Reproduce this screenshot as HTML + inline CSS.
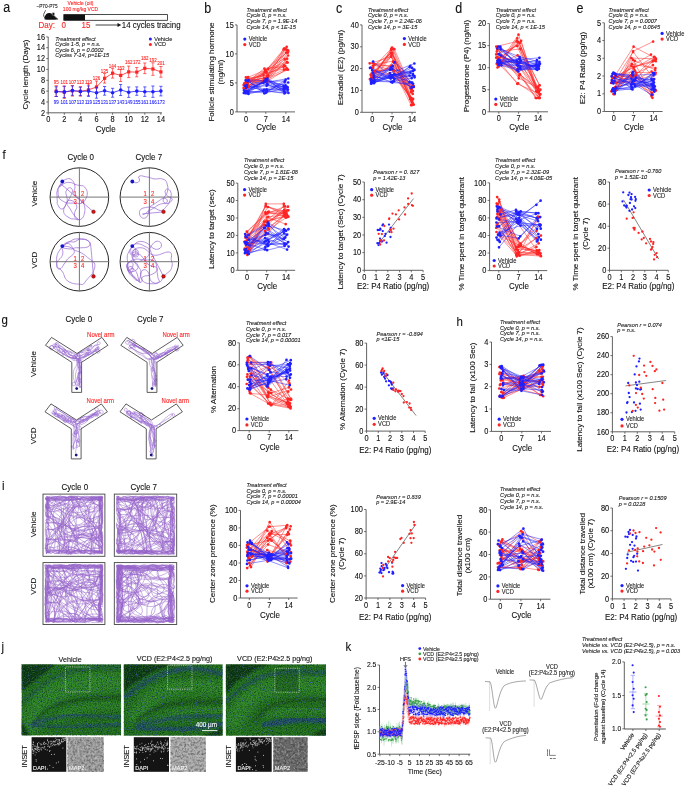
<!DOCTYPE html>
<html><head><meta charset="utf-8"><style>
html,body{margin:0;padding:0;background:#fff;width:685px;height:787px;overflow:hidden;}
svg{display:block;font-family:"Liberation Sans", sans-serif;will-change:transform;}
</style></head><body><svg width="685" height="787" viewBox="0 0 685 787" font-family='"Liberation Sans", sans-serif'><defs><filter id="blur1" x="-10%" y="-10%" width="120%" height="120%"><feGaussianBlur stdDeviation="1.2"/></filter><filter id="blur2" x="-20%" y="-20%" width="140%" height="140%"><feGaussianBlur stdDeviation="3"/></filter><clipPath id="bc1"><rect x="21.5" y="664.3" width="99.6" height="71.1"/></clipPath><filter color-interpolation-filters="sRGB" id="nz1" x="0" y="0" width="100%" height="100%"><feTurbulence type="fractalNoise" baseFrequency="0.8" numOctaves="2" seed="4" result="t"/><feColorMatrix in="t" values="0 0 0 0 0.03  0 0 0 0 0.16  0 0 0 0 0.04  1.6 0 0 0 -0.62" result="a"/><feColorMatrix in="t" values="0 0 0 0 0.25  0 0 0 0 0.62  0 0 0 0 0.2  0 1.5 0 0 -0.72" result="b"/><feMerge><feMergeNode in="a"/><feMergeNode in="b"/></feMerge></filter><filter color-interpolation-filters="sRGB" id="bz1" x="0" y="0" width="100%" height="100%"><feTurbulence type="fractalNoise" baseFrequency="0.85" numOctaves="1" seed="12"/><feColorMatrix values="0 0 0 0 0.2  0 0 0 0 0.32  0 0 0 0 0.66  0 0 4.6 0 -2.75"/></filter><clipPath id="bc2"><rect x="123.7" y="664.3" width="99" height="71.5"/></clipPath><filter color-interpolation-filters="sRGB" id="nz2" x="0" y="0" width="100%" height="100%"><feTurbulence type="fractalNoise" baseFrequency="0.8" numOctaves="2" seed="5" result="t"/><feColorMatrix in="t" values="0 0 0 0 0.03  0 0 0 0 0.16  0 0 0 0 0.04  1.6 0 0 0 -0.62" result="a"/><feColorMatrix in="t" values="0 0 0 0 0.25  0 0 0 0 0.62  0 0 0 0 0.2  0 1.5 0 0 -0.72" result="b"/><feMerge><feMergeNode in="a"/><feMergeNode in="b"/></feMerge></filter><filter color-interpolation-filters="sRGB" id="bz2" x="0" y="0" width="100%" height="100%"><feTurbulence type="fractalNoise" baseFrequency="0.85" numOctaves="1" seed="13"/><feColorMatrix values="0 0 0 0 0.2  0 0 0 0 0.32  0 0 0 0 0.66  0 0 4.6 0 -2.75"/></filter><clipPath id="bc3"><rect x="225.8" y="664.3" width="100.2" height="71.5"/></clipPath><filter color-interpolation-filters="sRGB" id="nz3" x="0" y="0" width="100%" height="100%"><feTurbulence type="fractalNoise" baseFrequency="0.8" numOctaves="2" seed="6" result="t"/><feColorMatrix in="t" values="0 0 0 0 0.03  0 0 0 0 0.16  0 0 0 0 0.04  1.6 0 0 0 -0.62" result="a"/><feColorMatrix in="t" values="0 0 0 0 0.25  0 0 0 0 0.62  0 0 0 0 0.2  0 1.5 0 0 -0.72" result="b"/><feMerge><feMergeNode in="a"/><feMergeNode in="b"/></feMerge></filter><filter color-interpolation-filters="sRGB" id="bz3" x="0" y="0" width="100%" height="100%"><feTurbulence type="fractalNoise" baseFrequency="0.85" numOctaves="1" seed="14"/><feColorMatrix values="0 0 0 0 0.2  0 0 0 0 0.32  0 0 0 0 0.66  0 0 4.6 0 -2.75"/></filter><filter color-interpolation-filters="sRGB" id="mz1" x="0" y="0" width="100%" height="100%"><feTurbulence type="fractalNoise" baseFrequency="0.45" numOctaves="3" seed="41" result="t"/><feColorMatrix in="t" values="0 0 0 0 0.1  0 0 0 0 0.1  0 0 0 0 0.1  1.0 0 0 0 -0.38" result="a"/><feColorMatrix in="t" values="0 0 0 0 0.9  0 0 0 0 0.9  0 0 0 0 0.9  0 1.0 0 0 -0.45" result="b"/><feMerge><feMergeNode in="a"/><feMergeNode in="b"/></feMerge></filter><filter color-interpolation-filters="sRGB" id="mz2" x="0" y="0" width="100%" height="100%"><feTurbulence type="fractalNoise" baseFrequency="0.45" numOctaves="3" seed="42" result="t"/><feColorMatrix in="t" values="0 0 0 0 0.1  0 0 0 0 0.1  0 0 0 0 0.1  1.0 0 0 0 -0.38" result="a"/><feColorMatrix in="t" values="0 0 0 0 0.9  0 0 0 0 0.9  0 0 0 0 0.9  0 1.0 0 0 -0.45" result="b"/><feMerge><feMergeNode in="a"/><feMergeNode in="b"/></feMerge></filter><filter color-interpolation-filters="sRGB" id="mz3" x="0" y="0" width="100%" height="100%"><feTurbulence type="fractalNoise" baseFrequency="0.45" numOctaves="3" seed="43" result="t"/><feColorMatrix in="t" values="0 0 0 0 0.1  0 0 0 0 0.1  0 0 0 0 0.1  1.0 0 0 0 -0.38" result="a"/><feColorMatrix in="t" values="0 0 0 0 0.9  0 0 0 0 0.9  0 0 0 0 0.9  0 1.0 0 0 -0.45" result="b"/><feMerge><feMergeNode in="a"/><feMergeNode in="b"/></feMerge></filter></defs><text font-size="12.5" text-anchor="start" fill="#111" stroke="#111" stroke-width="0.1" transform="translate(3.2 11.8) scale(1 1.1)">a</text>
<path d="M44.6 19.6 C44.2 16.5 46 13.2 49 13.1 C51.5 13.0 53.5 14.5 55 16.2 L58.3 19.3 C57 19.9 46 20.0 44.6 19.6 Z" stroke="none" stroke-width="0" fill="#111"/>
<path d="M45.6 10.3 C45.0 12.0 43.0 14.0 43.8 16.2 C44.2 17.3 44.8 18.0 45.5 18.3" stroke="#111" stroke-width="0.7" fill="none"/>
<circle cx="53.4" cy="14" r="1.4" fill="#111" stroke="#fff" stroke-width="0.4"/>
<path d="M54.3 16.4 L56.6 18.2" stroke="#fff" stroke-width="0.3" fill="none"/>
<text font-size="4.7" text-anchor="middle" fill="#222" stroke="#222" stroke-width="0.1" transform="translate(47 7.7) scale(1 1.1)">~P70-P75</text>
<text font-size="5" text-anchor="middle" fill="#ff2424" stroke="#ff2424" stroke-width="0.1" transform="translate(80.5 4.6) scale(1 1.1)">Vehicle (oil)</text>
<text font-size="5" text-anchor="middle" fill="#ff2424" stroke="#ff2424" stroke-width="0.1" transform="translate(80.5 10.6) scale(1 1.1)">100 mg/kg VCD</text>
<rect x="63.8" y="14.6" width="103.6" height="5.7" fill="#fff" stroke="#222" stroke-width="0.8"/>
<rect x="63.8" y="14.6" width="21.2" height="5.7" fill="#111" stroke="none" stroke-width="0.8"/>
<text font-size="8" text-anchor="start" fill="#ff2424" stroke="#ff2424" stroke-width="0.1" transform="translate(38.5 28) scale(1 1.1)">Day:</text>
<text font-size="8" text-anchor="middle" fill="#ff2424" stroke="#ff2424" stroke-width="0.1" transform="translate(63.6 28) scale(1 1.1)">0</text>
<text font-size="8" text-anchor="middle" fill="#ff2424" stroke="#ff2424" stroke-width="0.1" transform="translate(86 28) scale(1 1.1)">15</text>
<line x1="95.6" y1="25" x2="118" y2="25" stroke="#111" stroke-width="0.8"/>
<path d="M117.5 22.9 L121.3 25 L117.5 27.1 Z" stroke="none" stroke-width="0" fill="#111"/>
<text font-size="7.9" text-anchor="start" fill="#111" stroke="#111" stroke-width="0.1" transform="translate(121.8 27.9) scale(1 1.1)">14 cycles tracing</text>
<line x1="48.2" y1="36.9" x2="48.2" y2="112.8" stroke="#3a3a3a" stroke-width="0.8"/>
<line x1="46.2" y1="112.8" x2="48.2" y2="112.8" stroke="#3a3a3a" stroke-width="0.7"/>
<text font-size="7.4" text-anchor="end" fill="#111" stroke="#111" stroke-width="0.1" transform="translate(45 115.5) scale(1 1.1)">2</text>
<line x1="46.2" y1="102" x2="48.2" y2="102" stroke="#3a3a3a" stroke-width="0.7"/>
<text font-size="7.4" text-anchor="end" fill="#111" stroke="#111" stroke-width="0.1" transform="translate(45 104.6) scale(1 1.1)">4</text>
<line x1="46.2" y1="91.1" x2="48.2" y2="91.1" stroke="#3a3a3a" stroke-width="0.7"/>
<text font-size="7.4" text-anchor="end" fill="#111" stroke="#111" stroke-width="0.1" transform="translate(45 93.8) scale(1 1.1)">6</text>
<line x1="46.2" y1="80.3" x2="48.2" y2="80.3" stroke="#3a3a3a" stroke-width="0.7"/>
<text font-size="7.4" text-anchor="end" fill="#111" stroke="#111" stroke-width="0.1" transform="translate(45 82.9) scale(1 1.1)">8</text>
<line x1="46.2" y1="69.4" x2="48.2" y2="69.4" stroke="#3a3a3a" stroke-width="0.7"/>
<text font-size="7.4" text-anchor="end" fill="#111" stroke="#111" stroke-width="0.1" transform="translate(45 72.1) scale(1 1.1)">10</text>
<line x1="46.2" y1="58.6" x2="48.2" y2="58.6" stroke="#3a3a3a" stroke-width="0.7"/>
<text font-size="7.4" text-anchor="end" fill="#111" stroke="#111" stroke-width="0.1" transform="translate(45 61.2) scale(1 1.1)">12</text>
<line x1="46.2" y1="47.7" x2="48.2" y2="47.7" stroke="#3a3a3a" stroke-width="0.7"/>
<text font-size="7.4" text-anchor="end" fill="#111" stroke="#111" stroke-width="0.1" transform="translate(45 50.4) scale(1 1.1)">14</text>
<line x1="46.2" y1="36.9" x2="48.2" y2="36.9" stroke="#3a3a3a" stroke-width="0.7"/>
<text font-size="7.4" text-anchor="end" fill="#111" stroke="#111" stroke-width="0.1" transform="translate(45 39.6) scale(1 1.1)">16</text>
<line x1="48.2" y1="112.8" x2="161.9" y2="112.8" stroke="#3a3a3a" stroke-width="0.8"/>
<line x1="48.2" y1="112.8" x2="48.2" y2="114.8" stroke="#3a3a3a" stroke-width="0.7"/>
<text font-size="7.4" text-anchor="middle" fill="#111" stroke="#111" stroke-width="0.1" transform="translate(48.2 122.4) scale(1 1.1)">0</text>
<line x1="64.3" y1="112.8" x2="64.3" y2="114.8" stroke="#3a3a3a" stroke-width="0.7"/>
<text font-size="7.4" text-anchor="middle" fill="#111" stroke="#111" stroke-width="0.1" transform="translate(64.3 122.4) scale(1 1.1)">2</text>
<line x1="80.4" y1="112.8" x2="80.4" y2="114.8" stroke="#3a3a3a" stroke-width="0.7"/>
<text font-size="7.4" text-anchor="middle" fill="#111" stroke="#111" stroke-width="0.1" transform="translate(80.4 122.4) scale(1 1.1)">4</text>
<line x1="96.5" y1="112.8" x2="96.5" y2="114.8" stroke="#3a3a3a" stroke-width="0.7"/>
<text font-size="7.4" text-anchor="middle" fill="#111" stroke="#111" stroke-width="0.1" transform="translate(96.5 122.4) scale(1 1.1)">6</text>
<line x1="112.6" y1="112.8" x2="112.6" y2="114.8" stroke="#3a3a3a" stroke-width="0.7"/>
<text font-size="7.4" text-anchor="middle" fill="#111" stroke="#111" stroke-width="0.1" transform="translate(112.6 122.4) scale(1 1.1)">8</text>
<line x1="128.7" y1="112.8" x2="128.7" y2="114.8" stroke="#3a3a3a" stroke-width="0.7"/>
<text font-size="7.4" text-anchor="middle" fill="#111" stroke="#111" stroke-width="0.1" transform="translate(128.7 122.4) scale(1 1.1)">10</text>
<line x1="144.8" y1="112.8" x2="144.8" y2="114.8" stroke="#3a3a3a" stroke-width="0.7"/>
<text font-size="7.4" text-anchor="middle" fill="#111" stroke="#111" stroke-width="0.1" transform="translate(144.8 122.4) scale(1 1.1)">12</text>
<line x1="160.9" y1="112.8" x2="160.9" y2="114.8" stroke="#3a3a3a" stroke-width="0.7"/>
<text font-size="7.4" text-anchor="middle" fill="#111" stroke="#111" stroke-width="0.1" transform="translate(160.9 122.4) scale(1 1.1)">14</text>
<text font-size="8" text-anchor="middle" fill="#111" stroke="#111" stroke-width="0.1" transform="translate(105.6 132) scale(1 1.1)">Cycle</text>
<text x="27.7" y="74.5" font-size="8" text-anchor="middle" fill="#111" stroke="#111" stroke-width="0.1" transform="rotate(-90 27.7 74.5)">Cycle length (Days)</text>
<text font-size="5.6" text-anchor="start" fill="#1a1a1a" stroke="#1a1a1a" stroke-width="0.1" font-style="italic" transform="translate(55.3 40.5) scale(1 1.1)">Treatment effect</text>
<text font-size="5.6" text-anchor="start" fill="#1a1a1a" stroke="#1a1a1a" stroke-width="0.1" font-style="italic" transform="translate(55.3 46.1) scale(1 1.1)">Cycle 1-5, p = n.s.</text>
<text font-size="5.6" text-anchor="start" fill="#1a1a1a" stroke="#1a1a1a" stroke-width="0.1" font-style="italic" transform="translate(55.3 51.6) scale(1 1.1)">Cycle 6, p = 0.0002</text>
<text font-size="5.6" text-anchor="start" fill="#1a1a1a" stroke="#1a1a1a" stroke-width="0.1" font-style="italic" transform="translate(55.3 57.2) scale(1 1.1)">Cycles 7-14, p=1E-15</text>
<circle cx="150.4" cy="39" r="1.5" fill="#1f1fff"/>
<text font-size="5.6" text-anchor="start" fill="#222" stroke="#222" stroke-width="0.1" transform="translate(154.3 41) scale(1 1.1)">Vehicle</text>
<circle cx="150.4" cy="44.4" r="1.5" fill="#ff2424"/>
<text font-size="5.6" text-anchor="start" fill="#222" stroke="#222" stroke-width="0.1" transform="translate(154.3 46.4) scale(1 1.1)">VCD</text>
<path d="M56.2 91.1L64.3 92.2L72.4 90.8L80.4 91.4L88.5 89.8L96.5 87L104.6 78.3L112.6 73.2L120.7 75.4L128.7 71.9L136.8 72.1L144.8 68.3L152.9 69L160.9 71.9" stroke="#ff2424" stroke-width="0.8" fill="none"/>
<line x1="56.2" y1="96.5" x2="56.2" y2="85.7" stroke="#ff2424" stroke-width="0.7"/>
<line x1="54.6" y1="96.5" x2="57.9" y2="96.5" stroke="#ff2424" stroke-width="0.7"/>
<line x1="54.6" y1="85.7" x2="57.9" y2="85.7" stroke="#ff2424" stroke-width="0.7"/>
<rect x="54.6" y="89.5" width="3.2" height="3.2" fill="#ff2424" stroke="none" stroke-width="0.8"/>
<line x1="64.3" y1="98.4" x2="64.3" y2="86" stroke="#ff2424" stroke-width="0.7"/>
<line x1="62.7" y1="98.4" x2="65.9" y2="98.4" stroke="#ff2424" stroke-width="0.7"/>
<line x1="62.7" y1="86" x2="65.9" y2="86" stroke="#ff2424" stroke-width="0.7"/>
<rect x="62.7" y="90.6" width="3.2" height="3.2" fill="#ff2424" stroke="none" stroke-width="0.8"/>
<line x1="72.4" y1="96.1" x2="72.4" y2="85.6" stroke="#ff2424" stroke-width="0.7"/>
<line x1="70.8" y1="96.1" x2="74" y2="96.1" stroke="#ff2424" stroke-width="0.7"/>
<line x1="70.8" y1="85.6" x2="74" y2="85.6" stroke="#ff2424" stroke-width="0.7"/>
<rect x="70.8" y="89.2" width="3.2" height="3.2" fill="#ff2424" stroke="none" stroke-width="0.8"/>
<line x1="80.4" y1="96.1" x2="80.4" y2="86.7" stroke="#ff2424" stroke-width="0.7"/>
<line x1="78.8" y1="96.1" x2="82" y2="96.1" stroke="#ff2424" stroke-width="0.7"/>
<line x1="78.8" y1="86.7" x2="82" y2="86.7" stroke="#ff2424" stroke-width="0.7"/>
<rect x="78.8" y="89.8" width="3.2" height="3.2" fill="#ff2424" stroke="none" stroke-width="0.8"/>
<line x1="88.5" y1="95.6" x2="88.5" y2="83.9" stroke="#ff2424" stroke-width="0.7"/>
<line x1="86.9" y1="95.6" x2="90" y2="95.6" stroke="#ff2424" stroke-width="0.7"/>
<line x1="86.9" y1="83.9" x2="90" y2="83.9" stroke="#ff2424" stroke-width="0.7"/>
<rect x="86.9" y="88.2" width="3.2" height="3.2" fill="#ff2424" stroke="none" stroke-width="0.8"/>
<line x1="96.5" y1="93.1" x2="96.5" y2="81" stroke="#ff2424" stroke-width="0.7"/>
<line x1="94.9" y1="93.1" x2="98.1" y2="93.1" stroke="#ff2424" stroke-width="0.7"/>
<line x1="94.9" y1="81" x2="98.1" y2="81" stroke="#ff2424" stroke-width="0.7"/>
<rect x="94.9" y="85.4" width="3.2" height="3.2" fill="#ff2424" stroke="none" stroke-width="0.8"/>
<line x1="104.6" y1="83.1" x2="104.6" y2="73.4" stroke="#ff2424" stroke-width="0.7"/>
<line x1="103" y1="83.1" x2="106.2" y2="83.1" stroke="#ff2424" stroke-width="0.7"/>
<line x1="103" y1="73.4" x2="106.2" y2="73.4" stroke="#ff2424" stroke-width="0.7"/>
<rect x="103" y="76.7" width="3.2" height="3.2" fill="#ff2424" stroke="none" stroke-width="0.8"/>
<line x1="112.6" y1="78.1" x2="112.6" y2="68.3" stroke="#ff2424" stroke-width="0.7"/>
<line x1="111" y1="78.1" x2="114.2" y2="78.1" stroke="#ff2424" stroke-width="0.7"/>
<line x1="111" y1="68.3" x2="114.2" y2="68.3" stroke="#ff2424" stroke-width="0.7"/>
<rect x="111" y="71.6" width="3.2" height="3.2" fill="#ff2424" stroke="none" stroke-width="0.8"/>
<line x1="120.7" y1="81.5" x2="120.7" y2="69.3" stroke="#ff2424" stroke-width="0.7"/>
<line x1="119.1" y1="81.5" x2="122.2" y2="81.5" stroke="#ff2424" stroke-width="0.7"/>
<line x1="119.1" y1="69.3" x2="122.2" y2="69.3" stroke="#ff2424" stroke-width="0.7"/>
<rect x="119.1" y="73.8" width="3.2" height="3.2" fill="#ff2424" stroke="none" stroke-width="0.8"/>
<line x1="128.7" y1="77.6" x2="128.7" y2="66.1" stroke="#ff2424" stroke-width="0.7"/>
<line x1="127.1" y1="77.6" x2="130.3" y2="77.6" stroke="#ff2424" stroke-width="0.7"/>
<line x1="127.1" y1="66.1" x2="130.3" y2="66.1" stroke="#ff2424" stroke-width="0.7"/>
<rect x="127.1" y="70.3" width="3.2" height="3.2" fill="#ff2424" stroke="none" stroke-width="0.8"/>
<line x1="136.8" y1="76.8" x2="136.8" y2="67.5" stroke="#ff2424" stroke-width="0.7"/>
<line x1="135.2" y1="76.8" x2="138.3" y2="76.8" stroke="#ff2424" stroke-width="0.7"/>
<line x1="135.2" y1="67.5" x2="138.3" y2="67.5" stroke="#ff2424" stroke-width="0.7"/>
<rect x="135.2" y="70.5" width="3.2" height="3.2" fill="#ff2424" stroke="none" stroke-width="0.8"/>
<line x1="144.8" y1="73.6" x2="144.8" y2="63" stroke="#ff2424" stroke-width="0.7"/>
<line x1="143.2" y1="73.6" x2="146.4" y2="73.6" stroke="#ff2424" stroke-width="0.7"/>
<line x1="143.2" y1="63" x2="146.4" y2="63" stroke="#ff2424" stroke-width="0.7"/>
<rect x="143.2" y="66.7" width="3.2" height="3.2" fill="#ff2424" stroke="none" stroke-width="0.8"/>
<line x1="152.9" y1="75.3" x2="152.9" y2="62.8" stroke="#ff2424" stroke-width="0.7"/>
<line x1="151.3" y1="75.3" x2="154.5" y2="75.3" stroke="#ff2424" stroke-width="0.7"/>
<line x1="151.3" y1="62.8" x2="154.5" y2="62.8" stroke="#ff2424" stroke-width="0.7"/>
<rect x="151.3" y="67.4" width="3.2" height="3.2" fill="#ff2424" stroke="none" stroke-width="0.8"/>
<line x1="160.9" y1="77.2" x2="160.9" y2="66.5" stroke="#ff2424" stroke-width="0.7"/>
<line x1="159.3" y1="77.2" x2="162.5" y2="77.2" stroke="#ff2424" stroke-width="0.7"/>
<line x1="159.3" y1="66.5" x2="162.5" y2="66.5" stroke="#ff2424" stroke-width="0.7"/>
<rect x="159.3" y="70.3" width="3.2" height="3.2" fill="#ff2424" stroke="none" stroke-width="0.8"/>
<path d="M56.2 91.7L64.3 91.9L72.4 90.6L80.4 91.4L88.5 91.1L96.5 92.7L104.6 90.8L112.6 92.7L120.7 90L128.7 92.2L136.8 91.1L144.8 91.7L152.9 91.7L160.9 91.1" stroke="#1f1fff" stroke-width="0.8" fill="none"/>
<line x1="56.2" y1="96.5" x2="56.2" y2="86.8" stroke="#1f1fff" stroke-width="0.7"/>
<line x1="54.6" y1="96.5" x2="57.9" y2="96.5" stroke="#1f1fff" stroke-width="0.7"/>
<line x1="54.6" y1="86.8" x2="57.9" y2="86.8" stroke="#1f1fff" stroke-width="0.7"/>
<circle cx="56.2" cy="91.7" r="1.8" fill="#1f1fff"/>
<line x1="64.3" y1="97.5" x2="64.3" y2="86.3" stroke="#1f1fff" stroke-width="0.7"/>
<line x1="62.7" y1="97.5" x2="65.9" y2="97.5" stroke="#1f1fff" stroke-width="0.7"/>
<line x1="62.7" y1="86.3" x2="65.9" y2="86.3" stroke="#1f1fff" stroke-width="0.7"/>
<circle cx="64.3" cy="91.9" r="1.8" fill="#1f1fff"/>
<line x1="72.4" y1="95.3" x2="72.4" y2="85.9" stroke="#1f1fff" stroke-width="0.7"/>
<line x1="70.8" y1="95.3" x2="74" y2="95.3" stroke="#1f1fff" stroke-width="0.7"/>
<line x1="70.8" y1="85.9" x2="74" y2="85.9" stroke="#1f1fff" stroke-width="0.7"/>
<circle cx="72.4" cy="90.6" r="1.8" fill="#1f1fff"/>
<line x1="80.4" y1="95.6" x2="80.4" y2="87.2" stroke="#1f1fff" stroke-width="0.7"/>
<line x1="78.8" y1="95.6" x2="82" y2="95.6" stroke="#1f1fff" stroke-width="0.7"/>
<line x1="78.8" y1="87.2" x2="82" y2="87.2" stroke="#1f1fff" stroke-width="0.7"/>
<circle cx="80.4" cy="91.4" r="1.8" fill="#1f1fff"/>
<line x1="88.5" y1="96.4" x2="88.5" y2="85.9" stroke="#1f1fff" stroke-width="0.7"/>
<line x1="86.9" y1="96.4" x2="90" y2="96.4" stroke="#1f1fff" stroke-width="0.7"/>
<line x1="86.9" y1="85.9" x2="90" y2="85.9" stroke="#1f1fff" stroke-width="0.7"/>
<circle cx="88.5" cy="91.1" r="1.8" fill="#1f1fff"/>
<line x1="96.5" y1="98.2" x2="96.5" y2="87.3" stroke="#1f1fff" stroke-width="0.7"/>
<line x1="94.9" y1="98.2" x2="98.1" y2="98.2" stroke="#1f1fff" stroke-width="0.7"/>
<line x1="94.9" y1="87.3" x2="98.1" y2="87.3" stroke="#1f1fff" stroke-width="0.7"/>
<circle cx="96.5" cy="92.7" r="1.8" fill="#1f1fff"/>
<line x1="104.6" y1="95.2" x2="104.6" y2="86.5" stroke="#1f1fff" stroke-width="0.7"/>
<line x1="103" y1="95.2" x2="106.2" y2="95.2" stroke="#1f1fff" stroke-width="0.7"/>
<line x1="103" y1="86.5" x2="106.2" y2="86.5" stroke="#1f1fff" stroke-width="0.7"/>
<circle cx="104.6" cy="90.8" r="1.8" fill="#1f1fff"/>
<line x1="112.6" y1="97.2" x2="112.6" y2="88.3" stroke="#1f1fff" stroke-width="0.7"/>
<line x1="111" y1="97.2" x2="114.2" y2="97.2" stroke="#1f1fff" stroke-width="0.7"/>
<line x1="111" y1="88.3" x2="114.2" y2="88.3" stroke="#1f1fff" stroke-width="0.7"/>
<circle cx="112.6" cy="92.7" r="1.8" fill="#1f1fff"/>
<line x1="120.7" y1="95.5" x2="120.7" y2="84.5" stroke="#1f1fff" stroke-width="0.7"/>
<line x1="119.1" y1="95.5" x2="122.2" y2="95.5" stroke="#1f1fff" stroke-width="0.7"/>
<line x1="119.1" y1="84.5" x2="122.2" y2="84.5" stroke="#1f1fff" stroke-width="0.7"/>
<circle cx="120.7" cy="90" r="1.8" fill="#1f1fff"/>
<line x1="128.7" y1="97.4" x2="128.7" y2="87" stroke="#1f1fff" stroke-width="0.7"/>
<line x1="127.1" y1="97.4" x2="130.3" y2="97.4" stroke="#1f1fff" stroke-width="0.7"/>
<line x1="127.1" y1="87" x2="130.3" y2="87" stroke="#1f1fff" stroke-width="0.7"/>
<circle cx="128.7" cy="92.2" r="1.8" fill="#1f1fff"/>
<line x1="136.8" y1="95.3" x2="136.8" y2="86.9" stroke="#1f1fff" stroke-width="0.7"/>
<line x1="135.2" y1="95.3" x2="138.3" y2="95.3" stroke="#1f1fff" stroke-width="0.7"/>
<line x1="135.2" y1="86.9" x2="138.3" y2="86.9" stroke="#1f1fff" stroke-width="0.7"/>
<circle cx="136.8" cy="91.1" r="1.8" fill="#1f1fff"/>
<line x1="144.8" y1="96.4" x2="144.8" y2="86.9" stroke="#1f1fff" stroke-width="0.7"/>
<line x1="143.2" y1="96.4" x2="146.4" y2="96.4" stroke="#1f1fff" stroke-width="0.7"/>
<line x1="143.2" y1="86.9" x2="146.4" y2="86.9" stroke="#1f1fff" stroke-width="0.7"/>
<circle cx="144.8" cy="91.7" r="1.8" fill="#1f1fff"/>
<line x1="152.9" y1="97.3" x2="152.9" y2="86" stroke="#1f1fff" stroke-width="0.7"/>
<line x1="151.3" y1="97.3" x2="154.5" y2="97.3" stroke="#1f1fff" stroke-width="0.7"/>
<line x1="151.3" y1="86" x2="154.5" y2="86" stroke="#1f1fff" stroke-width="0.7"/>
<circle cx="152.9" cy="91.7" r="1.8" fill="#1f1fff"/>
<line x1="160.9" y1="95.9" x2="160.9" y2="86.3" stroke="#1f1fff" stroke-width="0.7"/>
<line x1="159.3" y1="95.9" x2="162.5" y2="95.9" stroke="#1f1fff" stroke-width="0.7"/>
<line x1="159.3" y1="86.3" x2="162.5" y2="86.3" stroke="#1f1fff" stroke-width="0.7"/>
<circle cx="160.9" cy="91.1" r="1.8" fill="#1f1fff"/>
<text font-size="5" text-anchor="middle" fill="#ff2424" stroke="#ff2424" stroke-width="0.1" transform="translate(56.2 84) scale(0.9 1.1)">95</text>
<text font-size="5" text-anchor="middle" fill="#ff2424" stroke="#ff2424" stroke-width="0.1" transform="translate(64.3 84) scale(0.9 1.1)">101</text>
<text font-size="5" text-anchor="middle" fill="#ff2424" stroke="#ff2424" stroke-width="0.1" transform="translate(72.4 84) scale(0.9 1.1)">107</text>
<text font-size="5" text-anchor="middle" fill="#ff2424" stroke="#ff2424" stroke-width="0.1" transform="translate(80.4 84) scale(0.9 1.1)">113</text>
<text font-size="5" text-anchor="middle" fill="#ff2424" stroke="#ff2424" stroke-width="0.1" transform="translate(88.5 84) scale(0.9 1.1)">119</text>
<text font-size="5" text-anchor="middle" fill="#ff2424" stroke="#ff2424" stroke-width="0.1" transform="translate(96.5 79.6) scale(0.9 1.1)">126</text>
<text font-size="5" text-anchor="middle" fill="#ff2424" stroke="#ff2424" stroke-width="0.1" transform="translate(104.6 72.6) scale(0.9 1.1)">135</text>
<text font-size="5" text-anchor="middle" fill="#ff2424" stroke="#ff2424" stroke-width="0.1" transform="translate(112.6 67.7) scale(0.9 1.1)">144</text>
<text font-size="5" text-anchor="middle" fill="#ff2424" stroke="#ff2424" stroke-width="0.1" transform="translate(120.7 70) scale(0.9 1.1)">153</text>
<text font-size="5" text-anchor="middle" fill="#ff2424" stroke="#ff2424" stroke-width="0.1" transform="translate(128.7 64.2) scale(0.9 1.1)">162</text>
<text font-size="5" text-anchor="middle" fill="#ff2424" stroke="#ff2424" stroke-width="0.1" transform="translate(136.8 64.2) scale(0.9 1.1)">172</text>
<text font-size="5" text-anchor="middle" fill="#ff2424" stroke="#ff2424" stroke-width="0.1" transform="translate(144.8 60.3) scale(0.9 1.1)">182</text>
<text font-size="5" text-anchor="middle" fill="#ff2424" stroke="#ff2424" stroke-width="0.1" transform="translate(152.9 62.4) scale(0.9 1.1)">192</text>
<text font-size="5" text-anchor="middle" fill="#ff2424" stroke="#ff2424" stroke-width="0.1" transform="translate(160.9 64.7) scale(0.9 1.1)">201</text>
<text font-size="5" text-anchor="middle" fill="#1f1fff" stroke="#1f1fff" stroke-width="0.1" transform="translate(56.2 103.6) scale(0.9 1.1)">99</text>
<text font-size="5" text-anchor="middle" fill="#1f1fff" stroke="#1f1fff" stroke-width="0.1" transform="translate(64.3 103.6) scale(0.9 1.1)">101</text>
<text font-size="5" text-anchor="middle" fill="#1f1fff" stroke="#1f1fff" stroke-width="0.1" transform="translate(72.4 103.6) scale(0.9 1.1)">107</text>
<text font-size="5" text-anchor="middle" fill="#1f1fff" stroke="#1f1fff" stroke-width="0.1" transform="translate(80.4 103.6) scale(0.9 1.1)">113</text>
<text font-size="5" text-anchor="middle" fill="#1f1fff" stroke="#1f1fff" stroke-width="0.1" transform="translate(88.5 103.6) scale(0.9 1.1)">119</text>
<text font-size="5" text-anchor="middle" fill="#1f1fff" stroke="#1f1fff" stroke-width="0.1" transform="translate(96.5 104.4) scale(0.9 1.1)">125</text>
<text font-size="5" text-anchor="middle" fill="#1f1fff" stroke="#1f1fff" stroke-width="0.1" transform="translate(104.6 104.4) scale(0.9 1.1)">131</text>
<text font-size="5" text-anchor="middle" fill="#1f1fff" stroke="#1f1fff" stroke-width="0.1" transform="translate(112.6 104.4) scale(0.9 1.1)">137</text>
<text font-size="5" text-anchor="middle" fill="#1f1fff" stroke="#1f1fff" stroke-width="0.1" transform="translate(120.7 104.4) scale(0.9 1.1)">143</text>
<text font-size="5" text-anchor="middle" fill="#1f1fff" stroke="#1f1fff" stroke-width="0.1" transform="translate(128.7 104.4) scale(0.9 1.1)">149</text>
<text font-size="5" text-anchor="middle" fill="#1f1fff" stroke="#1f1fff" stroke-width="0.1" transform="translate(136.8 104.4) scale(0.9 1.1)">155</text>
<text font-size="5" text-anchor="middle" fill="#1f1fff" stroke="#1f1fff" stroke-width="0.1" transform="translate(144.8 104.4) scale(0.9 1.1)">161</text>
<text font-size="5" text-anchor="middle" fill="#1f1fff" stroke="#1f1fff" stroke-width="0.1" transform="translate(152.9 104.4) scale(0.9 1.1)">166</text>
<text font-size="5" text-anchor="middle" fill="#1f1fff" stroke="#1f1fff" stroke-width="0.1" transform="translate(160.9 104.4) scale(0.9 1.1)">173</text>
<text font-size="12.5" text-anchor="start" fill="#111" stroke="#111" stroke-width="0.1" transform="translate(204.2 12.9) scale(1 1.1)">b</text>
<line x1="237" y1="24.9" x2="237" y2="111.9" stroke="#3a3a3a" stroke-width="0.8"/>
<line x1="235" y1="111.9" x2="237" y2="111.9" stroke="#3a3a3a" stroke-width="0.7"/>
<text font-size="7.4" text-anchor="end" fill="#111" stroke="#111" stroke-width="0.1" transform="translate(233.8 114.6) scale(1 1.1)">0</text>
<line x1="235" y1="82.9" x2="237" y2="82.9" stroke="#3a3a3a" stroke-width="0.7"/>
<text font-size="7.4" text-anchor="end" fill="#111" stroke="#111" stroke-width="0.1" transform="translate(233.8 85.6) scale(1 1.1)">5</text>
<line x1="235" y1="53.9" x2="237" y2="53.9" stroke="#3a3a3a" stroke-width="0.7"/>
<text font-size="7.4" text-anchor="end" fill="#111" stroke="#111" stroke-width="0.1" transform="translate(233.8 56.6) scale(1 1.1)">10</text>
<line x1="235" y1="24.9" x2="237" y2="24.9" stroke="#3a3a3a" stroke-width="0.7"/>
<text font-size="7.4" text-anchor="end" fill="#111" stroke="#111" stroke-width="0.1" transform="translate(233.8 27.6) scale(1 1.1)">15</text>
<line x1="237" y1="111.9" x2="295" y2="111.9" stroke="#3a3a3a" stroke-width="0.8"/>
<line x1="246.1" y1="111.9" x2="246.1" y2="113.9" stroke="#3a3a3a" stroke-width="0.7"/>
<text font-size="7.4" text-anchor="middle" fill="#111" stroke="#111" stroke-width="0.1" transform="translate(246.1 121.5) scale(1 1.1)">0</text>
<line x1="265.8" y1="111.9" x2="265.8" y2="113.9" stroke="#3a3a3a" stroke-width="0.7"/>
<text font-size="7.4" text-anchor="middle" fill="#111" stroke="#111" stroke-width="0.1" transform="translate(265.8 121.5) scale(1 1.1)">7</text>
<line x1="285.9" y1="111.9" x2="285.9" y2="113.9" stroke="#3a3a3a" stroke-width="0.7"/>
<text font-size="7.4" text-anchor="middle" fill="#111" stroke="#111" stroke-width="0.1" transform="translate(285.9 121.5) scale(1 1.1)">14</text>
<text font-size="8" text-anchor="middle" fill="#111" stroke="#111" stroke-width="0.1" transform="translate(266.3 130.2) scale(1 1.1)">Cycle</text>
<text x="213.6" y="72" font-size="8" text-anchor="middle" fill="#111" stroke="#111" stroke-width="0.1" transform="rotate(-90 213.6 72)">Follicle stimulating hormone</text>
<text x="222.6" y="72" font-size="8" text-anchor="middle" fill="#111" stroke="#111" stroke-width="0.1" transform="rotate(-90 222.6 72)">(ng/ml)</text>
<text font-size="5.6" text-anchor="start" fill="#1a1a1a" stroke="#1a1a1a" stroke-width="0.1" font-style="italic" transform="translate(246.5 11.7) scale(1 1.1)">Treatment effect</text>
<text font-size="5.6" text-anchor="start" fill="#1a1a1a" stroke="#1a1a1a" stroke-width="0.1" font-style="italic" transform="translate(246.5 17.4) scale(1 1.1)">Cycle 0, p = n.s.</text>
<text font-size="5.6" text-anchor="start" fill="#1a1a1a" stroke="#1a1a1a" stroke-width="0.1" font-style="italic" transform="translate(246.5 23.1) scale(1 1.1)">Cycle 7, p = 1.9E-14</text>
<text font-size="5.6" text-anchor="start" fill="#1a1a1a" stroke="#1a1a1a" stroke-width="0.1" font-style="italic" transform="translate(246.5 28.8) scale(1 1.1)">Cycle 14, p &lt; 1E-15</text>
<circle cx="244.8" cy="39.1" r="1.6" fill="#1f1fff"/>
<text font-size="5.7" text-anchor="start" fill="#222" stroke="#222" stroke-width="0.1" transform="translate(248.7 41.2) scale(1 1.1)">Vehicle</text>
<circle cx="244.8" cy="44.6" r="1.6" fill="#ff2424"/>
<text font-size="5.7" text-anchor="start" fill="#222" stroke="#222" stroke-width="0.1" transform="translate(248.7 46.7) scale(1 1.1)">VCD</text>
<path d="M247.9 83.5L264.7 72.2L284.4 48.3M244.9 91.4L263.5 75.1L285.2 65.9M244.2 83.3L267.8 76.6L286.7 46.8M246.5 81.6L263.4 80.5L288 69.7M248.5 81.4L266.5 82.5L287.1 58.7M248.7 87L266 81.6L288 52.6M247.2 80.9L268 69.1L286.9 61.8M248 78.5L267.3 75.6L286.3 49.6M245.5 82.5L266.4 72.8L286.6 68.2M248.1 77.2L265.2 70.2L286.3 52.7M247.9 85.2L267.1 81.4L286.4 69.4M244.7 84.6L265.8 70.7L288.1 55.5M243.6 87.9L266.7 77.7L284.2 65.3M246.9 78.5L267.8 75.2L286.8 62.4M245.7 88.7L268 68.9L285.3 49.2M245.1 83.1L265.8 80.5L287.7 50.2M248.4 81.3L264.1 78.1L284.7 59.4M245.7 88.5L265.8 72L287.7 62.6M245.9 77.4L263.4 81.6L283.5 49.4M246.5 81.3L267.3 77.5L284 69.7M243.6 85L264.4 68.5L283.5 66.8M245.8 82.5L266.6 71.9L288.3 50.9" stroke="#ff2424" stroke-width="0.5" fill="none"/>
<path d="M246.4 87.9L265.6 79.4L286.4 86.3M246.2 91.8L267.3 83.8L284.9 93M247.7 93.2L263.4 82.9L288.3 78.5M246.7 85L263.3 91L283.6 85.9M244.8 91.7L265.6 92.9L287.7 87.3M246.8 87L266.6 85.8L284.7 87.1M248.7 80L266.9 80.7L284.5 89.4M243.9 90.3L265.3 81.8L285.3 80.8M247.9 80.6L264.3 93.3L285.7 79.7M245.6 80.3L266.5 92.2L284.7 81.9M245.2 93.2L267.1 78.8L284.6 92.6M243.8 93L264.1 81.3L285.6 85.4M247.3 91.7L266.5 91.4L285.5 92.6M244.9 91.4L267.4 78.7L287.9 89.6M245.6 91.4L266.5 80.5L288.4 92.9M244.8 91.4L264.9 81.7L283.7 89.7M246.5 93.2L266.3 89.7L285.7 88.5M246 80.6L267.7 84.7L284.1 91.5M247.8 81.3L264.2 89.6L288.2 82.5M248.4 91.6L266.3 80L283.8 87.7M248.5 93.9L266.9 89.7L287.6 90.3M245 85.9L266.9 90.7L284.5 93.4" stroke="#1f1fff" stroke-width="0.5" fill="none"/>
<path d="M247.9 83.5h0M264.7 72.2h0M284.4 48.3h0M244.9 91.4h0M263.5 75.1h0M285.2 65.9h0M244.2 83.3h0M267.8 76.6h0M286.7 46.8h0M246.5 81.6h0M263.4 80.5h0M288 69.7h0M248.5 81.4h0M266.5 82.5h0M287.1 58.7h0M248.7 87h0M266 81.6h0M288 52.6h0M247.2 80.9h0M268 69.1h0M286.9 61.8h0M248 78.5h0M267.3 75.6h0M286.3 49.6h0M245.5 82.5h0M266.4 72.8h0M286.6 68.2h0M248.1 77.2h0M265.2 70.2h0M286.3 52.7h0M247.9 85.2h0M267.1 81.4h0M286.4 69.4h0M244.7 84.6h0M265.8 70.7h0M288.1 55.5h0M243.6 87.9h0M266.7 77.7h0M284.2 65.3h0M246.9 78.5h0M267.8 75.2h0M286.8 62.4h0M245.7 88.7h0M268 68.9h0M285.3 49.2h0M245.1 83.1h0M265.8 80.5h0M287.7 50.2h0M248.4 81.3h0M264.1 78.1h0M284.7 59.4h0M245.7 88.5h0M265.8 72h0M287.7 62.6h0M245.9 77.4h0M263.4 81.6h0M283.5 49.4h0M246.5 81.3h0M267.3 77.5h0M284 69.7h0M243.6 85h0M264.4 68.5h0M283.5 66.8h0M245.8 82.5h0M266.6 71.9h0M288.3 50.9h0" stroke="#ff2424" stroke-width="2.7" stroke-linecap="round"/>
<path d="M246.4 87.9h0M265.6 79.4h0M286.4 86.3h0M246.2 91.8h0M267.3 83.8h0M284.9 93h0M247.7 93.2h0M263.4 82.9h0M288.3 78.5h0M246.7 85h0M263.3 91h0M283.6 85.9h0M244.8 91.7h0M265.6 92.9h0M287.7 87.3h0M246.8 87h0M266.6 85.8h0M284.7 87.1h0M248.7 80h0M266.9 80.7h0M284.5 89.4h0M243.9 90.3h0M265.3 81.8h0M285.3 80.8h0M247.9 80.6h0M264.3 93.3h0M285.7 79.7h0M245.6 80.3h0M266.5 92.2h0M284.7 81.9h0M245.2 93.2h0M267.1 78.8h0M284.6 92.6h0M243.8 93h0M264.1 81.3h0M285.6 85.4h0M247.3 91.7h0M266.5 91.4h0M285.5 92.6h0M244.9 91.4h0M267.4 78.7h0M287.9 89.6h0M245.6 91.4h0M266.5 80.5h0M288.4 92.9h0M244.8 91.4h0M264.9 81.7h0M283.7 89.7h0M246.5 93.2h0M266.3 89.7h0M285.7 88.5h0M246 80.6h0M267.7 84.7h0M284.1 91.5h0M247.8 81.3h0M264.2 89.6h0M288.2 82.5h0M248.4 91.6h0M266.3 80h0M283.8 87.7h0M248.5 93.9h0M266.9 89.7h0M287.6 90.3h0M245 85.9h0M266.9 90.7h0M284.5 93.4h0" stroke="#1f1fff" stroke-width="2.7" stroke-linecap="round"/>
<text font-size="12.5" text-anchor="start" fill="#111" stroke="#111" stroke-width="0.1" transform="translate(336 12.9) scale(1 1.1)">c</text>
<line x1="362" y1="24.9" x2="362" y2="112.3" stroke="#3a3a3a" stroke-width="0.8"/>
<line x1="360" y1="112.3" x2="362" y2="112.3" stroke="#3a3a3a" stroke-width="0.7"/>
<text font-size="7.4" text-anchor="end" fill="#111" stroke="#111" stroke-width="0.1" transform="translate(358.8 115) scale(1 1.1)">0</text>
<line x1="360" y1="90.4" x2="362" y2="90.4" stroke="#3a3a3a" stroke-width="0.7"/>
<text font-size="7.4" text-anchor="end" fill="#111" stroke="#111" stroke-width="0.1" transform="translate(358.8 93.1) scale(1 1.1)">10</text>
<line x1="360" y1="68.6" x2="362" y2="68.6" stroke="#3a3a3a" stroke-width="0.7"/>
<text font-size="7.4" text-anchor="end" fill="#111" stroke="#111" stroke-width="0.1" transform="translate(358.8 71.3) scale(1 1.1)">20</text>
<line x1="360" y1="46.8" x2="362" y2="46.8" stroke="#3a3a3a" stroke-width="0.7"/>
<text font-size="7.4" text-anchor="end" fill="#111" stroke="#111" stroke-width="0.1" transform="translate(358.8 49.4) scale(1 1.1)">30</text>
<line x1="360" y1="24.9" x2="362" y2="24.9" stroke="#3a3a3a" stroke-width="0.7"/>
<text font-size="7.4" text-anchor="end" fill="#111" stroke="#111" stroke-width="0.1" transform="translate(358.8 27.6) scale(1 1.1)">40</text>
<line x1="362" y1="112.3" x2="416" y2="112.3" stroke="#3a3a3a" stroke-width="0.8"/>
<line x1="372.3" y1="112.3" x2="372.3" y2="114.3" stroke="#3a3a3a" stroke-width="0.7"/>
<text font-size="7.4" text-anchor="middle" fill="#111" stroke="#111" stroke-width="0.1" transform="translate(372.3 121.9) scale(1 1.1)">0</text>
<line x1="392" y1="112.3" x2="392" y2="114.3" stroke="#3a3a3a" stroke-width="0.7"/>
<text font-size="7.4" text-anchor="middle" fill="#111" stroke="#111" stroke-width="0.1" transform="translate(392 121.9) scale(1 1.1)">7</text>
<line x1="412.1" y1="112.3" x2="412.1" y2="114.3" stroke="#3a3a3a" stroke-width="0.7"/>
<text font-size="7.4" text-anchor="middle" fill="#111" stroke="#111" stroke-width="0.1" transform="translate(412.1 121.9) scale(1 1.1)">14</text>
<text font-size="8" text-anchor="middle" fill="#111" stroke="#111" stroke-width="0.1" transform="translate(392.5 130.2) scale(1 1.1)">Cycle</text>
<text x="343" y="67.5" font-size="8" text-anchor="middle" fill="#111" stroke="#111" stroke-width="0.1" transform="rotate(-90 343 67.5)">Estradiol (E2) (pg/ml)</text>
<text font-size="5.6" text-anchor="start" fill="#1a1a1a" stroke="#1a1a1a" stroke-width="0.1" font-style="italic" transform="translate(368 11.7) scale(1 1.1)">Treatment effect</text>
<text font-size="5.6" text-anchor="start" fill="#1a1a1a" stroke="#1a1a1a" stroke-width="0.1" font-style="italic" transform="translate(368 17.4) scale(1 1.1)">Cycle 0, p = n.s.</text>
<text font-size="5.6" text-anchor="start" fill="#1a1a1a" stroke="#1a1a1a" stroke-width="0.1" font-style="italic" transform="translate(368 23.1) scale(1 1.1)">Cycle 7, p = 2.24E-06</text>
<text font-size="5.6" text-anchor="start" fill="#1a1a1a" stroke="#1a1a1a" stroke-width="0.1" font-style="italic" transform="translate(368 28.8) scale(1 1.1)">Cycle 14, p = 3E-15</text>
<circle cx="404.4" cy="38.6" r="1.6" fill="#1f1fff"/>
<text font-size="5.7" text-anchor="start" fill="#222" stroke="#222" stroke-width="0.1" transform="translate(408.3 40.7) scale(1 1.1)">Vehicle</text>
<circle cx="404.4" cy="44.4" r="1.6" fill="#ff2424"/>
<text font-size="5.7" text-anchor="start" fill="#222" stroke="#222" stroke-width="0.1" transform="translate(408.3 46.5) scale(1 1.1)">VCD</text>
<path d="M372.9 72.1L394.4 49.2L411.7 89.1M374.4 71.5L392.4 53.2L411.4 98.2M372.6 68.1L393.1 76.8L413.6 86M374.4 64.4L393.5 61L410 97.5M371.3 76.9L393 48.8L412.7 93.9M372.5 82.1L391.4 55.9L411.6 100.4M373.3 77.6L389.9 73L413.1 98.9M373.1 67.6L391.3 48.7L412 105.1M370.6 74.8L391.2 56.9L411.2 100.5M369.7 63.3L390.9 66.3L411.7 101.3M374.5 79.9L393 62L411.9 102.2M374.1 71.1L391.8 69.7L413.8 87.1M372.5 79.8L391.5 54.1L412.9 91M372.6 62.7L391.2 56.5L411.2 89.7M371.6 73.5L390.1 67.9L412.3 100.8M369.9 79.2L390.9 52.8L412.6 85.3M374.2 76.1L391.1 49.9L412.8 103M372.9 65.7L391.5 53.3L410.9 92.2M371.7 75.7L391.5 65.6L410.4 88.1M371 80.3L392.1 47.6L413.8 104.6M374 64.9L393.2 66.4L410.2 99.1M374 65.1L394 70.9L411.1 105.2" stroke="#ff2424" stroke-width="0.5" fill="none"/>
<path d="M373.1 73L390.1 69.7L411.4 88M373.9 77.6L392.5 69.1L412.9 74.2M372 80.6L394.1 81.3L413.8 86.8M373.3 82.2L391.5 77.3L409.6 67.1M374.5 82.5L389.9 73.3L414.4 63.5M371.9 81.3L391 81.9L410.4 72.6M370 67.9L393.6 81.1L411.7 78.2M372.2 70.2L389.6 76.2L414.5 70M373.2 61.5L391.3 76.8L413 70.9M370.9 81.3L392.1 76.7L412.1 67.9M374 83.2L392.1 75.1L411.7 82.7M373.7 75L392.3 82.6L413.1 83.8M371.1 83L392.7 77.1L411.9 87M371.2 79.1L394.4 74.1L414.5 76.2M374.5 80.1L390.4 76.6L414.2 69.5M371.1 83.7L391.2 67.3L409.5 82.2M372.9 83L394.6 62.4L409.6 75.6M373.8 76.5L392.7 65.9L412.2 82.5M373 72.9L394.3 79L410.3 65.8M374.2 77.2L394.3 78.6L413.1 75.3M370.8 67.7L390.7 78.4L413.1 71.1M374.3 80.9L390.7 75.3L414.6 77.3" stroke="#1f1fff" stroke-width="0.5" fill="none"/>
<path d="M372.9 72.1h0M394.4 49.2h0M411.7 89.1h0M374.4 71.5h0M392.4 53.2h0M411.4 98.2h0M372.6 68.1h0M393.1 76.8h0M413.6 86h0M374.4 64.4h0M393.5 61h0M410 97.5h0M371.3 76.9h0M393 48.8h0M412.7 93.9h0M372.5 82.1h0M391.4 55.9h0M411.6 100.4h0M373.3 77.6h0M389.9 73h0M413.1 98.9h0M373.1 67.6h0M391.3 48.7h0M412 105.1h0M370.6 74.8h0M391.2 56.9h0M411.2 100.5h0M369.7 63.3h0M390.9 66.3h0M411.7 101.3h0M374.5 79.9h0M393 62h0M411.9 102.2h0M374.1 71.1h0M391.8 69.7h0M413.8 87.1h0M372.5 79.8h0M391.5 54.1h0M412.9 91h0M372.6 62.7h0M391.2 56.5h0M411.2 89.7h0M371.6 73.5h0M390.1 67.9h0M412.3 100.8h0M369.9 79.2h0M390.9 52.8h0M412.6 85.3h0M374.2 76.1h0M391.1 49.9h0M412.8 103h0M372.9 65.7h0M391.5 53.3h0M410.9 92.2h0M371.7 75.7h0M391.5 65.6h0M410.4 88.1h0M371 80.3h0M392.1 47.6h0M413.8 104.6h0M374 64.9h0M393.2 66.4h0M410.2 99.1h0M374 65.1h0M394 70.9h0M411.1 105.2h0" stroke="#ff2424" stroke-width="2.7" stroke-linecap="round"/>
<path d="M373.1 73h0M390.1 69.7h0M411.4 88h0M373.9 77.6h0M392.5 69.1h0M412.9 74.2h0M372 80.6h0M394.1 81.3h0M413.8 86.8h0M373.3 82.2h0M391.5 77.3h0M409.6 67.1h0M374.5 82.5h0M389.9 73.3h0M414.4 63.5h0M371.9 81.3h0M391 81.9h0M410.4 72.6h0M370 67.9h0M393.6 81.1h0M411.7 78.2h0M372.2 70.2h0M389.6 76.2h0M414.5 70h0M373.2 61.5h0M391.3 76.8h0M413 70.9h0M370.9 81.3h0M392.1 76.7h0M412.1 67.9h0M374 83.2h0M392.1 75.1h0M411.7 82.7h0M373.7 75h0M392.3 82.6h0M413.1 83.8h0M371.1 83h0M392.7 77.1h0M411.9 87h0M371.2 79.1h0M394.4 74.1h0M414.5 76.2h0M374.5 80.1h0M390.4 76.6h0M414.2 69.5h0M371.1 83.7h0M391.2 67.3h0M409.5 82.2h0M372.9 83h0M394.6 62.4h0M409.6 75.6h0M373.8 76.5h0M392.7 65.9h0M412.2 82.5h0M373 72.9h0M394.3 79h0M410.3 65.8h0M374.2 77.2h0M394.3 78.6h0M413.1 75.3h0M370.8 67.7h0M390.7 78.4h0M413.1 71.1h0M374.3 80.9h0M390.7 75.3h0M414.6 77.3h0" stroke="#1f1fff" stroke-width="2.7" stroke-linecap="round"/>
<text font-size="12.5" text-anchor="start" fill="#111" stroke="#111" stroke-width="0.1" transform="translate(455.3 12.9) scale(1 1.1)">d</text>
<line x1="489.4" y1="23.5" x2="489.4" y2="111.8" stroke="#3a3a3a" stroke-width="0.8"/>
<line x1="487.4" y1="111.8" x2="489.4" y2="111.8" stroke="#3a3a3a" stroke-width="0.7"/>
<text font-size="7.4" text-anchor="end" fill="#111" stroke="#111" stroke-width="0.1" transform="translate(486.2 114.5) scale(1 1.1)">0</text>
<line x1="487.4" y1="89.7" x2="489.4" y2="89.7" stroke="#3a3a3a" stroke-width="0.7"/>
<text font-size="7.4" text-anchor="end" fill="#111" stroke="#111" stroke-width="0.1" transform="translate(486.2 92.4) scale(1 1.1)">5</text>
<line x1="487.4" y1="67.7" x2="489.4" y2="67.7" stroke="#3a3a3a" stroke-width="0.7"/>
<text font-size="7.4" text-anchor="end" fill="#111" stroke="#111" stroke-width="0.1" transform="translate(486.2 70.3) scale(1 1.1)">10</text>
<line x1="487.4" y1="45.6" x2="489.4" y2="45.6" stroke="#3a3a3a" stroke-width="0.7"/>
<text font-size="7.4" text-anchor="end" fill="#111" stroke="#111" stroke-width="0.1" transform="translate(486.2 48.2) scale(1 1.1)">15</text>
<line x1="487.4" y1="23.5" x2="489.4" y2="23.5" stroke="#3a3a3a" stroke-width="0.7"/>
<text font-size="7.4" text-anchor="end" fill="#111" stroke="#111" stroke-width="0.1" transform="translate(486.2 26.2) scale(1 1.1)">20</text>
<line x1="489.4" y1="111.8" x2="548" y2="111.8" stroke="#3a3a3a" stroke-width="0.8"/>
<line x1="498.8" y1="111.8" x2="498.8" y2="113.8" stroke="#3a3a3a" stroke-width="0.7"/>
<text font-size="7.4" text-anchor="middle" fill="#111" stroke="#111" stroke-width="0.1" transform="translate(498.8 121.4) scale(1 1.1)">0</text>
<line x1="518.6" y1="111.8" x2="518.6" y2="113.8" stroke="#3a3a3a" stroke-width="0.7"/>
<text font-size="7.4" text-anchor="middle" fill="#111" stroke="#111" stroke-width="0.1" transform="translate(518.6 121.4) scale(1 1.1)">7</text>
<line x1="538.1" y1="111.8" x2="538.1" y2="113.8" stroke="#3a3a3a" stroke-width="0.7"/>
<text font-size="7.4" text-anchor="middle" fill="#111" stroke="#111" stroke-width="0.1" transform="translate(538.1 121.4) scale(1 1.1)">14</text>
<text font-size="8" text-anchor="middle" fill="#111" stroke="#111" stroke-width="0.1" transform="translate(519.1 130.2) scale(1 1.1)">Cycle</text>
<text x="468.8" y="66" font-size="8" text-anchor="middle" fill="#111" stroke="#111" stroke-width="0.1" transform="rotate(-90 468.8 66)">Progesterone (P4) (ng/ml)</text>
<text font-size="5.6" text-anchor="start" fill="#1a1a1a" stroke="#1a1a1a" stroke-width="0.1" font-style="italic" transform="translate(495.7 11.7) scale(1 1.1)">Treatment effect</text>
<text font-size="5.6" text-anchor="start" fill="#1a1a1a" stroke="#1a1a1a" stroke-width="0.1" font-style="italic" transform="translate(495.7 17.4) scale(1 1.1)">Cycle 0, p = n.s.</text>
<text font-size="5.6" text-anchor="start" fill="#1a1a1a" stroke="#1a1a1a" stroke-width="0.1" font-style="italic" transform="translate(495.7 23.1) scale(1 1.1)">Cycle 7, p = n.s.</text>
<text font-size="5.6" text-anchor="start" fill="#1a1a1a" stroke="#1a1a1a" stroke-width="0.1" font-style="italic" transform="translate(495.7 28.8) scale(1 1.1)">Cycle 14, p &lt; 1E-15</text>
<circle cx="495.8" cy="99.1" r="1.6" fill="#1f1fff"/>
<text font-size="5.7" text-anchor="start" fill="#222" stroke="#222" stroke-width="0.1" transform="translate(499.7 101.2) scale(1 1.1)">Vehicle</text>
<circle cx="495.8" cy="104.4" r="1.6" fill="#ff2424"/>
<text font-size="5.7" text-anchor="start" fill="#222" stroke="#222" stroke-width="0.1" transform="translate(499.7 106.5) scale(1 1.1)">VCD</text>
<path d="M498 63.2L518.1 83.4L539.4 97.4M496.2 54.4L517 46L538.4 92.2M497.7 60.3L516.7 63.2L536.1 87.1M497.3 49.5L518 69.9L536.2 98.1M498.5 59.7L521.1 40.8L538.3 98M500.4 64.8L520.6 68.9L536.2 91.3M497.5 67.5L516.8 41.2L537.4 92.2M500.4 60L519.7 74.5L540.4 89.7M501 56.2L519 62.9L539.9 90.3M496.8 47.8L518.8 78.3L538.3 87.8M501.2 61L516.5 70.2L535.7 97.9M496.8 51.6L520.5 48.9L539.7 85.3M499.4 58.3L519.7 43L539.5 94.7M497.8 65.2L518.5 34.7L539.6 95M496.2 57.7L517.3 83.8L540.4 94.2M500.6 62.2L518.2 42L539.5 85.4M497.6 57L520.7 61.9L536.5 91.4M498.7 59.4L519 75.6L539.8 98.1M496.7 63.7L517.6 55.4L538.1 86.8M500.5 56.1L519.9 74.4L537.7 90M496.3 46.5L516.7 41.5L536.3 87.4M498.8 66.5L517.3 38.3L538.7 92.1" stroke="#ff2424" stroke-width="0.5" fill="none"/>
<path d="M499.8 60.3L520.4 61.5L536.7 67.2M497.4 62.5L516.7 60.7L536.6 62.1M498.4 59.6L519.2 59.1L536.9 69.6M500.7 62.5L520.2 59.6L539.4 57.8M500.3 46.6L520.4 68.1L539.4 62.8M498.4 54.2L518.2 66.4L536.1 65.3M500.4 49.2L519.6 56.8L539.4 61.8M499.7 62.8L516.9 65.2L538.2 66.9M498.6 60.4L518.1 62.7L538.1 68M497.4 60.8L517.9 69.1L538.9 68.8M498.2 46.5L520.9 61L536.2 69.2M500.6 49.4L516.8 62.2L540 63.8M500.4 47.8L520.4 68.9L539.2 64.4M501.3 62.7L519.8 62.7L538.7 66.8M499.3 53.9L519.8 66.5L537 64.9M499.8 62.2L517.2 70.3L538.8 68.9M499 54.4L518.3 71.5L536 64.9M501.4 65.4L517.6 70.2L538.6 65.9M498.6 63.9L520.3 66.4L537.2 69.8M501.2 55.6L518.5 64.1L537 60.1M498.8 64.8L519.8 58L539.1 66.1M497.5 48.6L517.8 63L537 66.3" stroke="#1f1fff" stroke-width="0.5" fill="none"/>
<path d="M498 63.2h0M518.1 83.4h0M539.4 97.4h0M496.2 54.4h0M517 46h0M538.4 92.2h0M497.7 60.3h0M516.7 63.2h0M536.1 87.1h0M497.3 49.5h0M518 69.9h0M536.2 98.1h0M498.5 59.7h0M521.1 40.8h0M538.3 98h0M500.4 64.8h0M520.6 68.9h0M536.2 91.3h0M497.5 67.5h0M516.8 41.2h0M537.4 92.2h0M500.4 60h0M519.7 74.5h0M540.4 89.7h0M501 56.2h0M519 62.9h0M539.9 90.3h0M496.8 47.8h0M518.8 78.3h0M538.3 87.8h0M501.2 61h0M516.5 70.2h0M535.7 97.9h0M496.8 51.6h0M520.5 48.9h0M539.7 85.3h0M499.4 58.3h0M519.7 43h0M539.5 94.7h0M497.8 65.2h0M518.5 34.7h0M539.6 95h0M496.2 57.7h0M517.3 83.8h0M540.4 94.2h0M500.6 62.2h0M518.2 42h0M539.5 85.4h0M497.6 57h0M520.7 61.9h0M536.5 91.4h0M498.7 59.4h0M519 75.6h0M539.8 98.1h0M496.7 63.7h0M517.6 55.4h0M538.1 86.8h0M500.5 56.1h0M519.9 74.4h0M537.7 90h0M496.3 46.5h0M516.7 41.5h0M536.3 87.4h0M498.8 66.5h0M517.3 38.3h0M538.7 92.1h0" stroke="#ff2424" stroke-width="2.7" stroke-linecap="round"/>
<path d="M499.8 60.3h0M520.4 61.5h0M536.7 67.2h0M497.4 62.5h0M516.7 60.7h0M536.6 62.1h0M498.4 59.6h0M519.2 59.1h0M536.9 69.6h0M500.7 62.5h0M520.2 59.6h0M539.4 57.8h0M500.3 46.6h0M520.4 68.1h0M539.4 62.8h0M498.4 54.2h0M518.2 66.4h0M536.1 65.3h0M500.4 49.2h0M519.6 56.8h0M539.4 61.8h0M499.7 62.8h0M516.9 65.2h0M538.2 66.9h0M498.6 60.4h0M518.1 62.7h0M538.1 68h0M497.4 60.8h0M517.9 69.1h0M538.9 68.8h0M498.2 46.5h0M520.9 61h0M536.2 69.2h0M500.6 49.4h0M516.8 62.2h0M540 63.8h0M500.4 47.8h0M520.4 68.9h0M539.2 64.4h0M501.3 62.7h0M519.8 62.7h0M538.7 66.8h0M499.3 53.9h0M519.8 66.5h0M537 64.9h0M499.8 62.2h0M517.2 70.3h0M538.8 68.9h0M499 54.4h0M518.3 71.5h0M536 64.9h0M501.4 65.4h0M517.6 70.2h0M538.6 65.9h0M498.6 63.9h0M520.3 66.4h0M537.2 69.8h0M501.2 55.6h0M518.5 64.1h0M537 60.1h0M498.8 64.8h0M519.8 58h0M539.1 66.1h0M497.5 48.6h0M517.8 63h0M537 66.3h0" stroke="#1f1fff" stroke-width="2.7" stroke-linecap="round"/>
<text font-size="12.5" text-anchor="start" fill="#111" stroke="#111" stroke-width="0.1" transform="translate(576.4 12.9) scale(1 1.1)">e</text>
<line x1="604.3" y1="22.8" x2="604.3" y2="111.5" stroke="#3a3a3a" stroke-width="0.8"/>
<line x1="602.3" y1="111.5" x2="604.3" y2="111.5" stroke="#3a3a3a" stroke-width="0.7"/>
<text font-size="7.4" text-anchor="end" fill="#111" stroke="#111" stroke-width="0.1" transform="translate(601.1 114.2) scale(1 1.1)">0</text>
<line x1="602.3" y1="93.8" x2="604.3" y2="93.8" stroke="#3a3a3a" stroke-width="0.7"/>
<text font-size="7.4" text-anchor="end" fill="#111" stroke="#111" stroke-width="0.1" transform="translate(601.1 96.4) scale(1 1.1)">1</text>
<line x1="602.3" y1="76" x2="604.3" y2="76" stroke="#3a3a3a" stroke-width="0.7"/>
<text font-size="7.4" text-anchor="end" fill="#111" stroke="#111" stroke-width="0.1" transform="translate(601.1 78.7) scale(1 1.1)">2</text>
<line x1="602.3" y1="58.3" x2="604.3" y2="58.3" stroke="#3a3a3a" stroke-width="0.7"/>
<text font-size="7.4" text-anchor="end" fill="#111" stroke="#111" stroke-width="0.1" transform="translate(601.1 60.9) scale(1 1.1)">3</text>
<line x1="602.3" y1="40.5" x2="604.3" y2="40.5" stroke="#3a3a3a" stroke-width="0.7"/>
<text font-size="7.4" text-anchor="end" fill="#111" stroke="#111" stroke-width="0.1" transform="translate(601.1 43.2) scale(1 1.1)">4</text>
<line x1="602.3" y1="22.8" x2="604.3" y2="22.8" stroke="#3a3a3a" stroke-width="0.7"/>
<text font-size="7.4" text-anchor="end" fill="#111" stroke="#111" stroke-width="0.1" transform="translate(601.1 25.5) scale(1 1.1)">5</text>
<line x1="604.3" y1="111.5" x2="662.6" y2="111.5" stroke="#3a3a3a" stroke-width="0.8"/>
<line x1="613.7" y1="111.5" x2="613.7" y2="113.5" stroke="#3a3a3a" stroke-width="0.7"/>
<text font-size="7.4" text-anchor="middle" fill="#111" stroke="#111" stroke-width="0.1" transform="translate(613.7 121.1) scale(1 1.1)">0</text>
<line x1="633.5" y1="111.5" x2="633.5" y2="113.5" stroke="#3a3a3a" stroke-width="0.7"/>
<text font-size="7.4" text-anchor="middle" fill="#111" stroke="#111" stroke-width="0.1" transform="translate(633.5 121.1) scale(1 1.1)">7</text>
<line x1="653.5" y1="111.5" x2="653.5" y2="113.5" stroke="#3a3a3a" stroke-width="0.7"/>
<text font-size="7.4" text-anchor="middle" fill="#111" stroke="#111" stroke-width="0.1" transform="translate(653.5 121.1) scale(1 1.1)">14</text>
<text font-size="8" text-anchor="middle" fill="#111" stroke="#111" stroke-width="0.1" transform="translate(634 130.2) scale(1 1.1)">Cycle</text>
<text x="585.2" y="68" font-size="8" text-anchor="middle" fill="#111" stroke="#111" stroke-width="0.1" transform="rotate(-90 585.2 68)">E2: P4 Ratio (pg/ng)</text>
<text font-size="5.6" text-anchor="start" fill="#1a1a1a" stroke="#1a1a1a" stroke-width="0.1" font-style="italic" transform="translate(608.6 11.7) scale(1 1.1)">Treatment effect</text>
<text font-size="5.6" text-anchor="start" fill="#1a1a1a" stroke="#1a1a1a" stroke-width="0.1" font-style="italic" transform="translate(608.6 17.4) scale(1 1.1)">Cycle 0, p = n.s.</text>
<text font-size="5.6" text-anchor="start" fill="#1a1a1a" stroke="#1a1a1a" stroke-width="0.1" font-style="italic" transform="translate(608.6 23.1) scale(1 1.1)">Cycle 7, p = 0.0007</text>
<text font-size="5.6" text-anchor="start" fill="#1a1a1a" stroke="#1a1a1a" stroke-width="0.1" font-style="italic" transform="translate(608.6 28.8) scale(1 1.1)">Cycle 14, p = 0.0645</text>
<circle cx="662.1" cy="33.4" r="1.6" fill="#1f1fff"/>
<text font-size="5.7" text-anchor="start" fill="#222" stroke="#222" stroke-width="0.1" transform="translate(666 35.5) scale(1 1.1)">Vehicle</text>
<circle cx="662.1" cy="39.1" r="1.6" fill="#ff2424"/>
<text font-size="5.7" text-anchor="start" fill="#222" stroke="#222" stroke-width="0.1" transform="translate(666 41.2) scale(1 1.1)">VCD</text>
<path d="M615.2 87.4L633.1 82.6L651.7 92.5M611.9 80.1L634.3 66.6L655.8 61.2M614 81.6L632.3 81.9L655.4 74.2M614.6 94.2L631.4 58L656 58.9M615.4 76.9L635 70.7L652.9 94.7M611.1 83L633.5 75.9L656 90.6M614.6 90.3L636.1 72.5L655.7 72.8M615.5 76.4L632.7 81.3L651.6 71.5M615.3 75.2L633.6 46.7L655.6 58.3M613.4 94.1L633.1 51.3L653.1 41.6M611.3 91.3L632.9 59.8L652.1 95.1M612.4 90.5L631.4 65.9L651 54.6M614.7 81.2L633.1 51.9L654.2 79.1M612.1 80.6L632.9 77.4L654.8 57.4M613.7 88.1L631.8 64.2L655.4 68.2M615.8 89.7L633.6 68.4L654.2 56.9M616.1 87.7L631 75.7L651.6 96.5M615.8 83L633.4 82L652.7 61.3M614 77.4L636.1 75.4L652.5 97.8M612 76.4L631.5 75.8L652.9 65.2M611.7 82.9L634.9 60.8L655.2 70M612.4 78.1L633.7 67L653.7 60.4" stroke="#ff2424" stroke-width="0.5" fill="none"/>
<path d="M614.8 91.5L635.8 77.5L652.2 89.3M614.5 78.1L634.5 84.3L654.9 86.4M612.3 91.2L632.8 72.6L655.1 89.5M611.9 80.3L634.4 79.5L654.3 91.7M612.9 91.1L632 88.6L653 73M613.4 72.7L635.4 78.4L651.5 79.7M614.4 81.2L631.4 86.7L653.6 75.4M613.5 89.6L635.1 86L651.4 84M611.6 76.3L631 84.7L651.5 78.5M611.6 82.6L634.5 80.8L653.3 83.2M613.4 83.4L631.4 78.6L652.1 84.6M616 75.3L631.6 88.9L653.9 79.3M614.8 93.4L633.1 71.8L653.9 87.5M612.5 73.8L631.9 84.3L653.3 81M613.1 88.3L632.5 89.5L653.9 72.9M616 87.7L632.2 83.2L651.7 94.7M612.3 89.5L632.3 73.2L654 89.8M612.6 74.2L632.8 75.4L654 82.6M615 73.7L635.3 80.3L652.9 87.1M613.9 73.3L632.5 75.1L654.1 74.4M616 88.5L632.7 81.1L651.4 89.5M614.7 89.5L632.2 87.5L653.7 85.2" stroke="#1f1fff" stroke-width="0.5" fill="none"/>
<path d="M615.2 87.4h0M633.1 82.6h0M651.7 92.5h0M611.9 80.1h0M634.3 66.6h0M655.8 61.2h0M614 81.6h0M632.3 81.9h0M655.4 74.2h0M614.6 94.2h0M631.4 58h0M656 58.9h0M615.4 76.9h0M635 70.7h0M652.9 94.7h0M611.1 83h0M633.5 75.9h0M656 90.6h0M614.6 90.3h0M636.1 72.5h0M655.7 72.8h0M615.5 76.4h0M632.7 81.3h0M651.6 71.5h0M615.3 75.2h0M633.6 46.7h0M655.6 58.3h0M613.4 94.1h0M633.1 51.3h0M653.1 41.6h0M611.3 91.3h0M632.9 59.8h0M652.1 95.1h0M612.4 90.5h0M631.4 65.9h0M651 54.6h0M614.7 81.2h0M633.1 51.9h0M654.2 79.1h0M612.1 80.6h0M632.9 77.4h0M654.8 57.4h0M613.7 88.1h0M631.8 64.2h0M655.4 68.2h0M615.8 89.7h0M633.6 68.4h0M654.2 56.9h0M616.1 87.7h0M631 75.7h0M651.6 96.5h0M615.8 83h0M633.4 82h0M652.7 61.3h0M614 77.4h0M636.1 75.4h0M652.5 97.8h0M612 76.4h0M631.5 75.8h0M652.9 65.2h0M611.7 82.9h0M634.9 60.8h0M655.2 70h0M612.4 78.1h0M633.7 67h0M653.7 60.4h0" stroke="#ff2424" stroke-width="2.7" stroke-linecap="round"/>
<path d="M614.8 91.5h0M635.8 77.5h0M652.2 89.3h0M614.5 78.1h0M634.5 84.3h0M654.9 86.4h0M612.3 91.2h0M632.8 72.6h0M655.1 89.5h0M611.9 80.3h0M634.4 79.5h0M654.3 91.7h0M612.9 91.1h0M632 88.6h0M653 73h0M613.4 72.7h0M635.4 78.4h0M651.5 79.7h0M614.4 81.2h0M631.4 86.7h0M653.6 75.4h0M613.5 89.6h0M635.1 86h0M651.4 84h0M611.6 76.3h0M631 84.7h0M651.5 78.5h0M611.6 82.6h0M634.5 80.8h0M653.3 83.2h0M613.4 83.4h0M631.4 78.6h0M652.1 84.6h0M616 75.3h0M631.6 88.9h0M653.9 79.3h0M614.8 93.4h0M633.1 71.8h0M653.9 87.5h0M612.5 73.8h0M631.9 84.3h0M653.3 81h0M613.1 88.3h0M632.5 89.5h0M653.9 72.9h0M616 87.7h0M632.2 83.2h0M651.7 94.7h0M612.3 89.5h0M632.3 73.2h0M654 89.8h0M612.6 74.2h0M632.8 75.4h0M654 82.6h0M615 73.7h0M635.3 80.3h0M652.9 87.1h0M613.9 73.3h0M632.5 75.1h0M654.1 74.4h0M616 88.5h0M632.7 81.1h0M651.4 89.5h0M614.7 89.5h0M632.2 87.5h0M653.7 85.2h0" stroke="#1f1fff" stroke-width="2.7" stroke-linecap="round"/>
<text font-size="11.5" text-anchor="start" fill="#111" stroke="#111" stroke-width="0.1" transform="translate(2.6 158.7) scale(1 1.1)">f</text>
<text font-size="8" text-anchor="middle" fill="#111" stroke="#111" stroke-width="0.1" transform="translate(80.7 160.2) scale(1 1.1)">Cycle 0</text>
<text font-size="8" text-anchor="middle" fill="#111" stroke="#111" stroke-width="0.1" transform="translate(148.8 160.2) scale(1 1.1)">Cycle 7</text>
<text x="36.8" y="193.6" font-size="8" text-anchor="middle" fill="#111" stroke="#111" stroke-width="0.1" transform="rotate(-90 36.8 193.6)">Vehicle</text>
<text x="36.8" y="260.1" font-size="8" text-anchor="middle" fill="#111" stroke="#111" stroke-width="0.1" transform="rotate(-90 36.8 260.1)">VCD</text>
<path d="M62.3 181.5q0.1 2.6-0.8 3.6q-0.9 0.9-2 1.6q-1.1 0.6-0.4-0.5q0.8-1 1.4-2.1q0.6-1.2 1.5-2.1q1-0.9 2-1.7q1-0.8 2.2-1.2q1.3-0.4 2.6-0.5q1.3 0 2.4 0.8q1 0.8 1.8 1.8q0.8 1 1.2 2.2q0.5 1.3 0.7 2.5q0.2 1.3-0.1 2.6q-0.3 1.3-0.8 2.5q-0.4 1.2-0.2 2.5q0.2 1.3 1.2 2.2q0.9 0.9 1.9 1.7q1 0.8 2.2 1.4q1.2 0.5 2.2 1.3q1 0.8 1.8 1.8q0.8 1.1 1 2.3q0.2 1.3 0.6 2.6q0.3 1.2 0.3 2.5q-0.1 1.3-0.3 2.6q-0.3 1.3-0.5 2.5q-0.3 1.3-0.9 2.4q-0.6 1.2-1.6 2q-1 0.9-2.3 0.8q-1.3-0.2-2.6-0.6q-1.2-0.4-1.8-1.6q-0.5-1.1-0.6-2.4q-0.1-1.3 0.3-2.6q0.3-1.2 1-2.3q0.6-1.1 1-2.3q0.3-1.3-0.2-2.5q-0.6-1.2-1.3-2.2q-0.8-1.1-1.9-1.8q-1.1-0.7-2.4-1q-1.3-0.2-2.5 0.3q-1.2 0.5-1.5 1.7q-0.3 1.3 0.3 2.5q0.7 1.1 1.5 2.1q0.8 1 1.5 2.1q0.7 1.1 1.3 2.2q0.6 1.2 1.3 2.2q0.8 1.1 1.6 2.2q0.8 1 1.8 1.8q1.1 0.8 1.8 1.9q0.7 1.1-0.4 0.5q-1.2-0.6-2.5-0.7q-1.3-0.2-2.6-0.2q-1.3 0.1-2.4-0.6q-1.1-0.7-2.2-1.4q-1.1-0.6-2.1-1.4q-1.1-0.8-1.6-1.9q-0.6-1.2-0.6-2.5q0-1.3 0.4-2.5q0.4-1.3 1.1-2.4q0.6-1.1 1.1-2.3q0.6-1.2 0.9-2.5q0.3-1.2 0.1-2.5q-0.3-1.2-0.5-2.5q-0.3-1.3-0.7-2.6q-0.4-1.2 0-2.4q0.5-1.2 1.2-2.3q0.8-1 2.1-1.3q1.3-0.3 2.2 0.6q0.9 0.9 1 2.2q0 1.3-0.5 2.6q-0.5 1.2-1.1 2.3q-0.6 1.1-1.2 2.3q-0.6 1.2-1.3 2.3q-0.6 1.1-1.4 2.1q-0.8 1.1-1.2 2.3q-0.4 1.2-1 2.3q-0.7 1.2-1.8 1.9q-1.1 0.6-2.3 0.1q-1.2-0.6-1.7-1.8q-0.5-1.2-1.2-2.3q-0.8-1.1-0.6-2.4q0.3-1.2 0-2.5q-0.2-1.3-0.1-2.6q0.1-1.3-0.2-2.5q-0.4-1.3 0-2.5q0.3-1.3 0.6-2.5q0.4-1.3 1.3-2.3q0.9-0.9 1.9-1.7q1-0.8 2.1-1.5q1.1-0.7 2.3-1.2q1.2-0.5 2.5-0.6q1.3 0 2.6 0.1q1.3 0.1 2.5 0.7q1.1 0.7 2.3 1.2q1.2 0.4 2.5 0.7q1.2 0.2 2.5 0.3q1.3 0.2 2.6 0.4q1.3 0.3 2.1 1.3q0.8 1 1.5 2.1q0.6 1.1 0.9 2.4q0.3 1.3 0.2 2.6q-0.1 1.3-0.6 2.5q-0.5 1.2-1 2.4q-0.6 1.1-1.5 2.1q-0.8 1-1.9 1.7q-1 0.8-2.3 0.7q-1.3 0-2.6-0.2q-1.3-0.2-2.6-0.3q-1.3-0.1-2.6 0q-1.3 0.1-2.6 0q-1.3 0-2.6-0.2q-1.3-0.2-2.4-0.8q-1.1-0.7-2.2-1.3q-1.2-0.6-2.2-1.5q-0.9-0.9-1.4-2.1q-0.4-1.3-0.6-2.6q-0.1-1.3-0.1-2.6q0-1.3 0-2.6q0-1.3 0.8-2.3q0.8-1 1.3-2.2q0.4-1.2 4.5 2.3q4.1 3.5 8.2 7q4.2 3.5 8.3 7q4.1 3.6 8.2 7.1l4.1 3.5" stroke="#9462d0" stroke-width="0.7" fill="none"/>
<circle cx="79.4" cy="197.1" r="29.3" fill="none" stroke="#111" stroke-width="0.9"/>
<line x1="50.1" y1="197.1" x2="108.7" y2="197.1" stroke="#666" stroke-width="0.9"/>
<line x1="79.4" y1="167.8" x2="79.4" y2="226.4" stroke="#666" stroke-width="0.9"/>
<text font-size="5.9" text-anchor="middle" fill="#ff2424" stroke="#ff2424" stroke-width="0.1" transform="translate(75.2 195.9) scale(1 1.1)">1</text>
<text font-size="5.9" text-anchor="middle" fill="#ff2424" stroke="#ff2424" stroke-width="0.1" transform="translate(82.6 195.9) scale(1 1.1)">2</text>
<text font-size="5.9" text-anchor="middle" fill="#ff2424" stroke="#ff2424" stroke-width="0.1" transform="translate(75.2 203.6) scale(1 1.1)">3</text>
<text font-size="5.9" text-anchor="middle" fill="#ff2424" stroke="#ff2424" stroke-width="0.1" transform="translate(82.6 203.6) scale(1 1.1)">4</text>
<circle cx="62.3" cy="181.5" r="1.9" fill="#1414d0"/>
<circle cx="93.5" cy="211.8" r="1.8" fill="#e01010" stroke="#600000" stroke-width="0.5"/>
<path d="M132.3 181.5q2.3 1.3 3.6 1.3q1.3 0 2.4-0.6q1.1-0.7 1.2-2q0.1-1.3-0.7-2.3q-0.9-1 0.3-1.6q1.1-0.6 2.4-0.5q1.3 0.1 2.5 0.6q1.2 0.5 2.5 0.5q1.3 0.1 2.6 0.4q1.2 0.4 2.4 0.9q1.2 0.5 2.5 0.7q1.3 0.2 2.6 0q1.3-0.1 2.6-0.3q1.2-0.2 2.5 0.2q1.2 0.3 2.5 0.8q1.2 0.5 1.9 1.6q0.6 1.1 0.9 2.4q0.3 1.2 0.7 2.5q0.3 1.2 0.2 2.5q0 1.3-0.3 2.6q-0.3 1.2-0.9 2.4q-0.7 1.1-1.5 2.2q-0.8 1-1.4 2.1q-0.6 1.2-0.6 2.5q0 1.3 0.9 2.2q1 0.8 2.2 0.3q1.2-0.5 1.1-1.8q0-1.3-1-2.2q-1.1-0.8-2.4-0.7q-1.3 0.1-2.4 0.8q-1 0.7-2.1 1.4q-1.1 0.8-2.1 1.5q-1.1 0.8-2.2 1.5q-1 0.8-2.2 1.4q-1.2 0.5-2.2 1.4q-1 0.8-1.4 2q-0.5 1.2-0.7 2.5q-0.2 1.2-0.4 2.5q-0.2 1.3-0.7 2.5q-0.6 1.2-1.7 2q-1.1 0.7-2.3 0.6q-1.3-0.1-2.2-1q-1-0.9-1.5-2.1q-0.4-1.2-0.5-2.5q-0.1-1.3 0.6-2.4q0.7-1.1 1.8-1.7q1.2-0.6 2.5-0.8q1.3-0.2 2.5-0.5q1.3-0.2 2.6-0.2q1.3-0.1 2.6 0.1q1.3 0.2 2.5 0.7q1.2 0.5 2.3 1.2q1 0.7 2.3 1.1q1.2 0.5 2.5 0.2q1.3-0.2 2.3-1.1q0.9-0.9 1.7-1.9q0.8-1 1.7-2q0.9-0.9 1.5-2.1q0.6-1.1 1-2.3q0.4-1.2 0.7-2.5q0.3-1.3 0.6-2.6q0.3-1.2 0.1-2.5q-0.2-1.3-0.9-2.4q-0.6-1.1-1.7-1.7q-1.2-0.6-2.3 0q-1.1 0.7-1.2 2q-0.1 1.3 0.5 2.5q0.5 1.2 1.5 1.9q1.1 0.7 2.2 1.3q1.2 0.6 2.3 1.3q1.1 0.8 0.4 1.9q-0.7 1.1-1.7 2q-1 0.8-2.2 1.1q-1.3 0.4-2.6 0.3q-1.3-0.1-2.6 0q-1.3 0.1-2.5 0.5q-1.2 0.4-2.4 1q-1.2 0.6-2.1 1.5q-1 0.8-2.1 1.5q-1.1 0.7-2.2 1.3q-1.2 0.5-2.4 1.2q-1.1 0.6-2.1 1.5q-0.9 0.8-2 1.6q-1.1 0.7-2.3 0.5q-1.3-0.2 1.4-0.4q2.8-0.3 5.6-0.6q2.7-0.3 5.4-0.5q2.8-0.3 5.6-0.6l2.7-0.3" stroke="#9462d0" stroke-width="0.7" fill="none"/>
<circle cx="149.4" cy="197.1" r="29.3" fill="none" stroke="#111" stroke-width="0.9"/>
<line x1="120.1" y1="197.1" x2="178.7" y2="197.1" stroke="#666" stroke-width="0.9"/>
<line x1="149.4" y1="167.8" x2="149.4" y2="226.4" stroke="#666" stroke-width="0.9"/>
<text font-size="5.9" text-anchor="middle" fill="#ff2424" stroke="#ff2424" stroke-width="0.1" transform="translate(145.2 195.9) scale(1 1.1)">1</text>
<text font-size="5.9" text-anchor="middle" fill="#ff2424" stroke="#ff2424" stroke-width="0.1" transform="translate(152.6 195.9) scale(1 1.1)">2</text>
<text font-size="5.9" text-anchor="middle" fill="#ff2424" stroke="#ff2424" stroke-width="0.1" transform="translate(145.2 203.6) scale(1 1.1)">3</text>
<text font-size="5.9" text-anchor="middle" fill="#ff2424" stroke="#ff2424" stroke-width="0.1" transform="translate(152.6 203.6) scale(1 1.1)">4</text>
<circle cx="132.3" cy="181.5" r="1.9" fill="#1414d0"/>
<circle cx="163.5" cy="211.8" r="1.8" fill="#e01010" stroke="#600000" stroke-width="0.5"/>
<path d="M62.3 246.1q2.6 0.3 3.9 0.3q1.3 0 2.6 0.4q1.2 0.3 2.4 0.9q1.1 0.6 2 1.5q1 0.9 1.1 2.2q0.1 1.3-0.6 2.4q-0.8 1-1.9 1.8q-1 0.7-2 1.5q-1.1 0.7-2 1.7q-0.9 0.9-1.6 2.1q-0.6 1.1-1.4 2.1q-0.8 1-1.4 2.1q-0.7 1.2-1.4 2.3q-0.8 1-2 1.6q-1.1 0.6-2-0.3q-1-0.9-1-2.2q-0.1-1.3-0.1-2.6q0-1.3 0.6-2.4q0.7-1.2 1.7-2.1q0.9-0.9 1.8-1.8q0.8-1 1.3-2.2q0.5-1.2 0.6-2.5q0.1-1.3-0.3-2.6q-0.4-1.2-0.7-2.5q-0.4-1.2 0.6-2q0.9-0.9 2-1.6q1.1-0.8 2.4-0.8q1.3-0.1 2.4 0.5q1.2 0.6 1.9 1.7q0.8 1 1.3 2.2q0.6 1.2 1.5 2q1 0.9 2.3 1.1q1.3 0.3 2.5 0.7q1.2 0.5 2.3 1.2q1.1 0.7 2.2 1.4q1.2 0.6 2.2 1.5q1 0.8 2 1.7q0.9 0.8 2 1.5q1 0.8 2.1 1.5q1.1 0.6 2 1.6q0.8 1 1.2 2.2q0.3 1.3 0 2.6q-0.2 1.3-0.6 2.5q-0.5 1.2-1 2.5q-0.4 1.2-1.2 2.3q-0.8 1-1.7 1.9q-0.9 0.9-1.8 1.9q-0.9 0.9-1.7 1.9q-0.9 1-1.6 2.1q-0.6 1.1-1.5 2q-1 0.9-2.2 0.6q-1.3-0.4-2.6-0.4q-1.3 0.1-2.6-0.1q-1.3-0.1-2.6-0.4q-1.3-0.2-2.5-0.7q-1.2-0.4-2.2-1.1q-1.1-0.8-2.2-1.6q-1-0.8-1.6-2q-0.5-1.1-0.9-2.3q-0.4-1.3-0.9-2.5q-0.5-1.2-1.4-2.2q-0.8-1-1.6-2q-0.9-0.9-2.2-1.3q-1.2-0.5-1.4-1.8q-0.3-1.3-0.3-2.6q-0.1-1.3 0-2.6q0-1.3 0.1-2.6q0.1-1.3 0.4-2.5q0.2-1.3 0.8-2.5q0.5-1.2 1.3-2.2q0.9-1 1.4-2.2q0.6-1.1 1.7-1.8q1-0.8 2.1-1.5q1.1-0.7 1.9-1.7q0.9-1 2-1.5q1.2-0.6 2.3-1.3q1.1-0.7 2.3-1.3q1.1-0.6 2.4-0.8q1.3-0.2 2.6-0.2q1.3 0 2.6 0q1.3 0 2.6 0.3q1.2 0.2 2.5 0.6q1.2 0.3 2.3 1q1.1 0.6 1.8 1.7q0.6 1.2 0.2 2.4q-0.4 1.2-1.6 1.9q-1.1 0.6-2.4 0.8q-1.3 0.2-2.6 0.2q-1.3 0-2.6 0.1q-1.3 0.1-2.6 0q-1.3-0.1-2.6 0q-1.3 0.2-2.5 0.8q-1.1 0.5-2.4 0.4q-1.3-0.1-2.6-0.2q-1.3-0.2-2.6-0.4q-1.3-0.2-2.5-0.7q-1.2-0.5-0.1-1.2q1.1-0.7 1.6-1.9q0.5-1.2 1.7-1.7q1.2-0.6 2.5-1q1.2-0.3 2.5-0.1q1.3 0.2 2.6 0.2q1.3 0 2.4-0.8q1-0.7 2-1.4q1.1-0.8 2.4-0.6q1.3 0.1 2.6 0q1.3-0.1 2.5 0.2q1.3 0.4 2.4 1.2q1.1 0.7 1.9 1.7q0.8 1 1.1 5.1q0.4 4.2 0.8 8.3q0.4 4.1 0.7 8.3q0.4 4.1 0.8 8.2l0.3 4.2" stroke="#9462d0" stroke-width="0.7" fill="none"/>
<circle cx="79.4" cy="261.7" r="29.3" fill="none" stroke="#111" stroke-width="0.9"/>
<line x1="50.1" y1="261.7" x2="108.7" y2="261.7" stroke="#666" stroke-width="0.9"/>
<line x1="79.4" y1="232.4" x2="79.4" y2="291" stroke="#666" stroke-width="0.9"/>
<text font-size="5.9" text-anchor="middle" fill="#ff2424" stroke="#ff2424" stroke-width="0.1" transform="translate(75.2 260.6) scale(1 1.1)">1</text>
<text font-size="5.9" text-anchor="middle" fill="#ff2424" stroke="#ff2424" stroke-width="0.1" transform="translate(82.6 260.6) scale(1 1.1)">2</text>
<text font-size="5.9" text-anchor="middle" fill="#ff2424" stroke="#ff2424" stroke-width="0.1" transform="translate(75.2 268.2) scale(1 1.1)">3</text>
<text font-size="5.9" text-anchor="middle" fill="#ff2424" stroke="#ff2424" stroke-width="0.1" transform="translate(82.6 268.2) scale(1 1.1)">4</text>
<circle cx="62.3" cy="246.1" r="1.9" fill="#1414d0"/>
<circle cx="93.5" cy="276.4" r="1.8" fill="#e01010" stroke="#600000" stroke-width="0.5"/>
<path d="M132.3 246.1q2.2 1.4 2.9 2.5q0.6 1.1 0.7 2.4q0.2 1.3-0.5 2.4q-0.6 1.1-1.9 1.2q-1.3 0.1-1.7-1.2q-0.3-1.2 0.5-2.3q0.8-1 1.9-1.5q1.2-0.6 2.4 0q1.2 0.5 1.6 1.7q0.4 1.2-0.3 2.4q-0.6 1.1-1.7 1.8q-1.1 0.7-2.3 0.2q-1.2-0.5-1.1-1.8q0-1.3 1.2-1.8q1.2-0.5 2.4-0.2q1.3 0.4 1.8 1.5q0.6 1.2 0 2.4q-0.7 1.1-2 1.2q-1.3 0.2-2.4-0.4q-1.1-0.7-2.2-1.5q-1-0.8-1.5-2q-0.5-1.2 0-2.3q0.6-1.2 1-2.5q0.4-1.2 1.2-2.2q0.8-1 1.9-1.7q1.2-0.6 2.5-0.6q1.3-0.1 2.5 0.1q1.3 0.2 2.5 0.8q1.1 0.6 2.2 1.2q1.2 0.7 2.4 1.1q1.2 0.4 2 1.4q0.9 1.1 1.1 2.4q0.2 1.2-0.1 2.5q-0.2 1.3-1 2.4q-0.7 1.1-1.7 1.9q-1.1 0.7-2.3 1.3q-1.1 0.5-2.2 1.2q-1.2 0.7-2.3 1.2q-1.2 0.5-2.5 0.5q-1.3 0-2.4-0.7q-1.1-0.7-1.8-1.7q-0.8-1.1-1-2.4q-0.3-1.3 0-2.6q0.2-1.2 0.7-2.4q0.5-1.2 1.4-2.1q1-0.9 2.1-1.5q1.2-0.5 2.5-0.6q1.3-0.1 2.6 0q1.3 0.1 2.5 0.6q1.2 0.5 2.2 1.3q1.1 0.7 1.9 1.7q0.8 1.1 1.8 1.9q0.9 0.9 2.1 1.4q1.3 0.5 2.6 0.5q1.3 0.1 2.6 0q1.2-0.2 2.5-0.6q1.2-0.4 2.4-0.9q1.2-0.5 2.4-0.9q1.2-0.5 2.5-0.7q1.3-0.2 2.6 0q1.3 0.1 1.7 1.3q0.5 1.2 0.4 2.5q-0.2 1.3-0.4 2.6q-0.1 1.3 0.4 2.5q0.5 1.2 0.6 2.5q0.2 1.3-0.1 2.6q-0.4 1.2-0.8 2.5q-0.3 1.2-1.2 2.2q-0.9 0.9-2 1.6q-1 0.8-2 1.6q-0.9 0.9-1.8 1.9q-0.8 1.1-1.5 2.2q-0.6 1.1-1.2 2.3q-0.6 1.1-1.8 1.6q-1.2 0.5-2.4 1.1q-1.2 0.5-2.5 0.6q-1.3 0.1-2.6 0.1q-1.3-0.1-2.6-0.2q-1.3-0.1-2.5-0.3q-1.3-0.2-2.4-0.8q-1.2-0.7-2.1-1.6q-0.9-1-0.8-2.3q0-1.3 1.2-2q1.1-0.6 2.4-0.7q1.3-0.1 2.6-0.3q1.2-0.2 2.5-0.7q1.2-0.4 2.3-1q1.1-0.7 2.2-1.4q1.1-0.7 1.8-1.8q0.7-1.1 0.2-2.3q-0.6-1.2-1.8-1.6q-1.2-0.4-2.5-0.5q-1.3-0.1-2.5-0.7q-1.1-0.6-2.2-1.4q-1-0.8-2-1.7q-0.9-0.9-1.5-2.1q-0.5-1.2-1.3-2.2q-0.8-1-1.6-2q-0.9-1-2-1.7q-1.1-0.7-2.4-0.7q-1.3-0.1-2.4 0.6q-1.1 0.7-1.7 1.8q-0.5 1.2-0.2 2.5q0.3 1.3 0.9 2.4q0.7 1.1 1.4 2.1q0.8 1.1 1.6 2.1q0.9 1 1.8 1.9q0.9 1 1.5 2.1q0.7 1.1 0.8 2.4q0.1 1.3-0.1 2.6q-0.2 1.3-0.6 2.6q-0.3 1.2-0.9 2.3q-0.5 1.2-1.8 1.3q-1.3 0.2-2.2-0.7q-0.9-1-1.8-1.9q-0.9-1-1.3-2.2q-0.4-1.2-0.9-2.5q-0.4-1.2-1.1-2.3q-0.6-1.1-1.7-1.9q-1-0.8-1.3-2.1q-0.3-1.2 0.2-2.4q0.5-1.2 1.4-2.1q1-0.9 2-1.6q1-0.8 2.3-1q1.3-0.3 2.6-0.6q1.3-0.2 2.5-0.1q1.3 0.2 2.6 0.5q1.3 0.3 2.6 0.3q1.3 0.1 2.6 0.1q1.3 0 2.6-0.1q1.3-0.1 2.5 0q1.3 0.1 2.4 0.9q1 0.8 1.8 1.8q0.8 1 1 2.3q0.3 1.3 0.4 2.6q0.1 1.3 0.2 2.6q0.1 1.3 0.2 2.6q0.2 1.3 0.4 2.5q0.1 1.3 0.4 2.6q0.3 1.3 1.1 2.3q0.7 1.1-0.2 2q-1 0.9-2.3 1q-1.3 0.2-2.5-0.1q-1.3-0.4-2.2-1.2q-1-0.9-1.6-2.1q-0.6-1.2-0.7-2.5q-0.2-1.2-0.4-2.5q-0.3-1.3-1-2.4q-0.7-1.1-1.7-1.9q-1-0.8-2.3-0.7q-1.3 0.1-2.2 1q-0.9 0.9-1.3 2.2q-0.4 1.2-0.1 2.5q0.2 1.2 0.6 2.5q0.4 1.2 0.7 2.5q0.4 1.2-0.7 1.9q-1.1 0.7-2-0.2q-0.8-1-1.6-2q-0.8-1-1.8-1.8q-1.1-0.8-2.2-1.5q-1.1-0.7-2.3-1.2q-1.1-0.6-1.8-1.7q-0.7-1.2-0.8-2.5q-0.1-1.3 0.9-2q1.1-0.8 2.4-0.8q1.3 0.1 2.3 0.9q1 0.9 1.7 2q0.7 1.1 1.1 2.3q0.5 1.2 0.7 2.5q0.3 1.3 0.8 2.5q0.6 1.2 1.2 2.3q0.6 1.2-0.6 0.5q-1.1-0.7-2.1-1.5q-1-0.7-1.8-1.7q-0.8-1.1-1.5-2.2q-0.8-1-1.8-1.8q-1-0.9-2.2-1.5q-1.1-0.6-1.7-1.8q-0.5-1.1-0.8-2.4q-0.2-1.3-0.3-2.6q0-1.3 0.6-2.5q0.6-1.1 1.7-1.7q1.2-0.6 2.5-0.5q1.3 0 2.5 0.5q1.2 0.5 2.2 1.3q1 0.9 1.4 2.1q0.5 1.2 0.1 2.5q-0.4 1.2-1.4 2q-1 0.8-2.2 1.3q-1.2 0.6-2.5 0.7q-1.3 0.1-2.4-0.6q-1.1-0.7-1.3-2q-0.3-1.3 0.7-2.1q0.9-0.8 2.2-0.5q1.2 0.4 1.8 1.5q0.7 1.2 0.1 2.4q-0.6 1.1-1.6 1.9q-1.1 0.7-2.1-0.2q-1-0.8-1.3-2.1q-0.3-1.2-0.9-2.3q-0.6-1.2-0.4-2.5q0.2-1.3 1.1-2.2q0.9-1 2.2-1.2q1.3-0.2 2.2 0.6q1 0.9 0.9 2.2q-0.1 1.3-0.6 2.5q-0.5 1.2-1.3 2.2q-0.7 1.1-2 1.5q-1.2 0.3-1.2-1q-0.1-1.3-0.1-2.6q0-1.3 0.1-2.6q0-1.3-0.3-2.6q-0.3-1.2-0.4-2.5q-0.1-1.3-0.1-2.6q0-1.3 0.4-2.6q0.4-1.2 1.1-2.3q0.6-1.1 1.2-2.3q0.6-1.1 1.4-2.1q0.9-1 1.8-1.9q1-0.9 1.9-1.9q0.9-0.9 2.1-1.6q1.1-0.6 2.3-0.8q1.3-0.2 2.6 0q1.3 0.2 2.6 0.6q1.2 0.4 2.3 1q1.2 0.6 2 1.5q0.9 1 2 1.8q1 0.9 2 1.7q1 0.7 2.3 1.1q1.3 0.3 2.6 0q1.2-0.2 2.3-1q1-0.7 1.2-2q0.3-1.3-0.1-2.5q-0.4-1.2-1.5-1.9q-1.2-0.6-2.5-0.6q-1.3 0.1-2.4 0.9q-1.1 0.7-1.9 1.7q-0.8 1-1.5 2.1q-0.6 1.2-1.3 2.2q-0.7 1.1 1.1 4.5q1.7 3.4 3.5 6.8q1.7 3.4 3.5 6.8q1.8 3.4 3.6 6.8l1.7 3.4" stroke="#9462d0" stroke-width="0.7" fill="none"/>
<circle cx="149.4" cy="261.7" r="29.3" fill="none" stroke="#111" stroke-width="0.9"/>
<line x1="120.1" y1="261.7" x2="178.7" y2="261.7" stroke="#666" stroke-width="0.9"/>
<line x1="149.4" y1="232.4" x2="149.4" y2="291" stroke="#666" stroke-width="0.9"/>
<text font-size="5.9" text-anchor="middle" fill="#ff2424" stroke="#ff2424" stroke-width="0.1" transform="translate(145.2 260.6) scale(1 1.1)">1</text>
<text font-size="5.9" text-anchor="middle" fill="#ff2424" stroke="#ff2424" stroke-width="0.1" transform="translate(152.6 260.6) scale(1 1.1)">2</text>
<text font-size="5.9" text-anchor="middle" fill="#ff2424" stroke="#ff2424" stroke-width="0.1" transform="translate(145.2 268.2) scale(1 1.1)">3</text>
<text font-size="5.9" text-anchor="middle" fill="#ff2424" stroke="#ff2424" stroke-width="0.1" transform="translate(152.6 268.2) scale(1 1.1)">4</text>
<circle cx="132.3" cy="246.1" r="1.9" fill="#1414d0"/>
<circle cx="163.5" cy="276.4" r="1.8" fill="#e01010" stroke="#600000" stroke-width="0.5"/>
<line x1="237.8" y1="183.1" x2="237.8" y2="270.3" stroke="#3a3a3a" stroke-width="0.8"/>
<line x1="235.8" y1="270.3" x2="237.8" y2="270.3" stroke="#3a3a3a" stroke-width="0.7"/>
<text font-size="7.4" text-anchor="end" fill="#111" stroke="#111" stroke-width="0.1" transform="translate(234.6 273) scale(1 1.1)">0</text>
<line x1="235.8" y1="252.9" x2="237.8" y2="252.9" stroke="#3a3a3a" stroke-width="0.7"/>
<text font-size="7.4" text-anchor="end" fill="#111" stroke="#111" stroke-width="0.1" transform="translate(234.6 255.5) scale(1 1.1)">10</text>
<line x1="235.8" y1="235.4" x2="237.8" y2="235.4" stroke="#3a3a3a" stroke-width="0.7"/>
<text font-size="7.4" text-anchor="end" fill="#111" stroke="#111" stroke-width="0.1" transform="translate(234.6 238.1) scale(1 1.1)">20</text>
<line x1="235.8" y1="218" x2="237.8" y2="218" stroke="#3a3a3a" stroke-width="0.7"/>
<text font-size="7.4" text-anchor="end" fill="#111" stroke="#111" stroke-width="0.1" transform="translate(234.6 220.6) scale(1 1.1)">30</text>
<line x1="235.8" y1="200.5" x2="237.8" y2="200.5" stroke="#3a3a3a" stroke-width="0.7"/>
<text font-size="7.4" text-anchor="end" fill="#111" stroke="#111" stroke-width="0.1" transform="translate(234.6 203.2) scale(1 1.1)">40</text>
<line x1="235.8" y1="183.1" x2="237.8" y2="183.1" stroke="#3a3a3a" stroke-width="0.7"/>
<text font-size="7.4" text-anchor="end" fill="#111" stroke="#111" stroke-width="0.1" transform="translate(234.6 185.8) scale(1 1.1)">50</text>
<line x1="237.8" y1="270.3" x2="295.2" y2="270.3" stroke="#3a3a3a" stroke-width="0.8"/>
<line x1="247" y1="270.3" x2="247" y2="272.3" stroke="#3a3a3a" stroke-width="0.7"/>
<text font-size="7.4" text-anchor="middle" fill="#111" stroke="#111" stroke-width="0.1" transform="translate(247 279.9) scale(1 1.1)">0</text>
<line x1="266.7" y1="270.3" x2="266.7" y2="272.3" stroke="#3a3a3a" stroke-width="0.7"/>
<text font-size="7.4" text-anchor="middle" fill="#111" stroke="#111" stroke-width="0.1" transform="translate(266.7 279.9) scale(1 1.1)">7</text>
<line x1="286" y1="270.3" x2="286" y2="272.3" stroke="#3a3a3a" stroke-width="0.7"/>
<text font-size="7.4" text-anchor="middle" fill="#111" stroke="#111" stroke-width="0.1" transform="translate(286 279.9) scale(1 1.1)">14</text>
<text font-size="8" text-anchor="middle" fill="#111" stroke="#111" stroke-width="0.1" transform="translate(267.2 289.2) scale(1 1.1)">Cycle</text>
<text x="214" y="229.2" font-size="8" text-anchor="middle" fill="#111" stroke="#111" stroke-width="0.1" transform="rotate(-90 214 229.2)">Latency to target (sec)</text>
<text font-size="5.6" text-anchor="start" fill="#1a1a1a" stroke="#1a1a1a" stroke-width="0.1" font-style="italic" transform="translate(244 162.4) scale(1 1.1)">Treatment effect</text>
<text font-size="5.6" text-anchor="start" fill="#1a1a1a" stroke="#1a1a1a" stroke-width="0.1" font-style="italic" transform="translate(244 168.1) scale(1 1.1)">Cycle 0, p = n.s.</text>
<text font-size="5.6" text-anchor="start" fill="#1a1a1a" stroke="#1a1a1a" stroke-width="0.1" font-style="italic" transform="translate(244 173.8) scale(1 1.1)">Cycle 7, p = 1.81E-08</text>
<text font-size="5.6" text-anchor="start" fill="#1a1a1a" stroke="#1a1a1a" stroke-width="0.1" font-style="italic" transform="translate(244 179.5) scale(1 1.1)">Cycle 14, p = 2E-15</text>
<circle cx="244.6" cy="189.6" r="1.6" fill="#1f1fff"/>
<text font-size="5.7" text-anchor="start" fill="#222" stroke="#222" stroke-width="0.1" transform="translate(248.5 191.7) scale(1 1.1)">Vehicle</text>
<circle cx="244.6" cy="195.1" r="1.6" fill="#ff2424"/>
<text font-size="5.7" text-anchor="start" fill="#222" stroke="#222" stroke-width="0.1" transform="translate(248.5 197.2) scale(1 1.1)">VCD</text>
<path d="M246 245.6L266.7 220.5L283.9 206.4M247 240.3L265.7 206.5L286.3 211.6M248.6 253.9L265.8 203.9L283.8 203.9M248.6 253.6L267.3 217.3L285.7 224.2M246.4 242.4L264.4 222L287.1 215M248.2 234.8L266.1 221.8L288.4 210.3M246.9 253.3L268.7 211.7L287.3 210.3M248.9 238.6L265.4 212.4L286.6 213.3M249.4 234.6L265.7 205.7L284.2 213.2M244.8 241.5L268 207L288.4 216.7M245.5 237.7L267.6 213.3L285.1 206.4M248.8 249L265.1 231.1L285.4 214.6M246.8 231.7L265.6 213.8L284.8 213.3M249.4 250.7L269 229.3L286 217.7M247.6 254.5L264.1 221.7L285 216.8M249.1 244L268.2 223.9L283.7 211.5M246.5 250.7L268.3 222L288 206.7M247.4 255L268 228.1L283.7 215.7M247.6 234.9L268.3 216.8L285.2 214.7M247.7 247.9L264.5 225.2L284.4 209.7M244.7 248.7L267.6 233.7L283.9 216M247.2 231.9L267.9 212.2L287.7 217" stroke="#ff2424" stroke-width="0.5" fill="none"/>
<path d="M248 251.4L265.2 238.3L286.1 230.8M245.6 243.1L267.1 250.2L284.6 245.9M244.6 249.8L268.7 224.2L285.1 243.6M245 243.3L264.9 228.1L288.2 242.1M247.3 244.4L265.1 238.2L284.6 245.3M245.5 236.4L268 222.6L287.2 234.5M246.9 252.5L268.9 241.7L285.3 237.4M246.4 244.5L264.2 227.9L288.6 246.6M247 243.4L265.3 235L286.6 234.9M245.3 251.1L265.9 232.8L283.9 239.1M248.6 253.9L267.7 239.6L288.4 229.3M249.5 245.5L268.7 225.8L284.7 237.9M245.2 234.1L268.1 246L283.7 230.3M245.9 249.2L264.5 242.1L288.5 229.2M246.9 237.3L266.8 244.5L284.5 243.7M248.5 235L266.3 225.6L285 230.1M245.8 242.4L267.7 244L286.5 243.8M248.8 239.8L266.2 241L284.1 229.1M244.9 253.2L264.8 249.4L284.1 233.3M246.1 242.3L265 241.5L287.1 249.6M244.6 242L268.1 233.5L285.8 244M248.4 253.9L265.4 246.9L283.6 238.9" stroke="#1f1fff" stroke-width="0.5" fill="none"/>
<path d="M246 245.6h0M266.7 220.5h0M283.9 206.4h0M247 240.3h0M265.7 206.5h0M286.3 211.6h0M248.6 253.9h0M265.8 203.9h0M283.8 203.9h0M248.6 253.6h0M267.3 217.3h0M285.7 224.2h0M246.4 242.4h0M264.4 222h0M287.1 215h0M248.2 234.8h0M266.1 221.8h0M288.4 210.3h0M246.9 253.3h0M268.7 211.7h0M287.3 210.3h0M248.9 238.6h0M265.4 212.4h0M286.6 213.3h0M249.4 234.6h0M265.7 205.7h0M284.2 213.2h0M244.8 241.5h0M268 207h0M288.4 216.7h0M245.5 237.7h0M267.6 213.3h0M285.1 206.4h0M248.8 249h0M265.1 231.1h0M285.4 214.6h0M246.8 231.7h0M265.6 213.8h0M284.8 213.3h0M249.4 250.7h0M269 229.3h0M286 217.7h0M247.6 254.5h0M264.1 221.7h0M285 216.8h0M249.1 244h0M268.2 223.9h0M283.7 211.5h0M246.5 250.7h0M268.3 222h0M288 206.7h0M247.4 255h0M268 228.1h0M283.7 215.7h0M247.6 234.9h0M268.3 216.8h0M285.2 214.7h0M247.7 247.9h0M264.5 225.2h0M284.4 209.7h0M244.7 248.7h0M267.6 233.7h0M283.9 216h0M247.2 231.9h0M267.9 212.2h0M287.7 217h0" stroke="#ff2424" stroke-width="2.7" stroke-linecap="round"/>
<path d="M248 251.4h0M265.2 238.3h0M286.1 230.8h0M245.6 243.1h0M267.1 250.2h0M284.6 245.9h0M244.6 249.8h0M268.7 224.2h0M285.1 243.6h0M245 243.3h0M264.9 228.1h0M288.2 242.1h0M247.3 244.4h0M265.1 238.2h0M284.6 245.3h0M245.5 236.4h0M268 222.6h0M287.2 234.5h0M246.9 252.5h0M268.9 241.7h0M285.3 237.4h0M246.4 244.5h0M264.2 227.9h0M288.6 246.6h0M247 243.4h0M265.3 235h0M286.6 234.9h0M245.3 251.1h0M265.9 232.8h0M283.9 239.1h0M248.6 253.9h0M267.7 239.6h0M288.4 229.3h0M249.5 245.5h0M268.7 225.8h0M284.7 237.9h0M245.2 234.1h0M268.1 246h0M283.7 230.3h0M245.9 249.2h0M264.5 242.1h0M288.5 229.2h0M246.9 237.3h0M266.8 244.5h0M284.5 243.7h0M248.5 235h0M266.3 225.6h0M285 230.1h0M245.8 242.4h0M267.7 244h0M286.5 243.8h0M248.8 239.8h0M266.2 241h0M284.1 229.1h0M244.9 253.2h0M264.8 249.4h0M284.1 233.3h0M246.1 242.3h0M265 241.5h0M287.1 249.6h0M244.6 242h0M268.1 233.5h0M285.8 244h0M248.4 253.9h0M265.4 246.9h0M283.6 238.9h0" stroke="#1f1fff" stroke-width="2.7" stroke-linecap="round"/>
<line x1="364.3" y1="182" x2="364.3" y2="270.3" stroke="#3a3a3a" stroke-width="0.8"/>
<line x1="362.3" y1="270.3" x2="364.3" y2="270.3" stroke="#3a3a3a" stroke-width="0.7"/>
<text font-size="7.4" text-anchor="end" fill="#111" stroke="#111" stroke-width="0.1" transform="translate(361.1 273) scale(1 1.1)">0</text>
<line x1="362.3" y1="252.6" x2="364.3" y2="252.6" stroke="#3a3a3a" stroke-width="0.7"/>
<text font-size="7.4" text-anchor="end" fill="#111" stroke="#111" stroke-width="0.1" transform="translate(361.1 255.3) scale(1 1.1)">10</text>
<line x1="362.3" y1="235" x2="364.3" y2="235" stroke="#3a3a3a" stroke-width="0.7"/>
<text font-size="7.4" text-anchor="end" fill="#111" stroke="#111" stroke-width="0.1" transform="translate(361.1 237.6) scale(1 1.1)">20</text>
<line x1="362.3" y1="217.3" x2="364.3" y2="217.3" stroke="#3a3a3a" stroke-width="0.7"/>
<text font-size="7.4" text-anchor="end" fill="#111" stroke="#111" stroke-width="0.1" transform="translate(361.1 220) scale(1 1.1)">30</text>
<line x1="362.3" y1="199.7" x2="364.3" y2="199.7" stroke="#3a3a3a" stroke-width="0.7"/>
<text font-size="7.4" text-anchor="end" fill="#111" stroke="#111" stroke-width="0.1" transform="translate(361.1 202.3) scale(1 1.1)">40</text>
<line x1="362.3" y1="182" x2="364.3" y2="182" stroke="#3a3a3a" stroke-width="0.7"/>
<text font-size="7.4" text-anchor="end" fill="#111" stroke="#111" stroke-width="0.1" transform="translate(361.1 184.7) scale(1 1.1)">50</text>
<line x1="364.3" y1="270.3" x2="423.1" y2="270.3" stroke="#3a3a3a" stroke-width="0.8"/>
<line x1="364.3" y1="270.3" x2="364.3" y2="272.3" stroke="#3a3a3a" stroke-width="0.7"/>
<text font-size="7.4" text-anchor="middle" fill="#111" stroke="#111" stroke-width="0.1" transform="translate(364.3 279.9) scale(1 1.1)">0</text>
<line x1="376.1" y1="270.3" x2="376.1" y2="272.3" stroke="#3a3a3a" stroke-width="0.7"/>
<text font-size="7.4" text-anchor="middle" fill="#111" stroke="#111" stroke-width="0.1" transform="translate(376.1 279.9) scale(1 1.1)">1</text>
<line x1="387.8" y1="270.3" x2="387.8" y2="272.3" stroke="#3a3a3a" stroke-width="0.7"/>
<text font-size="7.4" text-anchor="middle" fill="#111" stroke="#111" stroke-width="0.1" transform="translate(387.8 279.9) scale(1 1.1)">2</text>
<line x1="399.6" y1="270.3" x2="399.6" y2="272.3" stroke="#3a3a3a" stroke-width="0.7"/>
<text font-size="7.4" text-anchor="middle" fill="#111" stroke="#111" stroke-width="0.1" transform="translate(399.6 279.9) scale(1 1.1)">3</text>
<line x1="411.3" y1="270.3" x2="411.3" y2="272.3" stroke="#3a3a3a" stroke-width="0.7"/>
<text font-size="7.4" text-anchor="middle" fill="#111" stroke="#111" stroke-width="0.1" transform="translate(411.3 279.9) scale(1 1.1)">4</text>
<line x1="423.1" y1="270.3" x2="423.1" y2="272.3" stroke="#3a3a3a" stroke-width="0.7"/>
<text font-size="7.4" text-anchor="middle" fill="#111" stroke="#111" stroke-width="0.1" transform="translate(423.1 279.9) scale(1 1.1)">5</text>
<text font-size="8" text-anchor="middle" fill="#111" stroke="#111" stroke-width="0.1" transform="translate(393.1 289.2) scale(1 1.1)">E2: P4 Ratio (pg/ng)</text>
<text x="342.6" y="232" font-size="8" text-anchor="middle" fill="#111" stroke="#111" stroke-width="0.1" transform="rotate(-90 342.6 232)">Latency to target (Sec) (Cycle 7)</text>
<text font-size="5.6" text-anchor="start" fill="#1a1a1a" stroke="#1a1a1a" stroke-width="0.1" font-style="italic" transform="translate(373.2 174) scale(1 1.1)">Pearson r = 0. 827</text>
<text font-size="5.6" text-anchor="start" fill="#1a1a1a" stroke="#1a1a1a" stroke-width="0.1" font-style="italic" transform="translate(373.2 179.5) scale(1 1.1)">p = 1.42E-13</text>
<circle cx="371.7" cy="189.7" r="1.6" fill="#1f1fff"/>
<text font-size="5.7" text-anchor="start" fill="#222" stroke="#222" stroke-width="0.1" transform="translate(375.6 191.8) scale(1 1.1)">Vehicle</text>
<circle cx="371.7" cy="195.2" r="1.6" fill="#ff2424"/>
<text font-size="5.7" text-anchor="start" fill="#222" stroke="#222" stroke-width="0.1" transform="translate(375.6 197.3) scale(1 1.1)">VCD</text>
<line x1="378.5" y1="243.7" x2="413.5" y2="198.6" stroke="#333" stroke-width="0.6"/>
<path d="M377.4 243.2h0M382.8 231.1h0M379.2 243.2h0M380.5 229.5h0M379.3 229.9h0M386.6 242.7h0M384.8 236.1h0M383.1 224.5h0M378.5 245.1h0M390.5 237h0M380 238.6h0M382.4 225.3h0M380.2 241h0M385.5 234h0M390.7 227.8h0M382.3 241.3h0M389 224.6h0M377.7 230h0M389.5 231.8h0M380.3 228.7h0" stroke="#1f1fff" stroke-width="2.3" stroke-linecap="round"/>
<path d="M381.1 240.2h0M389.1 219h0M395.9 214.4h0M381.9 234.1h0M408.2 204h0M411.7 193.5h0M391.5 232.2h0M405.1 214.5h0M378.7 233.8h0M408.1 198.4h0M412 205.2h0M381.3 241.7h0M412.9 205.8h0M384 240.4h0M380.2 244.5h0M390.9 230h0M389.3 218.3h0M384.3 226h0M404.5 207.4h0M398.7 210.3h0M399.1 219.4h0M390 229.6h0M392.5 213.6h0M393.5 228.7h0" stroke="#ff2424" stroke-width="2.3" stroke-linecap="round"/>
<line x1="489.6" y1="182.8" x2="489.6" y2="270.6" stroke="#3a3a3a" stroke-width="0.8"/>
<line x1="487.6" y1="270.6" x2="489.6" y2="270.6" stroke="#3a3a3a" stroke-width="0.7"/>
<text font-size="7.4" text-anchor="end" fill="#111" stroke="#111" stroke-width="0.1" transform="translate(486.4 273.3) scale(1 1.1)">0</text>
<line x1="487.6" y1="253" x2="489.6" y2="253" stroke="#3a3a3a" stroke-width="0.7"/>
<text font-size="7.4" text-anchor="end" fill="#111" stroke="#111" stroke-width="0.1" transform="translate(486.4 255.7) scale(1 1.1)">20</text>
<line x1="487.6" y1="235.5" x2="489.6" y2="235.5" stroke="#3a3a3a" stroke-width="0.7"/>
<text font-size="7.4" text-anchor="end" fill="#111" stroke="#111" stroke-width="0.1" transform="translate(486.4 238.1) scale(1 1.1)">40</text>
<line x1="487.6" y1="217.9" x2="489.6" y2="217.9" stroke="#3a3a3a" stroke-width="0.7"/>
<text font-size="7.4" text-anchor="end" fill="#111" stroke="#111" stroke-width="0.1" transform="translate(486.4 220.6) scale(1 1.1)">60</text>
<line x1="487.6" y1="200.4" x2="489.6" y2="200.4" stroke="#3a3a3a" stroke-width="0.7"/>
<text font-size="7.4" text-anchor="end" fill="#111" stroke="#111" stroke-width="0.1" transform="translate(486.4 203) scale(1 1.1)">80</text>
<line x1="487.6" y1="182.8" x2="489.6" y2="182.8" stroke="#3a3a3a" stroke-width="0.7"/>
<text font-size="7.4" text-anchor="end" fill="#111" stroke="#111" stroke-width="0.1" transform="translate(486.4 185.5) scale(1 1.1)">100</text>
<line x1="489.6" y1="270.6" x2="547.2" y2="270.6" stroke="#3a3a3a" stroke-width="0.8"/>
<line x1="498.8" y1="270.6" x2="498.8" y2="272.6" stroke="#3a3a3a" stroke-width="0.7"/>
<text font-size="7.4" text-anchor="middle" fill="#111" stroke="#111" stroke-width="0.1" transform="translate(498.8 280.2) scale(1 1.1)">0</text>
<line x1="518.5" y1="270.6" x2="518.5" y2="272.6" stroke="#3a3a3a" stroke-width="0.7"/>
<text font-size="7.4" text-anchor="middle" fill="#111" stroke="#111" stroke-width="0.1" transform="translate(518.5 280.2) scale(1 1.1)">7</text>
<line x1="538.4" y1="270.6" x2="538.4" y2="272.6" stroke="#3a3a3a" stroke-width="0.7"/>
<text font-size="7.4" text-anchor="middle" fill="#111" stroke="#111" stroke-width="0.1" transform="translate(538.4 280.2) scale(1 1.1)">14</text>
<text font-size="8" text-anchor="middle" fill="#111" stroke="#111" stroke-width="0.1" transform="translate(519 289.2) scale(1 1.1)">Cycle</text>
<text x="464.4" y="233.7" font-size="8" text-anchor="middle" fill="#111" stroke="#111" stroke-width="0.1" transform="rotate(-90 464.4 233.7)">% Time spent in target quadrant</text>
<text font-size="5.6" text-anchor="start" fill="#1a1a1a" stroke="#1a1a1a" stroke-width="0.1" font-style="italic" transform="translate(495.1 162.4) scale(1 1.1)">Treatment effect</text>
<text font-size="5.6" text-anchor="start" fill="#1a1a1a" stroke="#1a1a1a" stroke-width="0.1" font-style="italic" transform="translate(495.1 168.1) scale(1 1.1)">Cycle 0, p = n.s.</text>
<text font-size="5.6" text-anchor="start" fill="#1a1a1a" stroke="#1a1a1a" stroke-width="0.1" font-style="italic" transform="translate(495.1 173.8) scale(1 1.1)">Cycle 7, p = 2.32E-09</text>
<text font-size="5.6" text-anchor="start" fill="#1a1a1a" stroke="#1a1a1a" stroke-width="0.1" font-style="italic" transform="translate(495.1 179.5) scale(1 1.1)">Cycle 14, p = 4.06E-05</text>
<circle cx="494.2" cy="260.5" r="1.6" fill="#1f1fff"/>
<text font-size="5.7" text-anchor="start" fill="#222" stroke="#222" stroke-width="0.1" transform="translate(498.1 262.6) scale(1 1.1)">Vehicle</text>
<circle cx="494.2" cy="266" r="1.6" fill="#ff2424"/>
<text font-size="5.7" text-anchor="start" fill="#222" stroke="#222" stroke-width="0.1" transform="translate(498.1 268.1) scale(1 1.1)">VCD</text>
<path d="M497.2 197.1L519.9 245.9L536.8 251.4M496.5 232L518.6 254.3L538.7 243.3M499.3 201.8L516 247.3L540 224.5M496.7 203.5L518.5 255.1L537.9 216.7M500 212.2L520.8 244.6L540 217M497.9 210.9L516.2 254.3L535.9 238.2M496.7 225.4L516.8 253.1L537.6 253.3M497.8 204L520.9 245.9L540.7 256.2M497.3 216.9L517.5 254.3L541 256.2M496.8 203.7L518.5 246.9L537.8 253.9M499.2 199.6L516.2 249.1L539.3 250.2M497.7 223.5L516.7 256.3L536.9 250.4M499.5 218.7L520.7 243.6L537 254.2M501.1 209.4L518.8 252.2L540.6 253.3M500.5 215.1L520 246L539.3 252.4M499.3 214.3L517.7 250.1L540.9 235.6M497.4 214L519.7 255.7L537.4 251.8M496.9 205.6L517.1 222.3L539.2 253.6M496.2 227.8L516.7 246.8L536.6 230.8M498.1 234.7L516.3 255.1L538.1 254.5M499.8 219.6L516.8 254.4L536.4 246.9M500.5 236L519.2 245.3L539.6 253.2" stroke="#ff2424" stroke-width="0.5" fill="none"/>
<path d="M496.9 206.6L516.9 222.3L537.6 239.5M497.4 209.7L519 218.1L540.6 200.7M496.5 217.8L517.5 214.5L538.8 237.2M500.2 207.5L519.5 214.9L540.8 228.7M500.3 235.5L516.6 213.7L536.8 217.9M499 247.3L518.5 223.6L539.2 224.7M497.8 208.5L517.4 214.6L538.1 221.2M498.9 219.4L517.7 222.4L540.6 224.9M498.9 206.9L520.6 221L537.6 240.7M498.1 234.8L518.7 238.4L536.8 218.4M496.5 218.5L520.7 211.4L538.4 213.2M499.2 226.1L518.4 212.5L537.6 218.5M500.5 214.4L516 209.9L537.6 218.8M499.8 241.9L516.1 218.8L536.4 204.8M497.5 239.8L517.3 219.9L536.9 241.5M500 234.1L516.1 211.3L536 213.1M498.7 240.4L519.6 212.4L537 228.9M496.5 237.6L520.5 220.2L538.4 234M496.4 222.5L519.9 221.9L540.9 239.7M497.4 211.6L517.7 220.5L535.8 213.9M499.5 232.5L520.5 225.6L540.2 225.9M497.2 226.6L520.3 236.3L540.1 217.1" stroke="#1f1fff" stroke-width="0.5" fill="none"/>
<path d="M497.2 197.1h0M519.9 245.9h0M536.8 251.4h0M496.5 232h0M518.6 254.3h0M538.7 243.3h0M499.3 201.8h0M516 247.3h0M540 224.5h0M496.7 203.5h0M518.5 255.1h0M537.9 216.7h0M500 212.2h0M520.8 244.6h0M540 217h0M497.9 210.9h0M516.2 254.3h0M535.9 238.2h0M496.7 225.4h0M516.8 253.1h0M537.6 253.3h0M497.8 204h0M520.9 245.9h0M540.7 256.2h0M497.3 216.9h0M517.5 254.3h0M541 256.2h0M496.8 203.7h0M518.5 246.9h0M537.8 253.9h0M499.2 199.6h0M516.2 249.1h0M539.3 250.2h0M497.7 223.5h0M516.7 256.3h0M536.9 250.4h0M499.5 218.7h0M520.7 243.6h0M537 254.2h0M501.1 209.4h0M518.8 252.2h0M540.6 253.3h0M500.5 215.1h0M520 246h0M539.3 252.4h0M499.3 214.3h0M517.7 250.1h0M540.9 235.6h0M497.4 214h0M519.7 255.7h0M537.4 251.8h0M496.9 205.6h0M517.1 222.3h0M539.2 253.6h0M496.2 227.8h0M516.7 246.8h0M536.6 230.8h0M498.1 234.7h0M516.3 255.1h0M538.1 254.5h0M499.8 219.6h0M516.8 254.4h0M536.4 246.9h0M500.5 236h0M519.2 245.3h0M539.6 253.2h0" stroke="#ff2424" stroke-width="2.7" stroke-linecap="round"/>
<path d="M496.9 206.6h0M516.9 222.3h0M537.6 239.5h0M497.4 209.7h0M519 218.1h0M540.6 200.7h0M496.5 217.8h0M517.5 214.5h0M538.8 237.2h0M500.2 207.5h0M519.5 214.9h0M540.8 228.7h0M500.3 235.5h0M516.6 213.7h0M536.8 217.9h0M499 247.3h0M518.5 223.6h0M539.2 224.7h0M497.8 208.5h0M517.4 214.6h0M538.1 221.2h0M498.9 219.4h0M517.7 222.4h0M540.6 224.9h0M498.9 206.9h0M520.6 221h0M537.6 240.7h0M498.1 234.8h0M518.7 238.4h0M536.8 218.4h0M496.5 218.5h0M520.7 211.4h0M538.4 213.2h0M499.2 226.1h0M518.4 212.5h0M537.6 218.5h0M500.5 214.4h0M516 209.9h0M537.6 218.8h0M499.8 241.9h0M516.1 218.8h0M536.4 204.8h0M497.5 239.8h0M517.3 219.9h0M536.9 241.5h0M500 234.1h0M516.1 211.3h0M536 213.1h0M498.7 240.4h0M519.6 212.4h0M537 228.9h0M496.5 237.6h0M520.5 220.2h0M538.4 234h0M496.4 222.5h0M519.9 221.9h0M540.9 239.7h0M497.4 211.6h0M517.7 220.5h0M535.8 213.9h0M499.5 232.5h0M520.5 225.6h0M540.2 225.9h0M497.2 226.6h0M520.3 236.3h0M540.1 217.1h0" stroke="#1f1fff" stroke-width="2.7" stroke-linecap="round"/>
<line x1="609.5" y1="182" x2="609.5" y2="270.3" stroke="#3a3a3a" stroke-width="0.8"/>
<line x1="607.5" y1="270.3" x2="609.5" y2="270.3" stroke="#3a3a3a" stroke-width="0.7"/>
<text font-size="7.4" text-anchor="end" fill="#111" stroke="#111" stroke-width="0.1" transform="translate(606.3 273) scale(1 1.1)">0</text>
<line x1="607.5" y1="248.2" x2="609.5" y2="248.2" stroke="#3a3a3a" stroke-width="0.7"/>
<text font-size="7.4" text-anchor="end" fill="#111" stroke="#111" stroke-width="0.1" transform="translate(606.3 250.9) scale(1 1.1)">20</text>
<line x1="607.5" y1="226.2" x2="609.5" y2="226.2" stroke="#3a3a3a" stroke-width="0.7"/>
<text font-size="7.4" text-anchor="end" fill="#111" stroke="#111" stroke-width="0.1" transform="translate(606.3 228.8) scale(1 1.1)">40</text>
<line x1="607.5" y1="204.1" x2="609.5" y2="204.1" stroke="#3a3a3a" stroke-width="0.7"/>
<text font-size="7.4" text-anchor="end" fill="#111" stroke="#111" stroke-width="0.1" transform="translate(606.3 206.7) scale(1 1.1)">60</text>
<line x1="607.5" y1="182" x2="609.5" y2="182" stroke="#3a3a3a" stroke-width="0.7"/>
<text font-size="7.4" text-anchor="end" fill="#111" stroke="#111" stroke-width="0.1" transform="translate(606.3 184.7) scale(1 1.1)">80</text>
<line x1="609.5" y1="270.3" x2="668.3" y2="270.3" stroke="#3a3a3a" stroke-width="0.8"/>
<line x1="609.5" y1="270.3" x2="609.5" y2="272.3" stroke="#3a3a3a" stroke-width="0.7"/>
<text font-size="7.4" text-anchor="middle" fill="#111" stroke="#111" stroke-width="0.1" transform="translate(609.5 279.9) scale(1 1.1)">0</text>
<line x1="621.3" y1="270.3" x2="621.3" y2="272.3" stroke="#3a3a3a" stroke-width="0.7"/>
<text font-size="7.4" text-anchor="middle" fill="#111" stroke="#111" stroke-width="0.1" transform="translate(621.3 279.9) scale(1 1.1)">1</text>
<line x1="633" y1="270.3" x2="633" y2="272.3" stroke="#3a3a3a" stroke-width="0.7"/>
<text font-size="7.4" text-anchor="middle" fill="#111" stroke="#111" stroke-width="0.1" transform="translate(633 279.9) scale(1 1.1)">2</text>
<line x1="644.8" y1="270.3" x2="644.8" y2="272.3" stroke="#3a3a3a" stroke-width="0.7"/>
<text font-size="7.4" text-anchor="middle" fill="#111" stroke="#111" stroke-width="0.1" transform="translate(644.8 279.9) scale(1 1.1)">3</text>
<line x1="656.5" y1="270.3" x2="656.5" y2="272.3" stroke="#3a3a3a" stroke-width="0.7"/>
<text font-size="7.4" text-anchor="middle" fill="#111" stroke="#111" stroke-width="0.1" transform="translate(656.5 279.9) scale(1 1.1)">4</text>
<line x1="668.3" y1="270.3" x2="668.3" y2="272.3" stroke="#3a3a3a" stroke-width="0.7"/>
<text font-size="7.4" text-anchor="middle" fill="#111" stroke="#111" stroke-width="0.1" transform="translate(668.3 279.9) scale(1 1.1)">5</text>
<text font-size="8" text-anchor="middle" fill="#111" stroke="#111" stroke-width="0.1" transform="translate(638.3 289.2) scale(1 1.1)">E2: P4 Ratio (pg/ng)</text>
<text x="578.2" y="233.7" font-size="8" text-anchor="middle" fill="#111" stroke="#111" stroke-width="0.1" transform="rotate(-90 578.2 233.7)">% Time spent in target quadrant</text>
<text x="588.4" y="233.7" font-size="8" text-anchor="middle" fill="#111" stroke="#111" stroke-width="0.1" transform="rotate(-90 588.4 233.7)">(Cycle 7)</text>
<text font-size="5.6" text-anchor="start" fill="#1a1a1a" stroke="#1a1a1a" stroke-width="0.1" font-style="italic" transform="translate(615 173.4) scale(1 1.1)">Pearson r = -0.760</text>
<text font-size="5.6" text-anchor="start" fill="#1a1a1a" stroke="#1a1a1a" stroke-width="0.1" font-style="italic" transform="translate(615 178.9) scale(1 1.1)">p = 1.52E-10</text>
<circle cx="649.2" cy="190" r="1.6" fill="#1f1fff"/>
<text font-size="5.7" text-anchor="start" fill="#222" stroke="#222" stroke-width="0.1" transform="translate(653.1 192.1) scale(1 1.1)">Vehicle</text>
<circle cx="649.2" cy="195.5" r="1.6" fill="#ff2424"/>
<text font-size="5.7" text-anchor="start" fill="#222" stroke="#222" stroke-width="0.1" transform="translate(653.1 197.6) scale(1 1.1)">VCD</text>
<line x1="623.5" y1="199.8" x2="658.7" y2="259.1" stroke="#333" stroke-width="0.6"/>
<path d="M630.5 199.2h0M634 206.3h0M631.6 194.1h0M635.3 208.1h0M631.6 199.5h0M629.5 192.6h0M629.9 203h0M635.8 199.2h0M626.7 205.7h0M629.4 210.8h0M631 197.2h0M628.4 195h0M635.5 200.8h0M632.1 209.5h0M623.2 192.3h0M626.5 207.6h0M635.1 196.9h0M624.2 205.4h0M625.9 206.4h0M622.5 201.4h0" stroke="#1f1fff" stroke-width="2.3" stroke-linecap="round"/>
<path d="M642.3 231.7h0M653.4 242.2h0M654.7 254.8h0M657.1 257.2h0M634.4 229.7h0M641.7 239.4h0M633.3 217.7h0M651 241.5h0M626.7 218.7h0M632.6 217.9h0M653.2 243.9h0M656.6 253.1h0M646.1 243.3h0M634.7 227.9h0M642.5 231.6h0M643.8 237.9h0M638.6 232.9h0M652.4 247h0M650 238.9h0M633.5 227.9h0M633.6 212.3h0M651.5 249.2h0M651 249.7h0M654.1 259.4h0" stroke="#ff2424" stroke-width="2.3" stroke-linecap="round"/>
<text font-size="11.5" text-anchor="start" fill="#111" stroke="#111" stroke-width="0.1" transform="translate(1.6 323.5) scale(1 1.1)">g</text>
<text font-size="8" text-anchor="middle" fill="#111" stroke="#111" stroke-width="0.1" transform="translate(78.8 322) scale(1 1.1)">Cycle 0</text>
<text font-size="8" text-anchor="middle" fill="#111" stroke="#111" stroke-width="0.1" transform="translate(150.2 322) scale(1 1.1)">Cycle 7</text>
<text x="35.8" y="364" font-size="8" text-anchor="middle" fill="#111" stroke="#111" stroke-width="0.1" transform="rotate(-90 35.8 364)">Vehicle</text>
<text x="35.8" y="435.9" font-size="8" text-anchor="middle" fill="#111" stroke="#111" stroke-width="0.1" transform="rotate(-90 35.8 435.9)">VCD</text>
<path d="M76.7 388.6q-1.3-4.2-0.9-6.3q0.4-2.1-0.1-4.2q-0.5-2.1-0.1-4.2q0.4-2.1 1.2-4.2q0.7-2.1 0.6-4.2q-0.1-2.1-0.5-4.2q-0.3-2.1-1.5-3.8q-1.1-1.6-0.6-1q0.5 0.7 1.3 0.6q0.8-0.1 1.1-0.9q0.3-0.7-0.2-1.3q-0.5-0.7-1.3-0.6q-0.8 0.1-1.1 0.8q-0.3 0.8-2.1 0.5q-1.8-0.3-2.7-0.5q-0.8-0.1-1.1-0.9q-0.4-0.8 0.1-1.6q0.6-0.7 1.5-0.6q0.9 0.2 1.2 1q0.3 0.9-0.3 1.6q-0.5 0.7-1.6-0.7q-1.1-1.4-2.3-2.7q-1.2-1.2-3.1-1.3q-2 0-3.3-1q-1.4-1-2.9-1.9q-1.4-0.9-3.3-0.9q-1.9-0.1-0.9 1.5q1 1.6 2.4 2.4q1.5 0.9 3 1.8q1.4 0.9 2.8 1.6q1.5 0.8 2.9 1.7q1.4 1 3.1 1.5q1.7 0.4 2.9 1.7q1.2 1.3 2.6 2.2q1.4 0.8 4.3-0.6q3-1.5 3.2-2q0.2-0.6-0.2-1q-0.4-0.4-1-0.3q-0.5 0-0.7 0.5q-0.2 0.6 0.1 1q0.4 0.5 1 0.4q0.6-0.1 2.2-0.7q1.7-0.7 3.1-1.6q1.5-0.9 3.2-1.5q1.7-0.6 3.1-1.6q1.4-1.1 3-1.8q1.6-0.7 2.4-1.3q0.8-0.6 1.8-0.1q0.9 0.4 1 1.4q0 1-0.8 1.6q-0.8 0.5-1.7 0.1q-1-0.4-1-1.4q-0.1-1-1.7-0.2q-1.5 0.8-3 1.7q-1.5 0.9-3.4 1q-1.9 0.2-2.9 1.9q-1.1 1.6-3.2 1.6q-2 0-3.5 0.9q-1.6 0.8-0.6 2q1 1.2 1.3 0.7q0.2-0.5 0.7-0.5q0.6 0 0.9 0.4q0.3 0.5 0.1 1q-0.3 0.4-0.9 0.5q-0.5 0-0.8-0.5q-0.3-0.4 0.2 1.3q0.4 1.6 0.4 3.2q0 1.6 0 3.3q0 1.6-0.1 3.2q-0.1 1.7-0.3 3.4q-0.2 1.6-0.5 2q-0.2 0.4-0.7 0.4q-0.5 0-0.7-0.5q-0.3-0.4 0-0.8q0.3-0.4 0.8-0.4q0.5 0 0.7 0.4q0.2 0.5 0.4 2.1q0.1 1.6 0.3 2.2q0.2 0.5-0.2 1q-0.3 0.4-0.9 0.3q-0.6-0.1-0.8-0.6q-0.2-0.5 0.1-1q0.4-0.4 1-0.4q0.6 0.1 0.6 1.8q-0.1 1.6-0.3 2.1q-0.3 0.5-0.8 0.5q-0.5 0.1-0.9-0.4q-0.3-0.4 0-0.8q0.2-0.5 0.7-0.5q0.5-0.1 0.8 0.3q0.4 0.4 0.6 2q0.2 1.7 0.5 1.4q0.4-0.2 0.4-0.6q-0.1-0.4-0.5-0.5q-0.3-0.2-0.6 0q-0.4 0.2-0.4 0.6q0.1 0.4 0.5 0.6q0.3 0.2 0.3-1.5q0-1.6 0-3.2q0-1.7 0-3.3q0-1.6 0-3.2q0-1.7 0-3.4q0-1.6-0.2-3.2q-0.1-1.7-0.1-3.3q0.1-1.6-0.6-3.2q-0.6-1.7-0.2-3.4q0.4-1.6 0.3-2.6q0-0.9 1.5-1.5q1.5-0.7 2.6-1.9q1.2-1.1 3.1-1.1q1.9 0 2.1 0.5q0.2 0.5-0.1 0.9q-0.3 0.4-0.8 0.3q-0.5 0-0.7-0.5q-0.2-0.4 0-0.9q0.3-0.4 0.8-0.3q0.6 0 2.2-0.4q1.6-0.4 3.2-0.7q1.7-0.4 2.4-2.4q0.7-2 1.6-1.8q1 0.3 1.3 1.3q0.3 1-0.4 1.7q-0.7 0.8-1.7 0.5q-1-0.2-1.3-1.2q-0.3-1 0.4-1.8q0.7-0.7 2.2-1.3q1.5-0.7 0.6 1q-0.9 1.6-2.5 2q-1.6 0.4-2.7 1.6q-1.1 1.3-2.4 2.3q-1.3 1-2.7 1.7q-1.4 0.8-2.8 1.7q-1.3 0.9-2.6 1.8q-1.4 0.8-3 1.2q-1.6 0.5-3-2.5q-1.4-3-2.9-3.5q-1.6-0.6-2.8-1.9q-1.1-1.3-2.8-1.6q-1.7-0.3-1.6 0.5q0.1 0.8-0.5 1.3q-0.5 0.5-1.2 0.2q-0.8-0.3-0.9-1q-0.2-0.8 0.4-1.3q0.6-0.5 1.4-0.2q0.7 0.2-0.6-0.7q-1.4-0.9-2.6-2q-1.3-1.1-3.1-1.3q-1.8-0.2-0.5 0.8q1.3 1.1 2.6 2q1.3 1 2.3 2.5q1 1.6 2.2 2.7q1.2 1.2 2.5 2.3q1.2 1 3 1.2q1.7 0.3 3.2 1q1.4 0.7 2.3-2q1-2.7 1-2.2q-0.1 0.5 0.3 0.8q0.5 0.3 0.9 0.1q0.5-0.2 0.6-0.7q0-0.5-0.4-0.8q-0.4-0.3-0.9-0.1q-0.5 0.2 1-0.8q1.4-1 1.4-0.5q0 0.4 0.3 0.6q0.4 0.2 0.7 0q0.4-0.2 0.4-0.6q0-0.5-0.4-0.7q-0.3-0.2-0.7 0q-0.3 0.2 1.4-0.3q1.6-0.6 3.1-1.5q1.4-0.9 1.8-1.1q0.5-0.2 0.9 0.1q0.4 0.2 0.4 0.7q-0.1 0.5-0.6 0.7q-0.4 0.2-0.8-0.1q-0.3-0.3-0.3-0.8q0-0.4 1.5-1.3q1.5-1 1.2-1.5q-0.3-0.6 0.1-1.1q0.4-0.5 1-0.4q0.6 0 0.9 0.5q0.2 0.6-0.1 1.2q-0.4 0.5-1 0.4q-0.6-0.1 0.7-1.2q1.3-1.2-0.2-0.3q-1.5 0.9-3 1.8q-1.4 0.9-2.9 1.8q-1.5 0.9-3 1.7q-1.4 0.9-2.9 1.8q-1.5 0.9-3 1.8q-1.5 0.9-2 1.2q-0.5 0.2 0.4 0.4q0.8 0.3 1 1.2q0.3 0.8-0.4 1.4q-0.6 0.6-1.5 0.4q-0.8-0.2-1-1.1q-0.2-0.8 0.4-1.5q0.6-0.6-1.3-0.8q-2-0.2-3.3-1.4q-1.4-1.3-2.9-2.4q-1.4-1.2-3-1.9q-1.7-0.8-3.1-2q-1.4-1.1-2.7-1q-1.2 0.1-1.9-1q-0.6-1-0.1-2.1q0.6-1.1 1.8-1.2q1.2-0.1 1.9 1q0.7 1 0.1 2.1q-0.5 1.1 1.1 2q1.6 0.9 3.6 1.2q1.9 0.2 3.1 1.8q1.1 1.5 2.3 3q1.2 1.5 3 2q1.8 0.6 3.7 1q1.8 0.4 2.1 2.6q0.3 2.2 0.3 2.7q0 0.5 0.5 0.7q0.4 0.3 0.8 0q0.4-0.3 0.4-0.8q0-0.4-0.5-0.7q-0.4-0.2-0.8 0q-0.4 0.3 0.4 2q0.9 1.6 0.9 3.3q0 1.7-0.5 1.4q-0.4-0.2-0.4-0.7q-0.1-0.5 0.4-0.8q0.4-0.3 0.8-0.1q0.5 0.2 0.5 0.7q0.1 0.6-0.3 0.9q-0.5 0.3-0.3 1.9q0.2 1.7 0.6 1.5q0.4-0.1 0.7 0.1q0.3 0.3 0.2 0.7q-0.1 0.4-0.5 0.6q-0.3 0.1-0.7-0.1q-0.3-0.3-0.2-0.7q0.1-0.4-0.7 1.3q-0.8 1.6-1.3 1q-0.5-0.5-0.2-1.2q0.2-0.6 0.9-0.7q0.6-0.2 1.1 0.3q0.5 0.5 0.3 1.2q-0.2 0.7-0.9 0.9q-0.7 0.1-0.2 1.7q0.4 1.7 0.2 2.1q-0.1 0.4 0.1 0.8q0.3 0.4 0.7 0.4q0.5-0.1 0.7-0.5q0.2-0.5-0.1-0.9q-0.3-0.3-0.8-0.3q-0.4 0.1 0 1.8q0.3 1.6-0.1 3.2q-0.4 1.7-0.8 2.2q-0.4 0.6-1.1 0.5q-0.6-0.1-0.8-0.7q-0.3-0.6 0.1-1.1q0.4-0.6 1.1-0.5q0.6 0.1 0.8 0.7q0.3 0.6 0.7-1.1q0.4-1.6-0.1-3.2q-0.5-1.7-0.7-3.4q-0.1-1.6 0.1-3.2q0.3-1.7 0.7-3.4q0.4-1.6 0.4-3.3q0-1.7 0-3.3q0-1.7 0-3.4q0-1.6-0.9-3.3q-0.8-1.7 1.6-0.8q2.5 0.8 4.1 0.5q1.7-0.4 1.5-0.9q-0.1-0.5-0.6-0.6q-0.5-0.1-0.9 0.3q-0.3 0.4-0.1 0.9q0.1 0.5 0.6 0.6q0.5 0.1 0.8-0.3q0.4-0.4 1.9-1.1q1.5-0.7 1.3-1.1q-0.2-0.3-0.6-0.3q-0.5-0.1-0.7 0.2q-0.2 0.4 0 0.8q0.2 0.4 0.6 0.4q0.4 0 0.6-0.3q0.3-0.4 1.6-1.2q1.4-0.8 1.1-0.5q-0.2 0.3-0.1 0.7q0.1 0.4 0.5 0.5q0.4 0.1 0.7-0.2q0.3-0.3 0.2-0.7q-0.1-0.4-0.5-0.5q-0.5-0.1 0.9-1q1.4-0.8 2.7-1.8q1.3-1 0.9-1.5q-0.3-0.6 0-1.2q0.3-0.6 0.9-0.7q0.7 0 1 0.5q0.4 0.6 0.1 1.2q-0.3 0.6-1 0.6q-0.6 0.1-2.4 0.3q-1.8 0.1-3.1 1.1q-1.4 0.9-3 1.3q-1.6 0.5-2.8 1.5q-1.3 1.1-2.4 2.3q-1.2 1.2-2.8 1.8q-1.5 0.6-3.2 0.9q-1.7 0.3-3.8 0q-2.2-0.2-2-0.7q0.2-0.5 0.8-0.6q0.6 0 0.9 0.5q0.3 0.4 0.1 0.9q-0.2 0.5-0.8 0.6q-0.6 0-0.9-0.5q-0.3-0.4-2.2-0.7q-2-0.3-3.2-1.8q-1.3-1.4-3.2-1.9q-1.8-0.4-2 0q-0.2 0.4 0.1 0.8q0.2 0.4 0.6 0.4q0.5-0.1 0.7-0.5q0.2-0.4-0.1-0.8q-0.2-0.4-0.6-0.3q-0.5 0-1.7-1.6q-1.2-1.5-1.1-0.7q0.1 0.9-0.6 1.4q-0.6 0.6-1.4 0.2q-0.8-0.3-0.9-1.1q-0.1-0.9 0.6-1.4q0.6-0.5 1.4-0.2q0.8 0.3 0-1.9q-0.8-2.2-2.3-3.2q-1.5-1-1.6-1.5q-0.2-0.5 0.2-0.9q0.4-0.4 0.9-0.3q0.5 0.2 0.6 0.8q0.2 0.5-0.2 0.8q-0.4 0.4-0.9 0.3q-0.5-0.2-0.2 0.7q0.2 0.9-0.4 1.6q-0.7 0.6-1.6 0.3q-0.9-0.2-1.2-1.1q-0.2-0.9 0.4-1.5q0.7-0.7 1.6-0.4q0.9 0.2 2.8 0.7q1.8 0.4 3.5 1.1q1.7 0.7 2.8 2.3q1.1 1.7 2.5 2.8q1.5 1.2 3.8 0.9q2.2-0.2 3.7 1q1.4 1.1 3 2q1.6 0.8 2.1 1.1q0.5 0.4 1-0.4q0.4-0.7 0-1.5q-0.4-0.8-1.3-0.9q-0.9 0-1.4 0.7q-0.5 0.8-0.1 1.6q0.5 0.8 1.4 0.9q0.9 0 2.4-0.8q1.4-0.7 3-1.1q1.7-0.3 2.2-0.1q0.6 0.3 1 0q0.5-0.4 0.5-1q-0.1-0.6-0.7-0.8q-0.5-0.3-1 0q-0.5 0.4-0.4 1q0.1 0.6 1.1-0.8q1-1.5 1.5-0.9q0.5 0.6 1.3 0.5q0.8-0.1 1-0.8q0.3-0.8-0.1-1.4q-0.5-0.6-1.3-0.5q-0.8 0.1-1.1 0.9q-0.3 0.7 1.1-0.1q1.4-0.8 0.9-1.5q-0.4-0.7-1.2-0.6q-0.8 0-1.2 0.7q-0.4 0.7 0.1 1.4q0.4 0.7 1.2 0.7q0.8 0 1.2-0.8q0.4-0.7 1.4-2.1q1.1-1.4 2.6-2.1q1.5-0.6 3.2-1q1.6-0.3 0.9-0.7q-0.7-0.4-0.7-1.3q0-0.8 0.7-1.3q0.7-0.4 1.5 0q0.7 0.5 0.7 1.3q0 0.9-0.7 1.3q-0.8 0.4-2.7 0.3q-2-0.2-2.9 1.4q-0.9 1.7-2.1 2.9q-1.1 1.3-3 1.2q-2-0.1-3.2 1q-1.2 1.1-3 1.1q-1.9 0.1-3.4 0.7q-1.5 0.7-2.2 2.7q-0.7 1.9 0.3 3.9q1.1 2 1.7 2.7q0.6 0.7 1.5 0.5q0.9-0.2 1.2-1q0.3-0.9-0.3-1.5q-0.6-0.7-1.5-0.5q-0.9 0.1-1.2 1q-0.3 0.8 0.5 2.5q0.7 1.6 0.8 3.2q0.1 1.7 0.1 3.4q0 1.6 0.3 1.9q0.4 0.2 0.4 0.6q-0.1 0.4-0.5 0.5q-0.3 0.2-0.6 0q-0.4-0.2-0.4-0.6q0.1-0.4 0.5-0.6q0.3-0.2-0.8 1.4q-1 1.7-1.3 3.3q-0.3 1.7 0.5 3.4q0.9 1.6 0.9 0.9q0-0.7-0.7-1q-0.6-0.3-1.2 0.1q-0.5 0.4-0.5 1.1q0 0.6 0.6 1q0.7 0.3 1.2-0.1q0.6-0.4 0.1-2q-0.5-1.7 0.2-3.4q0.7-1.6 0.6-3.3q-0.1-1.6-0.3-3.2q-0.2-1.7-0.6-3.4q-0.4-1.6 0.6-3.2q1-1.7 1-3.4q0-1.6-3.6-1.8q-3.5-0.1-3.7-0.9q-0.2-0.8 0.4-1.4q0.6-0.5 1.3-0.3q0.8 0.2 1 1q0.2 0.7-0.3 1.3q-0.6 0.6-1.4 0.4q-0.8-0.2-2.5-0.6q-1.7-0.4-3.3-0.9q-1.6-0.6-2.8-1.8q-1.2-1.2-0.7-1.7q0.6-0.5 0.4-1.2q-0.1-0.8-0.9-1q-0.7-0.3-1.2 0.2q-0.6 0.5-0.4 1.3q0.1 0.7 0.8 1q0.8 0.2-0.8-0.3q-1.7-0.5-2.9-1.7q-1.2-1.2-2.1-2.9q-0.9-1.7-2.5-2.3q-1.6-0.6-1.3 0.4q0.3 0.9-0.4 1.6q-0.6 0.8-1.6 0.6q-1-0.2-1.3-1.2q-0.3-1 0.4-1.7q0.7-0.7 1.6-0.5q1 0.2 1.3 1.5q0.4 1.2-0.5 2.1q-0.9 1-2.1 0.7q-1.3-0.4-1.6-1.7q-0.4-1.2 0.5-2.1q0.9-0.9 2.1-0.6q1.3 0.3 2.5 1.6q1.1 1.4 2.5 2.2q1.5 0.8 3 1.4q1.6 0.6 3.5 0.8q1.8 0.1 2.7 2q0.8 1.8 2.1 2.7q1.4 1 3 1.6q1.6 0.5 3.4 0.8q1.7 0.2 2.1 1.6q0.4 1.4 0.3 3q-0.2 1.7-1.3 3.3q-1 1.6-1.8 3.2q-0.7 1.6-0.7 3.3q0.1 1.6 0 3.2q0 1.6 0.5 3.2q0.4 1.6 1.2 3.2q0.7 1.6 0.1 2.4q-0.6 0.8-1.6 0.7q-1-0.1-1.3-1.1q-0.4-0.9 0.2-1.7q0.6-0.7 1.6-0.6q0.9 0.1 1.3 1q0.4 0.9 0.7-0.7q0.2-1.6 0.7-3.2q0.5-1.6 1-3.2q0.4-1.6 1-3.2q0.6-1.7 0.3-3.3q-0.3-1.6-0.8-3.2q-0.6-1.6-0.4-3.3q0.2-1.6 0.5-3.2l0.4-1.6" stroke="#9566cf" stroke-width="0.5" fill="none"/>
<path d="M71.8 392.4L81.6 392.4L81.6 362.3L107.9 345.3L101.9 337.4L77 353.5L51.5 337.4L45.5 345.3L71.8 362.3Z" stroke="#333" stroke-width="0.8" fill="none"/>
<text font-size="6" text-anchor="start" fill="#ff2424" stroke="#ff2424" stroke-width="0.1" transform="translate(87.1 336.6) scale(1 1.1)">Novel arm</text>
<circle cx="76.7" cy="388.6" r="1.4" fill="#14147a"/>
<path d="M152 388.6q0.8-4.2 0.6-6.3q-0.2-2.1-0.5-4.2q-0.4-2.1-0.7-4.2q-0.3-2.1 0.4-4.2q0.7-2.1 1.1-4.2q0.5-2.1-0.3-4.2q-0.8-2.1-3-2.1q-2.2 0.1-3.7-0.7q-1.5-0.9-2.7-2.1q-1.3-1.3-3-1.8q-1.8-0.4-3-1.7q-1.3-1.3-2.5-2.6q-1.3-1.3-2.5-2.5q-1.3-1.3-1-0.6q0.2 0.7-0.3 1.2q-0.4 0.6-1.1 0.5q-0.8-0.1-1-0.8q-0.3-0.7 0.1-1.3q0.5-0.6 1.3-0.4q0.7 0.1-0.7-0.9q-1.4-1 0.3-0.4q1.6 0.5 3.5 0.8q1.9 0.2 3.6 0.7q1.7 0.5 3.3 1.2q1.7 0.6 3.2 1.4q1.5 0.9 3 1.8q1.4 0.9 2.9 1.8q1.5 0.9 3 1.8q1.5 0.9 2.1 1.5q0.7 0.7 0.3-0.2q-0.4-1 0.2-1.9q0.6-0.8 1.6-0.6q1 0.1 1.4 1q0.5 0.9-0.1 1.7q-0.6 0.9-1.7 0.8q-1-0.1 0.2-1.4q1.2-1.4 0.7-2.3q-0.5-0.8-1.5-0.8q-1 0-1.5 0.9q-0.5 0.9 0 1.7q0.5 0.9 1.6 0.9q1 0 1.5-0.9q0.4-0.9 2.5-0.9q2-0.1 3.4-1.1q1.4-1 2.5-2.6q1.1-1.6 2.9-1.9q1.8-0.4 3.4-1.3q1.5-0.8 3.6-0.7q2.2 0.2 2.7 0.2q0.4 0 0.6-0.4q0.2-0.4 0-0.8q-0.3-0.4-0.8-0.4q-0.4 0-0.7 0.5q-0.2 0.4 0.1 0.8q0.3 0.3-1.2 1.3q-1.4 1-3 1.8q-1.5 0.8-3 1.8q-1.4 1-2.9 1.9q-1.5 0.9-3 1.8q-1.5 0.9-3.1 1.6q-1.6 0.8-3 1.8q-1.4 1.1-3.2 1.4q-1.8 0.3-1.1 1.1q0.8 0.8 0.9 1.3q0.1 0.5 0.5 0.7q0.5 0.2 0.9-0.1q0.4-0.4 0.3-0.9q0-0.5-0.5-0.7q-0.5-0.2-0.9 0.2q-0.4 0.3 0 2q0.4 1.6 0.2 3.2q-0.3 1.6 0 3.3q0.2 1.6 0.2 3.2q0 1.7 0 3.4q0 1.6-0.2 2q-0.1 0.4 0.2 0.7q0.3 0.3 0.7 0.2q0.4-0.1 0.5-0.4q0.1-0.4-0.2-0.8q-0.2-0.3-0.6-0.2q-0.4 0.1-0.8 1.8q-0.4 1.6 0.1 1.7q0.6 0.1 1-0.4q0.4-0.4 0.2-1q-0.1-0.5-0.7-0.6q-0.6-0.1-1 0.4q-0.4 0.4-0.2 1q0.2 0.5 0.6 2.1q0.4 1.7 0.1 2q-0.3 0.3-0.7 0.2q-0.4-0.1-0.6-0.5q-0.1-0.4 0.2-0.7q0.3-0.4 0.7-0.3q0.4 0.1 0.5 0.5q0.2 0.4 0.2 2q-0.1 1.7 0 0.1q0-1.6-0.1-3.3q-0.1-1.6-1-3.2q-0.8-1.7 0-3.3q0.8-1.7 0.6-3.4q-0.1-1.6-0.7-3.2q-0.6-1.7-0.9-3.3q-0.3-1.6 0-3.2q0.3-1.7 0.6-3.4q0.3-1.6-3.2-1.1q-3.5 0.6-4.7-1q-1.2-1.5-2.4-3q-1.2-1.5-3.1-1.9q-1.9-0.3-3.2-1.6q-1.2-1.4-3.1-1.9q-1.8-0.5-3.3-1.6q-1.4-1.1-1.1-2.2q0.2-1.1 1.3-1.5q1.1-0.4 2 0.4q0.8 0.8 0.6 1.9q-0.3 1.1-1.3 1.5q-1.1 0.3-2-0.4q-0.9-0.8 0.8-0.1q1.8 0.6 3 2q1.3 1.4 3.1 1.9q1.8 0.5 3.3 1.5q1.5 0.9 3.8 0.5q2.4-0.4 3.8 0.8q1.4 1.3 2.7 2.6q1.4 1.2 3.7 2q2.2 0.7 3.6-0.4q1.3-1.2 2.6-2.5q1.3-1.2 3-1.8q1.8-0.5 2.3-0.9q0.4-0.3 0.9-0.2q0.5 0.2 0.6 0.8q0.1 0.6-0.3 1q-0.4 0.3-0.9 0.1q-0.6-0.2-0.7-0.8q-0.1-0.5 0.9-2.1q1.1-1.7 3.2-1.6q2.1 0 3.6-0.9q1.5-0.9 0 0q-1.5 0.9-3 1.8q-1.5 0.9-3 1.8q-1.5 0.9-3 1.8q-1.6 1-3.1 1.9q-1.5 0.9-3.4 1.1q-2 0.1-3.3 1.3q-1.4 1.2-0.3-0.1q1.2-1.2 2.9-1.7q1.6-0.6 2.5-0.2q0.9 0.4 1.7-0.2q0.9-0.6 0.8-1.6q-0.2-1-1.1-1.4q-1-0.4-1.8 0.2q-0.8 0.6-0.6 1.6q0.1 1 1.8 0.7q1.7-0.3 3.1-1.1q1.5-0.9 2.6-2.2q1.1-1.2 2.4-2.3q1.3-1.2 3.1-1.4q1.8-0.1 3.1-1.3q1.2-1.1 1.5-1.6q0.3-0.4 0-1q-0.2-0.5-0.8-0.5q-0.6 0-0.9 0.5q-0.3 0.5 0 1q0.2 0.5 0.8 0.5q0.6 0 1.7 0q1.1 0 1.7 1q0.6 0.9 0.1 1.9q-0.6 1-1.7 1q-1.1 0-1.7-0.9q-0.6-1-0.1-2q0.6-1-1.2-0.8q-1.9 0.2-3 1.5q-1.2 1.2-3 1.4q-1.8 0.2-2.6 2q-0.9 1.8-2.3 2.6q-1.4 0.8-3.1 1.3q-1.7 0.4-2.9 1.7q-1.1 1.2-2.9 1.5q-1.7 0.3-3-2.2q-1.2-2.5-2.8-3q-1.7-0.6-2.9-2q-1.2-1.5-2.9-2.1q-1.6-0.7-3.2-1.4q-1.5-0.7-2.8-1.9q-1.4-1.2-0.9-0.8q0.5 0.4 0.4 1q-0.1 0.6-0.7 0.9q-0.6 0.2-1-0.2q-0.5-0.4-0.4-1q0.1-0.6 0.7-0.8q0.5-0.3-1.3-0.6q-1.9-0.2-3-1.8q-1-1.7-1-2.3q0-0.6-0.5-0.9q-0.6-0.2-1.1 0.1q-0.5 0.3-0.5 0.9q0 0.6 0.6 0.9q0.5 0.3 1-0.1q0.5-0.3 0.2 0.8q-0.2 1.1-1.2 1.4q-1.1 0.3-1.9-0.4q-0.8-0.8-0.5-1.9q0.2-1 1.3-1.4q1-0.3 1.8 0.4q0.8 0.8 2.4 1.5q1.6 0.8 2.9 2q1.3 1.2 3.1 1.7q1.7 0.4 3 1.7q1.2 1.2 2.7 2q1.6 0.8 3.2 1.6q1.5 0.8 3 1.6q1.5 0.9 3.1 1.7q1.6 0.8 1.7 4.1q0.2 3.2 0.2 5.1q0.1 1.8-0.3 3.6q-0.3 1.8 0.6 3.6q1 1.9 1 3.7q0 1.8 0.5 1.9q0.4 0.1 0.7-0.2q0.3-0.4 0.2-0.8q-0.2-0.4-0.7-0.5q-0.4-0.1-0.7 0.3q-0.3 0.3-0.2 0.7q0.2 0.4 0.2 2.2q0 1.8 0.4 2.1q0.3 0.3 0.7 0.1q0.4-0.2 0.4-0.6q0.1-0.4-0.2-0.6q-0.4-0.3-0.8-0.2q-0.4 0.2-0.5 0.6q0 0.4 0 2.2q0 1.9-0.2 2.3q-0.1 0.4 0.1 0.7q0.3 0.3 0.7 0.2q0.4 0 0.6-0.3q0.1-0.4-0.2-0.8q-0.2-0.3-0.6-0.2q-0.4 0-0.4-1.9q0-1.8 0-3.6q0-1.8 0-3.6q0-1.8-1.3-3.7q-1.3-1.8-2.9-3.6q-1.6-1.8-1.6-3.6q-0.1-1.9-0.5-3.7q-0.5-1.8 2.8-2.5q3.4-0.7 5.2-1.1q1.8-0.4 1.5-0.7q-0.4-0.4-0.8-0.3q-0.5 0.2-0.6 0.7q-0.1 0.5 0.2 0.8q0.4 0.3 0.8 0.1q0.5-0.1 0.6-0.6q0.1-0.4 1.3-2q1.1-1.5 3.1-1.6q2-0.1 3.9-0.5q1.8-0.3 3.3-1.3q1.5-0.9 3-1.7q1.6-0.9 2.1-1.5q0.5-0.6 1.3-0.5q0.7 0.1 1 0.9q0.3 0.7-0.2 1.3q-0.5 0.6-1.3 0.5q-0.8-0.1-1.1-0.8q-0.3-0.8-1.8 0.1q-1.5 0.9-3 1.8q-1.5 0.9-3.5 0.9q-2.1 0.1-4 0.4q-1.9 0.2-2.8 2q-1 1.9-2.8 2.5q-1.7 0.5-3.4 1.1q-1.6 0.7-2.7-1.2q-1-1.9-2.3-3q-1.2-1.1-2.4-2.4q-1.2-1.2-2.6-2q-1.4-0.8-1.1-1.1q0.4-0.4 0.8-0.3q0.4 0.2 0.6 0.7q0.1 0.4-0.3 0.7q-0.3 0.3-0.7 0.2q-0.4-0.2-0.5-0.6q-0.2-0.4-1.6-1.2q-1.4-0.9-3-1.3q-1.7-0.4-3-1.5q-1.3-1-2.7-1.8q-1.4-0.8-1.5-2q0-1.2 1-1.8q1-0.6 2 0q1.1 0.5 1.2 1.6q0 1.2-1 1.8q-1 0.7-2 0.1q-1.1-0.5 0.2 0.5q1.3 1 2.8 1.7q1.5 0.7 2.8 1.6q1.4 0.8 2.8 1.7q1.4 0.9 2.5 2.2q1.2 1.3 3 1.3q1.9 0.1 3.3 0.9q1.4 0.8 2.9 1.6q1.4 0.9 2.9 2.8q1.5 2 2.9 0.8q1.4-1.2 3.1-1.8q1.7-0.7 3.3-1.6q1.5-0.9 1.3-0.5q-0.1 0.4-0.5 0.5q-0.5 0-0.7-0.3q-0.3-0.4-0.1-0.8q0.1-0.4 0.5-0.5q0.5 0 0.7 0.3q0.3 0.4 1.8-0.6q1.6-0.9 1.2-0.7q-0.3 0.2-0.6 0q-0.4-0.2-0.3-0.6q0-0.4 0.3-0.6q0.4-0.2 0.7 0q0.3 0.2 0.3 0.6q0 0.4 1.6-0.5q1.5-0.9 3.1-1.9q1.5-0.9 1.9-0.9q0.4 0 0.6 0.4q0.3 0.4 0 0.8q-0.2 0.4-0.6 0.4q-0.5-0.1-0.7-0.4q-0.2-0.4 0.1-0.8q0.2-0.4-1.3 0.5q-1.6 1-3.1 1.9q-1.6 0.9-3.2 1.8q-1.5 1-3.2 1.7q-1.7 0.7-3.1 1.8q-1.4 1.1-3.2 1.6q-1.8 0.5-3.3 1.5q-1.5 1-3.2-1.6q-1.8-2.7-3-4q-1.3-1.2-2.6-2.5q-1.3-1.3-2.9-2q-1.6-0.8-3.4-1.2q-1.8-0.4-2.9-2q-1.1-1.6-0.9-1.2q0.2 0.4 0 0.8q-0.2 0.3-0.7 0.3q-0.4-0.1-0.5-0.5q-0.2-0.3 0-0.6q0.2-0.4 0.6-0.4q0.4 0-1.1-0.9q-1.5-0.9-0.5-1.1q1-0.2 1.6 0.5q0.7 0.8 0.4 1.8q-0.3 0.9-1.3 1.2q-0.9 0.2-1.6-0.5q-0.7-0.8-0.4-1.8q0.3-1 1.7 0.2q1.3 1.1 2.9 1.9q1.6 0.8 2.8 2.1q1.3 1.4 2.7 2.4q1.4 1.1 2.9 2q1.5 0.9 3.2 1.6q1.6 0.6 2.3 2.7q0.8 2.1 0.4 3.5q-0.4 1.4 0.9 3q1.3 1.6 1.6 3.2q0.3 1.6 0.1 3.2q-0.2 1.6-1.3 1.6q-1 0-1.5-0.9q-0.6-0.9 0-1.8q0.5-0.9 1.5-0.9q1.1 0 1.6 0.9q0.5 0.9 0 1.8q-0.5 0.9 0.4 2.5q0.8 1.6 0.3 3.2q-0.5 1.6-0.7 3.2q-0.2 1.6 0.7 1.6q1 0 1.5 0.8q0.5 0.9 0 1.8q-0.5 0.8-1.5 0.8q-0.9 0-1.4-0.8q-0.5-0.9 0-1.8q0.5-0.8-0.5 0.8q-1 1.6-0.1 3.2q1 1.7 1 0q0.1-1.6 0.5-3.2q0.4-1.6-0.9-3.2q-1.3-1.6-0.6-3.2q0.8-1.6 0.2-3.2q-0.5-1.6-0.8-3.2q-0.2-1.6-0.2-3.2q-0.1-1.6-0.5-3.2q-0.5-1.6 0.2-3.2l0.8-1.6" stroke="#9566cf" stroke-width="0.5" fill="none"/>
<path d="M147.1 392.4L156.9 392.4L156.9 362.3L183.2 345.3L177.2 337.4L152.3 353.5L126.8 337.4L120.8 345.3L147.1 362.3Z" stroke="#333" stroke-width="0.8" fill="none"/>
<text font-size="6" text-anchor="start" fill="#ff2424" stroke="#ff2424" stroke-width="0.1" transform="translate(162.4 336.6) scale(1 1.1)">Novel arm</text>
<circle cx="152" cy="388.6" r="1.4" fill="#14147a"/>
<path d="M76.2 455.1q-1.2-4.2-0.1-6.3q1.1-2.1 0.7-4.2q-0.3-2.1-0.9-4.2q-0.6-2.1 0.3-4.2q0.8-2.1 0.6-4.2q-0.3-2.1 0-4.2q0.4-2.1-1.1-3.9q-1.6-1.8-2.6-1.4q-1 0.3-1.8-0.4q-0.7-0.7-0.5-1.7q0.2-1 1.2-1.4q1-0.3 1.8 0.4q0.7 0.7 0.5 1.7q-0.2 1-1.9 0.7q-1.6-0.4-3.2-0.8q-1.7-0.3-3.2-0.9q-1.6-0.5-1.3-1.5q0.2-1 1.2-1.3q1-0.3 1.8 0.4q0.7 0.7 0.5 1.7q-0.3 1.1-1.3 1.4q-1 0.3-1.7-0.4q-0.8-0.8-2.2-1.6q-1.4-0.8-0.5-0.5q1 0.3 1.7-0.4q0.7-0.7 0.5-1.7q-0.2-0.9-1.2-1.2q-1-0.3-1.7 0.4q-0.7 0.7-0.4 1.7q0.2 0.9-1-0.2q-1.2-1.2-2.5-2.1q-1.3-1-2.7-1.7q-1.5-0.7-2-1.5q-0.4-0.7 0.1-1.5q0.5-0.8 1.4-0.8q0.9 0 1.3 0.8q0.4 0.8 0 1.6q-0.5 0.8-1.4 0.7q-0.9 0 0.2 1.4q1 1.4 3 1.1q2.1-0.3 3.5 0.5q1.5 0.7 3.4 0.7q1.8 0 3.4 0.5q1.6 0.4 3 1.3q1.3 0.8 2.7 1.6q1.4 0.8 2.8 1.6q1.4 0.9 1.6 0.8q0.3-0.1 2-0.6q1.8-0.5 3.5-1.1q1.7-0.6 3.3-1.4q1.5-0.8 2.8-2.1q1.3-1.3 2.5-2.7q1.3-1.3 0.5 0.8q-0.9 2-2.5 2.8q-1.5 0.9-2.5 2.6q-1 1.7-2.6 2.6q-1.5 0.8-3.1 1.5q-1.7 0.7-3.6 0.9q-1.9 0.3-2 1.7q-0.1 1.5-0.9 3.3q-0.9 1.8-0.4 2.6q0.6 0.8 1.6 0.7q1-0.1 1.4-1q0.5-0.9-0.1-1.7q-0.6-0.9-1.6-0.8q-1 0.1-1.4 1q-0.4 0.9 0.2 2.7q0.7 1.8 0.7 0.8q-0.1-1-1-1.4q-0.9-0.4-1.7 0.1q-0.8 0.6-0.7 1.6q0.1 1 1 1.4q0.8 0.4 1.6-0.1q0.8-0.6 1.6 1.1q0.9 1.8 0.5 2.5q-0.4 0.7-0.1 1.4q0.4 0.7 1.2 0.7q0.8 0 1.3-0.7q0.4-0.6 0-1.3q-0.4-0.7-1.2-0.7q-0.8-0.1-1.3 1.7q-0.4 1.7 0.2 1.6q0.6-0.2 0.8-0.8q0.1-0.6-0.4-1q-0.4-0.5-1-0.3q-0.6 0.2-0.7 0.8q-0.2 0.6 0.2 1q0.5 0.4 0.1 2.2q-0.3 1.8 0.1 1.4q0.5-0.4 1-0.2q0.6 0.2 0.7 0.7q0.1 0.6-0.4 1q-0.4 0.4-1 0.2q-0.5-0.2-0.6-0.8q-0.1-0.5-1.2 1.3q-1 1.7-1.6 0q-0.6-1.8 0.4-3.6q0.9-1.8 0.4-3.5q-0.4-1.8 0.2-3.6q0.6-1.7 0.2-3.4q-0.4-1.8-0.6-3.6q-0.2-1.8-0.2-3.6q-0.1-1.7-0.4-2.6q-0.3-0.8-2.1-1.2q-1.8-0.5-0.9-1q0.9-0.5 0.9-1.6q0-1-0.9-1.5q-0.8-0.5-1.7 0q-0.9 0.5-0.9 1.5q-0.1 1 0.8 1.6q0.9 0.5-0.5-0.6q-1.4-1.1-2.2-1.6q-0.8-0.4-1.6 0q-0.7 0.5-0.7 1.4q0 0.9 0.7 1.4q0.8 0.4 1.6 0q0.8-0.5 0.8-1.4q0-0.9-1.3-2.2q-1.3-1.3-0.5-0.9q0.8 0.4 0.8 1.2q0 0.9-0.7 1.3q-0.7 0.5-1.5 0.1q-0.7-0.4-0.7-1.3q-0.1-0.8 0.6-1.3q0.7-0.4-1.1-0.9q-1.7-0.5-1.9-1.1q-0.2-0.7-0.9-0.9q-0.7-0.2-1.2 0.4q-0.5 0.5-0.3 1.1q0.2 0.7 0.9 0.9q0.7 0.2 1.2-0.3q0.5-0.6-0.8-1.9q-1.3-1.3-3.5-1.1q-2.2 0.3-3.6-0.9q-1.4-1.1-0.2 0.4q1.2 1.4 2.9 2q1.7 0.6 3.1 1.6q1.5 1.1 2.9 2.2q1.4 1.1 3 1.8q1.7 0.7 3.4 1.2q1.8 0.5 3.2 1.6q1.5 1.1 3 2.1q1.4 0.9 3.3-1.2q2-2.2 3.3-3.3q1.3-1.1 0.8-1.7q-0.5-0.5-1.2-0.3q-0.7 0.2-0.9 0.9q-0.3 0.7 0.2 1.3q0.6 0.5 1.3 0.3q0.7-0.2 0.9-0.9q0.2-0.7 1.8-1.3q1.6-0.6 2.9-1.7q1.4-1 2.6-2.2q1.3-1.2 2.9-1.8q1.7-0.5 3.1-1.4q1.4-1 2.3-0.7q0.8 0.3 1 1.1q0.2 0.9-0.5 1.5q-0.6 0.6-1.5 0.4q-0.8-0.3-1-1.1q-0.2-0.9 0.4-1.5q0.7-0.7-0.3 1q-1 1.6-2.5 2.4q-1.5 0.7-3.3 1q-1.8 0.3-3 1.5q-1.2 1.3-2.8 2q-1.5 0.8-3 1.5q-1.5 0.8-2.6 2.1q-1.2 1.4-3 0.6q-1.9-0.7-3.4-1.7q-1.4-0.9-3.2-1.2q-1.8-0.3-3.5-0.9q-1.7-0.6-3.1-1.6q-1.4-1-3-1.8q-1.5-0.7-1.1-0.4q0.4 0.3 0.8 0.1q0.5-0.2 0.6-0.7q0-0.5-0.4-0.8q-0.4-0.3-0.9-0.1q-0.4 0.2-0.5 0.7q0 0.5-1 0.4q-0.9-0.1-1.3-1q-0.4-1 0.2-1.7q0.6-0.8 1.6-0.7q0.9 0.1 1.3 1q0.4 0.9-0.2 1.7q-0.6 0.8 1.1 1.3q1.7 0.6 3.3 1.3q1.6 0.6 2.9 1.8q1.3 1.2 2.8 2.1q1.4 0.9 3 1.7q1.5 0.8 3.1 1.5q1.5 0.8 2.2 1.6q0.8 0.9 1 0.5q0.2-0.4 0-0.7q-0.2-0.4-0.7-0.4q-0.4 0-0.6 0.4q-0.3 0.4 0 0.8q0.2 0.4 0.6 0.3q0.5 0 0.7 1.7q0.3 1.6 0.3 2.6q0.1 1.1-0.7 1.7q-0.9 0.5-1.8 0q-1-0.4-1-1.5q-0.1-1 0.8-1.6q0.8-0.6 1.7-0.1q1 0.5 1.7 2.1q0.7 1.6 1.1 3.2q0.4 1.6 0.4 3.3q0.1 1.6-0.3 1.5q-0.4-0.1-0.7 0.1q-0.3 0.3-0.2 0.8q0.1 0.4 0.5 0.5q0.4 0.1 0.7-0.2q0.3-0.3 0.2-0.7q-0.1-0.4-0.1 1.2q0 1.6-0.2 3.3q-0.1 1.6 0 0q0.2-1.7-0.7-3.3q-1-1.6-0.4-3.2q0.7-1.7 0.6-3.3q-0.1-1.6-0.1-3.2q0-1.6 0.4-3.2q0.4-1.7 0-3.3q-0.4-1.6 0.1-2.1q0.5-0.4 1.8-1.6q1.3-1.2 1.9-1.1q0.5 0.1 0.8-0.3q0.3-0.5 0.1-1q-0.2-0.5-0.7-0.5q-0.5-0.1-0.9 0.3q-0.3 0.4-0.1 0.9q0.2 0.5 1.9-0.2q1.6-0.7 3.1-1.7q1.5-0.9 2-1.1q0.4-0.1 0.5-0.6q0-0.5-0.4-0.9q-0.4-0.3-0.8-0.1q-0.5 0.2-0.5 0.7q-0.1 0.5 0.3 0.8q0.4 0.3 1.6-1.1q1.2-1.4 0.9-0.8q-0.2 0.6 0.2 1.1q0.5 0.5 1.2 0.4q0.6-0.1 0.8-0.7q0.2-0.7-0.2-1.2q-0.4-0.5-1-0.3q-0.7 0.1 1-0.5q1.6-0.6 2-0.3q0.3 0.3 0.2 0.8q-0.1 0.4-0.5 0.5q-0.5 0.1-0.8-0.2q-0.4-0.3-0.3-0.8q0.2-0.4 0.6-0.5q0.4-0.1 2.3-0.4q1.9-0.4 1.2-0.4q-0.8 0-1.2 0.6q-0.4 0.7-0.1 1.3q0.4 0.7 1.1 0.7q0.8 0 1.2-0.7q0.4-0.6 0.1-1.3q-0.4-0.6 1.3-1.1q1.7-0.6-0.6-1q-2.3-0.5-3.8 0.5q-1.5 0.9-3 1.8q-1.5 1-3 2q-1.4 1-3.7 0.5q-2.3-0.4-3.7 0.7q-1.4 1.1-3 1.8q-1.6 0.8-3.1 1.7q-1.6 0.9-1.9 1q-0.3 0.2-2.1-0.2q-1.7-0.4-3.2-1.3q-1.4-0.8-0.8-0.1q0.6 0.6 1.4 0.4q0.9-0.2 1.1-1q0.3-0.8-0.3-1.4q-0.6-0.7-1.4-0.5q-0.9 0.2-1.1 1q-0.3 0.8-1.4-0.7q-1.1-1.5-2.5-2.4q-1.4-0.9-2-0.8q-0.7 0-1 0.5q-0.3 0.5 0.1 1q0.3 0.6 0.9 0.6q0.6 0 0.9-0.6q0.3-0.5 0-1q-0.3-0.6-1.7-1.5q-1.5-0.9-3.5-0.8q-2 0.1-3.1-1.3q-1.2-1.4-0.2-1.6q1.1-0.2 1.8 0.6q0.7 0.8 0.4 1.8q-0.3 1-1.4 1.3q-1 0.2-1.8-0.6q-0.7-0.8-0.3-1.9q0.3-1 1.1 0.9q0.9 1.8 2.4 2.6q1.5 0.7 3.1 1.3q1.7 0.6 3.4 1q1.7 0.4 3.2 1.2q1.5 0.9 3.3 1.3q1.8 0.3 3.3 1.1q1.4 0.9 2.7 1.9q1.4 1 2.6 0.9q1.2-0.2 2-2.2q0.7-2 0.6-2.7q-0.1-0.8 0.5-1.3q0.6-0.5 1.4-0.1q0.7 0.3 0.8 1.1q0.1 0.7-0.5 1.2q-0.7 0.5-1.4 0.2q-0.7-0.4 1.1-0.5q1.8-0.1 3.5-0.4q1.8-0.3 2 0.3q0.3 0.6-0.2 1.1q-0.4 0.5-1 0.4q-0.6-0.1-0.8-0.7q-0.3-0.6 0.1-1.1q0.4-0.5 1.1-0.4q0.6 0.1 1.8-1.1q1.2-1.3 2.8-1.8q1.5-0.5 3-1.2q1.5-0.7 1.6-0.2q0.1 0.6 0.6 0.8q0.5 0.3 1-0.1q0.4-0.3 0.3-0.9q0-0.5-0.5-0.8q-0.6-0.2-1 0.1q-0.5 0.4 0 0.9q0.4 0.6 0.2 1.2q-0.3 0.6-1 0.7q-0.7 0.1-1.1-0.4q-0.4-0.5-0.1-1.1q0.2-0.7 0.9-0.8q0.6-0.1-0.5 1.4q-1 1.4-2.5 2q-1.6 0.5-3 1.4q-1.4 0.8-2.9 1.4q-1.6 0.6-3.1 1.3q-1.5 0.7-3.1 1.1q-1.7 0.5-3.1 1.4q-1.4 0.8-2.2-1.4q-0.7-2.1-0.2-1.8q0.5 0.3 0.4 0.8q0 0.6-0.5 0.8q-0.4 0.3-0.8 0q-0.5-0.3-0.5-0.8q0-0.5 0.5-0.8q0.4-0.3-1.2-1.1q-1.6-0.8-2.9-2q-1.4-1.2-3-2.1q-1.6-0.9-3.1-1.9q-1.5-1-3-1.9q-1.6-1-3.2-1.9q-1.5-0.9-2.2-0.8q-0.7 0-1.1-0.6q-0.5-0.6-0.2-1.3q0.3-0.6 1.1-0.7q0.7-0.1 1.1 0.5q0.4 0.7 0.1 1.4q-0.3 0.6 1.2 1.5q1.6 0.9 3.2 1.9q1.5 0.9 3 1.8q1.6 1 2.9 2.3q1.3 1.3 3.1 1.9q1.8 0.5 3.3 1.4q1.6 0.9 2.5 2.9q0.9 2 2.3 1.7q1.4-0.4 3.1-0.9q1.8-0.5 3.3-1.4q1.6-0.9 2.7-2.4q1.2-1.6 2.9-2.3q1.6-0.8 2.9-2q1.3-1.3 2.7-2.5q1.4-1.2 2.1-1.9q0.6-0.7 0.4-1.6q-0.3-1-1.3-1.2q-1-0.3-1.7 0.5q-0.7 0.7-0.4 1.7q0.3 0.9 1.3 1.1q1 0.2 2.7-0.3q1.8-0.5 2.8-0.4q1 0.2 1.4 1.2q0.4 0.9-0.2 1.7q-0.6 0.8-1.6 0.7q-1-0.2-1.4-1.2q-0.4-0.9 0.2-1.7q0.6-0.8-1 0.2q-1.5 0.9-3.2 1.5q-1.6 0.6-2.8 2.1q-1.2 1.5-3.2 1.5q-2.1 0.1-4.1 0.2q-2 0.1-3.5 1q-1.6 0.9-3.2 1.8q-1.5 0.9-3 1.9q-1.6 0.9 0.1 4.2q1.7 3.3 2.3 4q0.7 0.7 1.7 0.5q1-0.3 1.2-1.2q0.3-1-0.4-1.7q-0.7-0.7-1.7-0.5q-0.9 0.2-1.2 1.2q-0.2 0.9-0.8 2.8q-0.7 1.8-0.9 3.6q-0.2 1.9-0.3 3.7q0 1.8-1.2 3.7q-1.1 1.8-1.6 3.6q-0.4 1.8-0.5 1.4q-0.2-0.4-0.7-0.5q-0.4-0.1-0.7 0.2q-0.3 0.4-0.1 0.8q0.1 0.4 0.6 0.5q0.4 0.1 0.7-0.3q0.3-0.3 0.4 1.5q0.2 1.9 0.6 0q0.4-1.8 0-3.6q-0.4-1.8-0.6-3.6q-0.1-1.9 0.1-3.7q0.2-1.8 1.2-3.7q1-1.8 1.1-3.6q0.1-1.8-1.2-3.6l-1.3-1.9" stroke="#9566cf" stroke-width="0.5" fill="none"/>
<path d="M71.3 458.9L81.1 458.9L81.1 428.8L107.4 411.8L101.4 403.9L76.5 420L51 403.9L45 411.8L71.3 428.8Z" stroke="#333" stroke-width="0.8" fill="none"/>
<text font-size="6" text-anchor="start" fill="#ff2424" stroke="#ff2424" stroke-width="0.1" transform="translate(86.6 403.1) scale(1 1.1)">Novel arm</text>
<circle cx="76.2" cy="455.1" r="1.4" fill="#14147a"/>
<path d="M151.2 455.1q-0.3-4.2-0.8-6.3q-0.4-2.1 0.4-4.2q0.7-2.1 0-4.2q-0.7-2.1-0.2-4.2q0.5-2.1 0.3-4.2q-0.2-2.1 0.3-4.2q0.6-2.1-0.5-4.6q-1.2-2.5-2.8-3.6q-1.5-1-3-2.1q-1.4-1.2-1-1.3q0.5-0.1 0.6-0.5q0.1-0.4-0.2-0.7q-0.3-0.4-0.7-0.2q-0.4 0.1-0.5 0.5q-0.2 0.4 0.1 0.7q0.3 0.3-1.7 0.1q-2-0.2-1.2 0.5q0.8 0.7 1.8 0.4q1-0.3 1.2-1.4q0.2-1-0.5-1.7q-0.8-0.7-1.8-0.4q-1 0.3-1.2 1.4q-0.3 1-2.1 0.5q-1.8-0.5-2.8-2.3q-1.1-1.8-1.6-1.5q-0.5 0.4-0.4 1q0 0.7 0.6 0.9q0.6 0.2 1.1-0.1q0.4-0.4 0.3-1q0-0.6-0.5-0.8q-0.6-0.3 1.2 0.4q1.7 0.6 3.3 1.5q1.5 0.9 2.8 2.4q1.3 1.4 3 2.2q1.6 0.7 3.3 1.5q1.7 0.8 3.2 1.8q1.6 0.9 1 4q-0.5 3.1-0.1 3.7q0.3 0.7 1.1 0.7q0.7 0 1.1-0.7q0.4-0.6 0-1.2q-0.4-0.7-1.1-0.7q-0.8 0-1.1 0.7q-0.4 0.6 0 2.4q0.5 1.8 1.5 3.6q0.9 1.8 0.6 3.6q-0.4 1.8-0.6 3.6q-0.3 1.8 0.3 3.6q0.7 1.8-0.1 3.5q-0.9 1.8-1.9 1.7q-1-0.1-1.6 0.7q-0.6 0.8-0.2 1.8q0.4 0.9 1.4 1.1q1 0.1 1.6-0.7q0.6-0.9 0.2-1.8q-0.3-0.9-0.5-2.7q-0.1-1.8 0.6-3.6q0.8-1.8 1-3.6q0.2-1.8 0.2-3.6q0-1.8 0-3.6q0-1.8 0-3.6q0-1.8 0-3.6q0-1.8-2.1 0q-2.1 1.8-1.3 3.6q0.8 1.8-0.9 3.6q-1.7 1.8-0.4 3.6q1.3 1.8 1.9 3.6q0.5 1.8 0.6 3.6q0.1 1.8-0.2 3.6q-0.2 1.8-0.7 0q-0.5-1.8-1.1-3.6q-0.5-1.8-1.3-3.6q-0.9-1.8-0.5-3.6q0.3-1.8 0.4-3.6q0.1-1.8 0.9-3.6q0.9-1.8 0-3.6q-1-1.8-1.1-3.1q-0.2-1.3-1.8-2.2q-1.6-0.9-2.4-2.9q-0.9-2-2.8-2.4q-1.8-0.5-2.2-1.3q-0.5-0.9 0-1.7q0.6-0.8 1.6-0.7q1 0 1.4 0.8q0.4 0.9-0.2 1.8q-0.5 0.8-1.5 0.7q-0.9-0.1-2.7-0.6q-1.7-0.5-3.4-1.1q-1.8-0.6-0.1 0.1q1.6 0.7 2.9 2q1.3 1.3 2.8 2.2q1.6 0.9 3.7 1q2 0.1 3 2.1q0.9 1.9 2.6 2.6q1.7 0.6 4 1.3q2.3 0.7 2.6 0.5q0.4-0.2 0.8 0q0.3 0.2 0.3 0.6q0 0.5-0.3 0.7q-0.4 0.2-0.8 0q-0.3-0.3-0.3-0.7q0-0.4 1.5-1.3q1.5-0.9 1.8-1.2q0.3-0.3 0.7-0.3q0.4 0.1 0.5 0.5q0.1 0.4-0.2 0.7q-0.2 0.3-0.6 0.3q-0.4-0.1-0.5-0.5q-0.2-0.4 1.2-1.5q1.5-1 2.7-2.5q1.1-1.6 2.5-2.7q1.5-1 2.8-2.2q1.4-1.2 3.1-1.8q1.7-0.5 2.4-0.2q0.8 0.3 0.9 1.1q0.1 0.8-0.5 1.3q-0.6 0.4-1.4 0.1q-0.7-0.2-0.8-1q-0.1-0.8 0.5-1.3q0.6-0.4-0.5 1.2q-1 1.6-2.5 2.6q-1.5 1-3 1.9q-1.5 0.9-3 1.8q-1.5 0.9-3 1.8q-1.6 1-3.1 1.9q-1.5 0.9-3 1.8q-1.5 0.9-4.2-1q-2.6-2-4-3.2q-1.3-1.2-3-1.8q-1.7-0.7-3.4-1.4q-1.6-0.7-0.6-1.1q1-0.4 1.9 0.2q0.8 0.7 0.6 1.8q-0.1 1.1-1.1 1.5q-1 0.4-1.9-0.3q-0.8-0.7-0.6-1.7q0.1-1.1-1.4-1.9q-1.6-0.9-3.2-1.8q-1.5-0.8-1.4-0.3q0.1 0.4-0.3 0.7q-0.3 0.4-0.8 0.3q-0.4-0.2-0.5-0.7q-0.1-0.4 0.2-0.7q0.4-0.3 0.8-0.2q0.5 0.1-0.8-1.1q-1.4-1.2 0.6-1.1q1.9 0.2 4.1 0q2.2-0.2 3.6 0.8q1.5 1.1 2.5 2.8q1.1 1.7 1.9 3.8q0.8 2.1 2.3 3.1q1.5 0.9 2.8 2.2q1.3 1.3 3.5 1.8q2.2 0.6 2.3 2.3q0.2 1.6 0.2 3.2q0 1.6 0 3.3q0 1.6-0.5 3.2q-0.5 1.7-0.3 1q0.1-0.6 0.8-0.8q0.6-0.2 1.1 0.3q0.5 0.4 0.4 1q-0.2 0.7-0.9 0.9q-0.6 0.2-1.1-0.2q-0.5-0.5-0.2 1.2q0.4 1.6 0.5 3.2q0.2 1.7-0.5 3.3q-0.7 1.6-1.3 3.3q-0.6 1.6 0 1.6q0.5 0 0.8 0.5q0.3 0.5 0 1q-0.3 0.5-0.9 0.5q-0.6 0-0.8-0.5q-0.3-0.5 0-1q0.3-0.5-0.2-2.1q-0.5-1.7-0.6-3.3q-0.1-1.6-0.9-3.3q-0.8-1.6-0.4-3.2q0.4-1.7 0.6-3.4q0.2-1.6-0.2-3.2q-0.4-1.7-0.3-3.3q0.1-1.6 1-3.2q0.8-1.7 1.1-3.4q0.4-1.6-1.7-2.2q-2.2-0.6-3.1-0.3q-0.9 0.4-1.7-0.2q-0.8-0.7-0.6-1.7q0.2-1 1.2-1.3q0.9-0.4 1.7 0.2q0.7 0.7 0.5 1.7q-0.2 1-1.4-0.3q-1.2-1.2-3.4-0.9q-2.1 0.3-3.7-0.5q-1.5-0.8-3.2-1.4q-1.6-0.6-3-1.5q-1.5-0.8-3-1.7q-1.4-0.9-2.6-1.3q-1.2-0.5-1.4-1.7q-0.2-1.3 0.8-2.2q1-0.8 2.2-0.3q1.2 0.4 1.4 1.7q0.2 1.3-0.8 2.1q-1 0.8 0.4 1.7q1.5 0.9 3.4 1.1q1.8 0.2 3 1.5q1.2 1.4 2.6 2.3q1.5 0.9 3.2 1.3q1.7 0.5 2.9 1.9q1.2 1.3 2.8 2q1.6 0.6 1.7 1.1q0.1 0.6 1.4 2.3q1.3 1.7 1.5 3.3q0.2 1.7 0.1 3.4q-0.1 1.7 0.8 3.4q0.8 1.6 0.8 3.3q0 1.7-0.3 2q-0.3 0.3-0.1 0.7q0.1 0.4 0.5 0.4q0.4 0.1 0.6-0.2q0.3-0.2 0.2-0.6q-0.1-0.4-0.5-0.5q-0.4-0.1-0.4 1.5q0 1.7 0 0q0-1.6 0-3.3q0-1.7 0-3.3q-0.1-1.7 0-3.4q0-1.7-0.4-3.4q-0.3-1.6-0.3-3.3q0-1.7-0.5-3.4q-0.5-1.6-2.8-2.4q-2.3-0.8-3.9-1.3q-1.7-0.6-2.9-1.9q-1.1-1.3-2.2-2.6q-1.2-1.3-0.7-1.5q0.4-0.2 0.8 0.1q0.3 0.3 0.2 0.7q0 0.5-0.5 0.7q-0.4 0.2-0.7-0.1q-0.4-0.3-0.3-0.8q0-0.4-2-0.2q-2.1 0.2-3.2-1.2q-1.2-1.3-2.5-2.4q-1.4-1-0.7-0.7q0.7 0.3 0.8 1q0.1 0.7-0.4 1.2q-0.6 0.4-1.3 0.1q-0.7-0.3-0.8-1q-0.1-0.7 0.5-1.1q0.5-0.5-0.9-1.5q-1.3-0.9-2-0.2q-0.6 0.8-0.2 1.7q0.3 1 1.3 1.1q1 0.2 1.7-0.6q0.6-0.7 0.2-1.7q-0.3-0.9-1.3-1q-1-0.2 0.3 0.9q1.3 1.1 2.6 2.2q1.3 1.1 2.9 1.6q1.7 0.5 3 1.4q1.4 0.9 2.7 2q1.2 1.2 2.3 2.8q1 1.5 2.6 2.1q1.6 0.5 2.8 1.7q1.2 1.3 1.4 2.2q0.3 0.8-0.4 2.7q-0.8 1.8-0.4 3.7q0.4 1.9 0.2 3.8q-0.3 1.8 0.5 3.6q0.7 1.9 1.6 3.8q0.8 1.8 0.8 0q0-1.9 1.1-3.8q1-1.8 0-3.6q-1.1-1.9-0.5-3.8q0.6-1.9 1-3.7q0.3-1.9-0.6-3.7q-0.9-1.9-4-1.4q-3.1 0.6-4.3-0.8q-1.3-1.3-3-1.7q-1.8-0.5-1.7-0.1q0.1 0.4 0.6 0.4q0.4 0.1 0.7-0.2q0.3-0.3 0.1-0.7q-0.1-0.4-0.5-0.5q-0.5-0.1-0.7 0.2q-0.3 0.3-1.8-0.6q-1.6-0.9-2.7-2.3q-1.2-1.5-2.9-2.1q-1.7-0.6-2.2-0.5q-0.5 0.2-0.6 0.7q-0.1 0.5 0.3 0.8q0.3 0.4 0.8 0.2q0.5-0.1 0.6-0.6q0.1-0.5-0.3-0.8q-0.3-0.4-1.6-1.7q-1.3-1.3-1.1-2q0.1-0.7-0.4-1.2q-0.6-0.6-1.3-0.4q-0.7 0.2-0.9 0.9q-0.2 0.8 0.4 1.4q0.5 0.5 1.2 0.3q0.8-0.3-0.5-1.5q-1.3-1.3-2.2-1.4q-0.9-0.1-1.2-1q-0.3-0.8 0.2-1.4q0.6-0.7 1.4-0.6q0.9 0.1 1.2 0.9q0.3 0.8-0.2 1.5q-0.5 0.7 0.6 2.4q1 1.6 2.4 2.8q1.4 1.1 2.9 2q1.5 0.9 3 1.8q1.5 0.9 3.4 1.2q1.9 0.3 3.7 0.7q1.9 0.3 3.3 1.4q1.5 1 3.3 1.5l1.8 0.4" stroke="#9566cf" stroke-width="0.5" fill="none"/>
<path d="M146.3 458.9L156.1 458.9L156.1 428.8L182.4 411.8L176.4 403.9L151.5 420L126 403.9L120 411.8L146.3 428.8Z" stroke="#333" stroke-width="0.8" fill="none"/>
<text font-size="6" text-anchor="start" fill="#ff2424" stroke="#ff2424" stroke-width="0.1" transform="translate(161.6 403.1) scale(1 1.1)">Novel arm</text>
<circle cx="151.2" cy="455.1" r="1.4" fill="#14147a"/>
<line x1="239.3" y1="342.8" x2="239.3" y2="430.6" stroke="#3a3a3a" stroke-width="0.8"/>
<line x1="237.3" y1="430.6" x2="239.3" y2="430.6" stroke="#3a3a3a" stroke-width="0.7"/>
<text font-size="7.4" text-anchor="end" fill="#111" stroke="#111" stroke-width="0.1" transform="translate(236.1 433.3) scale(1 1.1)">0</text>
<line x1="237.3" y1="408.7" x2="239.3" y2="408.7" stroke="#3a3a3a" stroke-width="0.7"/>
<text font-size="7.4" text-anchor="end" fill="#111" stroke="#111" stroke-width="0.1" transform="translate(236.1 411.3) scale(1 1.1)">20</text>
<line x1="237.3" y1="386.7" x2="239.3" y2="386.7" stroke="#3a3a3a" stroke-width="0.7"/>
<text font-size="7.4" text-anchor="end" fill="#111" stroke="#111" stroke-width="0.1" transform="translate(236.1 389.4) scale(1 1.1)">40</text>
<line x1="237.3" y1="364.8" x2="239.3" y2="364.8" stroke="#3a3a3a" stroke-width="0.7"/>
<text font-size="7.4" text-anchor="end" fill="#111" stroke="#111" stroke-width="0.1" transform="translate(236.1 367.4) scale(1 1.1)">60</text>
<line x1="237.3" y1="342.8" x2="239.3" y2="342.8" stroke="#3a3a3a" stroke-width="0.7"/>
<text font-size="7.4" text-anchor="end" fill="#111" stroke="#111" stroke-width="0.1" transform="translate(236.1 345.5) scale(1 1.1)">80</text>
<line x1="239.3" y1="430.6" x2="298.4" y2="430.6" stroke="#3a3a3a" stroke-width="0.8"/>
<line x1="249.2" y1="430.6" x2="249.2" y2="432.6" stroke="#3a3a3a" stroke-width="0.7"/>
<text font-size="7.4" text-anchor="middle" fill="#111" stroke="#111" stroke-width="0.1" transform="translate(249.2 440.2) scale(1 1.1)">0</text>
<line x1="269.2" y1="430.6" x2="269.2" y2="432.6" stroke="#3a3a3a" stroke-width="0.7"/>
<text font-size="7.4" text-anchor="middle" fill="#111" stroke="#111" stroke-width="0.1" transform="translate(269.2 440.2) scale(1 1.1)">7</text>
<line x1="288.8" y1="430.6" x2="288.8" y2="432.6" stroke="#3a3a3a" stroke-width="0.7"/>
<text font-size="7.4" text-anchor="middle" fill="#111" stroke="#111" stroke-width="0.1" transform="translate(288.8 440.2) scale(1 1.1)">14</text>
<text font-size="8" text-anchor="middle" fill="#111" stroke="#111" stroke-width="0.1" transform="translate(269.7 450.1) scale(1 1.1)">Cycle</text>
<text x="216" y="389.5" font-size="8" text-anchor="middle" fill="#111" stroke="#111" stroke-width="0.1" transform="rotate(-90 216 389.5)">% Alternation</text>
<text font-size="5.6" text-anchor="start" fill="#1a1a1a" stroke="#1a1a1a" stroke-width="0.1" font-style="italic" transform="translate(246 325.3) scale(1 1.1)">Treatment effect</text>
<text font-size="5.6" text-anchor="start" fill="#1a1a1a" stroke="#1a1a1a" stroke-width="0.1" font-style="italic" transform="translate(246 330.9) scale(1 1.1)">Cycle 0, p = n.s.</text>
<text font-size="5.6" text-anchor="start" fill="#1a1a1a" stroke="#1a1a1a" stroke-width="0.1" font-style="italic" transform="translate(246 336.5) scale(1 1.1)">Cycle 7, p = 0.017</text>
<text font-size="5.6" text-anchor="start" fill="#1a1a1a" stroke="#1a1a1a" stroke-width="0.1" font-style="italic" transform="translate(246 342.1) scale(1 1.1)">Cycle 14, p = 0.00001</text>
<circle cx="246.9" cy="419" r="1.6" fill="#1f1fff"/>
<text font-size="5.7" text-anchor="start" fill="#222" stroke="#222" stroke-width="0.1" transform="translate(250.8 421.1) scale(1 1.1)">Vehicle</text>
<circle cx="246.9" cy="424.9" r="1.6" fill="#ff2424"/>
<text font-size="5.7" text-anchor="start" fill="#222" stroke="#222" stroke-width="0.1" transform="translate(250.8 427) scale(1 1.1)">VCD</text>
<path d="M250.6 393.4L268.3 395L290.7 406.8M251.1 385.9L270 404.3L290.5 408.4M246.7 384L268.6 369.8L289.2 402.9M249.1 367.9L267.6 396.2L290.1 403.3M251 363.5L267.2 396.3L290.5 407.9M250.1 356L270.7 380.7L288 404.6M247.5 361.2L271 405.2L287.8 398.7M247.6 362.2L271.2 362.3L291 398.8M248 357.4L268.4 368.2L288.7 398.8M251.2 374L270.2 402.9L289.8 405.7M247.9 359.7L269.3 369L287.7 401.4M251 384.7L271 405.1L288.3 391.6M250.5 373.5L267.8 397.2L291.1 389.5M250 377.1L268.1 403.6L288.4 406.8M249.5 391L269.8 365.8L289.5 383.3M247 376.8L270.8 364.6L291.2 399.7M250.6 357L269.6 392.9L287.6 403.9M249.8 393.1L271.4 405.2L289 380.6M249 379.6L271.4 392.8L288.9 387.4M248.1 368L268 392.4L286.7 403.2M247.4 374.3L270.8 389.7L290.4 400M247.5 357.7L268.4 387.6L286.6 403.2" stroke="#ff2424" stroke-width="0.5" fill="none"/>
<path d="M247.8 379.7L269.6 380.7L289.1 369.5M250.4 379.6L270 365.5L288.5 364.6M247.4 388.4L270 377L286.5 371.7M246.8 364.3L267.7 364.4L290 368.3M250.1 389.6L270.2 380.7L286.5 359.9M249.8 382.2L271.2 376.7L287.8 364.3M250.1 388.8L269.2 382.3L286.3 379.2M249 389.2L270.5 372.2L290.8 374.4M248.3 369.2L266.8 386.3L290.7 363.8M247.2 365.5L271.2 377.7L290.1 370.6M248.8 371L267.9 362.2L290 377.8M248.7 368.3L268 380.3L289.8 385.2M251.3 383.7L268.6 380.6L290.1 363M247.7 366.3L267.5 386.5L286.5 370.2M249.5 385.3L267.8 384.5L286.8 369.9M249.7 356.1L269.2 369.8L290.8 360.2M246.8 362.8L269.9 362.5L289.6 375.3M250.4 387.6L269.3 378.8L288 372.6M251.4 368.2L267.4 374.4L289.4 364.1M251.1 362.5L268.2 382.8L289.8 365.9M249.2 385.2L267.5 375.8L286.6 376.6M251.5 375.4L270.9 379.1L289.9 368.6" stroke="#1f1fff" stroke-width="0.5" fill="none"/>
<path d="M250.6 393.4h0M268.3 395h0M290.7 406.8h0M251.1 385.9h0M270 404.3h0M290.5 408.4h0M246.7 384h0M268.6 369.8h0M289.2 402.9h0M249.1 367.9h0M267.6 396.2h0M290.1 403.3h0M251 363.5h0M267.2 396.3h0M290.5 407.9h0M250.1 356h0M270.7 380.7h0M288 404.6h0M247.5 361.2h0M271 405.2h0M287.8 398.7h0M247.6 362.2h0M271.2 362.3h0M291 398.8h0M248 357.4h0M268.4 368.2h0M288.7 398.8h0M251.2 374h0M270.2 402.9h0M289.8 405.7h0M247.9 359.7h0M269.3 369h0M287.7 401.4h0M251 384.7h0M271 405.1h0M288.3 391.6h0M250.5 373.5h0M267.8 397.2h0M291.1 389.5h0M250 377.1h0M268.1 403.6h0M288.4 406.8h0M249.5 391h0M269.8 365.8h0M289.5 383.3h0M247 376.8h0M270.8 364.6h0M291.2 399.7h0M250.6 357h0M269.6 392.9h0M287.6 403.9h0M249.8 393.1h0M271.4 405.2h0M289 380.6h0M249 379.6h0M271.4 392.8h0M288.9 387.4h0M248.1 368h0M268 392.4h0M286.7 403.2h0M247.4 374.3h0M270.8 389.7h0M290.4 400h0M247.5 357.7h0M268.4 387.6h0M286.6 403.2h0" stroke="#ff2424" stroke-width="2.7" stroke-linecap="round"/>
<path d="M247.8 379.7h0M269.6 380.7h0M289.1 369.5h0M250.4 379.6h0M270 365.5h0M288.5 364.6h0M247.4 388.4h0M270 377h0M286.5 371.7h0M246.8 364.3h0M267.7 364.4h0M290 368.3h0M250.1 389.6h0M270.2 380.7h0M286.5 359.9h0M249.8 382.2h0M271.2 376.7h0M287.8 364.3h0M250.1 388.8h0M269.2 382.3h0M286.3 379.2h0M249 389.2h0M270.5 372.2h0M290.8 374.4h0M248.3 369.2h0M266.8 386.3h0M290.7 363.8h0M247.2 365.5h0M271.2 377.7h0M290.1 370.6h0M248.8 371h0M267.9 362.2h0M290 377.8h0M248.7 368.3h0M268 380.3h0M289.8 385.2h0M251.3 383.7h0M268.6 380.6h0M290.1 363h0M247.7 366.3h0M267.5 386.5h0M286.5 370.2h0M249.5 385.3h0M267.8 384.5h0M286.8 369.9h0M249.7 356.1h0M269.2 369.8h0M290.8 360.2h0M246.8 362.8h0M269.9 362.5h0M289.6 375.3h0M250.4 387.6h0M269.3 378.8h0M288 372.6h0M251.4 368.2h0M267.4 374.4h0M289.4 364.1h0M251.1 362.5h0M268.2 382.8h0M289.8 365.9h0M249.2 385.2h0M267.5 375.8h0M286.6 376.6h0M251.5 375.4h0M270.9 379.1h0M289.9 368.6h0" stroke="#1f1fff" stroke-width="2.7" stroke-linecap="round"/>
<line x1="366.6" y1="343.1" x2="366.6" y2="431.1" stroke="#3a3a3a" stroke-width="0.8"/>
<line x1="364.6" y1="431.1" x2="366.6" y2="431.1" stroke="#3a3a3a" stroke-width="0.7"/>
<text font-size="7.4" text-anchor="end" fill="#111" stroke="#111" stroke-width="0.1" transform="translate(363.4 433.8) scale(1 1.1)">0</text>
<line x1="364.6" y1="409.1" x2="366.6" y2="409.1" stroke="#3a3a3a" stroke-width="0.7"/>
<text font-size="7.4" text-anchor="end" fill="#111" stroke="#111" stroke-width="0.1" transform="translate(363.4 411.8) scale(1 1.1)">20</text>
<line x1="364.6" y1="387.1" x2="366.6" y2="387.1" stroke="#3a3a3a" stroke-width="0.7"/>
<text font-size="7.4" text-anchor="end" fill="#111" stroke="#111" stroke-width="0.1" transform="translate(363.4 389.8) scale(1 1.1)">40</text>
<line x1="364.6" y1="365.1" x2="366.6" y2="365.1" stroke="#3a3a3a" stroke-width="0.7"/>
<text font-size="7.4" text-anchor="end" fill="#111" stroke="#111" stroke-width="0.1" transform="translate(363.4 367.8) scale(1 1.1)">60</text>
<line x1="364.6" y1="343.1" x2="366.6" y2="343.1" stroke="#3a3a3a" stroke-width="0.7"/>
<text font-size="7.4" text-anchor="end" fill="#111" stroke="#111" stroke-width="0.1" transform="translate(363.4 345.8) scale(1 1.1)">80</text>
<line x1="366.6" y1="431.1" x2="425.2" y2="431.1" stroke="#3a3a3a" stroke-width="0.8"/>
<line x1="366.6" y1="431.1" x2="366.6" y2="433.1" stroke="#3a3a3a" stroke-width="0.7"/>
<text font-size="7.4" text-anchor="middle" fill="#111" stroke="#111" stroke-width="0.1" transform="translate(366.6 440.7) scale(1 1.1)">0</text>
<line x1="378.3" y1="431.1" x2="378.3" y2="433.1" stroke="#3a3a3a" stroke-width="0.7"/>
<text font-size="7.4" text-anchor="middle" fill="#111" stroke="#111" stroke-width="0.1" transform="translate(378.3 440.7) scale(1 1.1)">1</text>
<line x1="390" y1="431.1" x2="390" y2="433.1" stroke="#3a3a3a" stroke-width="0.7"/>
<text font-size="7.4" text-anchor="middle" fill="#111" stroke="#111" stroke-width="0.1" transform="translate(390 440.7) scale(1 1.1)">2</text>
<line x1="401.8" y1="431.1" x2="401.8" y2="433.1" stroke="#3a3a3a" stroke-width="0.7"/>
<text font-size="7.4" text-anchor="middle" fill="#111" stroke="#111" stroke-width="0.1" transform="translate(401.8 440.7) scale(1 1.1)">3</text>
<line x1="413.5" y1="431.1" x2="413.5" y2="433.1" stroke="#3a3a3a" stroke-width="0.7"/>
<text font-size="7.4" text-anchor="middle" fill="#111" stroke="#111" stroke-width="0.1" transform="translate(413.5 440.7) scale(1 1.1)">4</text>
<line x1="425.2" y1="431.1" x2="425.2" y2="433.1" stroke="#3a3a3a" stroke-width="0.7"/>
<text font-size="7.4" text-anchor="middle" fill="#111" stroke="#111" stroke-width="0.1" transform="translate(425.2 440.7) scale(1 1.1)">5</text>
<text font-size="8" text-anchor="middle" fill="#111" stroke="#111" stroke-width="0.1" transform="translate(395.3 452.5) scale(1 1.1)">E2: P4 Ratio (pg/ng)</text>
<text x="345.4" y="389.3" font-size="8" text-anchor="middle" fill="#111" stroke="#111" stroke-width="0.1" transform="rotate(-90 345.4 389.3)">% Alternation (Cycle 7)</text>
<text font-size="5.6" text-anchor="start" fill="#1a1a1a" stroke="#1a1a1a" stroke-width="0.1" font-style="italic" transform="translate(376.5 335.6) scale(1 1.1)">Pearson r = -0.894</text>
<text font-size="5.6" text-anchor="start" fill="#1a1a1a" stroke="#1a1a1a" stroke-width="0.1" font-style="italic" transform="translate(376.5 341) scale(1 1.1)">p &lt;1E-15</text>
<circle cx="374.2" cy="418.3" r="1.6" fill="#1f1fff"/>
<text font-size="5.7" text-anchor="start" fill="#222" stroke="#222" stroke-width="0.1" transform="translate(378.1 420.4) scale(1 1.1)">Vehicle</text>
<circle cx="374.2" cy="424.3" r="1.6" fill="#ff2424"/>
<text font-size="5.7" text-anchor="start" fill="#222" stroke="#222" stroke-width="0.1" transform="translate(378.1 426.4) scale(1 1.1)">VCD</text>
<line x1="381.3" y1="370.3" x2="416" y2="415.5" stroke="#333" stroke-width="0.6"/>
<path d="M388.9 385.3h0M384.2 376.9h0M390.2 381.3h0M392.2 389.3h0M386.1 381.3h0M383.5 373.4h0M381 372.6h0M389 380.9h0M383.5 372.7h0M391.1 388.5h0M391.1 382.4h0M385.1 378.7h0M393 388.3h0M381.9 374.7h0M391.6 384h0M391.1 382.1h0M387.6 375.1h0M385.5 375.9h0M391.4 383.5h0M391.8 384.5h0" stroke="#1f1fff" stroke-width="2.3" stroke-linecap="round"/>
<path d="M382 369.7h0M385.6 376.2h0M403.5 396.1h0M396.1 389.3h0M381.3 371.1h0M393.3 382.7h0M399.3 391h0M395.4 391.3h0M409.6 403.5h0M393.4 389.5h0M398.1 391.8h0M406.9 402.1h0M397.9 390.9h0M393.5 389.9h0M382.7 368.5h0M409.2 407.6h0M410.9 407.8h0M384.2 371h0M400.5 391.1h0M403.8 402.5h0M401.8 394h0M411.2 409.9h0M398.6 390.7h0M386.3 373.8h0" stroke="#ff2424" stroke-width="2.3" stroke-linecap="round"/>
<text font-size="11.5" text-anchor="start" fill="#111" stroke="#111" stroke-width="0.1" transform="translate(456.5 325.6) scale(1 1.1)">h</text>
<line x1="491.5" y1="342" x2="491.5" y2="431.4" stroke="#3a3a3a" stroke-width="0.8"/>
<line x1="489.5" y1="431.4" x2="491.5" y2="431.4" stroke="#3a3a3a" stroke-width="0.7"/>
<text font-size="7.4" text-anchor="end" fill="#111" stroke="#111" stroke-width="0.1" transform="translate(488.3 434.1) scale(1 1.1)">0</text>
<line x1="489.5" y1="409" x2="491.5" y2="409" stroke="#3a3a3a" stroke-width="0.7"/>
<text font-size="7.4" text-anchor="end" fill="#111" stroke="#111" stroke-width="0.1" transform="translate(488.3 411.7) scale(1 1.1)">1</text>
<line x1="489.5" y1="386.7" x2="491.5" y2="386.7" stroke="#3a3a3a" stroke-width="0.7"/>
<text font-size="7.4" text-anchor="end" fill="#111" stroke="#111" stroke-width="0.1" transform="translate(488.3 389.4) scale(1 1.1)">2</text>
<line x1="489.5" y1="364.4" x2="491.5" y2="364.4" stroke="#3a3a3a" stroke-width="0.7"/>
<text font-size="7.4" text-anchor="end" fill="#111" stroke="#111" stroke-width="0.1" transform="translate(488.3 367) scale(1 1.1)">3</text>
<line x1="489.5" y1="342" x2="491.5" y2="342" stroke="#3a3a3a" stroke-width="0.7"/>
<text font-size="7.4" text-anchor="end" fill="#111" stroke="#111" stroke-width="0.1" transform="translate(488.3 344.7) scale(1 1.1)">4</text>
<line x1="491.5" y1="431.4" x2="551" y2="431.4" stroke="#3a3a3a" stroke-width="0.8"/>
<line x1="501.4" y1="431.4" x2="501.4" y2="433.4" stroke="#3a3a3a" stroke-width="0.7"/>
<text font-size="7.4" text-anchor="middle" fill="#111" stroke="#111" stroke-width="0.1" transform="translate(501.4 441) scale(1 1.1)">0</text>
<line x1="521.8" y1="431.4" x2="521.8" y2="433.4" stroke="#3a3a3a" stroke-width="0.7"/>
<text font-size="7.4" text-anchor="middle" fill="#111" stroke="#111" stroke-width="0.1" transform="translate(521.8 441) scale(1 1.1)">7</text>
<line x1="541.5" y1="431.4" x2="541.5" y2="433.4" stroke="#3a3a3a" stroke-width="0.7"/>
<text font-size="7.4" text-anchor="middle" fill="#111" stroke="#111" stroke-width="0.1" transform="translate(541.5 441) scale(1 1.1)">14</text>
<text font-size="8" text-anchor="middle" fill="#111" stroke="#111" stroke-width="0.1" transform="translate(522.3 450.5) scale(1 1.1)">Cycle</text>
<text x="475.3" y="387.7" font-size="8" text-anchor="middle" fill="#111" stroke="#111" stroke-width="0.1" transform="rotate(-90 475.3 387.7)">Latency to fall (x100 Sec)</text>
<text font-size="5.6" text-anchor="start" fill="#1a1a1a" stroke="#1a1a1a" stroke-width="0.1" font-style="italic" transform="translate(499.9 323.7) scale(1 1.1)">Treatment effect</text>
<text font-size="5.6" text-anchor="start" fill="#1a1a1a" stroke="#1a1a1a" stroke-width="0.1" font-style="italic" transform="translate(499.9 329.5) scale(1 1.1)">Cycle 0, p = n.s.</text>
<text font-size="5.6" text-anchor="start" fill="#1a1a1a" stroke="#1a1a1a" stroke-width="0.1" font-style="italic" transform="translate(499.9 335.2) scale(1 1.1)">Cycle 7, p = n.s.</text>
<text font-size="5.6" text-anchor="start" fill="#1a1a1a" stroke="#1a1a1a" stroke-width="0.1" font-style="italic" transform="translate(499.9 341) scale(1 1.1)">Cycle 14, p = n.s.</text>
<circle cx="499.2" cy="419.2" r="1.6" fill="#1f1fff"/>
<text font-size="5.7" text-anchor="start" fill="#222" stroke="#222" stroke-width="0.1" transform="translate(503.1 421.3) scale(1 1.1)">Vehicle</text>
<circle cx="499.2" cy="424.9" r="1.6" fill="#ff2424"/>
<text font-size="5.7" text-anchor="start" fill="#222" stroke="#222" stroke-width="0.1" transform="translate(503.1 427) scale(1 1.1)">VCD</text>
<path d="M500.5 373.9L520.6 389.3L542.8 366.6M503.8 397.8L521.7 389L543 379.4M503.1 393.4L523 386.1L542 366.7M502.3 397.8L523 383.7L539.5 371.3M502.1 380.1L522.4 376.6L542.9 376.8M503.3 392.9L522.5 381.6L541.6 391.7M499.9 385.1L523.6 376.4L539.3 381.9M499.4 367.1L522.1 382.7L542.3 369M501.5 379L523.5 375.8L543 385.2M501.3 368.2L519.5 388.8L540 365.4M499.8 372.7L520 386.8L539.4 370.3M503 383.1L519.2 382.4L543.2 396.2M499.2 388.5L523.3 382.4L539.6 386.9M501.3 392.1L519.6 378.7L542.4 372.1M500.8 380.4L521.8 389.6L542.4 383.4M499.7 395.9L521.7 389.8L541.7 394.8M500.5 384.2L524 387.3L539.4 381.2M502.8 379.8L523.8 383L542.4 369.6M500.9 397.1L520.1 382.6L542.4 380.6M502.7 374.3L520.8 379.2L541.5 376.9M499.4 374.1L522.9 387.5L540.1 373.3M502.8 373.8L521.6 380.7L540.1 394.9" stroke="#ff2424" stroke-width="0.5" fill="none"/>
<path d="M501.4 389.1L523.5 388.8L541.8 390.1M500.9 367.8L523 377.1L542.2 379.5M500.7 378.4L521.3 376.7L543.3 364.9M500.1 395.9L523.4 384.2L542.1 391.9M502.9 385.3L523.2 377.7L542.9 391.4M503.2 383L523.9 384.3L543.2 364.8M503.1 370.9L520.1 382.6L541.3 364.8M501.1 396.3L520.2 385.1L539.5 365.7M501.7 368.5L521.1 388.6L539.5 382.8M502.2 372.9L523.5 376.9L544.1 371.5M502.1 367.6L521.9 383.3L543.7 370.6M503.2 370.8L521.4 390.8L541.9 395M501.7 378.6L520.4 378.7L541.9 373.4M503.9 390.1L521.6 390.4L542 379.9M501.7 366L520.7 378.3L539.7 381.7M501 376.7L519.8 379.8L543.9 382.3M502.2 396.4L523 381.3L541.5 379.2M500.3 366.7L522.7 380.9L541.4 373.5M502.8 396.2L523.3 387.1L542.9 364.8M503.3 384.2L520.9 385.6L542.3 378.7M501.7 375.3L523.1 385.2L542.1 387M499.5 396.6L520.3 378.6L539.2 384" stroke="#1f1fff" stroke-width="0.5" fill="none"/>
<path d="M500.5 373.9h0M520.6 389.3h0M542.8 366.6h0M503.8 397.8h0M521.7 389h0M543 379.4h0M503.1 393.4h0M523 386.1h0M542 366.7h0M502.3 397.8h0M523 383.7h0M539.5 371.3h0M502.1 380.1h0M522.4 376.6h0M542.9 376.8h0M503.3 392.9h0M522.5 381.6h0M541.6 391.7h0M499.9 385.1h0M523.6 376.4h0M539.3 381.9h0M499.4 367.1h0M522.1 382.7h0M542.3 369h0M501.5 379h0M523.5 375.8h0M543 385.2h0M501.3 368.2h0M519.5 388.8h0M540 365.4h0M499.8 372.7h0M520 386.8h0M539.4 370.3h0M503 383.1h0M519.2 382.4h0M543.2 396.2h0M499.2 388.5h0M523.3 382.4h0M539.6 386.9h0M501.3 392.1h0M519.6 378.7h0M542.4 372.1h0M500.8 380.4h0M521.8 389.6h0M542.4 383.4h0M499.7 395.9h0M521.7 389.8h0M541.7 394.8h0M500.5 384.2h0M524 387.3h0M539.4 381.2h0M502.8 379.8h0M523.8 383h0M542.4 369.6h0M500.9 397.1h0M520.1 382.6h0M542.4 380.6h0M502.7 374.3h0M520.8 379.2h0M541.5 376.9h0M499.4 374.1h0M522.9 387.5h0M540.1 373.3h0M502.8 373.8h0M521.6 380.7h0M540.1 394.9h0" stroke="#ff2424" stroke-width="2.7" stroke-linecap="round"/>
<path d="M501.4 389.1h0M523.5 388.8h0M541.8 390.1h0M500.9 367.8h0M523 377.1h0M542.2 379.5h0M500.7 378.4h0M521.3 376.7h0M543.3 364.9h0M500.1 395.9h0M523.4 384.2h0M542.1 391.9h0M502.9 385.3h0M523.2 377.7h0M542.9 391.4h0M503.2 383h0M523.9 384.3h0M543.2 364.8h0M503.1 370.9h0M520.1 382.6h0M541.3 364.8h0M501.1 396.3h0M520.2 385.1h0M539.5 365.7h0M501.7 368.5h0M521.1 388.6h0M539.5 382.8h0M502.2 372.9h0M523.5 376.9h0M544.1 371.5h0M502.1 367.6h0M521.9 383.3h0M543.7 370.6h0M503.2 370.8h0M521.4 390.8h0M541.9 395h0M501.7 378.6h0M520.4 378.7h0M541.9 373.4h0M503.9 390.1h0M521.6 390.4h0M542 379.9h0M501.7 366h0M520.7 378.3h0M539.7 381.7h0M501 376.7h0M519.8 379.8h0M543.9 382.3h0M502.2 396.4h0M523 381.3h0M541.5 379.2h0M500.3 366.7h0M522.7 380.9h0M541.4 373.5h0M502.8 396.2h0M523.3 387.1h0M542.9 364.8h0M503.3 384.2h0M520.9 385.6h0M542.3 378.7h0M501.7 375.3h0M523.1 385.2h0M542.1 387h0M499.5 396.6h0M520.3 378.6h0M539.2 384h0" stroke="#1f1fff" stroke-width="2.7" stroke-linecap="round"/>
<line x1="612.4" y1="336.6" x2="612.4" y2="431.8" stroke="#3a3a3a" stroke-width="0.8"/>
<line x1="610.4" y1="431.8" x2="612.4" y2="431.8" stroke="#3a3a3a" stroke-width="0.7"/>
<text font-size="7.4" text-anchor="end" fill="#111" stroke="#111" stroke-width="0.1" transform="translate(609.2 434.5) scale(1 1.1)">160</text>
<line x1="610.4" y1="412.8" x2="612.4" y2="412.8" stroke="#3a3a3a" stroke-width="0.7"/>
<text font-size="7.4" text-anchor="end" fill="#111" stroke="#111" stroke-width="0.1" transform="translate(609.2 415.4) scale(1 1.1)">180</text>
<line x1="610.4" y1="393.7" x2="612.4" y2="393.7" stroke="#3a3a3a" stroke-width="0.7"/>
<text font-size="7.4" text-anchor="end" fill="#111" stroke="#111" stroke-width="0.1" transform="translate(609.2 396.4) scale(1 1.1)">200</text>
<line x1="610.4" y1="374.7" x2="612.4" y2="374.7" stroke="#3a3a3a" stroke-width="0.7"/>
<text font-size="7.4" text-anchor="end" fill="#111" stroke="#111" stroke-width="0.1" transform="translate(609.2 377.3) scale(1 1.1)">220</text>
<line x1="610.4" y1="355.6" x2="612.4" y2="355.6" stroke="#3a3a3a" stroke-width="0.7"/>
<text font-size="7.4" text-anchor="end" fill="#111" stroke="#111" stroke-width="0.1" transform="translate(609.2 358.3) scale(1 1.1)">240</text>
<line x1="610.4" y1="336.6" x2="612.4" y2="336.6" stroke="#3a3a3a" stroke-width="0.7"/>
<text font-size="7.4" text-anchor="end" fill="#111" stroke="#111" stroke-width="0.1" transform="translate(609.2 339.3) scale(1 1.1)">260</text>
<line x1="612.4" y1="431.8" x2="674.7" y2="431.8" stroke="#3a3a3a" stroke-width="0.8"/>
<line x1="612.4" y1="431.8" x2="612.4" y2="433.8" stroke="#3a3a3a" stroke-width="0.7"/>
<text font-size="7.4" text-anchor="middle" fill="#111" stroke="#111" stroke-width="0.1" transform="translate(612.4 441.4) scale(1 1.1)">0</text>
<line x1="624.9" y1="431.8" x2="624.9" y2="433.8" stroke="#3a3a3a" stroke-width="0.7"/>
<text font-size="7.4" text-anchor="middle" fill="#111" stroke="#111" stroke-width="0.1" transform="translate(624.9 441.4) scale(1 1.1)">1</text>
<line x1="637.3" y1="431.8" x2="637.3" y2="433.8" stroke="#3a3a3a" stroke-width="0.7"/>
<text font-size="7.4" text-anchor="middle" fill="#111" stroke="#111" stroke-width="0.1" transform="translate(637.3 441.4) scale(1 1.1)">2</text>
<line x1="649.8" y1="431.8" x2="649.8" y2="433.8" stroke="#3a3a3a" stroke-width="0.7"/>
<text font-size="7.4" text-anchor="middle" fill="#111" stroke="#111" stroke-width="0.1" transform="translate(649.8 441.4) scale(1 1.1)">3</text>
<line x1="662.2" y1="431.8" x2="662.2" y2="433.8" stroke="#3a3a3a" stroke-width="0.7"/>
<text font-size="7.4" text-anchor="middle" fill="#111" stroke="#111" stroke-width="0.1" transform="translate(662.2 441.4) scale(1 1.1)">4</text>
<line x1="674.7" y1="431.8" x2="674.7" y2="433.8" stroke="#3a3a3a" stroke-width="0.7"/>
<text font-size="7.4" text-anchor="middle" fill="#111" stroke="#111" stroke-width="0.1" transform="translate(674.7 441.4) scale(1 1.1)">5</text>
<text font-size="8" text-anchor="middle" fill="#111" stroke="#111" stroke-width="0.1" transform="translate(642.9 452.2) scale(1 1.1)">E2: P4 Ratio (pg/ng)</text>
<text x="582.2" y="389.5" font-size="8" text-anchor="middle" fill="#111" stroke="#111" stroke-width="0.1" transform="rotate(-90 582.2 389.5)">Latency to fall (x100 Sec) (Cycle 7)</text>
<text font-size="5.6" text-anchor="start" fill="#1a1a1a" stroke="#1a1a1a" stroke-width="0.1" font-style="italic" transform="translate(617.2 326.8) scale(1 1.1)">Pearson r = 0.074</text>
<text font-size="5.6" text-anchor="start" fill="#1a1a1a" stroke="#1a1a1a" stroke-width="0.1" font-style="italic" transform="translate(617.2 332.1) scale(1 1.1)">p = n.s.</text>
<circle cx="622" cy="419.3" r="1.6" fill="#1f1fff"/>
<text font-size="5.7" text-anchor="start" fill="#222" stroke="#222" stroke-width="0.1" transform="translate(625.9 421.4) scale(1 1.1)">Vehicle</text>
<circle cx="622" cy="425.9" r="1.6" fill="#ff2424"/>
<text font-size="5.7" text-anchor="start" fill="#222" stroke="#222" stroke-width="0.1" transform="translate(625.9 428) scale(1 1.1)">VCD</text>
<line x1="625.5" y1="385.9" x2="666.1" y2="380.5" stroke="#333" stroke-width="0.6"/>
<path d="M640.7 409.6h0M637 385.1h0M640.2 389.5h0M639.9 403.7h0M641 389.2h0M628.8 393h0M635.5 410.8h0M631.9 412.1h0M627.1 403h0M629.6 397.1h0M637.7 389h0M638.9 361.4h0M639.5 358.6h0M634.7 374.4h0M639.3 381.7h0M628.2 383h0M634 402.5h0M627.5 402.2h0M636.5 366.4h0M635.9 388.4h0M626.5 412.5h0M635.9 382.5h0" stroke="#1f1fff" stroke-width="2.3" stroke-linecap="round"/>
<path d="M650.4 361.9h0M644.4 372.1h0M662.4 383h0M654.8 371.2h0M659.4 410.7h0M633.7 355.8h0M655.3 397.9h0M655.1 403.1h0M640.8 387.6h0M635.9 404.9h0M646.3 375.8h0M639.2 375h0M664.1 409.6h0M637.8 407.6h0M652.7 389.2h0M643.8 398.6h0M656.4 369.4h0M644.1 365.6h0M636 393.1h0M663.2 399.7h0M632.7 410.9h0M652.5 365.9h0M629.3 385.4h0M642.2 394h0" stroke="#ff2424" stroke-width="2.3" stroke-linecap="round"/>
<text font-size="11.5" text-anchor="start" fill="#111" stroke="#111" stroke-width="0.1" transform="translate(2 490) scale(1 1.1)">i</text>
<text font-size="8" text-anchor="middle" fill="#111" stroke="#111" stroke-width="0.1" transform="translate(74.9 490.1) scale(1 1.1)">Cycle 0</text>
<text font-size="8" text-anchor="middle" fill="#111" stroke="#111" stroke-width="0.1" transform="translate(143.7 490.1) scale(1 1.1)">Cycle 7</text>
<text x="35.6" y="524.4" font-size="8" text-anchor="middle" fill="#111" stroke="#111" stroke-width="0.1" transform="rotate(-90 35.6 524.4)">Vehicle</text>
<text x="35.6" y="586.2" font-size="8" text-anchor="middle" fill="#111" stroke="#111" stroke-width="0.1" transform="rotate(-90 35.6 586.2)">VCD</text>
<path d="M99.4 530.7l-2.1 0.6-2.1 0.7-2.1 0.7-2.1 0.7-2 0.8-2.1 0.7-2.1 0.6-2.1 0.9-2 0.8-2.1 0.7-2.1 0.6-2.1 0.6-2.2 0.3-2.2 0.2-2.2 0.1-2.2-0.2-2.2 0-2.2 0-2.2-0.1-2.2 0-2.2 0.1-2.2 0-2.2 0.1-2.1-0.4-2.1-0.7 2.2 1.9-0.6 2.9-0.2 3 0.1 0.9-0.5 3.7-0.7 2.4 0.3-0.9 1.8-0.8 2.7-1.1 2.6-0.3 2.2 0.1 2.5 0.5 1.9 0.6 2.7-0.7 2.4-0.2 2.8 0.1 2.4 1.1 2.4-0.7 2.5 0.1 1.7-1 3.1-0.3 2 0.7 2.5 0.6 2.8-0.4 2.2-0.1 2.3-0.6 2.6 0.5 2.8 1.8 1.5-1.3-2.1 0.6-3.3-0.7-1.6-0.8-2.8 0.4-2.1 0.7-2.4 0.7-2.1-0.2-2.3 0.1-2.2-1.1-3.5-0.2-2.1 0.8-2.4 1.1-2.8-0.6-1.8 0.3-2.3 1-2.7-0.9-1.9-0.1-3.1 1.5-2.5-1.6-2.1 1.8-1.7-2.2-3.1 1.1 0.3-0.2-0.3-2 0.6-2.1 0.5-2.1 0.6-2.2 0.5-2.1 0.3-2.2 0.3-2.2 0.5-2.1 0.7-2.1 1.2-1.8 1.4-1.7 1.8-1.3 1.9-1.1 2-0.9 2.2-0.5 2.2-0.3 2.2-0.1 2.2 0.1 2.2 0 2.2-0.1 2.1-0.2 2.2-0.4 2.2-0.3 2.1-0.5 1.9-1.1 1.8-1.3 1.7-1.4 1.3-1.8 1.1-1.9 0.6-2.1 0.2-2.2-0.1-2.2-0.6-2.1-1.1-2-1.5-1.5-1.8-1.3-2-1-2.1-0.6-2.2-0.2-2.1 0.5-2 0.9-1.7 1.4-1.4 1.7-1.1 1.9-0.9 2-0.6 2.1-0.5 2.2-0.4 2.1-0.5 2.2-0.4 2.2-0.1 2.2-0.2 2.2 0 2.2-0.2 2.1-0.2 2.2-0.1 2.2-0.1 2.2-0.1 2.2-0.1 2.2-0.1 2.2-0.4 2.2-0.5 2.1-0.6 2.1-0.8 2.1-1 2 1.4-1.7 1.5-1.6 1.4-1.7 1.2-1.9 1-1.9 0.8-2.1 0.7-2.1 0.7-2.1 0.8-2 0.9-2 1.1-1.9 1.4-1.7 1.6-1.5 1.9-1.1 2.1-0.8 2.1-0.5 2.2-0.2 2.2 0.1 2.2 0.2 2.2 0 2.2-0.2 2.2-0.2 2.2-0.2 2.2-0.3 2.1-0.4-2.1 0.6-2 0.8-2.1 0.9-2 0.8-2.1 0.6-2.1 0.5-2.2 0.6-2.1 0.7-2.1 0.6-2.1 0.4-2.2-0.1-2.2-0.5-2-0.9-1.9-1.1-1.7-1.4-1.5-1.6-1.5-1.7-1.4-1.6-1.7-1.5-1.6-1.4-1.5-1.6-1.6-1.6-1.6-1.5-1.7-1.4-1.7-1.4-1.7-1.4-1.7-1.4-1.7-1.3-1.9-1.2-1.9-1-0.3-1.9 2.2 0.5 2.1 0.3 2.2 0.4 2.2 0.3 2.2 0.2 2.2 0.1 2.1-0.5 2.1-0.6 2-0.9 2-1 1.8-1.3 1.5-1.6 1.4-1.7 1.1-1.8 0.6 2.1 0.4 2.2 0.3 2.2-0.1 2.2-0.1 2.2-0.2 2.1-0.3 2.2-0.2 2.2 0.1 2.2 0.3 2.2 0.7 2.1 0.8 2 1.2 1.9 1 1.9 0.8 2.1 0.6 2.1 0.3 2.2-0.2 2.2-0.5 2.1-0.5 2.2-0.3 2.1-0.3 2.2-0.6 2.1-1.1 2-1.4 1.6-1.9 1.1-2.1 0.7-2.2 0.5-2.1 0.5-2.2 0.4 2-1 2-0.9 1.9-1.1 1.9-1.1 1.8-1.2 1.9-1.2 1.9-1.1 2-1 2-0.9 2-0.9 2-0.8 2.1-0.8 2-0.7 2.1-0.7 2-1 1.9-1 1.9-1.1 2-1 1.9-1.2 1.3-1.4-1 2.8 1.2 1.7-0.9 2.8 0.2 2.7 0.9 1.8-0.7 2.2 0 2.7 0.4 2.8-0.4 1.1-2.5-1.4-1.5 0.1-2.3-1.2-2.3 0.7-2.3-1.4-2.5 0.5-2.1-0.6-2.1-0.9-2-0.9-1.9-1.1-1.4-1.6-1.2-1.9-1.1-1.9-1.1-1.9-1.1-1.9-1-2-0.9-2-0.8-2-0.9-2.1-0.7-2-0.7-2.1-0.9-2-1.1-1.9-1.4-1.7-1.3-1.8-1.3-1.8-0.9-2-1-2-0.9-1.9-1.2-1.9-1.4-1.7-1.6-1.5-1.7-1.4-1.9-1.1-2-0.9-2-1-1.9-1-1.3-1 1.4-2.8 0.4 3 1.8-1.3 3.2 0 1.7 0.9 2.7 0 3 0.4 1.7-0.2 2.3-0.5 2.7 0.1 2.6-2.6 1.8 1 3 0.3 2 1.1 2.5 0.8 2.4 0.8 2.5 0.1 2.1-0.1 2.9 0.2 1.6-0.3 3-1.7 2.2-0.8 2.1 1 3.5-1 2.4 0.5-1.5 0.9 0.2 2.4-0.1 2.2-0.2 2.9-2.1-0.7-2-0.8-2.1-0.8-1.9-1.1-1.9-1.1-1.7-1.3-1.8-1.4-1.8-1.2-2.5 0.6-1.9-0.4-2.9 1-2.2 1.4-2.5-0.2-2-0.9-2.6 0.3-2.5 0.3-1.8 0.3-3.1 0.2-1.8-0.1-3-0.2-2-1.3-2.6-1.4-2.7 2.3-1.9-0.5-2.5-0.2 2.1-1.2-0.2 2.3-0.1 3.4-1.1 2.3-0.2 2.2 0.6 1.8 1.1 2.3-0.6 3 0.6 2.6 0 2.3-0.5 2.5 1.2 2.7-0.2 2.3 0.1 1.7 0.2 2.6 0.1 2.7 0.8 2.3-1.1 2.5-0.7 2.6 1.4-1.7 1.2-1.9 1.1-1.9 1.1-1.9 1.2-1.9 1.3-1.7 1.5-1.7 1.4-1.6 1.5-1.6 1.3-1.8 1.2-1.9 1.1-1.8 1.2-1.9 1.3-1.8 1.2-1.8 1.2-1.9 1.4-1.7 1.3-1.7 1.4-1.7 1.3-1.8 1.3-1.8 1.1-1.9 1-2 0.6-2.1 0.3-1.6-2.4 2.6-2.3 1.3-2.6-0.6-2.5-0.2-2.6-0.8-1.9 0.2-2.9-1.8-1.9-0.3-2.7 1.2-1.9 0.2-2.8-0.5-2.3 0-0.2 2.2-0.9 2-1.3 1.8-0.4 2.2 0.4 2.1 1.6 1.5 1.5 1.6 1.5 1.7 1.3 1.7 1.4 1.7 1.5 1.6 1.6 1.5 1.7 1.4 1.8 1.2 1.9 1.1 2 1.1 1.9 1 1.7 1.4 1.8 1.3 1.9 1.2 1.9 1 2.1 0.5 2.2-0.1 2.2-0.5 2.1-0.6 2.1-0.6 2-0.8 1.9-1.2 1.8-1.3 1.5-1.6 1.1-1.9 0.7-2.1 0.4-2.1 0.3-2.2 0.1-2.2 0.2-2.2 0.1-2.2 0.1-2.2-0.2-2.2-0.6-2.1-0.8-2.1-1-1.9-0.8-2 2.3 1.3 2.5-1 2.5 1.6 2.8-0.5-2.5-2 1.2 3.1 0 2.6-0.4 1.9 0.5 2.8 0.6 2.3 1.5 1.9-0.2 2.8 0.2 2.7-1.7 1.9-1.8 2.1 0.8 3.4-0.7 2 2.2 2.3-0.1 2.6 0.5 2 0 2.5 0.8 3.1 0.5 1.9-1.5 1.8 0.5-2.4-0.7-2.4 1.3-2.9-1.3-1.6-0.2-2 1.7-2.4-0.2-3.3 0.3-2.1-0.3-2.4 0.5-2.5 0-2.3-0.9-2.9-0.5-1.7-1-2.7 0-2.1 0.2-3.3 0-1.6-0.3-2.7 2.1 0.8-1.9 0.7-2.8-0.1-2.9-0.4-2-1.5-2.3-0.5 2.4-0.6 2.1-0.1 2.9 0.4 2.2-0.3 2.8-0.3-1.4 1.8 1.2 2.3-0.3 2.5 0.2 2.6-0.1 2.5-0.2 2 0.3 2.3-0.3 2.8 0.2 2.3-0.3 2.1 0.4 2.5-0.2-2.5-0.4-2.4-1-2.3 0.9-2.8-0.5-1.2-0.6-3 0.4-2.7-0.3-2.2 0-3 0.2-2.2 0.9 0.6-1.5 0.7-2.9 0.1-2.2-0.9-2.4-0.7-2.4-0.7-2.3 1.2-2.3-1.1-2.5-0.8-2.4 0.5-2.9-0.8-1.6 0.6-2.6 0-2.5-0.6-2.9 0.5 1 2 1.1 1.8 1.5 1.6 1.7 1.4 1.7 1.5 1.7 1.3 1.6 1.6 1.3 1.8 1.1 1.9 0.9 2 0.8 2 0.9 2 1 2 0.8 2 0.8 2.1 0.7 2.1 0.8 2 1 2 0.9 2 0.9 2 0.7 2.1 0.7 2.1 0.5 2.1 0.3 2.2 0.2 2.2 0.2 2.2 0.3 2.2 0.4 2.1 0.7 2.1-1.5-1.6-1.5-1.5-1.8-1.4-1.7-1.4-1.8-1.2-2-1-2-0.9-1.9-1-1.8-1.4-1.5-1.5-1.3-1.8-1.1-1.9-0.7-2.1-0.3-2.2 0.2-2.2 1-2 1.6-1.4 2.1-0.9 2.1-0.6 2.1-0.5 2.1-0.5 2.2-0.7 2-0.7 2-1 2-1 1.9-1 1.9-1.2 1.6-1.4 1.4-1.7 1.3-1.8 0.2-2.4-1.2-1.9 0-3.1 2.5-2.5-0.1-1.8-0.9-2.8 0.7-2-1.8-0.7-2.2 1.6-3.2 0-1.8 1.8-2.8 0-1.8 0.7-2.6-0.5-1.9 1-2 1-1.8 1.2-1.8 1.3-1.7 1.4-1.7 1.5-1.6 1.5-1.5 1.6-1.3 1.7-1.2 1.9-1 1.9-1 2-1.2 1.8-1.4 1.7-1.6 1.6-1.7 1.4-1.7 1.3-1.8 1.2-1.9 1.1-2 0.9-2.2 0.6-2.2 0.1-2.2-0.2-2.2-0.3 0.7 2.7-0.3 1.8 0.6 2.8-0.5 2.7-0.5 2.2 1.6 2.3-0.9 2 1.3 2.8 1.1 2.3-0.1 2.4-2.1-3 2.9 0.4 2.2-0.5 2.3 0.6 2.9 0.1 0.4-2.1 0.5-2.2 0.4-2.1 0.4-2.2 0.3-2.2 0.5-2.1 0.6-2.1 0.6-2.1 0.5-2.2 0.5-2.1 0.1-2.2 0-2.2 0-2.2 0-2.2-0.1-2.2-0.2-2.2 0-2.2 0.1-2.2 0-2.2-0.3-2.2-0.4-2.1-0.7-2.1-1-2-1.1-1.9-1.6-1.5-0.6 2.1-0.6 2.1-0.8 2.1-0.7 2.1-0.7 2-0.9 2.1-0.7 2-0.7 2.1-0.4 2.2-0.5 2.1-0.6 2.1-0.7 2.1-0.4 2.2-0.1 2.2 0.5 2.1 0.7 2.1 0.9 2.1 1 1.9 1.2 1.9 1.4 1.7 1.6 1.5 1.5 1.5 1.7 1.5 1.6 1.5 1.4 1.7 1.3 1.8 1.4 1.7 1.4 1.7 1.4 1.6-0.1-2.2-0.1-2.2-0.2-2.2-0.3-2.2-0.3-2.1-0.4-2.2-0.6-2.1-0.6-2.2-0.5-2.1-0.3-2.2-0.2-2.2 0-2.2 0.1-2.2 0.1-2.2 0.4-2.1 0.6-2.1 0.8-2.1 1.1-1.9 1.3-1.7 1.3-1.8 1.5-1.6 1.7-1.4 1.8-1.3 2-0.9 2.2-0.5 2.2-0.1 2.2 0.3 2.1 0.4 2.2 0.4 2.2 0.2 2.2 0.2 2.2 0 2.2-0.1 2.1-0.4 2.1-0.7 2.1-0.8-1 2-0.7 2-0.7 2.1-0.5 2.2-0.5 2.1-0.4 2.2-0.5 2.1-0.7 2.1-0.7 2.1-0.6 2.1-0.5 2.2-0.7 2-0.9 2.1-0.9 2-1 1.9-1 2-1.2 1.9-1.1 1.9-1.2 1.8-1.1 1.9-0.9 2-0.5 2.2-0.2 2.2-0.1 1.4 1-2 1-1.9 1.1-1.9 1.3-1.8 1.4-1.7 1.5-1.6 1.6-1.6 1.5-1.6 1.6-1.5 1.6-1.5 1.7-1.4 1.8-1.2 0.5 2.2-2.1 0.6-2 0.8-2 1.1-1.8 1.2-1.8 1.2-1.9 1.1-2 1.1-1.8 1.2-1.9 1.1-2 1-1.9 0.9-2 1.1-1.9 1.1-1.9 1.1-2 1-2 0.9-2 0.8-1.5-1.7-1.5-1.5-1.6-1.6-1.4-1.6-1.5-1.7-1.3-1.7-1.3-1.9-0.7-2-0.4-2.2-0.2-2.2-0.1-2.2 0.1-2.2 0.2-2.2 0.3-2.2 0.3-2.1 0.2-2.2 0.5-2.2 0.6-2.1 0.7-2.1 0.9-2 1-2 1.2-1.8 1.5-1.6 1.6-1.5 1.6-1.5 1.5-1.6 1.5-1.6 1.3-1.8 0.8-2.1 0.5-1.5 2 2.5 2.5-0.4 3 0.3 2.2 0.5 2.1-1.2 2.7-0.4 2.1-0.2 3-1 1.7-0.7 3.1 0.2 2.4-0.3 1.7 0.3 0.1 1.9-1.9 1.1-1.9 1.1-2 0.9-2 1-1.9 1-2.1 0.9-2 0.8-2.1 0.6-2.2 0.4-2.1 0.5-2.2 0.1-2.2-0.1-2.2-0.2-2.2-0.4-2.1-0.7-2-0.8-2.1-0.7-2.2-0.4-2.2-0.2-2.2 0.1-2.1 0.4-2.1 0.5-2.1 0.8-2.1 0.7-2.2 0.4-2.1 0.6-2.1 0.6 2.2 0.2 2.2 0.2 2.2 0.1 2.2 0.3 2.1 0.5 2.1 0.7 2 0.9 1.8 1.2 1.6 1.5 1.5 1.7 1.1 1.9 1.1 1.9 1.3 1.8 1.4 1.7 1.3 1.7 1.2 1.9 1.1 1.9 1 1.9 0.7 2.1 0.5 2.1 0.2 2.2 0 2.2-0.1 2.2 0.2 2.2 0.4 2.2 0.7 2.1 0.8 2 1.1 2 1.2 1.8 1.2 1.2-2-2.2-3.2 1-1.9 1-2.3 0.3-2.5 0.5-2.4-0.9-3.1-0.2-1.7-1-2.3-1.2-2.2-0.9-3 0.8-2.2-0.2 0.7-2.1 0.5-2.2 0.3-2.1 0.3-2.2 0.3-2.2 0.2-2.2 0.1-2.2-0.1-2.2-0.3-2.2-0.3-2.1-0.6-2.2-0.5-2.1-0.4-2.2-0.3-2.1-0.2-2.2 0-2.2 0.3-2.2 0.7-2.1 1-1.9 1.3-1.8 1.6-1.5 2-1.1 2.1-0.6 2.2-0.2 2.1 0.2 2.1 0.9 1.8 1.2 1.7 1.4 1.5 1.6 1.3 1.8 1.3 1.7 1.4 1.8 1.4 1.6 1.5 1.7 1.7 1.4 1.7 1.3 1.8 1.4 1.6 1.5 1.5 1.5 1.5 1.7 1.3 1.7 1.2 1.9 1.3 1.8 1.3 1.7 1.6 1.6 1.6 1.5 1.6 1.5 1.3 1.7-2.4-1.8 0.2-2.7-0.7-2.4 1.6-2.2-0.4-2.7 1.1-2.7 0.9-1.8-0.6-3.3 0.5-2.1 0.2-2-0.2-2.9 0.4-1.8-0.2-2.4-1.8-3 0.8-1.7-0.9-3.4 1.6-1.3 1.1-2.4-1.6-1.1-2.6 0.6-1.7-0.1-2.6 1.5-2.4-1.3 2.6 0.2 1.8-0.1 2.5-0.6 3.1 0.4 0-0.3 0.3 2.5 0 2.1 0.9 2.9-0.2 2.6-0.4 2.2 0.4 2.3-0.2 2.9-0.4 2.7 0.1 2.4-0.1 1.3-0.7 2.8-0.6 2.2 0.1 2.6 1 2.4-1.6 2.4 0.2 2.9 1.2 2.1 0.1 1.9-1 2.9-0.9 1.8-0.4 2.5-1.3-1.8-1.3-1.7-1.6-1.6-1.6-1.5-1.8-1.2-2-1-2.1-0.5-2.2-0.2-2.2-0.3-2.2-0.2-2.2-0.4-2.2-0.2-2.1-0.3-2.2-0.4-2.1-0.7-2.1-0.6-2.1-0.6-2.1-0.7-1.9-1-1.9-1.1-1.7-1.4-1.6-1.6-1.5-1.6-1.2-1.9-0.7-2-0.3-2.2-0.3-2.2-0.4-2.1-0.6-2.2-0.6-2.1-0.7-2.1-0.9-2-1-2-1.1-1.9-1.2-1.8 0.7 2.1 0.8 2.1 0.8 2 1 1.9 1.1 1.9 1.2 1.9 1.4 1.7 1.2 1.9 1 1.9 1 2 0.5 2.1 0.6 2.2 0.5 2.1 0.6 2.1 0.8 2.1 0.9 2 0.9 2 0.9 2 0.9 2 0.7 2.1 0.7 2.1 0.6 2.1 0.5 2.1 0.3 2.2 0.3 2.2 1-2 0.8-2.1 0.4-2.1 0-2.2-0.2-2.2-0.4-2.2-0.4-2.1-0.2-2.2-0.2-2.2-0.2-2.2-0.3-2.2-0.5-2.1-0.6-2.1-1-2-1.4-1.7-1.7-1.4-1.8-1.2-2-1-2.1-0.6-2.2-0.5-2.1-0.4-2.2-0.3-2.2-0.3-1.2 0.2 2 1 1.9 1 2 1 1.8 1.3 1.7 1.3 1.5 1.6 1.6 1.6 1.5 1.6 1.5 1.6 1.4 1.7 1.2 1.8 1.1 1.9 1.1 2 0.9 1.9 1.3 1.8 1.6 1.5 1.8 1.3 1.9 1.1 1.9 1.2 1.6 1.4 1.4 1.8 0.9 2 0.8 2 0.8 2-2.8-1.8-1.9-0.9-2.5 1.7-2.7 1.5-2.3-0.7-1.7-1-3.5-1-1.6 1.8-2.5-0.4-2.3 0.8-2.3-0.2-2.8-1.1-2.6-0.4-2.3 0.7-0.6 0.9 1.1-2-0.3-1.7 0.1-3.5-1.3-2.4 0.3-2.1 0.6-2.1-1.2-3.3 0-1.9-0.4-1.7-0.1-3.5 0.4-2.1 0-2.3-0.5-2.3 2.2 0.1 2.2 0.1 2.2 0 2.2 0.1 2.2 0.2 2.2 0.3 2.2 0.3 2.1 0.4 2.1 0.7 1.9 1.1 1.8 1.2 1.9 1.1 2.1 0.9 2 0.7 2.1 0.8 2 0.9 1.9 1.1 1.9 1.2 1.9 1.1 1.9 1.1 1.8 1.2 1.7 1.4 1.5 1.6 1.5 1.6 1.8 1.3 1.9 1.1 1.9 1.1 1.9 1.2 1.9 0.9-2-0.8-2-0.9-1.8-1.3-1.4-1.6-1.1-1.9-0.7-2.1-0.4-2.2 0-2.2 0.7-2.1 1.2-1.8 1.6-1.5 1.9-1.1 2.1-0.6 2-0.4-3.2-2.4 0.3-2.5 1.2-2.2-1-2.9 1.3-1.9-0.5-3-0.3-1.3-0.1-2.6 0.3-3.2-0.1-1.6-1.7 1.5-1.6 1.5-1.4 1.7-1.2 1.8-1.1 2-0.9 1.9-1.1 2-1 1.9-1 2-1 1.9-1.1 1.9-1.5 1.7-1.9 1-2 0.8-2.2 0.6-2.1 0.5-2.2 0.3-2.2 0.3-2.2 0.2-2.2 0.1-2.1-0.3-2.1-0.7-2-0.9-2-1-2-1-1.9-1-2-1.1-1.9-1-2-1-2-0.9-2-0.9 0.2 2.2-0.1 2.2 2.1-0.5 2.2-0.3 2.2-0.2 2.2 0 2.1 0.5 2.1 0.7 2.1 0.8 2 0.8 2.1 0.8 2 0.8 2.1 0.5 2.2 0.6 2.1 0.7 2 0.7 2.1 0.7 2.2 0.3 2.2 0 2.2-0.2 2.1-0.4 2.2-0.3 2.2-0.4 2.2-0.3 2.1-0.4 2.2-0.2 2.2 0.4 2 0.9-2-1-1.9-1.1-1.8-1.2-1.4-1.7-0.9-2-0.6-2.2 0-2.2 0.5-2.1 1-1.9 1.3-1.8 1.5-1.6 1.6-1.6 1.5-1.5 1.4-1.6-2.2-0.3-2.1-0.5-2-0.9-1.9-1.1-1.6-1.5-1.1-1.9-0.5-2.2-2.7 0.3-2.7-0.2-2.1-0.2-1.5-0.6-3.1-0.5-1.8-0.2-3.4 1.1-2.2-0.1-2.8 0.9-0.8-0.3-2.6-0.8-3.9 1.6-1.4 0.7-3.1 0.8-2.4-0.8-2.2 0.8-2.2 0.1-2.7 0.1 2.1-3.6-0.2 2.3 0.1 2.3-0.3 2.4 0.9 2.1-1.4 3 0.9 2.8-0.4 1.2 1.7 1.4 1.9 1.2 1.8 1.2 1.8 1.3 1.8 1.2 1.9 1.2 1.9 1.2 1.7 1.3 1.8 1.3 1.7 1.4 1.6 1.4 1.6 1.6 1.4 1.7 1.2 1.8 1 2 0.7 2.1 0.6 2.1 0.3 2.2 0.1 2.2-0.3 2.2-0.3 2.1-0.2 2.2 0.1 2.2 0.6 2.2-2.1-2.9-2.5-1.1-2.5 0.5-2.5 0.4-2.4 0.7-1.9 0.5-2.8-1 1.3-1.7 1.3-1.9 1.4-1.7 1.5-1.5 1.8-1.3 1.9-1.1 2.2-0.5 2.2 0.1 2.1 0.5 2.1 0.8 1.9 1 1.9 1.1 1.9 1 2 1 2.1 0.8 2.1 0.6 2.2 0.4 2.1 0.3 2.2 0.1 2.2-0.3 2.2-0.2 2.2-0.2-0.6-2.1-0.8-2.1-1.2-1.9-1.4-1.6-1.8-1.3-2.2-0.5-2.2 0-2.1 0.5-1.9 1-1.7 1.4-1.4 1.8-1 1.9-0.9 2-0.7 2.1-0.3 2.2 0.2 2.2 2.6-0.2 2.3-0.8 1.9 0.6 2.3 1.1 2.4-0.7 2.6 0.2 2.7 0.1 2.4-0.3 1.8 0.3-0.3-2.1 0.3-3.2-0.8-2.1-1.3-1.7-1.5-1.6-1.4-1.8-1.3-1.7-1.1-1.9-0.8-2.1-0.8-2-0.5-2.2-0.7-2.1-0.6-2.1-0.5-2.1-0.3-2.2-0.1-2.2-0.2-2.2-0.2-2.2-0.3-2.2-0.4-2.1-0.1-2.2 0.2-2.2 0.5-2.2 0.7-2 1-2 1.3-1.7 1.5-1.7 1.6-1.2 2.6 0.8 2.7 0.6 0-0.7 0.5 1.4-0.9 2.7-0.2 2.9-0.8 2.4-0.5 2.5-0.5 2.2 1 1.7 1.8 3.3 0.3 2.3 0.5 1.8-0.9 2.7-0.2 2.3 0 2-0.8 2.6-0.6 2.8 2.1 2.6-0.2 1.7 0.6 3-0.9 2.2-0.7-2.1-2.2 0-2.2-0.2-2.2-0.2-2.1-0.4-2.2-0.4-2.1-0.7-2.1-0.5-2.2-0.4-2.2 0-2.2 0-2.2 0-2.2 0-2.2-0.2-2.1-0.3-2.2-0.4-2.2-0.4-2.2 0-2.2 0-2.1 0.5-2 0.9-1.9 1.2-1.6 1.5-1.3 1.8-1 1.9-0.9 2-0.7 2.1-0.5 2.1-0.1 2.2-2.7-0.1-0.9 1.5 1-2.7-1.3-2.2-0.1-2.8-0.8-1.2 1.6-3.2 0-2.1 0.1-2.4 1.1-2.7 0.1-2.5 0.3-2.6-1.5-2 1.9-2.4-0.9-2.8-0.1-2.4 0.9-2-0.1-2.7-0.8-2.2-0.7-2.9-0.4-2.4 1.2-2.1 0.3-2.2-0.6-2-0.7-3.1-1.3 0.2 3.9 3-0.9 2.1 0.4 2.2-1.2 2.4 0.1 2.9-1 1.8 1.5 2.3 0.7 3-0.7 1.8-0.4-1.9-2.3-3.1 0-1.9-0.5-3.1 0.9-2.1-0.5-2.6 0.6-2.6 0.4-1.9-0.5-2.4-0.7 0.3 2.7 1.3 1.6-0.4 3.4 0.9 2.2-0.2 1 2 1.2 1.9 1.3 1.7 1.6 1.5 1.9 1.1 2.1 0.8 2 0.9 2 0.8 2.1 0.7 2.1 0.6 2.2 0.4 2.2 0 2.2-0.2 2.1-0.5 2.1-0.6 2.2-0.7 2.1-0.6 2.1-0.6 2.1-0.6 2.1-0.6 2.2-0.5 2.1-0.2 2.2 0.1 1.8 0.6-1.9 1.1-1.8 1.3-1.5 1.6-1.3 1.7-1 2-0.7 2.1-0.4 2.2-0.2 2.2-0.1 2.2-0.1 2.2-0.5 2.1-0.5 2.1-0.5 2.2-0.4 2.2-0.3 2.1-0.5 2.2-0.5 2.1-0.8 2.1-0.8 2-1.1 1.9-1.3 1.8-1.2 1.8-1 2-1.8-1.4-1.8-1.3-1.8-1.1-2-1-2.1-0.7-2.1-0.4-2.2-0.2-2.2 0.1-2.2 0.4-2.1 0.7-1.9 1-1.8 1.4-1.4 1.6 0.3-2.2 0.5-2.1 0.5-2.1 0.3-2.2 0.2-2.2 0.2-2.2 0.5-2.1 0.6-2.2 0.4-2.1 0.1-2.2-0.1-2.2-0.4-2.2-1.1-1.9-1.3-1.8-1.6-1.5-1.8-1.2-2-1-2-0.8-2-0.9-2-0.9-2-1.1 1.6-1.5 1.6-1.6 1.5-1.6 1.6-1.5 1.7-1.3 1.8-1.3 1.8-1.2 1.8-1.3 1.8-1.3 1.8-1.3 1.7-1.4 1.7-1.4 1.8-1.3 0.5 2.1 0.4 2.2 0.3 2.2-0.3 2.2-0.6 2.1-1 1.9-1.1 2-1.1 1.9-1.1 1.9-1 1.9-0.8 2.1-0.7 2.1-0.8 2-0.9 2-1 2-1 1.9-1.1 1.9-1.1 2-1.1 1.8-1.5 1.7-1.8 1.2-2 0.9-2.2 0.3-1.2-0.1 2.2-0.2 2.2 0.1 2.2 0.3 2.1 0.6 2.1 0.7 2 0.8 2 0.9 1.9 1.2 1.8 1.2 1.7 1.4 1.5 1.6 1.3 1.8 1.2 1.8 1.1 1.6-0.1-2.2 0.1-2.2 0.6-2.1 0.6-2.1 0.8-2.1 1-1.9 1.4-1.8 1.5-1.6 1.7-1.4 1.6-1.4 1.7-1.5 1.4-1.6 1.4-1.7 1.3-1.8 1.1-1.9 1.1-2 1-1.9 1.3-1.8 1.5-1.6 1.8-1.3 1.9-1 2.2-0.5 2.2-0.1 2.1-0.1-2.8 2.3 0.2 2.7 0.1 2.2-0.1 2.7-0.4 1.6-0.8 2.6 1.9 2.7-0.5 2.6 0.8 2.5-1.7 1.5-0.5 2.3 0.8 3.4 1.7 1.9 1.8 2.6-1.4 2.7 0.3-0.1-1.5-0.9-2.6 0.8-2.2-0.2 2.3 1 2.7-1.7 2.1 0.6-2.9 0.2-0.5-2.9 0-2.1 0-2.2 0.5-2.4-0.1-2.3-1.1-2.3 0.7-2.6 0.8-2.2-0.5-2.1-0.6-3 0.3-1.8-0.2-2.8 0.8-2.7-0.4-2.2 0-2.5-1.9 1.1-2 0.9-2.2 0.5-2.2 0.1-2.2-0.1-2.1-0.2-2.2-0.1-2.2-0.2-2.2-0.3-2.2-0.5-2.1-0.7-2.1-0.5-2.2-0.3-2.1-0.5-2-0.9-2-1-1.9-1.1-1.9-1.1-1.8-1.2-1.9-1.2-1.8-1.2-1.7-1.4-1.6-1.5-1.4-1.7-1.3-1.8-1.1-1.9-1-2 2.1 0.7 1.7 1.4 1.9 1.2 1.9 1 2.1 0.7 2.2 0.2 2.2-0.1 2.1-0.6 2-1 1.8-1.2 1.7-1.4 1.5-1.2 0.6 2.1 0.6 2.2 0.3 2.1 0.2 2.2 0 2.2-0.3 2.2-0.3 2.2-0.4 2.1-0.8 2.1-1.1 1.9-1.1 1.9-1.2 1.9-1.3 1.7-1.5 1.6-1.7 1.4-1.9 1.1-2 0.9-2.2 0.5-2.1 0.3-2.2 0.2-2.2 0-2.2 0.1-2.2 0.2 0.7 2.7-0.6 2.1 1.1 2.4-0.4 3.3-0.3 1.1-0.8 3-0.1 1.9 0.4 3.5-0.7 1.3 2.2 0 2.2 0 2.2 0.1 2.2 0.1 2.2-0.2 2.1-0.5 2-1 1.7-1.4 1.4-1.7 1.4-1.7 1.5-1.6 1.6-1.5 1.9-1.2 1.8-1.1 1.9-1.2 1.9-1.1 1.9-1 2-1 2.1-0.8 2.1-0.6 2.1-0.5 2.2-0.1 2.2 0.4 2 0.9 1.8 1.2 1.5 1.6 1.2 1.8 0.8 2.1 0.6 2.1 0.5 2.2 0.4 2.1 0.4 2.2 0.3 2.2 0.3 1.6-2.2-0.3-2-1-2-0.8-2.2-0.5-2.1-0.3-2.2 0-2.2-0.1-2.2-0.2-2.2-0.3-2.1-0.6-2.1-0.7-2.1-0.8-2-0.7-2.2-0.6-2.1-0.2-2.2 0.3-2.1 0.7-1.8 1.3-1.4 1.6-1.2 1.9-0.7 1.3 0.3-2.2 0.3-2.1 0.1-2.2 0-2.2-0.1-2.2-0.6-2.2-0.8-2-0.9-2-1-2-1.1-1.9-1.2-1.8-1.4-1.7-1.4-1.7-1.4-1.7-1.4-1.7-1.2-1.8-1.1-2 1.9-1.8-0.1-3 0.8-2.6 0-2-0.7-3.1 0.9-1.8-0.4-2.5-1.3-2.1-0.7-2.8-0.9-1 2.8-1.2 1.9 1.5 2.6 0.7 2.2-0.9 2.8 1 2.2-0.9 2.6-0.6 2.1 0 2.9 0.8 2.3 0.4 1.9-1.1 2.7 0.8 2.5 0.1 2.1 0.4 2 0.5-1.5 1.7-1.3 1.7-1.2 1.8-1.3 1.8-1.2 1.9-1 1.9-1 2-0.9 2-1 2-0.9 2-0.7 2-0.4 2.2 0.2 2.2 0.6 2.1 1.1 1.9 1.4 1.7 1.7 1.4 1.9 1.1 2.1 0.8 2 0.7 2.1 0.7 2.1 0.6 2.2 0.6 2.1 0.6 2.1 0.6 2.2 0.4 2.1 0.4 2.2 0.1 2.2 0 2.2 0 1.2 0-1.6-2.5-0.8-2.5-0.5-2.5-0.3-2.7 1.1-1.7-0.3-2.7-1.5-2 1.3-2.5 0-2.5-0.4-2.8 0.2-1.8 0.2-2.2-0.2-2.2-0.1-3-0.2-1.9-0.5-2.8 0.5-3.1 1.5 3.8-1.9-0.6-2 0.3-2.6 0.2-2.3 0.3-3.1-0.6 2.7-0.3 2.1 1.5 2.5-2 2 0.4 2.4 0.6-1.2-3.1 1.9 2.3 0.3 2 1.3 3-0.1 1.6-0.3 2.9-0.9 2.2-0.3 2-0.4 2.5 0.5 2.8 0.3 2.3 0.8 2.9-1 2.3 0 2.1-0.3 2.2-0.4 2.5-0.8 2.5-1.4 2.3 0.9 2.2-1.8-1.3-1.8-1.3-1.9-1-2.1-0.8-1.9-1-2-0.9-2-1.1-1.9-1-2-0.9-2-1-1.9-1-2-1.1-1.8-1.1-1.7-1.5-1.5-1.6-1.2-1.8-0.8-2.1-0.3-2.2 0.1-2.2 0.7-2.1 0.8-2 0.9-2 1.3-1.8 1.6-1.5 1.9-1 2-0.9 2.1-0.9 2.1-0.4 2.2-0.2 2.2 0 2.2 0.3 2.2 0.4 2 0.7 2.1 0.9 1.9 1 1.9 1.1 1.8 1.3 1.5 1.2-1.7-2.8-1.5-2 0.1-2.5-0.7-2.4 1.2-2.2 0.8 3.3-2.4-0.5-2-2.1-2.3-0.9-2.6 0.1-2.4 0.1-2.3-0.5-1.9-0.2-3.1 1.5-2.5 1.2-1.7-1.2-2.9-1.7-2.3 0.2-2.3 0.6-2.1 0.1-2.3 0.8-2.6-1.1-1.8-0.1-3.2 0.5-2.6-0.6-1.5 0-3-0.2-1.9 1-2.3 0.3 1 0.7-0.5 2.4 0.9 2.1-1.2 3 0.5 1.3 0.1 3-1.3 2.4 0 2.6 1.8 1.1 2 1.1 1.9 1.1 1.8 1.2 1.9 1.2 1.7 1.4 1.6 1.5 1.6 1.5 1.5 1.6 1.5 1.6 1.6 1.5 1.8 1.3 1.9 1.1 2 0.8 2.1 0.7 2.2 0.4 2.2 0.2 2.2 0.3 2.1 0.4 2.2 0.2 2.2 0 2.2 0 2.2 0.1 2.2-0.1 2.2-0.2 2.2-0.5 2.1-0.6 2-0.8 1.4-0.6-1.7-1.5-1.7-1.4-1.6-1.4-1.9-1.2-2-0.7-2.2-0.3-2.2 0-2.2 0.1-2.2 0.2-2.2 0.5-2.1 0.6-2 0.9-2 0.9-2 0.9-2 1-2 0.7-2.1 0.8-2.1 0.8-2 0.9-1.9 1-1.9 1.2-1.6 1.4-1.6 1.6-1.5 1.6-1.7 1.4-1.9 1-2.1 0.9-2 0.8-2.1 0.8 1.9-1.1 2-1.1 1.9-0.9 2.1-0.7 2.2-0.6 2.1-0.5 2.2-0.4 2.1-0.4 2.2-0.2 2.2 0 2.2 0.2 2.2 0.3 2.2 0.3 2.1 0.5 2.1 0.7 2 0.9 2 1 2 0.9 1.9 1 2 1 1.9 1.1 1.9 1 2 0.9 2.1 0.8 2.1 0.7 2.1 0.5 2.2 0.3 0.9 1.2-2.7-1.2-2.2 0.8-3-0.1-2-1-1.8-0.7-2.9-1.4-2.4 0.5-3 0.2-2.1 1.2-1.9 0.6-2.4 1.2-2.7-0.9-3.1 0.5-1.3 0.2-0.4-2.2-0.1-2.2 0.2-2.2 0.5-2.1 0.5-2.2 0.6-2.1 0.5-2.1 0.7-2.1 0.9-2 1-2 0.9-2 0.8-2 0.6-2.2 0.4-2.1 0.1-2.2 0.1-2.2 0.4-2.2 0.5-2.1 0.6-2.1 0.4-2.2 0.3-2.2 0.3-2.2 0.5-2.1 0.5-2.1 0.5-2.2 0.7-2.1 0.8-1.1 1 1.9 1.1 2 1 1.9 1 2 1 1.9 0.8 2.1 0.5 2.1 0.3 2.2 0.5 2.1 0.5 2.2 0.2 2.2 0 2.2-0.2 2.2-0.5 2.1-0.7 2.1-0.9 2-1.2 1.8-1.6 1.5-2 1-2.1 0.7-2.2 0.4-2.1 0.3-2.2 0-2.2-0.2-2.2-0.2-2.1-0.6-2-0.9-1.8-1.3-1.7-1.4-1.5-1.6-1.4-1.7-1.4-1.7-1.5-1.7-1.4-1.7-1.3-1.7-1.5-1.6-1.4-1.7-1.3-1.8-1.4-1.7-1.5-1.6 1.3-1.8-0.1-2.9-0.1-3.1 0.7-1.8 0.9-1.9-0.7-2.9-2.8 1.4 2.4 0.6 2.4-1.6 2 0.3 2.9 1.2 2.6-0.7 1.5-0.2 3.1-0.2 2.6 0.8 2.1 0.1 2.3 0.5 2.6-2.2 2.5-0.4 2.3 0.8 2.7 0.4 1.9-0.1 2.5 1.2 2.3-0.9 2.1-0.1 1.8-0.5 3.7 0.5 2.4-0.6 1.9-0.5 2.4 1 1.6-2.6-2.9 1.6-1.7-0.3-2.9-0.7-2-0.8-2.8 0.6-2.5-0.5-2.1 1-2.3 0.3-2.5-0.3-1.9 0.9-2.8-2.1-2.1 0.9-3-0.9-1.8 1.1-3.3 0.3-2-0.5-2.3 0.2-2.2-0.8-2.5 0.4-2.9-0.1-2.8 0.9-1.9-0.1-2.8 1.7 1.5-1.9-0.1 2.9-0.3 2.4 2.2 2 1.8-1.2 1.6-1.5 1.4-1.7 1.3-1.8 1.3-1.6 2 0.8 1.7 1.4 1.6 1.6 1.4 1.7 1.2 1.8 1 2 0.4 2.1 0 2.2-0.3 2.2-0.5 2.1-0.6 2.2-0.8 2-1 2-1.2 1.8-1.3 1.8-0.9 2-0.4 2.2 0.1 2.2 0.6 2.1 0.9 2 1.3 1.8 1.5 1.6 1.8 1.3 2 0.9 2.1 0.6 2.2 0.1 2.2-0.3 2.1-0.6 1.9-1.1 1.7-1.4 1.5-1.6 1.5-1.6 1.2-1.8 0.7-2.1 0.3-2.2 0.2-2.2 0-2.2-0.2-2.2-0.2-2.2 0-2.2 0.3-2.2 0.4-2.1 0.2-2.2-0.2-2.2-0.6-2.1-0.9-2-1.3-1.8-1.4-1.7-1.5-1.6-1.6-1.5-1.8-1.3 0.6 2.1 0.5 2.2 0.9 2 1.2 1.9 1.4 1.6 1.6 1.6 1.7 1.3 1.8 1.2 2.1 0.8 2.1 0.5 2.2 0 2.2-0.5 2.1-0.7 2-0.8 1.9-1.2 1.6-1.4-2.1 0.5-2.1 0.7-2 0.8-1.9 1.2-1.9 1-2.1 0.8-1.9 1.1-1.9 1.1-1.9 1.1-1.9 1.1-2.1 0.7-2.2 0.4-2.2 0-2.1-0.5-1.9-1-1.6-1.6-1.3-1.7-1-2-0.6-2.1 0-2.2 0.4-2.2 0.8-2 1.1-1.9 1.3-1.8 1.5-1.6-2.2 0.5-2.6 0.4-2.7-0.7-2.7-0.8-1.9-1.2-2.4 0.8-2.7 0.7-2.3 1-2-0.6 2.1 0.1 2.5-0.4 2 1 3-0.2 2.6-1.2 1.9-0.5 2.3 1.3 2.7 0.5 2.7 1.4 2.5-0.3 2.6 0.1 2 0.2 2.8-2.2 1.9 0.3 2.3 1.8 2.7 0.1 1.6-1.7 3.4 0.8 1.9 0.8 2.1 1.1 3.3-0.8-1.7-2.2-0.6 2.4 0.3 2.1-0.4 2.8 1 2.5-0.5 2.4 0.1 2.5-0.7-2.1 0.2-2.6-0.8-2.9 0.4-1.6 0.7-3.6-1.4-2.2 3.5 3.3-2.7-0.2-2.1-0.8-2.3-0.1-2.8-0.4-3.2 1.5-1.8 0-2.1-0.8-1.9 0.7-2.7-0.6-2.6-0.3-2.6 0-2.3 0.4-1.7 0.5-3.1-0.5-2.3 0.7-2.7-0.1-2-0.8-2.7 0.5-2.2 0.2-2-0.8 1.9 1 1.8 1.3 1.8 1.3 1.8 1.2 1.8 1.3 1.9 1.2 1.9 1.2 1.9 1.1 1.9 1 1.9 1 1.8 1.3 1.8 1.3 1.8 1.3 1.9 1.1 1.9 1.1 1.9 1.2 1.8 1.1 2 0.9 2.1 0.7 2.2 0.5 2.1 0.4 2.2 0.4 2.2 0.3 2.2 0.3 1.5 0-1.6 1.5-1.7 1.4-1.6 1.5-1.6 1.5-1.4 1.7-1.2 1.8-1 2-0.7 2.1-0.4 2.2 0 2.2 0.3 2.2 0.3 2.1 0 2.2-0.3 2.2-0.3 2.2-0.1 1.7-0.2-2.2 0-2.2 0.5-2.1 0.9-2 1-2 1-1.9 1-2 0.7-2.1 0.5-2.2 0.1-2.2-0.4-2.1-0.8-2.1-1.2-1.8-1.4-1.7-1.7-1.5-1.6-1.4-1.9-1.2-1.9-1.1-1.9-1.1-1.8-1.3-1.6-1.5-1.6-1.5-1.4-1.7-1.2-1.8-1.1-1.9-0.7-2.1-0.8-2.1-0.7-2-0.7-2.1-0.5-2.2-0.2-1.7 1.7 1.4 1.8 1.3 1.6 1.5 1.4 1.7 1.2 1.8 0.8 2.1 0.5 2.1 0.7 2.1 1 2 1.1 1.9 1.3 1.8 1.5 1.6 1.6 1.5 1.5 1.6 1.5 1.5 1.6 1.6 1.3 1.8 1.1 1.9 0.8 2 0.6 2.1 0.5 2.2 0.3 2.2 0 2.2-0.2 2.2-0.4 2.1-0.6 2.1-0.6 2.2-0.4 2.1-0.3 2.2 0.2 2 1.9-3.1 3 0.2 2.2 1-0.7 0.9 0.8-1.4 0.4-3.5 0.5-2.4 0.1-1.9-0.6-2.4 0.5-2.6 0.3-2.4-0.5-2.5-0.5-2.4-2 0.7-2.1 0.9-1.9 1-2 1-2 0.9-2.1 0.7-2.1 0.4-2.2 0.1-2.2 0.3-2.1 0.5-2.2 0.6-2.1 0.7-2 0.8-2 0.9-2.1 0.7-2 0.8-2.1 0.7-2 0.9-2.1 0.8-2 0.9-2 0.9-2.1 0.7-2.1 0.5-2.2 0.2-2.2 0.1-2.2 0.4-2 0.7 0-2.2 1.7-1.4 1.5-1.6 1.7-1.5 1.8-1.2 1.8-1.3 1.7-1.3 1.6-1.6 1.5-1.6 1.2-1.8 1-1.9 0.8-2.1 0.6-2.1 0.3-2.2 0.3-2.2 0.2-2.1 0.2-2.2-0.1-2.2-0.1-2.2-0.1-2.2 0.2-2.2 0.3-2.2 0.4-2.2 0.6-2.1 0.6-2.1 0.8-2.1 0.7-2-1.6 1.5-1.6 1.4-1.7 1.5-1.9 1.1-1.9 1-2 1-2 1-1.9 1-2 0.9-2.2 0.6-2.1 0.3 1.6 1.5 2 1 2.1 0.7 2.2 0.1 2.1-0.4 2.1-0.8 2-0.9 2.1-0.7 2.1-0.4 2.2-0.5 2.2-0.2 2.2 0 2.2 0 2.2 0.1 2.2 0 2.1-0.4 2.1-0.8 1.8-1.2 1.7-1.4 1.3-1.8 1.1-1.9 1.1-1.9 1.1-1.7 2.6 3.3 2.2-0.2 2.1-0.4 3.1 0.4 1.7 0.7-1.8-3 0.2 3.2-0.4 1.4 0.5 3.7 1.1 1.3-1.1 2.7 1.6 2.2 0.4 2.8-0.3 1.5 0.1 2.8-0.4 2.9-0.5 2.1 0.6 1.4-0.1 4-0.5 1.3 1.3 2.6-1.2-1.8-1.3-1.8-1.3-1.8-1.4-1.7-1.4-1.7-1.4-1.7-1.5-1.6-1.6-1.5-1.7-1.3-1.8-1.3-1.9-1.2-2-0.8-2.2-0.5-2.2-0.1-2.1 0.4-2 1-1.8 1.3-1.7 1.4-1.6 1.5-1.6 1.5-1.5 1.6-1.8 1.3-1.7 1.4-1.8 1.3-1.8 1.3-1.6 1.4-1.6 1.6-1.6 1.4-1.7 1.4-1.8 1.3-1.9 1.1-1.9 1.1-2.1 0.8 2.2 0.2 2.2 0.1 2.2 0.1 2.2 0.2 2.2-0.1 2.2-0.4 2.1-0.3 2.2-0.5 2.2-0.3 2.1-0.5 2.1-0.6 2.2-0.5 2.1-0.6 2.1-0.5 2.2-0.5 2.2-0.3 2.2-0.1 2.1 0.2 2.1 0.8 1.9 1.1 1.4 1.7 0.9 2 0.5 2.1 0.3 2.2 0.1 2.2 0.1 2.2 0 2.2-0.3 2.2-2.1 0.8-3-1.2-2.4 0.5-2.2-0.7-2.2 0.5-2.6 0.8-1.8-0.8-2.7-0.3-3.1 0.7-1.5 0.5-2.6 0-2.3-0.2-2.6 0.1-2.7-0.3-2.9-1.9-1.5 0.4-2.4-1-2.8 1.9-2.3-0.1 0.2-0.2 0.9-2.2-2.4-2.4 1.8 1.2-0.6-2.1 1.2-1.9 1.2-1.8 1.2-1.8 1.3-1.9 1.2-1.8 1.2-1.8 1.1-1.9 1.1-1.9 1.2-1.8 1.5-1.7 1.5-1.6 1.6-1.6 1.2-1.7 0.9-2.1 0.5-2.1-0.2-2.2-0.7-2.1-1.2-1.8-1.7-1.5-1.9-1-2-0.8-2.1-0.7-2.2-0.5-2.1-0.5-2.2-0.5-1.8-0.6 1.2-2.4-0.1-2.5 0.6-2.9 0.5-1.9-2 0.8 2.3 0.6 2.5-0.4 2.7 0.2 2.7 0.6 2.1 0.2 2.2 0.8 1.8 0.1 3.1-1.9 2.4 0.6 1.8 0.3 2.5-0.3 2.9-0.7 1.7 1.2 2.8-0.5 2.3-0.9 2.2 0.3 2.8-0.3 2.6-0.5 2.4 1.9-1.1 1.9-1.2 1.8-1.1 1.9-0.9 2-0.9 2.1-0.3 2.1 0.3 2.2 0.4 2.2 0.7 2.1 0.5 2.1 0.5 2.2 0.3 2.1 0.3 2.2 0.5 2.2 0.6 2.1 0.7 2.1 1 1.9 1.1 1.9 1.5 1.7 1.8 1.2 1.9 1.1 2.1 0.7 1.8 0.6-1.4-1.7-1.1-1.9-0.9-2-1-2-1-2-0.9-2-1-1.9-0.8-2.1-0.9-2-0.9-2-1-2-1.1-1.9-1.3-1.8-1.3-1.7-1.5-1.6-1.6-1.6-1.5-1.6-1.5-1.6-1.3-1.7-1.4-1.8-1.3-1.7-1.2-1.9-1-1.9-1-2-0.8-1.1-2.1 3.3-2.8-0.3-2.6 0.5-2.7-0.1-2.2-1.1-1.9-0.1-2.8-0.6-2.1 1.2-1.5 0.1-3.4 0.8-2.3-1.4-0.2-2.3 0.6 2.2 0.3 2.9-1.6 2.4-0.9 1.9 0.8 3 1 2.2-0.9 1.4 0.7 3.2-0.5 2-0.3 2.8 0.9 2.1-0.1 2.5-0.1 2.7 2.2 0.6 2.1 0.6 2 0.7 2 1.1 1.7 1.4 1.4 1.7 1.6 1.5 1.5 1.5 1.6 1.6 1.5 1.6 1.3 1.8 1.1 1.9 0.9 2 0.7 2.1 0.6 2.1 0.9 2 1.1 1.3 2.3-2.1 3.1-1.1 2.3-0.3 2 2.3 1.6 0 2.9 0.2 2.6 0.6 2 0.3 2.8 0.4 2.2 0.2 1.9-2.4 2.8 0.4 1.9 0.6 0.6-0.4-1.5-2.2 2.3-2.6 0-3.2-0.6-1.6 0 2.8-0.9 2.2-0.4 1.5 0.9 2.4 0.5 1.5-2.3 0.1-3.4-1.6-1.6 0.2-2.6 0.2-2.6-0.1-2.4-1.1-2.9 0.1-1.2-0.2-3-0.5-2.9 0.5-1.9 0-2.1 0.6-2.5 0.6-2.7 2.5-2.7-1.5-1.4-0.6-2.9-1.2 2.5-0.4 2.3 0.7 2.8 0.7 2 0.5 2-0.5 3-1.1 2.5 0 2.3-0.1 2.6 0.7 1.7 0.1 2.7 1.4 2.6 1 2.2-1.3 2.6-1.3 1.8-0.7 3.1 0.1 2.7 0-3.5 1.4 0.6-2.3 0.2-2 2.1-3.3-0.6-1.9-1.1-1.9 0.7-2.5 1.1-2.6-1.4-2.5 0.6 2.1-0.3 2.7 1.4 3.1 0.5 1.3-0.6 3.4-0.2 1.8 0.7 2.4-0.3 3-0.7 0.9-1.3-1.6-3.3 0.1-2.4-0.2-3.3-0.3-1.7 0-2.9-0.9-2-0.9-2.1 0.5-2.9 1.1-2.3-0.7-2.1-0.1-2.7-1.2-1.8-0.2-2.9 1-2.3-1.3-2.5 1.2-2.2 0.1-2.8 0.3-1.7-0.8-3.3 0-1.6-0.4-2.5-0.2-2.8 1 3.7 3-1.2-3.2 0.7-2.2-0.8-2.2 2 0.9 2 1 1.8 1.3 1.6 1.5 1.4 1.7 1.4 1.3 1-1.9 1.1-1.9 1.2-1.9 1.2-1.8 0.7-2.1 0.2-2.2-0.1-2.2-0.2-2.2-0.1-2.2 0-2.2 0.4-2.1 0.9-2.1 1.3-1.8 1.4-1.6 1.6-1.6 1.6-1.5 1.6-1.5 1.8-1.3 1.9-1.1 1.9-1 1.9-1.2 1.7-1.3 1.6-1.5 1.5-1.6 1.6-1.6 1.6-1.5 1.5-1.6 1.5-1.6 1.4-1.7 1.3-1.7 1.3-1.9 1.2-1.8 1.1-1.6-1.9 1.1-1.9 1.1-2 0.9-2 0.9-2 1-1.9 1.1-2 0.9-2.1 0.6-2.1 0.8-2 0.8-1.8 1.3-1.8 1.3-1.5 1.6-1.5 1.6-1.1 1.9-0.6 2.1-0.2 2.2 0.1 2.2 0.3 2.2 0.2 2.2 0.4 2.2 0.6 2.1 0.9 2 1.2 1.9 1.4 1.6 1.7 1.5 1.6 1.4 1.8 1.4 1.7 1.3 1.9 1.2 1.8 1.2 1.8 1.2 1.9 1.2 1.9 1.1 1.9 1 2.1 0.9 2.2 0.3 2.2 0.1 2.1-0.2 1.3-0.3" stroke="#9462c8" stroke-width="0.5" fill="none" stroke-linejoin="round"/>
<rect x="43" y="494.1" width="61.9" height="62.2" fill="none" stroke="#444" stroke-width="0.9"/>
<path d="M118.9 504.4l2.1 0.4 2.1 0.7 2.1 0.8 2.1 0.7 2.1 0.5 2.2 0.3 2.2 0.4 2.1 0.6 2 0.9 1.8 1.3 1.5 1.5 1.2 1.9 0.5 2.1-0.1 2.2-0.3 2.2-0.7 2.1-0.7 2.1-0.7 2.1-0.6 2.1-0.7 2.1-0.9 2-1.1 1.9-1.2 1.8-1.1 1.9-0.9 2-0.9 2-1 2-1.2 1.9-1.3 1.7-1.5 1.6-1.7 1.4-1.9 1.1 2.6-2.1 2.5-0.6 1.6 0.3 2.3 0.2 3.5 0.3 1.6 1.2 3.2 0.6 1.5 0 2.7-0.5 2.2-0.1 2.9 0.5 2.2 0-1.5-1.6-1.5-1.6-1.3-1.8-1.2-1.8-1.1-1.9-0.8-2.1-0.2-2.1 0.2-2.2 0.4-2.2 0.7-2.1 0.8-2 0.7-2.1 0.9-2 0.9-2 1-2 1.2-1.8 1.3-1.8 1.3-1.8 1.4-1.7 1.1-1.9 1.1-1.9 1.2-1.8 1.6-1.6 1.7-1.4 1.9-1.1 2-0.9 2-0.9 2-0.8 2.2-0.6-1.3 1.9-1.1 1.8-1 2-1 2-0.8 2-0.8 2.1-0.9 2-0.9 2-0.8 2-1.1 1.9-1.1 1.9-1.4 1.8-1.7 1.3-1.9 1.1-2.2 0.5-2.2 0.1-2.1-0.4-2.1-0.8-2-0.8-2-0.9-2-0.9-1.9-1.2-1.8-1.2-1.8-1.3-1.7-1.4-1.7-1.4-1.6-1.5-1.4-1.7-1.1-1.9-0.8-2.1-0.9-2-0.9-2-0.8-2-0.8-2.1-0.8-2-0.6-2.1-0.6-2.2-2.6 0.6-2-1.4-1.1-0.6-0.9 2.9 0.7 2.4-0.9 1.7 1.7 3-0.4 2.5 0.4 1.7 1.4 2.8-0.6 3.1-0.1 1.5 0.6 2.6 0.6 2.6-0.1 2.2 1.9-1.1 1.8-1.3 1.7-1.3 1.6-1.5 1.5-1.7 1-1.9 0.8-2.1 0.5-2.1 0.3-2.2 0.5-2.1 0.3-2.2 0.1-2.2-0.5-2.2-1-1.9-1.5-1.7 2.9 2.6 1.6 0.4 2.4-0.7 2.6-0.3 3.1-2 1.4-0.5 2.4-0.2 2.8-0.7 2.4 0.2 2.7 1.8 2.7 0.6 1.2-1.4 3.1-0.7 2.7-0.4 1.9 0.6 2.4-0.7 2.8 1.4 2.4-0.4 1.6 0.2-0.7 2.1 0.4 2.7-1.1 2 0 2.4 1.3 2.3 0.5 2.3-0.3 2.5-0.5 2.8-0.2 2.4-1.6 1.6-0.4 3.2-0.6 2.4-0.9 2 0.4 2.5-0.4 2.4 0.4 2.5 0.2 2.4-0.3 2.1 0.7 2.8-0.5 2-0.7 2.5-0.5-2.1-0.5-2.2-0.7-2.1-1.1-1.9-1.2-1.8-1.6-1.5-1.8-1.3-2-0.9-2-1-2-0.8-2.1-0.7-2.1-0.5-2.2-0.4-2.2-0.2-2.2-0.1-2.2 0.1-2.2 0.2-2.2 0.3-2.1 0.4-2.2 0.3-2.1 0.5-2.2 0.5-2.2 0.4-2.1 0.3-2.2 0.3-2.2 0.2-2.2 0.3-2.2 0.4 2.1-0.8 1.9-1.1 1.6-1.6 1.1-1.8 0.8-2.1 0.5-2.1-0.1-2.2-0.7-2.1-1-2-1.3-1.8-1.4-1.7-1.5-1.6-1.4-1.6-1.2-1.6 0.6-2.2 0.5-2.8-0.5-1.6 1.3-3.2 0.2-2.1-1.4 1.9 2-0.1 1.8-0.5 3-2.1 2.6 0.3 2.1-0.9 2.8 0.2 1.8-0.2 2.6-0.3 1.8 0.6 3.3 0.3 2.2 0.7 3.1-0.1 2.3-0.4 1.5 0.3 2.8-1.2 2-0.1 2.7 1 2-0.1 3 0.6 2.2-0.1 2.6-1.2 2.3 0.8 2.6 0.1 0.5-0.4 0.2 1.6 0.6 2.7-0.2 2.5-0.3 2 0.2 3.7-0.9 1.6-0.4 2.7 0.2 2.2-0.3 1.5 0.7 3.6-0.8 2-0.1 2.3-1.4 2.6 1.5 2.3 1.9 2.8 0.2 1.4-0.1 2.9 0.1 3-0.6 1.7 0.8 3.3-1.2-1.8-1.6-1.5-1.6-1.5-1.8-1.3-1.9-1.2-2-0.9-2-0.8-2.1-0.8-2.1-0.6-2.1-0.5-2.1-0.5-2.1-0.8-2-1-1.7-1.4-1.6-1.4-1.5-1.7-1.3-1.7-1.1-2-1-1.9-0.9-2-1-2-0.9-2-0.6-2.1-0.1-2.2 0.4-2.2 0.6-2.1 1.1-1.9 1.6-1.6 1.8-1.2 1.9-1 2-1.1 1.9-1.1 1.9-1 2-1-1.8 1.4-1.7 1.4-1.6 1.5-1.4 1.7-0.9 2-0.4 2.1-0.4 2.2-0.3 2.2-0.3 2.2-0.2 2.1-0.3 2.2-0.5 2.2-0.7 2-0.6 2.2-0.5 2.1-0.4 2.2-0.7 2.1-1.1 1.9-1.5 1.6-1.7 1.3-1.8 1.4-1.8 1.2-1.8 1.3-1.8 1.2-1.9 1.2-1.8 1.2-2 0.9-2.1 0.7-2.2 0.2-2.2 0.1 1.7-1.4 1.8-1.3 1.7-1.4 1.7-1.4 1.7-1.4 1.7-1.4 1.7-1.4 1.4-1.7 1.4-1.7 1.4-1.7 1.5-1.6 1.5-1.6 1.1-1.9 1.1-1.9 0.8-2.1 0.6-2.1 0.4-2.1 0-2.2 0-2.2 0-2.2 0.2-2.2 0.5-2.2 0.8-2 1-1.9 1.5-1.7 1.6-1.5 1.8-1.3 1.9-1.1-1.6 1.6-1.7 1.4-1.7 1.4-1.7 1.3-1.7 1.5-1.5 1.6-1.3 1.8-1.1 1.8-1 2-0.7 2.1-0.5 2.1-0.4 2.2-0.4 2.2-0.3 2.1-0.3 2.2-0.5 2.2-0.7 2-0.6 2.2-0.6 2.1-0.6 2.1-0.3 2.2-0.3 2.1-0.6 2.2-0.7 2-0.9 2.1-1.3 1.7-1.6 1.5-1.9 1.1-2 0.9-2.1 0.7-2 0.5-0.1-0.6 2.3-0.9 2.9 1.5 2.1-1.6 2.8 0.1 1.7 0.8 2.1 0 2.5-0.7 2.8 1.5 2.3 0 2.7-0.7 2.3 0.1 1.9 2.1 2.1 0.2 2.7 0.1 2.6-1.2-1.2-1.9-0.9-2-0.6-2.1-0.5-2.1-0.2-2.2-0.1-2.2 0-2.2 0.3-2.2 0.5-2.2 0.7-2 0.7-2.1 0.7-2.1 0.5-2.1 0.5-2.2 0.4-2.2 0.2-2.1 0-2.2 0-2.2 0.2-2.2 0.6-2.2 1.1-1.9 1.6-1.5 1.8-1.3 1.9-1.1 2-0.9 2.1-0.6 2.1-0.5 2.1-0.7 2.1-0.7 2-0.9-2.2 0.1-2.2 0.3-2 0.7-1.9 1.2-1.7 1.4-1.6 1.5-1.5 1.6-1.3 1.8-0.9 2-0.8 2-0.6 2.2-0.4 2.1-0.4 2.2-0.6 2.1-0.8 2.1-0.7 2.1-0.6 2.1-0.3 2.2 0 2.2 0.2 2.2 0.6 2.1 0.9 2 1.3 1.8 1.6 1.5 1.8 1.2 2.1 0.7 2.1 0.5 2.2 0.6 2 0.7 2 1 1.9 1.2 1.6 1.4-2.1-0.4-2.2-0.3-2.2-0.4-2.2-0.3-2.1 0.1-2.2 0.5-2 0.8-1.8 1.3-1.5 1.6-1.3 1.8-0.9-2-0.7-2-0.7-2.1-0.7-2.1-0.6-2.1-0.5-2.2-0.3-2.2 0-2.2 0.3-2.1 0.7-2.1 1.2-1.9 1.3-1.8 1.2-1.8 0.9-2 1-2 0.8-2 0.6-2.1 0.6-2.2 0.5-2.1 0.7-2.1 1-1.9 1.1-2 0.9-1.9 0.7-2.1 0.3-2.2 0.2-2.2 0.3-2.2 0.3-1-2.8 3.5-1.5-0.6-3 0-2.2 0-3 0.6-2.3-0.3-2 0-2.9 0.2-1.4-1.2-3.1 0.4-2.9-0.9-1.6 0.5 2.1 0.7 2.9-1.2 2.1-0.9 2.8 1.6 2.3 0 1.6-1.2 2.5-0.4 2.5 0.9 2.7 1.3 2.7 0 2.9 0.1 1.7 0.1 2.9-0.1 1.9 1-1.5 1.6-1.4 1.7-1.2 1.8-1.4 1.8-1.4 1.7-1.4 1.7-1.4 1.6-1.6 1.6-1.6 1.5-1.6 1.5-1.5 1.6-1.4 1.7-1.2 1.8-1.4 1.8-1.6 1.5-1.7 1.4-1.8 1.2-1.9 1.1-1.9 1-2.1 0.8-2.2 0.4-2.2-0.1-2.1-0.5-2-0.9-2.1-0.8-2-0.8-2.2-0.5-2.2-0.2-2.2 0.1-1.4 0.4 1 2 2.1-0.5 2.2-0.4 2.2 0.1 2.2 0.1 2.2 0.2 2.2 0 2.2 0 2.2 0.2 2.2 0.3 2.2 0.1 2.1-0.4 2.2-0.4 2.2-0.4 2.1-0.6 2-0.9 1.8-1.2 1.6-1.5 1.3-1.8 1.1-1.9 0.7-2.1 0.4-2.1 0.3-2.2 0.1-2.2-0.1-2.2-0.2-2.2-0.5-2.2-0.7-2-0.8-2.1-0.7-2.1-0.6-2.1-0.6-1.1-1.2 1.8-1.1 1.9-0.8 2.1-0.2 2.2 0 2.2 0.2 2.2 0.2 2.2 0.3 2.1 0.6 2.2 1 1.9 1.2 1.8 1.5 1.7 1.4 1.6 1.5 1.7 1.6 1.5 1.7 1.3 1.9 1.1 2.1 0.8 2.1 0.8 2.1 0.6 2.1 0.6 2.1 0.5-1.7 1.4-1.7 1.4-1.4 1.6-1.3 1.8-1.3 1.8-1.1 1.9-0.9 2-1 2-0.7 2.1-0.5 2.1-0.5 2.2-0.2 1.7 2.2-3.4 2.4 1.6 2.3-0.8 3-0.7 2.3-0.2-3 2.1-0.1-2 0-2.7 0.3-1.9 0-2.9-0.5-2.5 0-1.8-0.2-2.7 0.2-2.9 0-1.9 0.3-2.5-0.7-2.4 0.5-1.7-0.3-2.7 0.2-2.6 0.3-2-0.6-3.1 0.2 2.2 0.2 2.2 0.1 2.2-0.2 2.2-0.5 2.1-0.8 2.1-0.5 2.1-0.5 2.2-0.2 2.2 0.4 2.1 0.8 2.1 1.3 1.7 1.5 1.7 1.6 1.4-0.3-2.2-1.7-1.3-1.7-1.5-1.3-1.7-1.1-1.9-1-2-0.7-2.1-0.5-2.1-0.5-2.2-0.4-2.1-0.5-2.2-0.6-2.1-0.7-2-1.2-1.9-1.1-1.9-1.2-1.9-1.3-1.7-1.4-1.8-1.5-1.5-1.8-1.3-1.8-1.3-1.7-1.4-1.6-1.5-1.3-1.8-1.2-1.8-2.5-0.3-2.9-0.4-1.5 0.7-2.5-1-2.1 0.3-3.4 0.3-1.6 1.5-2.4 0.5-2.8 1.2-3.6 0.3 1.6 1.5 1.7 1.5 1.7 1.3 1.8 1.4 1.7 1.4 1.5 1.6 1.1 1.9 0.7 2.1 0.2 2.2-0.4 2.1-0.8 2.1-1.2 1.8-1.5 1.6-1.7 1.4-1.7 1.4-1.8 1.2-1.8 1.3-1.9 1.2-1.9 1.1 0.7 2 1.2 2.5 0.5 2.2 0.3 3.2-0.3 2.1 0.5 2.5-1.4 2.2-0.4 2.3 1.4 2.7-3.4-1.4 3.5-0.4 1 1.2 2.5-0.8 2.8-0.1 2.6 0.5 2.3-0.9 1.6-1.5 1.7-1.4 1.7-1.3 1.8-1.3 1.9-1.1 1.9-1.1 2-1 1.9-1.1 1.8-1.3 1.7-1.3 1.8-1.3 1.9-1.2 1.9-1.1 2-1 2-0.7 2.2-0.5 2.1-0.5 2.1-0.8 1.9-1 1.9-1.2 1.9-1.1 1.8-1.2 1.2-1-2.2-0.2-2.1-0.4-2.2-0.5-2.1-0.7-2.1-0.7-2.1-0.7-2.1-0.5-2.1-0.5-2.2-0.6-2-0.8-1.9-1-1.9-1.3-1.7-1.3-1.9-1.2-1.7-1.3-1.7-1.5-1.5-1.6-1.5-1.6-1.4-1.7-1.3-1.8-1.3-1.8-1.1-1.8-0.9-2-0.8-2.1-0.6 2.1-0.7 2.1-0.7 2.1-0.4 2.1-0.5 2.2-0.5 2.1-0.7 2.1-0.9 2-0.9 2-1.1 1.9-1 2-0.8 2-0.6 2.2-0.5 2.1-0.3 2.2-0.2 2.2-0.2 2.2-0.2 2.2-0.2 2.1-0.1 2.2 0.1 2.2 0.2 2.2 0.5 2.2 0.5 2.1 0.4 2.2 0.1 2.2-2.8-2.2-2 0.2 0.2 2.9 0.6-2.4-0.7-3.2-0.2-2.5-1.3-2.2 2.2 0 2.2 0.1 2.2 0.1 2.2 0.3 2.1 0.4 2.2 0.3 2.2 0.4 2.2 0.2 2.2 0 2.2-0.2 2.1-0.4 2-0.9 1.8-1.3 1.4-1.7 0.9-2 0.5-2.2 0.2-2.1-0.1-2.2-0.4-2.2-0.6-2.1-1-2-1.3-1.8-1.4-1.7-1.5-1.6-1.7-1.4-2-0.9-2.2-0.3-2.1 0.5-1.8 1.2-1.5 1.6-1.1 2-0.7 2-0.4 2.2 0 2.2 0.2 2.2 0.5 2.1 0.5 2.2 0.7 2.1 0.7 2 0.7 2.1 0.7 2.1 0.4 2.2 0.1 2.2 0 2.2 0.1 2.2-2.4-3.1-2.2-0.1-1.9 0.7-3 1.3-2 0.1-2.5-1.6 2.9 2.6-1.8-3.3 0.8-2.5-1-2.1 1.1-1.6-0.7-2.6 0.5-2.6-2.5-2.5 2-2.5 0.7-2.2 0.2-2.4-0.9-2.5 0.2-2.4 0.2-2.4 0-2.1 0.4-2.3-0.6-3 2.2 0.1 2.2 0 2.2 0 2.2 0.4 2.1 0.6 1.9 1 1.9 1.2 1.5 1.5 1.5 1.7 1.3 1.7 1.3 1.8 1.3 1.8 1.3 1.8 1.6 1.5 1.7 1.4 1.9 1.1 2.1 0.7 2.2 0.4 2.1 0.3 2.2 0.4 2.2 0.5 2.1 0.6 1.9 1.1 1.6 1.5 1.4 1.7 1.1 1.9 0.7 2.1 0.6 2.1 0.2 2.2-0.3 2.2-0.6 2.1-1.1 1.8 1.7-1.4 1.6-1.5 1.4-1.7 1.2-1.9 1-1.9-2.2-0.3-2.2-0.4-2-0.8-1.8-1.3-1.6-1.5-1.5-1.6-1.4-1.7-1.3-1.8-1.1-1.9-1-1.9-0.9-2.1-0.7-2-0.8-2.1-0.9-2-1.1-1.9-1.3-1.8-1.5-1.6-1.3-1.8-1.3-1.8-1.4-1.6-1.4-1.7-1.5-1.6-1.7-1.5-1.8-1.2-1.9-1.1-2-0.9-2-0.9-2.1-0.8-2-1-2-0.8-2-0.8-2.1-0.6-2.2-0.6-2.1-0.5-2.1-0.1 2.2 0 2.2 0 2.2 0.1 2.2 0 2.2 0.1 2.1 0.5 2.1 0.8 2.1 0.7 2.1 0.7 2.2 0.2 2.1-0.4 1.9-1.2 1.3-1.7 0.7-2.1 2.9 0.6 2.5-0.1 1.7-0.7 2.3 0.3 2.6-0.2 1.9-0.2 2.7 0.3 3.3 0.5 1.8-0.3 2-0.3 2.7 0.7 2.7-0.1 0.6 0.3-0.5 2.2-1.9 1.1-1.8 1.3-1.7 1.4-1.8 1.2-1.9 1.2-1.9 1-2.1 0.8-2.1 0.7-2.1 0.4-2.2 0.1-2.2-0.3-2.2-0.4-2.1-0.5-2.2-0.5-2.1-0.5-2.1-0.5-2.2-0.5-2.1-0.7-2-0.9-2-0.9-2-0.9-2.1-0.7-2.2-0.3-2.2 0-2.2 0.3-2.1 0.5-2.1 0.6-1.2 0.5 3.2-2.2 0.8-2.4-3.8 1.3 1.9-0.6 2.8-0.4 1.4-0.3 2.9 0.7 3.2 0.5 1.8 0.6 1.6-0.5 2.9 0.2 2.4-1.4 2.5 0.2 2.4 1.2 2.3-0.3 2.5 0.3 2.2-0.3 2.7-0.3 2.4 0.7 1.9-0.5 2.9 0.2 1.8 0.4 2.6 0 2.2-2.1 2.7 0.4 3-0.2 2 1.1-2.6-1.8-0.3 2.9-0.4 2.5 0.5 2.7 1.9 2.3-0.9 2.3-0.2 2.2-0.3 2.3-0.8 2.8 0.2 2.1-0.4 1.9-2 0.9-1.7 1.3-1.6 1.6-1.5 1.5-1.4 1.8-1 1.9-0.5 2.2-0.1 2.2 0.1 2.2 0.4 2.1 0.7 2.1 0.9 2 1.4 1.7 1.6 1.5 1.8 1.3 1.8 1.2 2 0.9 2.1 0.7-1.3-1.7-1.5-1.6-1.7-1.5-1.5-1.5-1.3-1.8-1.1-1.9-1-2-0.7-2.1-0.6-2.1-0.6-2.1-0.8-2.1-1-1.9-1.2-1.9-1.3-1.7-1.6-1.6-1.7-1.4-1.7-1.3-1.8-1.4-1.7-1.3-1.9-1.2-1.8-1.2-1.9-1.1-1.9-1.2-1.7-1.3-1.6-1.5-1.3-1.8-1.1-1.9-0.9-2-0.7-2.1-0.7-2.1-0.6-2.1-0.4-1.8 0.4 2.2 0.7 2.1 0.7 2 0.9 2 0.9 2 0.8 2.1 0.6 2.1 0.7 2.1 0.7 2.1 0.7 2.1 0.4 2.1 0.4 2.2 0.6 2.1 0.7 2.1 1.1 1.9 1.1 1.9 1.3 1.8 1.3 1.8 1.4 1.7 1.6 1.5 1.7 1.4 1.8 1.3 1.9 1 2.1 0.8 2.1 0.6 2.2 0.3 2.2 0 2.1-0.5 2-0.9 2-1 1.9-1 1.7-1.1-1.7-1.4-1.8-1.3-1.9-0.9-2-1-2.2-0.6-2.1-0.4-2.2-0.3-2.2-0.3-2.2-0.2-2.1-0.3-2.2-0.4-2.2-0.3-2.2-0.3-2.2 0.2-2.1 0.2-2.2 0.5-2 0.8-2 0.9-2.1 0.7-2.1 0.7-2.1 0.5-2.2 0.6-2.2 0.3-2.2 0-2.1-0.4-2.1-0.7-1.9-1.1 2.1-0.3 2.2-0.1 2.2-0.2 2.2-0.4 2.1-0.6 1.9-1.1 1.6-1.5 1.3-1.8 1.1-1.9 1.1-1.9 1.1-1.9 0.9-2.1 0.8-2 0.6-2.1 0.1-2.2-0.3-2.2-0.6-2.1-0.8-2.1-1.4-1.7-1.4-1.6-1.7-1.4-1.8-1.3-1.8-1.3-1.8-1.3-1.6-1.2 1.2 1.8 1.3 1.8 1.4 1.7 1.4 1.7 1.5 1.6 1.6 1.5 1.5 1.6 1.4 1.7 1.3 1.8 1.2 1.8 1.4 1.7 1.5 1.6 1.7 1.5 2 0.9 2.2 0.2 2.2-0.2 2.1-0.5 2-1 1.9-1.2 1.7-1.2 1.8-1.4 1.7-1.4 1.7-1.3 1.8-1.3 1.7-1.5 1.5-1.5 1.6-1.5 1.6-1.5 1.5-1.6-1 2.5 0.3 2.4-0.9 2.8 1.3 2.5 1.4 1.5-0.4 2.9 0.6 2.3-0.4 2.2 0.9 2.3 0.4 3.1-0.8 2.2-1.6 2.5 1.6 1.7-0.2 2.3-0.3 3-0.1 2 1 2.3-0.7 2.4 0.1 3.2 0 2-1.1-2-2.2 0-2.2 0.1-2.2 0.2-2.1 0.2-2.2 0.3-2.1 0.8-1.9 1-2 1.1-1.9 1-2.5-2-2.5-0.2-2.8-0.2-1.7 1.6-2.7 0.2-2.4-1.5-2.2 0.6-2.1-1.4-2.8 1.8-2.3 1.1-2.6-0.5-2.4 0.4-2.6 0.6 2.3-0.3 2.1-0.1 2.7 0.3 3 0.1 2.4-1.1 1.8-0.1 2.2-0.3 2.6-0.6-2.5 1.2-2.4 0.1-2.1-0.4-2.8 0.5-2.4-0.6-2.3 0.2-2.2 0.1-2.7-0.2-1.9-1.7 2.2-0.2 2.2-0.2 2.2-0.4 2.2-0.4 2.2-0.1 2.1 0.2 2.2 0.2 2.2 0.2 2.2 0.1 2.2 0.1 2.2 0 2.2 0.1 2.2-0.3 2.1-0.5 2.1-0.7 2-0.9 2.1-0.8 2-1 1.9-1.1 1.9-1 1.9-1.1 1.5-1.6 1.3-1.8 0.9-2 0.4-2.2-0.2-2.2-0.3-2.2-0.6-2.1-0.7-2.1-0.9-2-0.9-2-0.8-2-0.6-2.1-0.6-2.2-0.3-2.1-0.2-2.2-0.2-2.2-0.3-2.2-0.2-2.2-0.3-2.2-0.3-2.1-0.3-2.2-0.2-2.2-2.2-0.3-0.1 2.2 0.2 2.2 0.5 2.1 1 2 1.4 1.7 1.6 1.5 1.8 1.2 2 1.1 2 0.7 2.2 0.6 2.1 0.4-1.4 2.2 1.3 2.8 0.8 1.7 0 2.8-1 2 1 2.9-0.1 2.8 0.3 2.4-0.6 1.9-1.2 2.7 0.2 1.9-0.3 3.3 0.3 1.5 0.9 2.7-0.6 2.8 0.2 2.1-0.5 2.1 0.3 0.7-2.4 0.1-2.8-0.1-1.8-1.5-3 0.9-2.5-0.1 0.7-2.1 0.8-2.1 1.1-1.9 1.3-1.7 1.4-1.7 1.5-1.6 1.8-1.3 1.9-1.2 1.9-0.9-1.4 2.8-0.9 2.1 0.1 2.1-0.7 3.4 1.2 1.1 0.6 3 1.2-1.5-3.2-0.1-2.3 0.3-2.3 0.9-1.7-1.1 2.6 0.3 2.2 0.3 1.9-0.7 2.5 0.3 0.3 1-0.1-2.1 0-2.7 0.9-2-0.3-2.9 0.4-2.2 0.5-2.9-0.3-2.5-1.3-2.2-0.4 1.9 1.9 3.1-0.4 2-0.4 2.5-0.6 1.7-0.1 3.8-0.3 1.7-0.4 2.6 1.1-0.7-2.7-0.4-1.2-1.2-3.2 1.9-2.2 1.3-3-1.1-2.5 0.8-2.3-1-2.4-1.4-1.9 1.1-3.2-1-2-0.8-3.1 0.4-1.5-0.4-3.1 0.4-2.6 0.8-1.3 0.1-3.4 0.4-1.7 0.7-2.6 1.5-1.9 0.3-2.3-2-3.3-0.6-2 0.9-0.6 0.3 0.6-1.9-0.1-2.6-0.1-2.8-1.4-2 0-2.3 0.4-2.2 0.8-2.8 0-2.6-0.3-1.5 1.2-3.5 0.7-2.1 1.1-1.9 1.5-1.6 1.8-1.3 2-0.9 2.2-0.5 2.2-0.1 2.1 0.4 2.1 0.7 1.8 1.3 1.5 1.5 1.5 1.7 1.3 1.8 1.2 1.8 1.1 1.9 0.9 2 0.8 2.1 0.6 2.1 0.5 2.1 0.5 2.2 0.4 2.1 0.2 2.2 0 2.2-0.4 2.2-0.7 2 2.3-0.6 2.4-1.7 2.2 0.1 2.5 1 2.4 0.6 2.2-0.4 2.7 0.6 2.9 0.1 1.9 0 3-0.4 2 0.8 2.1-0.8-2.2 0 0.6-1.9 0.4-3.1-0.7-2.2 0.1-2.3-2.2-0.2-2.2-0.4-2.1-0.4-2.1-0.6-2.1-0.7-2.1-0.6-2.1-0.7-2.2-0.5-2.1-0.4-2.2-0.5-2-0.8-1.9-1-1.8-1.4-1.7-1.4-1.4-1.7-1-2-0.8-2-0.8-2-0.7-2.1-0.3-2.2 0-2.2 0.3-2.2 0.6-2.1 0.8-2.1 0.7-2 0.7-2.1 0.7-2.1 0.4-2.2 0.5-2.1 0.6-2.2 0.5-2.1-1.5 1.6-1.5 1.7-1.4 1.6-1.4 1.7-1.6 1.6-1.5 1.5-1.7 1.4-1.6 1.5-1.6 1.6-1.6 1.5-1.6 1.4-1.9 1.2-2 1-2 0.9-2 0.9-1.9 1 2.3-3.1-2.7-1.6-0.3-2.4 0.2-3.2-0.3-1.4-0.4-3.6 0.5-1.7-0.1-1.9 0.7-2.8-0.2-1.1 1.9 0.6 2.7 2 3 0.5 2.1 0.4 2.2-0.1 2.7-0.3 2.1 0.7 2-2.6 2.1 0.2 3.7 0 1.7-0.3 2.6-0.8 2.3-0.3 2.4-0.1 2.9-0.5 2.5 0.1 1.7-0.4 2.7 1.6 2.5-0.1 2.1 0.9 3.2 0 1.8 1.1 2.4-0.9 1.8-0.6-2.1-0.2-3-0.6-2-0.2-2.5-0.2-2.5 0.1-1.9 0-3.1 0.3-2.3 0.9-2.2 0.5-2.2-1.2-2.6-0.5-2.7-0.3-2.5-0.6-2.1 0.6-2.3 0.5-2.5 2.4-2.3-0.5-2.6-0.1-2.3-1.2-2.2 0.6-2.3 1.1-3 0.8-1.9-0.1-2.9-1.3 3.4 0.1 0.1 2 2.2 0.3 2.2 0.1 2.2 0 2.2-0.1 2.2-0.1 2.2-0.1 2.2-0.1 2.1-0.3 2.2-0.2 2.2 0.2 2.2 0.5 2.1 0.7 1.9 1 1.9 1.1 1.8 1.3 1.6 1.5 1.6 1.6 1.5 1.5 1.5 1.6 1.6 1.6 1.6 1.4 1.8 1.3 1.9 1.1 2.2 0.6 2.1 0.5 2.2 0.2 2.2 0.3-1.8 1.2-1.8 1.3-1.9 1.2-1.9 1.1-1.9 1-2 0.9-2.1 0.9-1.9 1-1.9 1.2-1.8 1.2-1.8 1.3-1.7 1.3-1.8 1.4-1.7 1.3-1.7 1.4-1.8 1.3-1.7 1.3-1.8 1.4-1.8 1.3-1.8 1.2-1.9 1.1-2 0.9-2 0.9-1.9 1.1-1.9 1.2-1.6 1.4-1.4 1.7-1.2 1.9-1 1-2.6-2.1-1.7-1.4 2.4 2.5 0.5-1.8-0.8-2.6 1.5-3.7-1-1.8-0.1-2.9-0.3-2.3-1.6-1.7 0.8-3.1-0.7-2.5-1.3-1.8-0.4-2.6-0.1-2.8 1.3-1.2-0.7-3.1 0.2-3 1-1.8 0.4-2.4 1.7-1.7 2.1-0.1 2.2-0.2 2.2-0.1 2.2 0 2.2 0.2 2.2 0.3 2.2 0 2.2 0.1 2.2 0.1 2.2 0.1 2.2 0 2.2-0.4 2-0.8 2-1 1.8-1.3 1.4-1.7 1-1.9 0.7-2.1 0.7-2.1 0.5-2.1-1.5 1.6-1.5 1.6-1.7 1.4-1.8 1.2-1.8 1.4-1.6 1.4-1.7 1.4-1.3 1.8-1.3 1.8-1 2-0.8 2-0.6 2.1-0.5 2.1 0.1 2.2 0.5 2.2 0.7 2.1 0.8 2 0.8 2.1 0.7 2 0.6 2.2 0.8 2 0.9 2 1 2 0.9 2 0.6 2.1 0.1 2.2-0.4 2.2-1.1 1.9-1.3 1.7-1.6 1.6 2.2-0.2 1.1-1.9 1.3-1.8 1.5-1.6 1.4-1.7 1.5-1.6 1.5-1.6 1.5-1.6 1.5-1.6 1.5-1.6 1.4-1.7 1.3-1.8 1.2-1.8 1.3-1.8 1.3-1.8 1.4-1.7 1.3-1.8 1.1-1.9 0.9-2 0.8-2.1 0.7-2 0.6-2.2 0.6-2.1 0.7-2.1-1.5 1.7-1.5 1.6-1.6 1.5-1.6 1.4-1.7 1.5-1.8 1.2-1.9 1.2-2 1-1.9 1-1.9 1-2 1-2 1-2.1 0.7-2.1 0.4-2.2 0.1-2.2-0.2-2.2-0.4-2.2-0.4-2.1-0.1-2.2 0.3-2.2 0.3-2.2 0.3-2.2 0.4-2.1 0.5-2 0.9-1.9 1-2 1-2.1 0.7 1.4 2.7-0.9 2.3-1.4 2 0.6 2.7 1.1 2.5-1.3 2-0.5 2.3-0.1 2.8 0.7 1.9 0.8 0.7 1.3-0.8 2.8-1.5 3.1 0.2 2.2 0.8 2.6-0.8 1.4 0.1 2.9 0.1 2.3-0.1 2.7-0.5 2.3-0.8 2.2-0.3 2.5 1.2 2.7 0.5 2.2 0.4 2.9-0.8 1.7 1.1 3-1.1 2-0.7 2.6 0.3-0.8-2.1-0.8-2-0.8-2.1-0.7-2.1-0.8-2-0.7-2.1-1-2-0.9-2-0.6-2.1-0.5-2.1-0.2-2.2-0.3-2.2 0-2.2 0.1-2.2 0.4-2.2 0.5-2.1 0.7-2.1 0.5-2.2 0.1-2.2-0.2-2.1-0.2-2.2-0.4-2.2-0.6-2.1-0.9-2-1.2-1.9-1.4-1.4-2 2-2.4 0-3.1 1.5-2.1-0.2-1.6 0.3-3.1-0.9-1.8-0.3-2.8 0.8-3.1-0.4-2.2 0.5-1.6-0.3-2.7-1.4-2.7 0.1-2.8-0.4-2.2-1.3 0.7 1.4 0.4 2.8 0.8 1.8 0 2.2 0.6 2 1.1 3.2-0.7 2.5 0.5 2.6-0.3 2.4 0.2 2.1-0.8 1.9 0.5 3.1 0.3 1.7-0.6 1.8-1.9 3.3-0.5 2.5 0.1 0.9 0.2 3.4-0.6 2.2 0.5 3.3-0.2 1.7 0.3 2.5-1.2 3 0.3 1.2 1.4 1.2 2.9-0.2 1.6-0.3 2.6-1.5 1.9-0.5 2.7 1.6 1.6 0.8 2.6 0.1 2.4-1.4 2.7 0.6 3.1-1.2 1.6 1.1 3.2-1.2 2.2 0 2.3-1-0.5-2.2-0.4-2.1-0.4-2.2-0.3-2.2-0.2-2.1-0.1-2.2-0.1-2.2-0.1-2.2 0.1-2.2 0.3-2.2 0.5-2.2 0.6-2.1 0.8-2 1.1-1.9 1.4-1.7 1.8-1.3 2-1 2-0.9 1.8-1.2 1.9-1.2 1.9-1 2-0.8 2.1-0.9 2-0.8 2-0.9-3.1 2.5 0.3 2.3-0.3 2.8 0.7 1.8 0.2 2.4-0.7 2.4 0 2.6 0.2 2.4 0 2-0.4 3 0.9 2.6-0.8 1.5 1-2.7 0.6-2-0.6-2.5 0.5-1.8 1.5-3.1-1.1-2.1 1-3-0.5-2.2-0.2-2.2 0.8-1.9 0.8-2.5 0.2-3.1-0.4-1.7-2.1 0.6-2.1 0.7-2.1 0.5-2.2 0.3-2.2 0.1-2.2 0-2.2-0.2-2.1-0.5-2.1-0.6-2.2-0.6-2.1-0.5-2-0.8-2-1-2.1-0.8-2.1-0.6-2.1-0.3-2.2 0-2.2 0.2-2.2 0.6-2 0.9-1.9 0.9-2 0.9-2 1-2.1 0.8-2.1 0.7-2.1 0.4-2.2 0.1 2.2 0.2 2.1 0.2 2.2-0.1 2.2-0.2 2.2-0.6 2-0.8 1.9-1.1 1.8-1.3 1.7-1.4 1.7-1.4 1.7-1.4 1.8-1.3 1.8-1.2 1.9-1.1 0.9 2 1.1 2 0.8 2 0.6 2.1 0.3 2.2 0.1 2.2-0.1 2.2-0.2 2.2-0.4 2.2-0.4 2.1-0.4 2.2-0.2 2.2-0.2 2.1 0.1 2.2 0.2 2.2 0.3 2.2 0.5 2.2 0.9 2 1.2 1.8 1.6 1.6 1.7 1.3 1.9 1.1 2.1 0.8 2.2 0.3 2.2 0.1 2.1-0.2 2.2-0.2 2.2-0.5 2.1-0.6 2.2-0.1 1.9 0.3-0.3-2.2-2.2-0.5-2.1-0.5-2.1-0.7-2.1-0.7-2.1-0.5-2.2-0.4-2.2-0.3-2.2-0.2-2.1-0.3-2.2-0.6-1.9-1.1-1.4-1.6-1.3-1.8-1.3-1.8-1.4-1.7-1.5-1.6-1.9-1.2-2-0.8-2.2-0.4-2.2 0.1-2.2 0.4-2 0.8-1.9 1-1.9 1.3-1.8 1.2-1.9 1.2-1.9 1-2 0.9-2 1 0.3-2.2 1.3-1.8 0.8-2 0.4-2.2 0-2.2-0.4-2.2-0.8-2-1-2-1.1-1.8 2-0.9 1.9-1 2.1-0.8 2.1-0.5 2.2-0.4 2.1-0.6 1.9-1.1 1.8-1.3 1.7-1.4 1.6-1.4 1.7-1.5 1.5-1.6 1.4-1.7 1.3-1.7 3.4 2.8 1.2-0.4 2.8-1.7 1.6 0.4 3.6 0 2.3 1.2 1.9 0.2 2.6 0.1 2-0.6 3-1.2 2.3 0.7 2.7-0.1 1.9-0.4-1.1-0.2-0.4 2.2-0.9 1.6-0.9 3.2 1.6 2.5 0.1 2.2-0.9 2.2 0.2 2-0.5 2.6-2.1 0.7-2.2 0.3-2.2 0-2.2-0.2-2.2-0.1-2.2-0.1-2.2-0.3-2.1-0.5-2.2-0.4-2.1-0.4-2.2-0.2-2.2-0.3-2.2-0.1-2.2 0.1-2.2 0.1-2.2 0.2-2.2 0.3-2.1 0.4-2.1 0.6-2.1 0.9-1.9 1-1.9 1.2-1.8 1.2-1.8 1.3-1.7 1.4-1.3 1.2 2.1 0.6 2.1 0.6 2.1 0.8 1.9 1.1 1.8 1.3 1.7 1.4 1.6 1.5 1.6 1.5 1.4 1.7 0.8 2 0.3 2.2 0 2.2-0.3 2.2-0.7 2.1-1 1.9-1.2 1.9-1 2-0.9 1.6 2.1 0.2 3 0.3 1.4-0.6 3.3 0.6 2.4 0 1.7 0.2 2.1-1.6 3.5 0.6 1.7-0.5 2.9-0.7 2.9 1.8 1.6 0.3-1.8-0.6-3 0.8-2.6-0.5-2.1-0.3-2.5-1.5-2.1 0.9-2.7 0.1-2.3 0.6-2-0.7-2.7 0.2 2.2 0.3 3.2 0.2 1.6 0.3 3.1-0.2 2.2-0.5 2.5 0.1 2.6 1 2-0.6 1.4-0.5 2.7 0.7 3.1-0.2 2.5 0.4 2.2-0.2 2-0.6 2.5 0.7 2.3-0.4 1.7 0.4-0.5-3 0.1-2.3-1-1.7-0.3-3.3-1-2.2-2.2-0.1-2.2 0-2.2 0-2.2 0.2-2.2 0.1-2.2 0-2.1-0.2-2.2-0.1-2.2 0-2.2 0.1-2.2 0.3-2.1 0.8-1.9 1-1.9 1.2-1.7 1.4-1.6 1.5-1.3 1.8-1.2 1.8-1.1 1.9 0.6-2.1 0.9-2 1.1-1.9 1.2-1.8 1.5-1.7 1.6-1.5 1.7-1.4 1.6-1.5 1.7-1.4 1.6-1.5 1.5-1.6 1.6-1.5 1.6-1.6 1.5-1.5 1.5-1.7 1.3-1.8 1.3-1.7 1.4-1.7 1.5-1.6 1.5-1.6 1.3-1.8 1.1-1.9 1.1-1.9 0.7-2.1 0.7-2.1 0.4-2.1 0.6-2.1 0.7-2.1 0.7-2.1 0.8-2.1 1-2 0.9-1.1 1.2 0.8-1.4 1.4-0.4 2.9 0.6 2.2-0.2 2.2 0.4 2.5-1.1 2.1 2 2.5 1.3 2.2-0.6 2.1 0.6 3.4-0.8 2.3-0.1 2.6 0.3 2.2-0.9 1.7 0.6 2.7 0.2 1.9-0.5 3.5-0.2 2 0.7 2.3 0 1.9-0.4 2.9 0.1 2.5-0.2 2.4 0.8 1.4-2.7 0.3-2.2-0.1-1.8-1.4-1.6-1.5-1.6-1.4-1.8-1.3-1.9-1.1-2-1.1-1.9-1.1-1.8-1.2-1.7-1.4-1.5-1.6-1.4-1.7-1.2-1.8-1-2-0.6-2.1-0.5-2.1-0.5-2.2-0.4-2.1-0.3-2.2-0.3-2.2-0.5-2.1-0.6-2.2-0.6-2.1-0.7-2.1-0.6-2.1-0.4-2.1-0.3-2.2-0.1-2.2-0.1-2.2-0.3-2.2-0.5-2.1-0.6-1.7 2 0.9 2 0.9 1.8 1.3 1.6 1.5 1.5 1.6 1.3 1.8 0.9 2 0.4 2.1 0 2.2 0 2.2 0.2 2.2 0.3 2.2 0.4 2.2 0.6 2.1 0.7 2.1 0.8 2 1 2 1 1.9 1.3 1.8 1.3 1.8 1.3 1.7 1.2 1.9 0.6 2.1 0.2 2.2-0.2 2.2-0.7 2.1-1.1 1.9-1.4 1.7-1.8 1.2-2 1-2 0.9-2.1 0.8-1.8-1.2-1.8-1.2-1.8-1.4-1.7-1.4-1.5-1.5-1.7-1.4-1.7-1.4-1.7-1.4-1.8-1.3-2-1-2.1-0.6-2.2-0.4-2.1-0.3-2.2-0.1-2.2 0.2-2.2 0.3-2.2 0.1-1.9 0.1 0.6 2.1-0.7 2.4 1.6 2.6 1.1 2.4 0.6 2.2-0.6 2.7-1.1-3 2.5-0.5 1.8 1 3-0.3 3.1-1.1 1.9 1 2.2-0.4 2.5 0.3 2.6-0.7 2.8 0.9 1.6 0.1 2.2 1.6 2.7 0.3-1.6-1.5-1.6-1.6-1.7-1.4-1.7-1.4-1.8-1.3-1.7-1.3-1.8-1.3-1.7-1.4-1.6-1.5-1.6-1.5-1.4-1.7-1.2-1.9-0.9-2-0.6-2.1-0.4-2.2-0.4-2.1-0.5-2.2-0.5-2.1-0.9-2-1.2-1.9-1.3-1.7-1.2-1.8-1.2-1.9-0.9-2 0.9 2.6-0.8 1.8 1.3 3.3-0.7 2.1-0.2 2 1.5 2.5 1 2.5-1.6 2.3 0.4 3 0.6 1.8-1.1 1.7-0.5 3 0.1 2.8 0.2 2-0.3 2.5-0.1 2.7 1.1 2.4-3.2-0.5 1.1-1.9 1.8-1.3 1.9-1.1 2.1-0.7 2.2-0.1 2.1 0.5 1.9 1.2 1.6 1.5 1.1 1.9 0.6 1.9 2.8-0.6 1.8 0.2 2.6 0.5 2.8-0.4 1.8-0.6 2.5-0.1 2.6-0.7 2.3 0.5 2.5 0.5 2.3 0.4 2.6 0.5 2.4-0.7 2.4-0.3 2.5 0.4 1.8 0.8 3.2-0.5 2.4 0.8-0.7-1.4-0.6-3.3 0.7-2 0.3-2.4-1.3-2.3-0.2-2.1-0.4-3 1.6 2.4-0.5 1.6-1.1 2.5 0.1 3.6 0.2 2.6 0.2 1.4 1.8-1.2-2.7 0.2-2.2-0.5-2-0.8-2-1-1.9-1.1-1.7-1.4-1.7-1.3-1.7-1.4-1.7-1.4-1.8-1.3-1.7-1.4-1.6-1.5-1.5-1.7-1.3-1.8-1.4-1.7-1.3-1.7-1.6-1.5-1.7-1.4-1.7-1.4-1.8-1.3-1.9-1.1-1.9-1.1-1.8-1.3-1.7-1.3-1.7-1.5-1.3-1.7-1.3-1.8-1.2-1.9-1.2-1.8-1.2-1.9-1.3-1.7-1.4-1.7-1.3-1.8-1.4-1.7-1.2-1.9 0.7-2 0-2.7 0.1 2.2 2.8-0.4 2-1.5 2.6-0.3 2.7-0.4 2 0.2 2.5 0.7 2.4 0.8 2.4-0.2 3 0.1 2.2-0.9 0.2 2.2 0.1 2.2-0.2 2.2-0.4 2.2-0.4 2.1-0.2 2.2 0.1 2.2 0.4 2.2 0.4 2.1 0.4 2.2 0.1 2.2 0.1 2.2 0.1 2.2-0.1 2.2 0 2.2 0.1 2.2 0.1 2.2 0.3 2.2 0.4 2.1 0.4 2.2 0.5 2.2 0.4 2.1 0.5 2.2 0.2 2.2-0.1 2.2-0.1 2.1-2.2 0.1-0.1-2.2-0.1-2.2-0.4-2.1-0.4-2.2-0.5-2.1-0.3-2.2-0.2-2.2-0.3-2.2-0.4-2.2-0.5-2.1-0.9-2-1-2-1-1.9-0.8-2.1-0.5-2.1-0.2-2.2 0.2-2.2 0.2-2.2 0.2-2.2 0.1-2.2 0.2-2.2 0.2-2.2 0.4-2.1 0.7-2.1 1.1-1.9 1.5-1.6 1.9-1.1-2.1 0.4-2.2 0.6-2 0.9-1.7 1.4-1.4 1.7-1 1.9-0.7 2.1-0.6 2.1-0.7 2.1-0.9 2-0.9 2-0.9 2-0.8 2.1-0.6 2.1-0.4 2.2-0.3 2.2-0.2 2.2-0.3 2.1-0.2 2.2-0.1 2.2-0.1 2.2-0.2 2.2-0.4 2.2-0.8 2-1 2-1.2 1.8-1.4 1.7-1.6 1.6-1.5 1.2 1.3-2.6 0-2.4 0.6-2.2 1.2-2.1-0.4-3 0.8-1.7-0.9-2.7 0.1-2.7-1.3-2.1-1.7-2.7 0-2.1 1.8 1.2 2 0.8 2.2 0.6 2.1 0.4 2.2 0.4 2.2 0.3 2.1 0.5 2.1 0.6 2.2 0.5 2.1 0.3 2.2 0.4 2.2 0.3 2.2 0.2 2.1 0.5 2.1 0.8 1.9 1.1 1.8 1.2 1.8 1.3 1.7 1.4 1.6 1.5 1.5 1.7 1.4 1.6 1.2 1.9 0.8 2 0.6 2.1 0.3 2.2 0.1 2.2-2-0.9-2.2-0.6-2.1-0.4-2.2-0.2-2.2 0-2.2 0.4-2.1 0.5-2.1 0.7-2.2 0.5-2.1 0.5 0.8-2.1 1.2-1.8 1.5-1.6 1.7-1.4 1.9-1.2 2-0.7 2.2-0.5 2.2-0.1 2.2 0.3 2.1 0.6 2.1 0.6 2.1 0.7 2.1 0.4 2.2 0.4 2.1 0.4 2.2 0.7 1.6 0.7-1.8 2.9 1.5 2.2-0.8-0.8-2.4 0-2.7-1.2-2.9 0.3-1.2-1.9-3 1.3-2.9 0.7-1.5-0.7-2.4 0.6-2.8-0.6-1.9 2.3-3-0.8-1.5-0.1-3-1.3-2.5 0.2-2.8-0.5-1.9-0.3-2.1 0.9-3.1-0.7-2.1-0.7-2.6 0.4-1.9 1.3-2.3 0-2.5-0.6 2.1-0.8 2.1-0.6 2.1-0.6 2.2-0.2 2.2 0 2.2 0.4 2.1 0.5 2.1 0.8 1.8 1.2 1.7 1.4 1.7-1.5 1.8-1.3 1.8-1.2 1.8-1.2 2.1-0.9 2.1-0.6 2.1-0.6 2-0.8 2-0.9 1.9-1.2 1.6-1.5 1.2-1.9 0.7-2.1 0.6-2.1 0.6-2.1 0.4-2.1 0.3-2.2-0.1-2.2-0.2-2.2-0.6-2.1-0.8-2.1-1.1-1.9-1.3-1.8-1.3-1.7-1.1-2-0.7-2-0.8-2.1-0.8-2.1-0.8-2-0.8-2.1-0.4-2.1-0.3-2.2-0.2-1.9-1.1 2-1.3 1.7-1.3 1.8-1.4 1.7-1.3 1.7-1.6 1.6-1.6 1.5-1.6 1.5-1.8 1.3-1.7 1.3-1.7 1.4-1.5 1.6-1.4 1.8-1.2 1.8-1.2 1.9-1.2 1.8-1.3 1.8-1.2 1.8-1.4 1.7-1.6 1.5-1.8 1.3-2 1-2 0.9 1.7 1.4 1.4 1.7 1.3 1.8 1.3 1.8 1.1 1.8 0.9 2.1 0.6 2.1 0.1 2.2-0.3 2.2-0.5 2.1-1 1.2 0.1-2.2 0.1-2.2 0-2.2 0.1-2.2 0-2.2-0.3-2.2-0.4-2.1-0.6-2.2-0.6-2.1-0.4-2.1-0.3-2.2-0.2-2.2-0.3-2.2-0.4-2.1-0.3-2.2-0.2-2.2-0.3-2.2-0.4-2.2-0.7-2-0.8-2.1-1-2 2.2 0.2 2.2 0.5 2 0.8 2 1 1.8 1.2 1.9 1.2 1.6 1.5 1.5 1.6 1.4 1.7 1.4 1.7 1.3 1.7 1.3 1.9 0.9 1.9 0.5 2.2 0 2.2-0.2 2.2-0.4 2.1-0.7 2.1-1 2-1.3 1.8-1.5 1.5-1.9 1.2-2.1 0.6-2.2 0.1-2.2-0.2-2.2-0.5-2-0.7-2.1-0.7-2.1-0.7 1.8 1.2 1.9 1.2 1.9 1.2 2 0.9 1.9 0.9 2 1 1.9 1.1 2 1.1 1.7 1.3 1.5 1.6 1.3 1.7 3-1.7 1.5-0.3 3-0.1 2.4 0.6 2 1 2.1 0.8 2.7-0.5 2.2 0.5 2.9 0.1 2.5 0.2 1.3-0.6 3.4 0.6 2.4 0.2-1.9-1.1-1.2-1.9-1-1.9-0.8-2.1-0.6-2.1-0.3-2.2-0.1-2.2 0.1-2.2 0.2-2.2 0.1-2.1 0.3-2.2 0.4-2.2 0.4-2.2 0.3-2.1 0.3-2.2 0.3-2.2 0.5-2.1 0.5-2.2 0.6-2.1 0.2-2.2 0.2-2.2 0.1-2.2 0.1-2.2 0.2-2.2 0.1-2.2 0.3-2.1 0.5-2.2-0.8 2.1-0.8 2-0.3 2.2 0.1 2.2 0.6 2.1 1 2 1.2 1.9 0.9 1.9 0.8 2.1 0.6 2.1 0.3 2.2 0.2 2.2 0 2.2 0 2.2 0.1 2.2 0.4 2.1 0.7 2.1-0.8-2.3 0-2.6 0-2.7 0-2-0.1-2.3 0.1-3.4-1.4-1.7-0.6-2.3 1.3-2 1.4-2.8-1.1-2.7-1.1-2.1-0.6-1.8 0-2.9 1.5-2.4-1.5-0.5 0 1.9 0.9 2.6-0.8 2.7 1 2.2-0.2 2.7 0.8 1.9 0 3.4 0.9 1.5 0.6 1.9-1.4 2-1.1 3.2 0.6 2.1 1.8 3-1.9 2.2-0.9 2.6 1.2 2.2-2-0.9-1.9-1.2-1.7-1.3-1.3-1.8-0.7-2.1-0.2-2.2 0.1-2.2 0-2.2 0.1-2.2 0.4-2.2 0.1-2.2 0-2.2-0.3-2.2-0.7-2-1.1-2-1.1-1.9-1.2-1.8-1.3-1.8-1.5-1.6-1.7-1.4-1.1 1.9-1.2 1.9-1.2 1.8-1.4 1.8-1.4 1.6-1.9 1.2-2.1 0.5-2.2-0.1-2.1-0.7-1.7-1.3-1.5-1.7-1.1-1.9-0.8-2-0.5-2.2-0.3-1.4-2.7 0.6-2.2 0.4-2.5 0-2-0.6-2.8-0.7-2.4 1-2.5-0.8-2-0.6 0.2 2.8-0.1 2.6 0.1 1.9 0.4 2.2-0.5 2.6-0.2 2.7 2.2-0.4 2.1-0.5 2.2-0.5 2.1-0.3 2.2-0.4 2.2-0.3 2.2-0.1 2.2-0.2 2.2-0.3 2.1-0.4 2.2-0.4 2.2-0.3 2.2-0.1 2.1-0.3 2.2-0.1 2.2-0.3 2.1-0.7 2-1 1.7-1.3 1.5-1.7 1-1.9 0.8-2.1-2.3 0.3-2.9-0.9-1.2 0.3-2.6 0.4-3 0.4-2.6-0.2-2 1.6-2.4 0.1-1.9-0.7-2.3 1.4-3.1-0.9-0.4 2.2-0.6 2.1-0.6 2.1-0.7 2.1-0.6 2.1-0.6 2.1-0.3 2.2 0.4 2.2 1 1.9 1.4 1.7 1.5 1.6 1.5 1.7 1.2 1.8 1 1.9 1 2 1 2 0.7 2.1 0.6 2.1 0.5 2.1 0.5 2.2 0.5 2.1 0.5 2.2 0.4 2.1 0.3 2.2 0.2 2.2 0.3 2.2 0.2 1.3-0.7-2.1-0.8-2-0.9-2-1.1-1.9-1.1-1.9-1.2-1.9-1.1-1.9-1.3-1.8-1.3-1.7-1.6-1.6-1.8-1.2-1.8-1.2-2-1-2.2-0.5-2.1-0.4-2.2-0.4-2.1-0.6-2.1-0.6 0.2-2.2 2.2-0.3 2.2-0.2 2.1-0.5 2.2-0.5 2.1-0.5 2.2-0.3 2.2-0.2 2.2-0.1 2.2-0.1 2.2 0.1 2.2-0.3 2-0.7 2-1 1.9-1.2 1.7-1.3 1.7-1.4 1.7-1.4 1.8-1.3 1.8-1.3 1.9-1.1 1.9-1.1 2-0.9 2.1-0.5 2.2 0 2.2 0.3 2.2 0.5 2 0.9 1.1 1.2-3-2.2 0.5-2.9-0.9-2.1 0.5-2.1-0.2-2.7 0.1-2.7 0.2-1.9 0.7 3.3-1.8-1.9-1.9 0.3-2.8 1.4-2.1-0.9-3-0.5-2.1 0.4-2.1-1-2.4 1-3-1-2.3 0-1.7 0.3-3.3-0.6-2.1 0.2-2.3 0.3-2.7 0.8-2.1-0.9-3 1.8-1.8-0.3-2.6 0.1-2.1 0.8" stroke="#9462c8" stroke-width="0.5" fill="none" stroke-linejoin="round"/>
<rect x="114.3" y="494.1" width="62.4" height="62.2" fill="none" stroke="#444" stroke-width="0.9"/>
<path d="M52.5 568.7l2-1.9 2.7 0.4 2.4-0.6 2.4-0.5 2.5-0.1 2.4-0.4 2.6 0.2 2.4 0.8 1.8 0 2.8-0.3 2.3-0.6 2.3 2.8 2.1-2 3.6-0.4 2.5 1.3 1.3-0.3 2.5 0.9 2.4 0.6 2.2-1 2.4-2.1 0.8-0.4-0.7 1.8 0.3 2.8 0.3 2.5-0.3 2.1-0.9 2.7 0.5 2.2-0.4 2.5 2.1 3.2-0.5 1.7-2.1-0.5-2.2-0.6-2-0.8-1.9-1.1-2-0.9-2.1-0.6-2.2-0.3-2.2 0.2-2.1 0.5-2.1 0.7-2 1.1-1.8 1.2-1.6 1.5-1.4 1.6-1.2 1.9-0.7 2.1-0.2 2.2 0.3 2.2 0.7 2 1.2 1.9 1.3 1.8 1.4 1.6 1.4 1.8 1.3 1.7 1.4 1.8 1.2 1.8 1.2 1.8 1.1 2 0.7 2 0.5 2.2 0 2.2 2-3.4 2.9 0.6 2.1-0.1 2.3-0.2 3.1-0.5 1.7 0.5 3.7 0.2-3.3 2.3 0-2.4 0.2-3.3-0.8-1.8 0.1-2.4 0.3-2.5 1.1-2.9-0.4-1.9 0.8-3.1-0.7-1.6-0.6-2.1 2.1-2.5-0.8-2.4-0.3-3-0.1-2-2.1 0.8-2 0.7-2.1 0.7-2.1 0.6-2.2 0.3-2.2-0.2-2.1-0.6-2-0.9-1.9-1.1-1.8-1.3-1.6-1.6-1.3-1.7-1.1-1.9-1-2-0.8-2.1-0.8-2-0.7-2.1-0.6-2.1-0.4-2.2-0.4-2.1-1.7 1.4-1.7 1.4-1.7 1.4-1.6 1.5-1.4 1.7-1.3 1.7-1.3 1.8-1.4 1.7-1.4 1.7-1.5 1.6-1.6 1.5-1.6 1.5-1.5 1.6-1.8 1.3-2 0.9-2.1 0.5-0.1-2.1 0.9 2 2.1 0.5 2.2 0.3 2.2 0.1 2.2-0.1 2.1-0.4 2.1-0.7 2.1-0.8 2-0.9 1.7-1.3 1.6-1.6 1.5-1.6 1.5-1.6 1.6-1.5 1.6-1.5 1.9-1.2 1.9-1.1 1.9-1 2.1-0.7 2.1-0.7 2.1-0.5 2.2-0.4 2.2-0.4 2.1-0.6 2.2-0.4 2.2-0.1 2.1 0.3 2 0.9 1.7 1.5-0.5 2.2-1.7 1.4-1.5 1.6-1.5 1.6-1.6 1.5-1.7 1.4-1.9 1.1-2.1 0.7-2.2 0.3-2.2 0.2-2.2 0.1-2.1 0.3-2.2 0.4-2.1 0.8-1.9 1-1.8 1.2-1.9 1.2-1.7 1.3-1.7 1.5-1.7 1.4-1.6 1.5-1.6 1.5-1.3 1.8-1.2 1.9-1.2 1.8-1 1.9-0.8 2.1-0.6 2.1-0.5 2.1-0.5 2.2-0.5 2.1-0.2 2.2 0.2 2.2 0.5 1.3-1.9-1.4-3.4 1.4-2.2-0.7-2.4 0.5 1.1-1.2-0.1-2.9-1-2.2-0.5-1.7 0.6-2.4 0.1-2.9-0.1-2.5-0.5-2.5 1.8-2.3-0.6-1.5-0.2-3.6 0.2-2.3 2.5-2-0.7-1.8 0.7-2.3-1.9-2.9 0.8-2.7 0.6-2.4 0.2-2.4 1-2.1-1.2-2.6-0.5-3.1 1.4-2.1-0.4-1.7-2.5 3.4 0.4 2.2 1.3 1.8 1.4 1.6 1.3 1.8 1 1.9 0.9 2.1 1 1.9 1 2 1.2 1.8 1.7 1.5 1.8 1.1 1.9 1.2 1.9 1.1 1.9 1.1 1.8 1.2 1.9 1.1 2.1 0.8 2.1 0.7 2.1 0.6 2.2 0.3 2.2 0.3 2.1 0.4 2.2 0.4 2.1 0.5 2.1 0.6 2.2 0.6 2.1 0.4 2.2 0.2 2.2-0.3 2.1-0.5 2.1-0.7 1.5-1.1-1.9 1.2-1.8 1.2-1.7 1.4-1.6 1.4-1.6 1.6-1.5 1.6-1.5 1.6-1.4 1.7-1 2-0.9 2-1 1.9-1.1 2-1.4 1.6-1.7 1.5-1.7 1.3-0.5-2.1-0.8-2.1-1-1.9-1.1-2-1.1-1.8-1.2-1.9-1-1.9-1.2-1.9-1.3-1.8-1.2-1.8-1.3-1.8-1.1-1.9-1-2-0.6-2.1-0.4-2.2-0.2-2.1-0.5-2.2-0.7-2.1-0.9-2-0.8-2-0.9-2-0.8-2.1-0.6-2.1-0.4-2.2-0.4-2.1-0.3-2.2-0.2-2.2-0.2-1.7 1.9 1.1 2 0.9 2 0.9 2.1 0.7 2.1 0.5 2.2 0.3 2.1 0.4 2.2 0.7 2 0.7 1.9 1.1 1.8 1.3 1.7 1.4 1.6 1.5 1.6 1.5 1.7 1.4 1.7 1.5 1.7 1.4 1.7 1.3 1.8 1.3 1.7 1.4 1.6 1.5 1.7 1.4 1.7 1.4-2.2-0.4-2.2-0.1-2.2-0.1-2.1-0.4-2.2-0.6-2.1-0.5-2.2-0.4-2.1-0.3-2.2-0.2-2.2-0.2-2.2-0.2-2.1-0.6-2.1-0.9-1.8-1.1-1.7-1.4-1.6-1.5-1.4-1.7-1.4-1.8-1.3-1.7-1.5-1.6-1.6-1.6-1.8-1.2-1.9-1-2.1-0.6-2.2-0.4-2.1-0.6-2.2-0.2-2.2-0.4 1.8 1.3 1.7 1.3 1.8 1.4 1.8 1.2 1.7 1.4 1.8 1.4 1.7 1.3 1.6 1.5 1.7 1.4 1.9 1.1 2.1 0.8 2.1 0.4 2.2 0.2 2.2-0.3 2.1-0.5 2.1-0.8 2-0.9 1.9-1.1 1.8-1.3 1.8-1.3 1.6-1.5 1.2-1.8 0.9-2 0.3-2.2 0.1-2.2-0.4-2.1 2.8 2 1.7-0.8 2.9-1 2 0.5 2.7 0 2.7-2 0.3 1.9-0.1 2.6-0.3 2.6 0 2.5-0.4 1.4-1.1 2.7 1.3 3.2-0.7 1.5 0.9 3.1 0.3 2-0.7 3 0.3 2.1-0.9 2.3-1.2 2-0.5 2.7-1.1 2.7 0.4 2-0.5 2.6 0.7 2.4 0 2.2-0.2 2.1 0.3 3-0.4 2.3 0.2 2.5 1.3-2.9-1.9-0.2-2.9 0.1-1.9 1.3-2.1 0.1-3 1.3-2.4-0.9-2.9-1.1-1.5-1.2-2.9 0.2-2.3-0.4-2.3 0.4-2.7 0.6-1.6 0.2-2.6 1.4-2.5 0.3-2.2 0.1-2.9 0.8-2.3 0.1-2.4-0.4-2.6 0.8 2.2-0.8 0.2-2.2 0.1-2.2-0.2-2.2-0.2-2.2-0.2-2.2-0.2-2.2 0.1-2.2 0.3-2.1 0.4-2.2 0.7-2.1 0.9-2 1-1.9 0.8-2.1 0.7-2.1 0.6-2.1 0.7-2.1 0.5-2.1 0.1-2.2 0-2.2-0.2-2.2-0.6-2.1-0.9-2-1-2-1.3-1.8-1.5-1.6-1.7-1.4-1.7-1.4-1.8-1.2-1.4 1.8-1.4 1.6-1.3 1.8 0.6 2.1 0.7 2.1 0.9 2 0.9 2 1 1.9 1.2 1.9 1.3 1.8 1.5 1.6 1.6 1.5 1.4 1.7 1.3 1.8 1.2 1.8 1.1 1.9 1.3 1.8 1.3 1.8 1.3 1.7 1.3 1.8 1.4 1.7 1.7 1.5 1.8 1.2 2 0.9 2.1 0.8 2.2 0.1 2.1-0.5 1.8-1.2 1.2-1.9 0.5-2.1-0.2-2.2-0.6-2.1-0.9-2-1.2-1.9-1.2-1.8-1.5-1.6-1.5-1.6-1.8-1.3-1.8-1.2-2-0.9-2-1-1.9-1.1-1.9-1.2-2-0.8-2.1-0.7-2.1-0.5-2.2 0-2.2 0.2-2.2 0.3-2.2 0.2-2.2 0.4-1.6 0.5 1.3 1.8 1.2 1.8 1.1 1.9 0.8 2 0.6 2.2 0.3 2.1 0.3 2.2 0.2 2.2 0 2.2-0.3 2.2-0.5 2.1-0.5 2.2-0.7 2.1-1 1.9-1.4 1.8-1.4 1.5 1.4 2.7 0.8 2.8 0.5 1-1.5-2.4 2 0 3.4 0.1 1.9 0 2.7 0.5 2.6 0.5 2.4-0.6 1.6-0.3 1.8-0.3 3.6 1.3 1.4 0.5 3.1 0.4 2.3-0.2 2.1-1.9 3.2 0.1 2.3 1.1 1.5 0.3 2.8-1.4 2.5 1.1-2.1-0.2-2.9-0.9-3.2 1.9-1-0.5-2.8 1.2-2.2 1-2.9-1-2.1-2-2.3-0.9-2.9 1-1.9 0.7-2.4-1.1-2.5-0.6-2.5 0.9-2.5-0.7-2.1-0.4-2.1 1-3.1-0.6 2.4 3.1 2-0.8 2.1-0.8 2.1-0.6 2.1-0.6 2.1-0.7 2.1-0.7 2.1-0.6 2.2-0.4 2.2-0.1 2.2 0.1 2.1 0.1 2.2 0.3 2.2 0.3 2.2 0.4 2.2 0.2 2.2 0.2 2.1 0.2 2.2 0 2.2-0.1 2.2-0.2 2.2 0 2.2 0.1 2.2 0.3 2.2 0.3 1.4 0.7-1.7-1.4-1.7-1.5-1.5-1.6-1.3-1.7-1.2-1.9-0.9-2-0.8-2-0.8-2-0.9-2.1-1-2-0.9-1.9-1.1-1.9-1.4-1.8-1.4-1.6-1.6-1.6-1.8-1.3-2-0.8-2.2-0.3-2.2 0.4-2 0.9-1.8 1.3-1.4 1.6-1.2 1.9-0.9 2-0.6 2.1-0.3 2.2 0 2.2 0.1 2.2 0.2 2.2 0.6 2.1 0.7 2.1 1 1.9 1.1 1.9 1 2 0.9 2 0.8 1.1-2.3-1.6-2.5-0.5-2.1-0.2-2.8 0.1-2.1 0.1-3.1-1.6-2.5 0.1-1.7 1.3-2 0.9-3.5-0.1-2-0.4 1.4 2.5-0.1-2.6-0.4-2.8-0.4-1.9-0.2-2.5-0.7-2.2 0.2-2.4-0.5-3.1 0.3-1.4-0.1-3 0.8-2.7-0.6-1.8 1-2.5 1.2-3.2-1-1.8-1.4-2.5 1.1-1.9 0.7-2.2 2.2 0.1 2.2 0 2.2-0.2 2.1-0.4 2.2-0.5 2.1-0.7 2-0.9 2-0.9 2-1 2-0.9 2-0.8 2.1-0.7 2.1-0.6 2.2-0.4 2.2-0.1 2.2 0.2 2.1 0.5 2.1 0.8 1.8 1.1 1.8 1.4 1.5 1.6 1.4 1.7 1.3 1.7 1.3 1.8 1.3 1.8 1.2 1.8 1 2 1 1.9 1.1 1.9-2.1-0.6-2.1-0.7-2-0.8-2.1-0.8-1.9-1-2.1-0.8-2-0.9-2-0.8-2.2-0.5-2.2-0.2-2.2 0-2.2-0.1-2.2-0.1-2.2 0-2.2 0-2.2 0.1-2.2 0.3-2.1 0.4-2.2 0.4-2.2 0.1-2.2-0.3-2.1-0.3-2.2-0.2-2.2 0-2.2-0.2-2.2-0.3 1.3 1.8 1 1.9 1.1 2 1 1.9 1 2 0.9 2 1.1 1.9 1.2 1.8 1.3 1.8 1.3 1.8 1.3 1.8 1.1 1.9 1.3 1.8 1.4 1.7 1.7 1.3 1.8 1.3 1.9 1.2 2 0.9 2 0.8 2.2 0.5 2.1 0.3 2.2 0.3 2.2 0.3 2.1 0.7 1.9 1 2.1-2.9 2.5-0.4 2.5 0.9 2.7 0.4 2.7 0.2 2.3 1.3 2-0.3 0.4 1.2 0.1-2.8-1-2.3 0.5-1.8-0.1-2.5-0.5-2.5 0-2.1 0.5-2.7 1-1.7 0.8-2.8 0-2.1-1.2-2.9-1-2.6-0.1-2.4 0.5-2.3-0.2-2.2 0.1-2 0.5-2.8 0.1-2.8 0.3-1.8 0-2.8-0.2-2.3 0.9-2.3-1.6-2.3 1.8-0.8-2.2 0.6-2.9 2.1-2.2-2.3-2.2-0.3-2.8-1.8-2.3 0.9-2.5-0.5-1.9 0.2-2.4-0.5-2.5 0.6-1.8-0.6-2.7-0.2-2.6 0.8-2.5-0.5-2.1 1.3-2.9-1.4-2 1.3-2.3-0.6-2.6-0.4-2.7 1.2-1.7 0.4 0.6 2.2 0.6 2.1 0.5 2.1 0.6 2.2 0.9 2 1 1.9 1.2 1.9 1.1 1.9 1.2 1.8 1.2 1.8 1.3 1.8 1.4 1.7 1.5 1.7 1.7 1.3 1.8 1.2 1.9 1.2 2 1 1.9 0.9 2.1 0.8 2.1 0.8 2.1 0.6 2.1 0.4 2.2 0.1 2.2 0 2.2 0 2.2 0.2 2.2 0.1 2.2 0 2.2 0 2.2-0.1 1.1-0.2-1.9-1-1.6-1.6-1-1.9-0.5-2.2 0.2-2.2 0.4-2.1 0.3-2.2 0.3-2.2 0.6-2.1 0.9-2 1.2-1.9 1.1-1.8-0.9 2.8 0.2 1.8-1 3-1.3 0.8 0.1 4.1-0.1 1.5 1.3 3-0.3 2.1-0.2 2.4-0.1 2.3-0.9 3-0.9 2.6 0.5 2-2.1-0.7-2-0.7-2-1-2-0.9-2-1-2-1-1.9-1.1-1.9-1.1-1.9-1.1-1.9-1-2-1-1.9-1.1-1.9-1-2-1.1-1.9-1-1.9-1.2-1.8-1.3-1.8-1.2-1.8-1.2-2.1-0.8-2.2-0.2-2.2 0.3-1.9 0.9-1.8 1.4-1.5 1.6-1.3 1.7-1.2 1.9-0.9 2-0.6 2.1 1.8 1.2 1.9 1.2 1.6 1.5 1.2 1.8 0.8 2.1 0.6 2.1 0.4 2.2 0.2 2.2 0.1 2.2-0.2 2.2-0.4 2.1-0.8 1.6 1.5-1.6 1.5-1.6 1.1-1.9 0.8-2.1 0.5-2.1 0.4-2.2 0.3-2.2 0-2.2 0-2.2 0.2-2.2 0.2-2.1 0.2-2.2 0.2-2.2 0.2-2.2 0.4-2.2 0.5-2.1 0.6-2.1 0.7-2.1 1-2 1-1.9 1.2-1.9 1.3-1.8 1.2-1.8 1.3-1.8 1-1.9 1-2 1-2 1-1.9-2.7 1.5-2.4 1-2-1-1.8-0.9-2.9-0.8-2.7-0.2-1.9 0.2-2.5-0.7-3 1.4-1.5-0.8-3.3 0.1-1.8-0.4 0 2.8 0.5 2.3-0.6 2.5 0.3 2.9 1.8 1.8-0.4 2.2-1 2.5 0.1 3.1-0.3 2 0.1 2.3 0 2.2-0.5 3.1 1.8-1.3 1.8-1.2 1.9-1.1 2-1 2-0.8 2.1-0.7 2.2-0.2 2.2 0 2.2 0.4 2 0.9 1.8 1.2 1.8 1.3 1.6 1.5 1.6 1.5 1.4 1.7 1.2 1.8 1.3 1.9 1 1.9 0.6 2.1 0.2 2.2-0.3 2.2-0.6 2.1-1 2-1.3 1.8-1.3 1.7-1.2 1.8-1 2-1 1.7-0.4-2.2-0.6-2.1-0.6-2.1-0.7-2.1-0.6-2.1-0.6-2.1-0.3-2.2-0.1-2.2-0.1-2.2-0.2-2.2-0.2-2.2-0.3-2.2 0-2.2 0.1-2.2 0.6-2.1 0.9-2 1.1-1.9 1.4-1.7 1.7-1.3 2.1-0.9 2.1-0.6 2.1-0.5 2.2-0.4 2.2-0.2 2.2-0.1 2.2 0 2.2 0.3 2.1 0.2 2.2-0.2 2.1-0.6 2-1 1.9-1.1 2-0.9 1.3-0.6-2.1 0.4-2.2 0.4-2.2-0.2-2.1-0.5-2.1-0.9-1.7-1.3-1.4-1.7-1.4-1.7-1.3-1.8-1.4-1.7-1.3-1.6 1.1 1.9 1.3 1.8 1.4 1.6 1.4 1.8 0.9 2 0.3 2.1-0.1 2.2-0.6 2.1-0.9 2-1.3 1.8-1.7 1.4-1.9 1.2-2 1-1.9 0.9-2.1 0.8-2.2 0.3-2.2 0.1-2.2 0.1-2.2 0.3-2.1 0.6-2.1 0.5-2.1 0.6-2.1 0.7-2.1 0.7-2.1 0.6-2.2 0.3-2.2 0.4-2.1 0.4-2.2 0.2-1.1-0.2 1.7-1.4 1.8-1.3 1.7-1.3 1.7-1.5 1.6-1.4 1.7-1.4 1.6-1.5 1.8-1.3 1.8-1.2 2-1 2.2-0.5 2.1-0.2 2.2 0.1 2.2 0.6 2 0.9 1.9 1 1.9 1.1 2 1 2 0.9 2.2 0.4 2.1 0.2 2.2-0.3 1.9-1.1 1.5-1.6 1.4-1.7 1.1-1.9 0.7-2.1 0.4-2.2 0.2-2.2 0.1-2.2-0.3-2.2-0.3-2.1-0.5-2.2-2 0.2-2.4 0.3-2.9 1.6-2.2 0.4-2.4-0.1-2.7 0-2.4-0.4-2.1-1.3-2.3 1.2-2.7 0.5-2.4-0.5-2.2-0.8-2.3 1.6-2.4-1-2.7 1.1-1.8-0.4-2.9 0.5-2.6-0.5-2 0.1-2.8-0.4 1.6-2.2 2.2-0.4 0.7 2 1.1 2 1.2 1.8 1.4 1.7 1.6 1.5 1.8 1.3 1.7 1.4 1.7 1.4 1.6 1.5 1.8 1.3 1.7 1.3 1.8 1.3 1.6 1.6 1.3 1.7 1.3 1.8 0.9 2 0.6 2.1 0.6 2.1 0.8 2.1 0.7 2.1 0.9 2 0.9 2 1.2 1.9 1.2 1.8 1.4 1.7 1.4 1.6 1.6 1.6 1.6 1.4 1.9 1.3 1.9 1.1 2 0.7 2.2 0.3 2.2-0.1 2.2-0.5 2-0.8 1.8-0.9-3 1.9-1 3 0.2 3 2.8-3.9-3 0.2-1.8-0.4-2.5 0.5-2.7-0.5-2.3 0.4-2.7-0.1-1.6-0.7-2.4 1.2-3.2 0.7-2-0.7-2.8-0.2-1.9 0.5-2.1 1.1-2.9-1.5-2.3-0.6-2.9 0.7-1.3-0.6-3.3-0.5-1.8 0.5-3.1 0.2-2.1-0.2-2 0.9-2.4-1 2.9 2.1-0.3-2.8 0.6-1.8-0.6-2.5-0.3 2.5 0.9 1.5-0.6 2.7-3.1-1 1.4 0 3.6 1.1 2-0.8 3.2 0.4 1.9 1.2 2.2 0.9 2.3 0.3 3.4 0.2 2.3-0.3 2.4-0.6 1.4-0.9 2.4 1 3.3 0.5 1.6 0.1 2.3-0.4 3.4 0.4 2.3-1.1 1.7-0.8 3.3-1.3 2 0.3 2.6-0.2 2.5-0.4 2.3 0.1-1.4 2.8-0.7-2.2-2.1-0.5-2.1-0.5-2-0.9-1.9-1.2-1.8-1.3-1.6-1.5-1.3-1.8-0.9-2-0.5-2.1-0.1-2.2 0.3-2.2 0.5-2.1 0.7-2.1 0.8-2.1 1-2 0.9-1.9 1-2 1.2-1.8 1.3-1.9 1.2-1.8 1.1-1.9 1.1-1.9 0.9-2 0.6-2.1 0.4-2.2 0.2-2.2 0-2.2-0.2-2.2-0.5-2.1-0.8-1.4 2.8-0.7 1.7 0.5 0.6 0.9 0.2 2.5-0.5 2.3-0.6 3 1 1.9 0.4 2.1 0.1 2.9 0 2-1.6 2.8 0.7 2-0.8 2.5 0.4 2.9 0.4 2.6 0.2 1.4-0.9 2.7-0.7 2.4 0.5 2.7-0.6 2-0.1 3 1.1 2.1-0.9 1.8-0.8 2.9 0.3 2-0.5 1.8 2.8-1.4-3-0.2-2.1-0.1-3.2 1.2-1.5 1-2.6-0.9 2.1-0.5 2.1-0.7 2-0.9 1.9-1.1 2-1 1.7-1.4-2.2-0.1-2.2 0-2.2-0.1-2.2 0-2.2 0.1-2.2 0.5-2 0.7-2.1 0.8-1.9 1-1.8 1.3-1.9 1.2-1.7 1.4-1.5-1.7-1.4-1.7-1.3-1.7-1.3-1.8-1.4-1.7-1.6-1.6-1.6-1.5-1.6-1.5-1.4-1.7-1.3-1.7-1.4-1.7-1.4-1.7-1.3-1.8-1-2-0.8-2-0.6-2.1-0.7-2.1-0.6-2.1-0.3-2.2-0.2-2.2-0.2-2.2-0.4-2.2-0.1-2.2 0-2.2 0.2-2.1 0.3-2.2 0.1-2.2 0-2.2-0.3-1.8-0.9 2-1 2-1.1 1.9-1.2 1.8-0.9 2-0.5 2.1-0.1 2.2 0.4 2.2 0.8 2.1 1 1.9 1.3 1.8 1.3 1.8 1.3 1.8 1.2 1.8 1.1 1.9 1 1.9 1.1 2 1.2 1.8 1.5 1.6 1.8 1.3 1.9 1.1 1.9 1 1.9 1.2 1.8 1.2 1.9 1.2 1.9 1.1 2.1 0.8 2 0.9 1.9 1 1.9 1.1 1.9 1.2 1.8 1.1 2 1.1 2 0.9 2.1 0.5 2.2 0.2 2.2-0.1 2.2-0.3 2.1-0.7 1.6-0.9-1.3-1.8-1.1-1.9-1.2-1.8-1.2-1.8-1.4-1.7-1.6-1.6-1.7-1.4-1.6-1.5-1.5-1.6-1.5-1.6-1.4-1.7-1.5-1.6-1.4-1.7-1.4-1.7-1.6-1.5-1.8-1.3-1.9-1-2.1-0.9-2.1-0.4-2.2-0.3-2.2-0.1-2.2 0.1-2.2 0-2.2 0.3-2.2 0.4-2 0.7-2 1-2 0.9-2.1 0.6-2.2 0.3-2.2-0.1-1.5-0.6 2.8-2.5-1.2-2.4 1-3.4 0.9-1.4-0.7-1.9-0.4-2.7 1.3-2.5-1.2-2.6-0.1-2.4-1.4-2.2 0.1-2.5 0 1.4 3.1-0.7 2.5 1.6 2.8 0.4 1.7-1.2 2.8 1 2-2.4 2.5 0.3 2.4 0.4 2.4-0.4 2.4-0.6 2.6 0.5 1.7 0.2 2.8 1.4 3 0.9 2 0.2 2.6-0.4 2.4 0.9 2.5-0.7 2 0.4 2.6-1.2 2 0.4 2.9-0.8 0.4-1.2 0.3 2-1 1.9 1 2.7 0.2 2.1 1.1 2.7-0.4 2.4-0.3 2.8-0.1 1.1 0.8 3-0.6 2.1-0.5 2.6 1 2.6 0.3 2-0.4 2.9-0.4 2.9-0.6 1.4-1.1 2.9 0.6 1.7-0.1 3-1.2 3-1.3-1.7-1.2-1.9-1-1.9-0.9-2.1-0.8-2-0.8-2.1-0.9-2-0.8-2-1.1-1.9-1.3-1.8-1.2-1.8-1.1-2-0.9-1.9-0.8-2.1-0.7-2.1-0.8-2-0.7-2.1-0.6-2.1-0.2-2.2-0.3-2.2-0.4-2.2-0.8-2-1-2-1.1-1.8-2.4 1.9-2.3 1.3-2.4 0.3-2.2-0.5-3 0.2-2.4-0.9-2.1 0.3-2.6 1-2.1-1.5-2.9 1-1.8-0.2-3.1-0.7-2.2 1.3-1.7-0.5 2.4-1.4-0.9 2.4 0.6 2.5-1.7 2.5 0.7 2.4-1 2.1-0.4 2.5 0.6 2.7-0.9 2.1 2 0.9 2.1 0.6 2.1 0.6 2.1 0.6 2.2 0.4 2.2 0.2 2.2 0.2 2.2 0.2 2.2 0.1 2.2 0 2.1 0.2 2.2 0.1 2.2-0.1 2.2-0.5 2-0.9 1.9-1.2 1.8-1.2 1.7-1.4 1.6-1.5 1.6-1.5 1.5-1.6 1.3-1.8 1-2 0.9-2 1-1.9 1.3-1.8 1.5-1.7 1.4-1.6 1.4-1.7 2.5 0.7 2.2 0.2 0.2-0.5 0.7 2.8-1.4 2.5-0.9 2.4-0.2 1.7 0.8 2.6 1 2.6-0.3 2.2-1.3 2.6 0.6 3 0.7 2.2-1.4 2-1.7 2 0.6 2.5 0.1 2.8 0 2.1-0.7 2.9 0.4 1.9-0.2 2.1 0.9 3.2-1.5-1.6-1.3-1.8-1.2-1.8-1-1.9-0.9-2.1-0.9-2-0.5-2.1-0.3-2.2-0.1-2.2-0.1-2.2-0.2-2.2-0.3-2.2-0.4-2.1-0.5-2.2-0.4-2.1-0.4-2.2-0.4-2.2-0.4-2.1-0.4-2.2-0.5-2.1-0.4-2.2 0-2.2 0.3-1.1-0.5 2.2-0.6 2.1-0.6 2.1-0.6 2.1-0.7 2.1-0.8 2-0.8 2.1-0.9 2-0.6 2.1-0.4 2.2 0 2.2 0 2.2 0.2 2.2 0.2 2.2 0.5 2.1 0.7 2.1 0.8 2 0.9 2 1.2 1.9 1.5 1.6 1.8 1.3 2 0.9 2.1 0.6 2.2 0.2 2.2-0.2 2.2-0.1 2.2-0.3-1.8-1.3-1.7-1.3-1.9-1.2-1.9-1.1-1.9-1.1-2-0.9-2.1-0.7-2.1-0.7-2.1-0.5-2.2-0.4-2.2-0.2-2.2 0-2.2 0.3-2.1 0.5-2.1 0.6-2 0.9-2 1-1.8 1.2-1.8 1.3-1.7 1.4-1.6 1.5-1.5 1.6-1.5 1.7-1.3 1.7-1.1 1.9-0.9 2-0.6 2.1-0.2 2.2 1.5-1.5 1.8-1.4 1.7-1.3 2-1 1.9-1.1 2.1-0.8 2.1-0.6 2.1-0.4 2.2-0.2 2.2 0.1 2.2 0.4 2 0.8 1.9 1.2 1.5 1.6 1.3 1.7 1.2 1.9 2.9-2.7 2.1 1.3 2.1 0.6 2.2 0 2.8-0.5 2.7 0 2.1-0.9 3.1 0.5-3.8 0.1-0.4-1.7-0.1-3.1 0.3-1.7-0.4-2.3-0.3-3 0.3-2.2 1.1-2.8-0.3-1.8-0.2-2.4-1.7-1.5-1.7-1.3-1.8-1.2-2-1-2.1-0.6-2.2-0.4-2.2-0.1-2.2-0.2-2.1-0.3-2.2-0.5-2.1-0.4-2.2-0.5-2.1-0.7-2-0.9-2-0.8-1.9-1.1-1.8-1.4-1.5-1.5-1.6-1.6-1.7-1.3-2-1-1.9-1-2-1.1-1.9-1-1.9-1.1-1.9-1.2-1.8-1.2-1.3-1.2 2-1 1.9-1 2-1 2-0.9 2-0.8 2.1-0.6 2.1-0.6 2.2-0.6 1.9 1.1 2 0.9 1.9 1.1 1.9 1.1 1.9 1.2 1.7 1.3 1.7 1.5 1.6 1.5 1.5 1.5 1.4 1.8 1.2 1.8 1.3 1.8 1.4 1.7 1.7 1.4 1.9 1.1 2.1 0.7 2.2 0.2 2.1-0.4 2.1-0.8 1.9-1.1 1.7-1.3 1.4-1.8 1.2-1.8-1.9-2.6-0.3-2.5-0.2-2.2 0.7-2.5-0.2-2.4 2.7-2.9-1.3-0.8-2.3 1.6-1.8 0.2-2.9-1.1-2.9-0.2-1.9 0.1-2.3-0.1-2.7-0.4-2 0.4-1.9 1.8-3.4 0.5-1.5-0.6-3.2 1.3-2.6 0.7-1.9-0.3-1.9 0-4.1-0.6 1.1 1.9 1 2 0.9 2 1.1 1.9 1.2 1.9 1.3 1.7 1.1 1.9 1.2 1.9 1.3 1.8 1.3 1.7 1.1 1.9 1 2 0.9 2 0.7 2.1 0.2 2.2-0.1 2.2-0.3 2.1-0.3 2.2-0.4 2.2-0.5 2.1-0.5 2.2-0.3 2.2-0.3 2.1-0.2 2.2 0 2.2 0 2.2 0.3 1.2-2.4-0.8-2.8-0.3-1.9-0.6-2-0.5-2.5 0.9-2.7-0.5-2.8 1.4-2.4-0.3-2.4 0.4-2-0.2-2.3-0.8-2.7 1.4 1.3-1.2 0.7-2.8-2.3-1.3 0.6-3.3-0.3-2.2-0.1-2.7-0.3-1.8-0.2-2.6-0.1-2.9 0.2-1.8 0.2-3.4 0.1-2.1 0.3-1.9 2.2 0.2 2.2 0.3 2.2 0.3 2.1 0.3 2.2-0.1 2.1-0.7 2-1 1.8-1.2 1.5-1.6 1.3-1.8 1.3-1.8 1.3-1.7 1.4-1.8 1.3-1.7 1-2 0.8-2.1 0.3-2.1 0.1-2.2 0-2.2 0-2.2-0.2-1.5 0.9 2 0.8 2.1 0.9 2 0.9 2 0.9 2 0.7 2.1 0.5 2.1 0.2 2.2-0.5 2.1-1.1 1.9-1.5 1.7-1.5 1.6-1.5 1.6-1.6 1.5-1.7 1.4-1.6 1.4-1.5 1.7-1.7 1.4-1.7 1.4-1.8 1.3-1.9 1.1-2.1 0.6-2.2 0.3-2.2 0.1-2.2 0.2-2.1 0-2.2 0.2 2.1-0.6 2.2-0.3 2.2 0 2.2 0.1 2.1 0.3 2.1 0.6 1.9 1.1 1.7 1.5 1.6 1.5 1.6 1.5 1.6 1.5 1.5 1.6 1.6 1.5 1.5 1.6 1.4 1.7 1.5 1.6 1.5 1.6 1.7 1.5 1.5-1.6 1.5-1.7 1.2-1.8 1-1.9 1.1-2 0.9-2 0.9-2 1.1-1.9 1.4-1.6 1.7-1.4 1.9-1.2 1.9-1.1 2-1 2-0.8 2-1 1.9-1.2-2.1 0.9-2 0.7-2 1-2 1-1.9 1.1-2.1 0.7-2.1 0.6-2.2 0.4-2.2 0.1-2.2 0-2.2-0.1-2.1-0.4-2.2-0.6-2-0.8-1.8-1.2-1.5-1.6-1.2-1.9-0.8-2-0.6-2.2-0.3-2.2 0.2-2.2 0.6-2.1 0.9-2 1.3-1.7 1.5-1.6 1.6-1.6 1.5-1.6 1.3-1.8 1-1.9 0.8-2.1 0.8-2 0.8-2.1 1.2-1.8 1.2-1.1-1.6 1.5-1.7 1.4-1.8 1.2-1.8 1.4-1.6 1.5-1.5 1.6-1.5 1.5-1.7 1.5-1.6 1.5-1.7 1.4-1.7 1.4-1.7 1.4-1.7 1.4-1.5 1.6-1.1 1.9-0.7 2.1-0.6 2.1-0.5 2.2-0.4 2.1-0.5 2.2-0.4 2.1-0.4 2.2-0.6 2.1-0.8 2.1-1 1.9-1 2-1.1 1.9-1.1 1.9-1.2 1.8-1 1.8 1.8-1.3 1.6-1.4 1.5-1.6 1.4-1.8 1.3-1.7 1.1-1.9 0.9-2.1 0.9-1.9 1.2-1.9 1.1-1.9 1.1-1.9 1.1-1.9 1-1.9 1-2 1.1-1.9 0.9-2 0.6-2.1 0.5-2.2 0.3-2.2 0-2.2-0.1-2.2-0.2-2.2-0.6-2.1-0.9-2-0.9-2-1-2-1.1-1.9 1.9 1.3 1.7 1.3 1.5 1.6 1.2 1.9 1.3 1.7 1.4 1.8 1.2 1.8 1.4 1.7 1.7 1.4 1.9 1.1 2 1 2 0.8 2.1 0.7 2.1 0.5 2.2 0.4 2.2 0 2.1-0.5 2-1 1.7-1.4 1.3-1.7 1.3-1.9 1-1.9 0.9-2 1-2 0.9-2 0.9 2.7 1.1 2.4-1.5 1.8-1.3 3.1-0.5 2.2 1.3 1.7-0.2 2.7 0.7 2.6-1.8 1.8-1.4 2.8 0.6 2.7-0.1 2 1.5 2.2-1.1 3.1-0.5 2.3 0.8 2.1-0.1 3 0.1 2.1-0.1 2-0.3 2.9-0.8 2.4 3.3-2.3-2.6 1.5-2.5 0.2-2.3 0-2.3-0.2-1.8-0.4-3.2 1.5-2 1.7-2.2-1.5-3 0-2.2-0.6-2.3 1.8-1.8-1.3-2.1 0.7-3.4-0.7-2.9-0.2-1.7 0-2-1.3-2.8 0-2.7-1-2.3 0.8 0.3-2.2 0.5-2.1 0.8-2.1 0.9-2 0.9-2 0.9-2 0.8-2 0.9-2 0.7-2.1 0.6-2.1 0.6-2.1 0.5-2.2 0.4-2.1 0.4-2.2 0.3-2.2 0.4-2.2 0.4-2.1 0.3-2.2 0.2-2.2 0.1-2.2-0.1-2.2-0.4-2.2-0.6-2.1-0.8-2-1-1.9-1.4-1.7-1 2-1.1 1.9-1.3 1.8-1.2 1.8-1.2 1.8-1.1 1.9-1 2-0.8 2-0.8 2.1-0.7 2.1-0.6 2.1-0.3 2.2 0 2.2 0.1 2.2 0.3 2.1 0.3 2.2 0.2 2.2 0.3 2.2-0.1 2.2-0.4 2.2-0.5 2.1-0.7 2.1-0.9 2-1 2-0.9 2 3-1.9 0.2-3.4-1.9-2.1 0.9-2.5 0.3-2.4 0.1-2.2 0.2-2-0.7-2.7-0.4-2.6 1.7-2.4-2.2-1.9 1.3-2.9-0.4-2 0-2.1-0.6-2.9-0.9-2.4 1.2-2.3 0.5-2.3-0.3-2.6 1.8 1.2 1.9 1.3 1.7 1.4 1.7 1.3 1.7 1.4 1.6 1.5 1.6 1.6 1.5 1.6 1.6 1.5 1.7 1.3 1.8 1.4 1.9 1.1 2 0.7 2.2 0.5 2.2 0.2 2.2 0.1 2.2-0.1 2.1-0.3 2.1-0.6 2.2-0.6 2.1-0.3 2.2-0.2 2.2-0.1 2.2-0.3 2.1-0.6 2.1-0.7 1.9-1.1 1.7-1.4-2.1-0.6-2.2-0.4-2.1-0.5-2.2-0.5-2.1-0.7-2.1-0.5-2.1-0.6-2.1-0.8-1.9-1-1.9-1.1-1.8-1.3-1.7-1.4-1.4-1.7-1.3-1.8-1.2-1.8-1.1-1.9 2.6-1.2 2.1 0.8 2.4-1.4 2.3 1.8 2.6-0.5 2.2 0.8 2.4-0.9 2.6 0.1 2.5-1.1 1.8 0.8 2.4 0.7 2.6-0.3-1.1 0.3-2.6 0-2.4 0.6-2.2-0.5-3.1 0.9-2.1-0.2-2-0.2-2.5-0.4-2.9-1.7-2.1 0.2-2.3 0-2.6 0.2-2.5 0-2.2 1.5-2.9-1.7-1.1 1.3-3.1-1.5-2.7 0.2-2.1 0.2-2.4 1.1-2.5 0.1-2.2 0.1-1.9-1.2 2.1 1.4 2.8 0.8 2.2-0.9 2.7 0.3 1.7-0.1 3.1-0.5 1.9-0.3 2.6 0.8 2.2-1.5 2.6-0.3 2.8-0.2 2.3 0.8 1.6-0.8-1.8 1.3-2 0.9-2 0.9-2 0.9-2.1 0.7-2.1 0.7-2.1 0.5-2.2 0.3-2.2 0.2-2.2 0.3-2.2 0.2-2.2 0.1-2.1-0.2-2.2-0.7-1.8-1.1-1.5-1.6 1.5 2 0.2 2.5-1.4 2.6-0.6 2.7 0.1 3.1 0.2 1.1-0.3 2.4 0 2.3 0.2 3.2-0.1 2.3 1.3 2.2-2.1 2.6 0.8 2.2 0.5 2.4 0.5 2.8 0.5 1.8-1.1 3.1 0.6 1.3-0.6 2.7 0 3 1.1 2.3-0.6 2.8-0.6-1.4 2.6-1.4 2.3 1.8 2.7 1.3 3-0.6 1.9-1.8 0.5-2.2 0.5-2.1 0.7-2.1 0.9-2 1.1-1.9 1.3-1.8 1.6-1.4 1.9-1.2 1.9-1.1 2-0.9 2.1-0.8 2.1-0.5 2.2-0.2 2.2-0.2 2.2-0.2 2.2-0.2 2.2-0.1 2.2 0 2.2 0.1 2.1 0.5 2.1 0.7 2 0.8 2.1 0.7 2.2 0.5 1.3 0.5-2.2 0.1-2.2 0.2-2.1 0.5-2.1 0.7-2 0.9-1.8 1.3-1.4 1.7-1.3 1.8-0.8 2.1-0.5 2.1-0.5 2.1-0.2 2.2-0.1 1.8-1.4-1.6-1.4-1.7-1.5-1.7-1.8-1.3-1.9-0.9-2.2-0.6-2.1-0.3-2.2-0.4-2.2-0.5-2-0.8-2.1-0.7-2.2-0.4-2.1-0.6-2.1-0.5-2.1-0.8-1.9-1.1-1.8-1.3-1.4-1.6-1.2-1.9-1.1-1.9-1-2-0.9-2 1.9-1.1 1.7-1.5 1.4-1.6 1.3-1.8 1.3-1.8 1.1-1.9 0.7-2.1 0.1-2.2-0.5-2.1-1-1.9-1.5-1.7-2-1-2.2-0.2-2.1 0.6 0.7-2.4 0.2-2.7-0.1-1.6 0.1-2.6 0.8-2.8-1 3 2.5-0.1 2.7-0.2 2.4-0.1 2 0.5 2.4-0.3 3.3-0.3 1.6 0.1 2.1-0.2 2.9 0.6 1.9-2.6 3-0.4 2.1 1 2.4-0.8 2.1 0.6 3.1 0.3 2.2 0.9 2.7-0.4 1.8-0.5 2.8-0.7 2.7 0.2 1.9 1.1 2.4 0.4 1.1-2.2-2 0.7-2.2 0.2-1.4 1.7-1.1 1.9-0.6 2.1-0.4 2.2 0 2.2 0.1 2.2 0.4 2.2 0.6 2.1 0.8 2 1.2 1.9 1.6 1.5 1.7 1.4 1.5 1.6-1.1-2.4 0.7-3-0.2-1.3 0.1-2.4-1.4-2.8 1.1-2.4 0.2-2-1.3-3 1-1.9-0.2-3.1 1.7 0.1-2.3 0.3-2.7 0.8-2.6-2.4-2.6-0.3-1.8 0.2-2.5 0.7-2.4 0.3-2.9-0.4-1.6-0.7-2.9-0.3-1.7-0.6-3.3 0.5-2.2 1.5-2.1-0.9-1.8 0.6 2.1 0.7 2.1 0.7 2.1 0.8 2 0.8 2.1 0.8 2.1 0.5 2.2 0.3 2.2 0.3 2.2 0.1 2.2 0.2 2.1 0.4 2.2 0.5 2.1 0.5 2.1 0.6 1.9 1.1 1.7 1.5 1.1 1.9 0-2.7 0.9-2.2 0.4-2.6-0.5-1.7-2-2.8 0.5 3.4-2.4-1.6-1.8-0.7-2.8-0.9-2.5 0.4-2.2-0.9-2.7 0.3-1.8 0.5-2.9-0.4-2 0.7-2.6 0.2-1.8 0.1-3.1-0.9-2.2-0.6-2.2 0.5-2.4 0.8-1.9 1-3.2 0-1.7-0.2-2.8 0.7-2.8-0.1-2.3-2-2.1 1.9 2.2 0.1 2.1 0.1 2.2 0.4 2.2 0.4 2.1 0.6 2.1 0.7 2 0.8 2 0.9 2 0.9 2.1 0.8 2.1 0.5 2.2 0.5 2.1 0.5 2.2 0.1 2.2 0 2.2 0.2 2.2 0.1 2.2 0 2.2-0.2 2.2-0.2 2.2-0.4 2.1-0.6 2.1-0.7 2-0.8 1.9-1.1-1.2 1.9-1.1 1.9-1.1 1.9-0.9 2-0.9 2-0.7 2.1-0.8 2-0.8 2.1-0.8 2-0.5 2.2-0.6 2.1-0.7 2.1-0.8 2-0.7 2.1-1 2-1.1 1.9-1.3 1.8-1.3 1.7-1.4 1.8-1.3 1.7-1.2 1.9-1.2 1.8-1.2 1.8-0.9 2-0.7 2.1-0.6 1.7-0.6-2.1-0.4-2.2-0.4-2.1-0.3-2.2-0.4-2.2-0.5-2.1-0.4-2.2-0.5-2.1-0.6-2.1-0.7-2.1-0.6-2.1-0.7-2.1-0.6-2.1-0.4-2.2 0-2.2 0.4-2.2 0.4-2.1 0.6-2.1 0.9-2.1 1.1-1.9 1.4-1.6 1.7-1.5 2-0.9 2.1-0.6 2.2-0.2 2.2 0.2 2.2 0.4 2.1 0.5 2.1 0.6 2.2 0.4 2.2 0.2 2.2 0 2.1-0.6 2.1-0.7-2.2-0.6-2.1-0.3-2.2-0.1-2.2 0-2.2 0.2-2.2 0.4-2.1 0.5-2.2 0.5-2.1 0.3-2.2 0.6-2 0.9-1.9 1.1-1.9 1.1-1.6 1.5-1.8 1.2-1.8 1.3-1.9 1.2-1.8 1.3-1.9 1.1-2.1 0.6-2.1 0.4-2.2-0.2-2.1-0.6-1.9-1.2-1.5-1.7-1-1.9-0.8-2-0.5-2.2-0.5-2.1-0.5-2.2-0.4-2.1-0.2-2.2-0.2-2.2 0-2.2 2.4-0.3 2.5 1.5 2.5 0.2 2.2 0.1 1.8 0.7 3.6 0.3 2.1 0.4 2.4-0.5 2.1 0.5 2.4-0.5 2.9 0.6 1.6-0.8 3.1-0.1 2 0.2 2-1.1 2.8 0.7 1.7 0.5 3.1-1.1 3.1 0.2 1.6-0.1 2.7 1.3 2.3-0.8 2.2-1-1.5 0.5 1 2.4-0.7 2.5 0.8 1.9-0.6 2.1-0.3 2.4-0.8 3-0.2-2.4-0.8-3 0.1-1.6 1.3-2.4 1.1-2.7 0.3-1.8 0.1-2.9-2 0.2-2.7-0.1-1.7 0.1-3.2 0.9-2.6-0.5-1.5-0.4-2.8 1.5-2.8 1.6-2.3 0.2-2.2 0.6-2.5-0.8-2 0.3-3 0.5-2.3-0.2-2.5-1.3-2.2-0.5-1.4-1.7-3.6 0.2-2.1 0.2-2-0.2-2.6 1.1-2.4-1.5-2.9 0.5-2.3-0.3 0.5 1.9 0.9 2.6-0.7 2.4 2.2-0.4 2.1-0.5 2.2-0.1 2.2-0.1 2.2 0.1 2.2 0.1 2.2 0.2 2.2 0.1 2.2 0 2.2-0.2 2.2-0.3 2.1-0.6 2-0.7 2.1-0.9 1.9-1 2-0.9 2-0.9-1.4 1.7-1.4 1.7-1.6 1.4-1.8 1.3-1.9 1.2-1.8 1.2-2 1.1-1.9 1-2.1 0.7-2.2 0.3-2.2-0.1-2.1-0.3-2.2-0.4-2.2-0.5-2.1-0.5-2.1-0.5-2.2-0.5-2.1-0.6 1.4 2.7-0.6 2 0 2.4-1.3 2.6 0.3 2.8-1.3 2.2 0.7 2.2 0.4 2.5-0.2 2 0.5 2.6 0 2.5 0.9 3 0.3 2.2 0.3 2.1 0.6 1.6 0.8 3 0.4 2.5-0.5 1.9-1.4 3-2.2 1.6 1.7 0.4 2.6-0.6 2.7 0 2.2-0.8-2.1-0.4-2.7 0.5-2.3 0.8-1.1 1.2 0.1-3-1-2 0.6-2.3-0.2-2.9-0.1-2.4-0.3-2.9 0.5-1.8 1.3-2.2-1.5-2.5 0.7-2.7 0.5-1.9-0.3-2.6 0-2.6-0.5-2.2-0.1-2.1 1.7-3.5-0.7-1 0.4 2.2 0.1 2.2 0 2.2-0.4 2.1-0.6 2.1 2.1 0.7 2 0.9 1.8 1.3 1.6 1.5 1.3 1.8 1.1 1.8 1.1 1.9 1.1 1.9 1.2 1.9 1.1 1.9 0.9 2 0.8 2.1 0.5 2.1 0.3 2.2 0 2.2 0 2.2-2.7 0-2 0.7-2.6-0.3-2.4 0.6-1.6-0.7-3-1.4-2.6 0.5-1.1 0.7 0-2.9-0.3-1.8 0.5-1.6-0.4-3.1-0.3-2.3 0.9-2.7 0-2.3 0.4-2.4-0.9-2.5 0.3-2.6 0.2-2.9-0.4-1.9 0.5-2 0.8-2.3 2-2.9-1.1-1.7-1.1 1.8-0.4 2.5-0.6 2.5-0.6 2.5 1.6 2.7-1 2.2-0.5 2.4 0.3 2.2-0.3 2.8 0.8 2.7 0.5 1.7-0.6 2.8-0.3 1.8 0 3.4 0.8 2.2 2.3 2.6-1.3-2.7 2.2-0.1 2-0.4 2.7 1.2 2.3 1.8 2.1-0.3 3.5-0.5 1.7-0.1 3-0.1 2.1 0.8 2.3 0.3 2.4-1.5-2.3-0.4-2.7-0.2-2.1-1.1-3.2 0.2-2-0.9-2.6 0.6-2.1-0.4-1.7 1.6-2.8-0.2-2.7-0.2-2.6 0 0.2 2.4 0.2-2.9-0.9-2.1 2.4-2.9-1.1-1.6 0.8-2.8 0.4-1.8 0.6-3.4-2-1.3-0.2-3 0-2.2 0.4-2.7 0.4-1.9-0.6-2.3 0.4-3 0.8-2.2-0.1-2.4 0.9-2.3-0.6-2.3 0-1.9 0.6-3.1-2.2-2.6 0.5-2.7-1.5-2.3 0.2-1.5 1.8 1.4 2.8-0.6 2.1-0.8 2.8 0.9 1.5 0.3 2.6-0.5 2.4 1.1 2.2 1 2.8 0 3.1-0.9 2.9 1.2 1.7-0.9 2.8 0.2 2-0.3 2.7-1.1 2.1-0.1 2.9 0.5 2.1 1 2.1-1.3 2.3-0.5 2.6 0.2 2.6 1.7 2.3-1.3-0.1 0.1 0.4 1.9-0.6 3.4-0.4 2.8-0.8 1.8 0.6 2.3-1.8 1.2-1.9 1.2-1.7 1.3-1.5 1.6-1.4 1.7-1.4 1.7-1.3 1.8-1.3 1.7-1.3 1.8-1.5 1.6-1.5 1.7-1.3 1.8-1.1 1.8-1 2-1 2-0.9 2-0.7 2.1-0.8 2-0.7 2.1-0.7 2.1-0.6 2.1-0.4 2.2-0.7 2.1-0.8 1.8 3.3-1.7 1.7-0.5 2.4-1.3 2.2 0.5 2.5-0.1 1.9 0.6 3 0.3 2.1 0.5 2.9-0.4 1.4-0.4 2.5-0.9 2.9 1.8-2.5 0.1-1.5-2 0.8-3.2 0-2.4-0.5-2.2 1.8-2.2 0-2.3 0.5-2.9 1.1-2.1 0-3.1 0.4-1.9 0.4-2.1-0.7-2.7 0.6-2.1-2.3-2.5 0.1-2 0.3-2.6 1.9 2.2-0.3 2.2-1.4 2.6-0.3 2.5-0.9 2.7 0.7 2.4-0.5 2 1.1 3.1-2.4 1.6 1.2 3.2 1.3 1.8 0.5 2.7 0.6 2.4-0.2 2.5 0.6 1.8-0.2 2.8 0.2 0.7-3.3 0-2.5-0.9-1.5-1.7-2.4 0.7-2.7-1-1.7 0.2 2.8 0.1 2.6 0.1 1.8-0.1 2.3-0.1 2.2 2.1-0.6 1.5 0.3-2.2-1.1-2.8 0.9-2.6-0.7-2.2-0.3-2.4 0.2-2.5-0.3-2.4 0.6-2.6 0.7-2.5-1-2 1.5-1.7-0.3-2.6 0.5-2.9 0.3-2.4 0.5-2 0.6-2.5 0.6-2.8-0.8-2.2-0.8-2.8-0.2-1.9 1.3-2 0.5-2.6-0.5 2.2-2.2-0.3-2.2-0.3-2.1-0.3-2.2-0.2-2.2 0-2.2 0-2.2 0.2-2.2 0.1-2.2 0.3-2.2 0.1-2.2-0.1-2.2-0.4-2.1-0.5-2-0.9-1.9-1.2-1.9-1.1-1.8-1.3-2.7 1.7-2.4 0.3-1.7 0.5-3 0.6-2.5-0.9-1.6 0.3-2.4-1.4-2.3 0.4-1.1-1.9-1.2 3 1.2 1.5-0.4 3.1-0.3 2.2 0.3 1.8-0.9 3 0.4 1.8-0.1 3.5-0.4 2-0.1 2.1 0.5 2.9 0.7 1.3-0.7 2.6-0.1 3.2 0.5 1.7-0.9 3.1 0.3 2 0.3 2.5-0.1 2.7 0.2 1.4 2.1-0.6 2.2-0.2 2.2-0.2 2.2-0.2 2.2-0.2 2.2 0.1 2.1 0.5 2.1 0.8 1.9 1.2 1.7 1.4 1.6 1.5 1.5 1.5 1.5 1.7 1.4 1.6-0.3-2.1-0.7-2.1-1.1-1.9-1.5-1.7-1.6-1.4-1.8-1.3-1.6-1.5-1.4-1.7-1.4-1.8-1.3-1.7-1.4-1.7-1.5-1.6-1.4-1.7-1.5-1.6-1.4-1.8-0.9-1.9-0.8-2.1-0.5-2.1-0.6-2.1-0.8-2.1-1-2-1.2-1.8-1.2-1.8 1.8 1.3 1.9 1.1 2 0.7 2.2 0.6 2.1 0.6 2.1 0.4 2.2 0.3 2.2 0.3 2.2 0.2 2.2 0 2.2-0.2 2.2-0.2 2.1-0.4 2.2-0.3 2.2-0.4 2.1-0.5 2.1-0.7 2-0.9 2.1-0.8 2-0.8 2-0.9 2.1-0.7 2.1-0.6 2.1-0.8 2.1-0.7 2.1-0.5 1.9-0.6 0.3 2.7 0 2.3-1 1.5 0.1 4.1-0.4 1.4 1 2.5-0.2 2.3 0.8 2.4-1 2.4 0.4 2.9 0.4 2-0.4 2.6 0.3 1.9-2.2-0.5-2.1-0.7-2.1-0.6-1.9-1.1-1.6-1.5-1.4-1.7-1.1-1.9-0.7-2.1-0.2-2.2 0.3-2.2 0.6-2.1 1-1.9 1.6-1.6 1.9-1.1 2-0.8 2.2-0.4 2.2 0.1 1.2 0.5-2.2-0.4-2.1-0.7-2.1-0.6-2.1-0.4-2.2-0.4-2.2-0.1-2.2 0.2-2.1 0.6-2 0.9-1.7 1.4-1.5 1.7-1.3 1.7-1.3 1.8-1.4 1.7-1.7 1.4-1.8 1.2-2.1 0.8-2.1 0.6-2.2 0.3-2.2 0.1-2.2-0.1-2.1-0.3-2.1-0.7-2.1-0.6-2.1-0.7-2.1-0.7-2.1-0.6-2.2-0.3 2.1 0.6 2.1 0.7 2.1 0.5 2.2 0.6 2 0.7 2.1 0.8 2.1 0.7 2 0.9 1.9 0.9 1.8 1.3 1.8 1.4 1.6 1.4 1.6 1.6 1.7 1.4 1.8 1.3 1.8 1.2 1.8 1.2 2 1.1 1.9 1 1.9 1.1 1.9 1.1 1.9 1.1 1.8 1.3 1.7 1.4 1.7 1.4 1.7 1.3 1.9 1.1-1.4-1.7-1.3-1.8-1.3-1.8-1.1-1.9-0.9-2-0.6-2.1 0.1-2.2 0.6-2.1 1-2 1.1-1.9 1.1-1.9 0.9-2 0.8-2 0.9-2.1 1-1.9 1.3-1.8 1.3-1.8 1.1-1.7-1.6 1.5-1.7 1.4-1.8 1.2-1.8 1.3-1.7 1.4-1.7 1.4-1.5 1.6-1.4 1.7-1.2 1.9-1.1 1.9-0.9 2-0.9 2-0.9 2-1.2 1.8-1.4 1.7-1.4 1.7-1.6 1.6-1.4 1.6-1.3 1.8-1 2-0.7 1.2 1.8-0.1 2.5 0.2 3.5 0.6 2.1-0.1 1.8-0.6 3.1 0.3 1.5-0.4 2.6 1 2.1-0.5 3.1 0.1 1.9-0.2 2.2 0.6 0.2-2.9 0-2.1-0.1-2.3-1-3.1-0.3-2.2-0.9-2.8 0-1.9 1.4-2.6 0.5-2.5 0.6-2.9 0.3-2.2-0.6-1.8-0.7-3.1 0.7-2.1-0.6-2.6 0.8-1.7 0.1-2.7-0.7-2 0.9-3.1-0.9-2.3 0.6-2.9-0.5-2.4-0.3-2 0.8 0-2.5 0.2-3.4 1-2-1.4-2.4 2.2-2.3-0.3-2.6 0.6-2.3-0.6-0.4 2.1-0.6 2.2-0.7 2.1-1.1 1.9-1.5 1.5-1.8 1.3-1.8 1.3-2 1-1.9 1.2-1.7 1.2-1.9 1.2-2 1-2.1 0.7-2.1 0.6-2 0.8-1.9 1.1-1.8 1.3-1.9 1.2-1.7 1.3-1.7 1.4-1.5 1.6-1.5 1.6-1.5 1.6-1.6 1.6 2 0.9 2.1 0.6 2.2-0.2 2-1 1.6-1.5 1-1.9 0.5-2.2 0.2-2.2-0.5-2.1-1.2-1.8-1.8-1.3-2.2-0.4-2.2 0.1-2.1 0.6-2 1" stroke="#9462c8" stroke-width="0.5" fill="none" stroke-linejoin="round"/>
<rect x="43" y="562.6" width="61.9" height="61.9" fill="none" stroke="#444" stroke-width="0.9"/>
<path d="M147.4 566.8l0.9 2 0.8 2 1.2 1.9 1.4 1.7 1.7 1.4 1.8 1.2 2 0.9 2.2 0.5 2.1 0.7 1.8 1.1 1.6 1.6 1.3 1.8 0.6 2.1 0.8 2 1.1 2 1.1 1.8 1.2 1.9 1.3 1.8 1.5 1.5-0.2 2.3 0.8 2.7-0.9 2.4 1.3 2.5-0.3 1.9-0.6 2.8 0.3 1.4 0 3.3-0.9 2.7 0.8 2.1-0.2 0.8-2.8 1-1.9-0.7-3.1-1.8-1.6-1.5-1.5-1.6-1.1-1.9-0.8-2.1-0.6-2.1-0.4-2.2 0-2.2 0.3-2.1 0.7-2.1 1.1-1.9 1.4-1.7 1.8-1.4 1.9-1 2-0.9 2.2-0.3 2.1 0.7-2.1 0.5-2.1 0.8-1.8 1.2-1.7 1.5-1.6 1.4-1.7 1.4-1.9 1.2-2.1 0.6-2 0.9-1.9 1-1.5 1.7-1.1 1.9-0.6 2.1-0.2 2.2-0.6 2.1-1 2-1.1 1.9-1 1.6-2.3-1.3-2.1 2-2.8-0.4-3-0.6-1.4 0-2.9 0.3-2.3-0.9-2.2 0.9-2.9 1-2.3-1.2-2.6 0.3-2.2-0.2-2.3 0.4 0.5-3-0.3-2 2.1-2.2-1.9-2.1 1.5-2.4 1.2-2.6-0.1-3 0.3-1.8-0.4-3-2-1.4 2.1 0.6 2.2 0.3 2.2 0 2.1-0.4 2.1-0.7 2.2-0.6 2-0.7 1.8-1.4 1.3-1.7 1-2 1.2-1.8 1.6-1.6 1.9-1 2.2-0.4 2.1 0.7 1.6 1.5 1.1 1.9 0.7 2.1 0.1 2.2-0.8 2-1.7 1.4-2.1 0.8-2.2-0.1-2-0.8-1.8-1.3-1.4-1.7-1.1-1.9-1-2-1.1-1.9-1.3-1.8-1.6-1.5-1.7-1.4-1.9-1.1-1.8-1.3-1.6-1.5-1.1-1.9-0.9-2-0.8-2-0.7-2.1-0.8-2-0.9-2.1-0.5-2.1 1.9 2.5-0.9 2.9 1.4 1.5-1.6 2.6 0.3 2.5 0.5 1.9 0.6 3.4-0.8 1.7 1 2.5 2-0.9 1.8-1.2 1.9-1.2 1.8-1.3 1.9-1.1 2-0.9 1.9-1.1 2-0.8 2.2-0.6 2.1-0.5 2.2-0.2 2.2 0.2 2.2 0.3 2.2 0 2.2-0.2 2.1-0.3 2.2-0.6 2.1-0.5 2.2-0.1 2.2 0 2.2 0.3 2.1 0.5 2 0.9 1.7 1.4 1.3 1.8 1.1 1.9 0.8 2.1 0.6 2.1 0.9-2.4-1.5-2.8 0.8-2.1 0.7-2.4-0.6-2.9 0.1-2 0.1-2.2-1.1-2.4 0.9-1.7 0-2.9-1.6 1.4-1.8-1.1 2-0.9 1.5 1.3-0.8 1.9-0.5 2.8 0.5 2.1 0.3 2.3 0.7 2.9 0.1 1.9-0.1 2.8-0.5 2 0.9 3.1-0.8 1.9-0.5 2.3-0.9 2.2 1.2 2.6 0.4 2.8-0.4 2.4-1.2 1.5 0 3.1 0.3 2.2-1.7 2-0.5-2.1 0.1-2.2 0.3-2.2 0.4-2.2 0.7-2.1 0.6-2.1 1.1-1.9-1.8-1.2-1.8-1.3-1.9-1.1-1.8-1.3-1.5-1.6-1.5-1.6-1.7-1.3-1.9-1.2-2-1-2.1-0.7-2.1-0.4-2.2 0.3-1.9 1.2-1.3 1.8-1.3 1.8-1.6 1.4-1.9 1.1-2.1 0.8-2.1 0.7-2.1 0.6-2.1 0.4-2.1 0.7-1.9 1.1-1.9 1.1-2 1.1-1.6 1.4-1.4 1.7-1 2-0.7 2.1-0.7 2.1-0.4 2.1-0.1 2.2 0 2.2-0.1 2.2-0.3 2.2-0.6 2.1-0.7 2.1 2.7-0.3 2.3-0.4 2.4 0.5 2.4-0.4 2.1-0.6 3 2.3 0.9-1.7 3.6-0.4 2.2-0.1 2-0.9 2.2-0.9 3.2 0.7 1.8-1 2.5 0.7 2.7 0.4 2.7-0.5 2.7 0.1 2.3-0.7 1.4 0.7 3.3 0.1 2.3-1.3 2.7 0.1-2.9 4.6-2-1-2.1-0.4-2.2 0.2-0.4-2.2-0.4-2.1-0.6-2.1-0.3-2.2-0.4-2.2-0.6-2.1-0.9-2-1.1-1.9-1.4-1.6-1.8-1.4-2.1-0.4-2.2 0.1-2.2 0.3-2.1 0.6-2 1-2 1-2.1 0.2-2.2-0.4-2-0.9-1.7-1.4-1.3-1.8-1.1-1.9-1.1-1.9-1.3-1.8-1.5-1.6-1.7-1.3-2-1.1-2-0.7-2.1-0.8-2.1-0.5-1.9-0.6 1.4 2.6 0.7 2.1 1.2 2.9-1.8 2.7 0.7 1.7 0 2.1 1.3 3.3 0.3 2.3-1.3 2.5 0.6 1.6 1.3 2.6 0 2.4 1.3 1.9-0.4 3.2-4.6-5.6 2.8 0.5 2.1 0 2.5-0.6 2 0.8 3.1 0.1 2.3-0.4 2.1 0.1 2.4 0.5 1.7-0.1 3.2 0.1 2.1-0.1 2.7 0.3 2.3 0.6 2.8-1 2.1 0 2.2 0.8 2.6 0.6 2.3-0.6 1.8-1 2.9 0.9 2 1.3 2.4-0.3 2.8 2.5-0.5 0-1.3-2.9-0.4-0.5 1.6-2.9 0.3-2.7 0.9-2.5 1-2.3 0-1.8 0.2-3.3-0.4-2.5-0.5-2.1-1-2.6-0.2-2.1 0.1 2.6 0 3-1.9 1.7 0.1 2.2-0.8 2.7 0.6 2-1 3.1 2 2.9-0.4 1.2 0.5 2.6-0.1 2.3 0.8 2.3 0.3-1.9-2.5 1.2-2.2 0.2-2.3 0.6-2.6 1.1-2.6-0.5-1.7-0.6-2.8-1.5-2.4-0.1-1.8 1.3-3.4-0.4-2.2 0.6-2.6-0.3 1.9-0.6 2.9 0.6 2.4-0.6 2.8 0.3 1.5 0.5 3.6-0.6 1.4-0.4 2.5 0.6 3 0.1 1.8-0.4 2.3 0.8 2.3 0.8 2-0.4-0.9-2.3 1.1-2.5-0.8-2.1-0.7-2.1-0.6-2.1-0.4-2.1-0.5-2.2-0.7-2.1-1-1.9-1.2-1.9-1.4-1.7-1.7-1.4-2-0.9-2.2-0.3-2.2 0.4-2.1 0.5-2 0.8-2 1-1.9 1-2 0.9-2.1 0.8-2.1 0.6-2.2 0.4-2.2 0.3-2.2 0-2.2 0.3-2.1 0.5-2.1 0.5-2.2 0.4-2.1 0.6-2.1 0.7-2.1 0.7-2 1-1.9 1-1.7 1.4 1.5-2.3-0.8-2.6 0.4-2.2-1.1-2.4 1.2-3-0.6-1.4-0.5-3 1.5-2.8-0.6-1.9-0.5-2.1 0.9-2.5 0.2-2.7-0.2-2.6-0.1-2 0-2.2-1.5-2.8 1.1-2.2 0.7-2.6 0.7 2.1 0.9 2 1.3 1.8 1.5 1.5 2 1 2.2-0.1 1.9-1 1.9-1.3 1.4-1.6 0.8-2.1 0.2-2.2-0.8-1.4-2.1 2.1-3.2-0.6-2 0.9-2.3-1.8-2.3-0.6-2.5 0-2.1 0 0.2 2.4 0.7 1.6 0.7 2 0.9 3.3-1.1 2.4 1.3 2.6-1.7 2.1 1.5 2.7 1.7 1.6-1.6 2.8-0.4 2.3-1.1 2.4 0.4 2.4 1.9 2.2-0.5 2.9 1.5 1.7 1.5 3.4 0.2-2.3-0.2-2.7 0.3-2.6-0.4-2.2-0.1-2.3 0.1-2.3 0-1.7 0.6-3.2-0.2-2.1-0.2-2.9-0.4-2.7 0.6-1.9-0.7-2.3 0.5-2-0.4-2.8 0-2.5 0.5-2.4-5.4 4.7 2.9-0.8 2.8-0.2 2.6-0.2 2.1-0.2 2.5 0.2 2.8 0.2 2.1-0.6 2.2-0.3 2.6-1.5 2.6 1.2 2.4 1 2.2 0.4 3-0.2 2.2 1.6 3 0.1 1.8 0.3 2.5-1.2 2.1 0.8-2.3 0.3-2.3-0.4-3.2-1.3-1.9 0.1-2.6-0.9-2-0.3-2.9 0.1-2.1 0.6-2.3-2-2.5 0.7-2.7-0.3-1.7 0.3-2.5-1.2-2.5-0.3-2.2 0.1-2.5 0.4-2.9 0.6-1.9-1.1-1.7-0.4 0.1 2.5-0.1 2.1 0.6 2-1.3 2.8 2.6 2.7-0.6 2.1 0.9 2.3-0.7 2.3 0.1 2.6 1.3 2.3 0.6 1.7 2.1 0.7 2.2 0.2 2.2 0 2.2 0.1 2.1 0.1 2.2 0.4 2 1 1.5 1.6 1.1 1.9 0.9 2 0.2 2.2-0.6 2.1-1 2-1.2 1.9-1.4 1.6-1.8 1.3-2 0.9-2 0.9-2 0.9-2 0.9-1.9 1.2-1.8 1.3-1.6 1.5-1.4 1.7-1.4 1.7-0.5-1.8 0-3.5 0.8-1.7-0.1-2.8 0.5-2-0.6-2.6-0.2-2.1-0.5-1.8 1.1-3 0.7-2.8-0.1-2.4 1.2-2.1-1-2.9 0.6-2.4-0.5-1.4 0.1-2.8-1.8-3 0.9-2.5 2.2 0 2.2-0.2 2.2-0.2 2.2 0.3 2.1 0.7 2.1 0.7 1.9 1.1 1.6 1.4 1.2 1.9 0.4 2.2 0 2.2-0.5 2.1-0.6 2.1-0.8 2.1-1 1.9-1 2-1 2-0.8 2-0.3 2.2 0.3 2.2 1.3 1.8 2 0.8 2.2-0.3 1.8-1.2 1.2-1.9 0.1-2.2-0.5-2.1-1-2-1.5-1.6-1.9-1.2-2.1-0.5-2.2 0.3-1.9 1-1.4 1.7-1 2-1.1 1.9-1 1.9-0.9 2.1-0.6 2.1-0.1 2.2 0.2 2.2 0.7 2.1 0.7 2 0.9 2.1 1.1 1.9 1.8-1.6 3.2-1.6 2.3 1 2.1-1.1 2.7 2.1 2.5 0.1 2 0.4 2.6-0.4 2.7 0 2-0.8 2.3-0.1 2.9-2.1 2.6 1 1.8-2 2 1.6 3.1 1.2 2-1.1 2.9 1.2 2.1-0.3 1.6-0.2-0.4 2.4 0.6-2-0.3-2.3-1.1-3 0.2-2-1.1-1.5-0.7-4.1-0.7-1.5-0.3-2.7 0.4-1.9-0.8-2.9-0.2-2.2 1.5-1.9-0.1-2.9-0.7-2.8 1.2-2.1-1.5-2.1-0.4-2.7 1.1-2.3 0.6-1.8-1.3-3.6 1.3-1.1 2.1-3.2-0.1-2.4 1.8 1.7-1.9-0.5-2.6 0.2-3.2 0.3-2.4 0.4-2.6-1.3-1.4 0.7-2.9-0.4-2.1 0.6-2.1 0.7-2 0.8-2.1 0.8-2 0.8-2.1 0.7-2.1 0.7-2.1 0.7-2.1 0.5-2.2 0.4-2.2 0.2-2.1 0.3-2.2 0.4-2.1 0.6-2 0.9-1.9 1.2-2 0.9-2.1 0.6-2 0.1 2 0.8 2.1 0.9 2 0.8 2.1 0.8 2 0.9 2.1 0.6 2.1 0.4 2.2-0.2 2.2-0.4 1.9-1.1 1.8-1.2 1.4-1.8 0.7-2.1-0.1-2.1-1-2-1.4-1.8-1.6-1.4-1.7-1.4-2-1-2.1-0.7-2.2 0.2-1.9 1.1-1.5 1.6-1.3 1.8-1.4 1.7-1.2 1.8-1.2 1.9-0.7 2.1-0.3 2.2-0.2 2.2 0.1 2.2 0.8 2 1.7 1.5 2.2 0.3 2-0.8 1.4-1.7 0.7-2.1 0-2.2-0.5-2.2-1-2-1-1.9-1.4-1.7-1.5-1.6-1.8-1.3-1.9-1-2.2-0.5-1.1 2.7 0.9 1.8-0.6 2.5-0.5 2.3 0.8 2.5-0.4 2.9 0.4 1.9 0.4 1.9-0.4 3.3 2.2 2.2-0.4 2.3-0.5 2.7-0.8 2 0.3 1.9 0.1 3.3-1 2.3 0.9 2 0.4 2 1.7-1.3 1.3-1.8 0.9-2 0.2-2.2-0.7-2.1-1.5-1.5-1.9-1.2-1.1-0.3 1.5-2.5-0.8-2.2-1.2-2.4 1.3-2.3-0.9-3.2 2.7-1.4-2.2-2.5-1-2 1.4-2.8-0.6-3 0.5-2.3-0.4-2 0-2.9 1.4-2.9-1.9 1.7 1.6 0.2 2.6-0.2 2.6-1 2.1 0.2 2.7 0 1.9 0.5 3.2-0.7 0.9 2 1 2 0.7 2 0.9 2.1 0.8 2 0.7 2.1 0.9 2 1.1 1.9 1.2 1.8 1.7 1.5 1.9 1 2 1 1.9 1.1 1.8 1.3 1.8 1.3 1.9 1.1 2.1 0.6 2.2 0.1 2.1-0.6 1.7-1.4 1.1-1.9 0.3-2.2-0.4-2.2-1-1.9-1.4-1.8-1.2-1.8-1-2-0.5-2.1-0.4-2.2-0.5-2.1-0.7-2.1-0.5-2.1-0.4-2.1-1.2 1.8-1.2 1.9-1.4 1.7-1.5 1.6-1.8 1.3-1.9 1-2.1 0.5-2.2 0.1-2.2-0.3-2.2-0.5-2.2-0.1-2.2 0-2.1 0.4-2 1-1.5 1.6-1 2-0.4 2.2 0.4 2.1 0.7 2.1 1.4 1.7 1.6 1.5 1.6 1.5 1.6 1.6 1.6 1.5 1.4 1.7 1 1.9 0.6 2.1-0.1 2.2-0.7 2.1-1.4 1.7-1.9 1.2-1.8 1.2-1.7 1.3-1.5 1.7-1.4 1.7-1.8 1.3-1.9 1-2.1 0.8-2.1 0.4-2.2 0.3-1.4 0 1.8-1.2 1.6-1.6 1.3-1.7 1.2-1.9 0.8-2 0.5-2.2-0.1-2.2-0.4-2.1-0.9-2-1.1-2-1.6-1.4-2-0.9-1.1-1.1 3.9-2.8 0.5-2.4-0.7-1.6-0.6-3.1-0.9-2.3-2-2.3-0.6-3.1 0.8-1.5 0.7-2.9 0.6-2.1 0.4-2.7 0.1-2-0.7 2.9 2.9 0.5 1.7-0.5 2.8-0.9 2-1 2.6 0 2.9 1.5 1.5-1.6 3.3 0 2.5 0.6 2 0.5 2.8 0 2-0.4 2.7 0.7 2.7-1.9 2.9-0.1 2.1 0.2 2.3-0.2 2 0.2 2.5-0.1 2.7 0.7 2.4 0.7 2.3 1.2-1.8-3.2 0.9 1.8-1.3 2.8 0.5 3.1-0.3 2.1 0.7 2.2-0.4 1.6 0.4-1.9 1.8-2.9-0.4-1.6-2.5-3 0.5-2.6 4.2 2.8-3.5 0.8-1.6 0.3-2.3 1-3.2-0.5-2.3-0.1-1.8 0.3-2.7-1.7-2.7 0-2.3 1.2-2.3-0.5-2.5-1.6-1.6 0.1-2.4 0.5-3.7-0.2-1.6-0.2-2.3-0.7-2-0.5-3.1-0.3-2.4 0.5-2.1-0.5-2.7-0.6-1.8 2-2.6-0.6-1.7 0.8 3.6-1.1-0.5 1.7-0.2 2.7 0.6 2.5 0.7 1.7-0.6 2.6 0.5 2.8-0.4 1.4 1.2 2.4 0.2 2.5-0.7 2.4-0.5 2.3 1.4 2.8-0.8 2.5 1 2-0.5 3 0.2 2.1-0.7 2.5 0 2-1.6 2.3-0.4 3.5 0.8 1.8-0.2 3-1.7 1.9 0-2.9 2.5 0.8 2.2-1.3 2.5 0.7 1.8-0.7 2.9 0.8 2.1 0.7 2.8-1.3 1.8-1.2 2.8-0.8 2.8 0.1 2.1-0.4 2.5-0.2 2.2-0.5 2.4 0.4 2.5 0.3 2.5-0.5 2.4 0.1 1.5 1.4 3.8-1.8 1.5-0.2 2.4 2.2 1.8 0.1 2.9-2.1-5.7 4.9 0.6-2 1.6-2.9-1.5-1.7 0.5-3.9 0-0.8-0.1-3.2 0.3-2.4-1.1-1.6 2.3-2.8 0.2-3-0.9-2.3 0.7-2.4-0.7-2.9-0.6-1.7-0.8-2.4 0.6-2.2 0.3-2.5 0.6-1.8 0.7-3.3 0.3-2.5-0.5-2-0.4-2.6-0.1-3 3.1 5.2-2.5 0.8 0.6-2.1-0.9-2.8 4.5 3.7-4.7-2.4-1.1 0.7-2.9-0.5-1.9-1.6-3.1 1.2-2.4-0.7-2 0.9-1.6 1.7-3.2-0.8-2.5 0.4-2.3-0.4-1.9 0.3-2.6 1.1-2-0.5-2.3 0.4-2.3 0.7-2.9-1.4-2.2 0.4-2.5-0.7-2.3 1.2-2.5-1.1-1.7-0.1-2.8-0.4-0.1-3.1 0.6 2.7-1.6-0.6 0.4 0.3 1.4 2.3 0.1 1.9-0.4 1.8-2.1 3 0.9 2.6-1.2 2.5-0.2 2.2 0.2 2.7 0.5 3-0.3 1.6-0.2 2.6 0.5 2.6-0.1 2.4-0.5 1.7 0.6 3.2 0.7 1-0.3 3.4-0.1 2.3-1.1 3.3 0.6 1.6 0.4 2.6 1.2 3.1 0 1.9 0.2-2.8 2.6 1.1 1.4 1.4 1.4-1.6 1.3-1.8 1.5-1.6 1.7-1.4 1.7-1.3 1.9-1.3 1.6-1.4 1.6-1.6 1.6-1.4 1.8-1.3 1.6-1.6 1.2-1.8 0.8-2.1 0.4-2.1-0.5-2.2-1.2-1.8-1.5-1.7-1.6-1.5-1.6-1.5-1.6-1.5-1.7-1.3-1.9-1.2-2-0.8-2.2-0.5-2.1-0.4-2.2-0.3-2.1-0.6-2.1-0.9-1.6-1.2 0.8 2.1 2.2-0.3 2-0.9 1.8-1.2 1.6-1.5 1.3-1.8 1.3-1.8 1.4-1.7 1.7-1.4 1.9-1.1 2-0.8 2.2-0.3 2.2 0 2.2 0.2 2.2-0.1 2.1-0.8 1.6-1.4 1.3-1.8 0.8-2.1 2.2 2.9 3 0.4 2.2-1.5 3.1 0.8 1.4 0.3 3 1.2 1.7-1.5 3.4 0.7 1.5 0.2 2.5-0.4-4.5-3.1 0.4 2.8 0.2 2.3 0.5 2.7-0.1 2.5-0.7 1.9-0.7 2.1 1 2.8-0.5 2.7 0 1.7-0.2 3.2-0.6 2.9 0.2 1.8 1.1 1.5-1.3 3.7 0.6 1.4-2.2-0.2-2.2 0.2-1.7 1.3-1 2-0.2 2.2 0.3 2.2 0.3 2.1 0.2 2.2 0.3 2.2 0.8 2 1.2 1.9 1.7 1.4-1.9-2.5-3.1 1.4-1.5-0.5-3-1.1-2.4 0.7-2.4-1.4-2.2 1-2.5-0.3-2.3 1.1-2.9-0.3-2.7 0.4-2.4 1.1-1.8-1.3-3 0.3-1.9 0.7-2.1 0.7-2.2-0.7-3.5-0.1-2 1.3-2.5 0.8-1.3-0.6 1.1-3-0.3-1.6 0.5-2.7-1.1-2.5 1-1.5-1.5-2.7 0.7-3.1 1.4-2.5 0-2-1.7-2.7-0.2-2.7 1.2-1.7 1.3-2.4 0.4-1.9 1.1-3.1-0.7-2.4-0.8-2.5-1.1-2-0.5-2.6-0.1-1.5 0.9-3 1.6 1.5 1.9 1.1 2.2 0.2 1.9-0.9 1.3-1.8 0.4-2.2-0.5-2.1-1.4-1.7 1.7 1.3 1.7 1.5 1.4 1.7 0.8 2 0.7 2.1 0.7 2.1 0.6 2.1 0.9 2 1.2 1.8 1.6 1.5 1.9 1.3 1.8 1.2 1.8 1.3 1.6 1.5 1.4 1.6 1.4 1.8 1.3 1.7 1.5 1.6 1.5 1.6 1.4 1.8 1.1 1.9 0.6 2.1 0.5 2.1 0.1 2.2-0.1 2.2-0.6 2.1-1.2 1.9-1.7 1.4-1.9 1-2.1 0.7-2.1 0.7-2.1 0.7-2.2-0.1-2.2-0.3-2.1-0.3-2.2 0.1-2.2 0.5-1.8 1.2-1.5 1.7-0.8-2.1-1.3-1.7-1.5-1.6-1.5-1.6-1.5-1.7-1.3-1.7-0.8-2.1-1-2-0.9-1.9-0.6-2.2 2.5-2.3-2-2.3 1.5-2.7-0.2-1.9-0.4-3.4 1.4-1.6-0.4-1.9 0.7-3.4-1.1-1.9 1.3-2.6 0.1-2.6 1.4-2.2-0.7-2.6-1.1 2.2-0.2 2.6 0.8 2.7-2.3 2.1 1.2 2.5-0.6 1.7-0.5 2.6 0.7 2.4-2.4 2.9 0.9 2.5-0.4 3-0.4 2-0.7 2.4 1 2.2 0.4 3.2 0.9 1.4-1.1 2 0.9 3.1 0.9 2.2-0.7 2.4 0.6 2.5-1.3-2.1 2.1-2.9 2.7 0.1 1.7-0.1 2.3 0.7 2.6 0.5 3.2 0.1 1.7-0.3-2.5-1.7-2.2 1.1-2.8 0.8-2.2-0.4-2.4-0.8-2.9-0.3-1.8 0.4 3.3 4.5-1-2.4 1.4-2.7-1.4-2.4 0.8-2.1-0.2-2.3-0.3-2 0.2-2.1 1-3.3-0.1-2.3 0.5-2.3 0.4-2.4 0.1-2.3-0.4-2.5-0.4-2.9-0.4-1.7-0.6-2.6 0-2.8 0-2.2-0.7-2.5 0.6-2.8 0.3-2-0.5-2.9 0.6-1.9-3.8 2.9 2.6-1.6 2.4 0.2 2.6 0.6 2.4-0.3 2.3 0.6 2.2-1.2 1.9 0.8 2.8-0.2 2.3 0.9 2-0.8 3.2-0.6 2.2-0.2 2.6-0.2 2.5 0.4 2.1-0.5 2.1 0.1 2.3 0.5 2.3 1.2 2.5 0.7-2.5-0.1-2.1 1.2-2.5 0-2.8 0-1.8 0.5-2.3-0.4-2.3-0.1-3 0.4-2.1-0.1-2.6-0.4-2.9 0.3-1.3-0.1-3-0.2-2.2-0.1-2.8 0-2.5 0.2-2.1-0.2-2.2-0.6-2.5-1 2.8-2.3-0.3 2.3 0.3 2.2-1 2.8-0.2 2.2 0 2.8-0.4 1.8-0.6 2.2-0.6 2.8 1.2 1.9 1.3 1.8 1.7 1.4 1.9 1 2 1 2 0.8 2.2 0.3 2.2 0.4 2.1 0.5 2.2 0.5 1.8 1.2 1.4 1.8 0.9 2 0.3 2.1-0.6 2.2-1.4 1.7-1.6 1.4-1.9 1.2-2 0.9-2 1-2 0.7-2.2 0.3-2-0.9-1.5-1.6-0.9-2-0.1-2.2 0.3-2.2 0.5-2.2 0.7-2.1 0.5-2.1 0.5-2.1 0.4-2.2 0.5-2.1 0.4-2.2 0.3-2.2 0-2.2 0.1-2.2 0.7-2.1 0.9-2 1.1-1.9 1.4-1.7 1.9-1.2 2.1-0.3 2.2 0.2 2.2 0.3 2.2 0.1 2.1 0.5 2 1 1.9 1.1 1.6 1.5 1.3 1.7 1 2 0.4 2.2 0.4 2.2-0.1 2.2-0.3 2.2-0.9 1.9-1 2-1.3 1.8-1.7 1.4-2.1 0.7-2.2 0-2-0.7-1.7-1.4-1.3-1.8-0.5-2.2-0.1-2.2 0.2-2.2 0.6-2.1 0.4-2.1 0.3-2.2-2.7-13.9-2.7 0-1.6 0.1-2.1-0.3-2.4-0.3-2.7 0.4-3.2 0.3-1.5 0.7-2.4 2.4 3.6-2.5 1 2.7 1 2.3-0.2 2.7-0.1 2.1-1 2-0.2 3.2 1.6 2.3-1.1 2.1 0.8 2.7 0.4 2-1.7 2.5-0.9 2.3 1.6 2.3-1.6 3.3-0.1 1.8 0.3 2.9 1.3 1.5 1.5-1.6 1.3-1.8 1.2-1.8 1.2-1.9 1.2-1.8 1.5-1.6 1.4-1.7 1.3-1.8 1.4-1.7 1.8-1.3 1.7-1.4 1.4-1.7 1.5-1.6 1.8-1.3 2.1-0.6 2.2-0.2 2.2 0 2.1 0.5 2.1 0.6 2.1 0.7 2.2 0.5 2.1 0.5 2.2 0.2 2.2 0.4 2.1 0.6 2 0.9 1.9 1.1 1.8 1.2 1.8 1.4 1.1 1.2-0.7 2.8-0.7 1.9 0.3 2.2 0.9 2.5-0.6 2.9-1.1 1.8-1.6 2.4 0.2 2.8 0.3 2.8-1.6 2.2 2.6 2.2 2.4-0.4-2.1-0.4-2.7-0.5-2.8-0.3-2 0-1.6-0.1-2.2 0-2.6-0.1-2.5-0.9-2.5-0.2-2.2-0.6-2.6 0.8-1.9 1.7-2.3 0.1-3.4-0.8-1.5 0.4-3 0.9-2.2-0.2-2 1.5-2.8-1-1.8 0.2-3.4-0.9-1.8-0.3-2.7 1.2-2.1-0.1 0.2 0.7 0.2-2.3 1.6-1.3 0.2-4 2.5 2.7-1.8 2.6 1 1.9-4.5-3.3 2.1 0.4 2 0.4 2.4-0.1 2.4-0.2 3.2 0.2 2.4 2.3 2-1 2.7 0.3 1.7 0.7 2.4-1.3 3.1 3.2 2.3-2.5 2.1-1.4 3 1.7 1.8 1.3 2.5 1.3 2.2 0.4 2.9-1.7 2.3 0.5 1.8 0.2 3.3-0.8 2.7-0.4 2.2-1.6-2.9 3 0.5-2.8-1.1-1.8 0.8-3-0.3-2.3-0.7-2.2-0.1-2.8 1.1-2.7 1.1-2.4-0.4-2.3 0.5-1.7-1.2-2.2-2.2 0.4-2.1 0.3-2.2 0.5-1.9 1.1-1.9 1.1-1.9 1.1-2.1 0.8-2.2 0.2-2.2 0.1-2.2-0.1-2.1-0.6-2.1-0.6-2-0.8-2.2-0.5-2.2 0.1-2.1 0.5-1.9 1.1-1.3 1.8-0.9 2-0.9 2-0.7 2.1-0.6 2.1-0.3 2.2 0 2.2-0.2 2.2-0.5 2.1-0.7 2.1 0.5-2.1 0.5-2.2 0.6-2.1 0.8-2 0.8-2.1 0.7-2.1 0.9-1.9 1.2-1.9 1.4-1.7 1.5-1.6 1.7-1.4 1.8-1.2 2-1 1.9-1 1.9-1.2 1.8-1.3 1.6-1.4 1.7-1.5 1.7-1.4 1.7-1.4 1.8-1.3 1.7-1.3 1.8-1.2 2.2-0.6 2.1 0.1 2.2 0.6 2.1 0.7 1.9 1.1 1.9 1 1.3 0.8-2.2 0.3-2.1 0.6-2 0.8-2 1-2 0.9-2.1 0.7-2.1 0.7-2 0.8-2 1-1.9 1.1-1.7 1.4-1.5 1.5-1.2 1.9-0.8 2.1-0.9 2-0.5 2.1-0.1 2.2 0.1 2.2-0.1 2.2 0 2.2-0.5 2.2-0.8 2-1.1 1.2 2.1-1.8 3.3-1.9 1.4 1.3 2.8-0.8 2-0.6 2.7 0.7 2.1-0.1 3.4 0 1.4-0.7 3 1 2.2 0.7-1.7-2.6-3.3 0.8-1.9 1.8-2.7-1.1-2.3-0.9-2.4-0.9-2.5 0.5-2.6 0.9-2.6 1.8-2-0.9-2.2-1-3.3 0.1-1.9-0.8-1.8 0-2.7 1.8-2.4 0.8-2.6 0.9-2.1 0.4-2.3 0.3-2.5-0.3-2 0.9 2-1 2.7 0 2.5-0.1 1.9 0.9 3.6 0.1 2.1-0.4 1.8 0.6 2.4 0.1 3.1-1.1 1.9 1.3 1.9-2.2 3.5 0.9 1.5-0.2 2.4 0.6 2.8 1.5 2.4-0.6 2.2-0.6 2.4-0.2-3.1 0.2-2.4 0.7-1.9-1-2.6 0.3-2.1 0-2.1 0.9-2.8-0.7-2 0.1-2.7 0.8-2-0.6-2.5-0.4-2.8-0.1-2-0.4-2.5 0.5-2.6-0.5-1.8 0.2-3.1 0.2-2.5-0.5-2.1 0.3-2.2 0.5 0.4-2.4-0.3-2.5-0.4-2.4 1.1-2.6-1-2.3 0.8-2.1 0.7-2.1 1.6-1.6 1.6-1.4 1.7-1.5 1.6-1.5 1.4-1.7 1.5-1.6 1.6-1.5 1.7-1.4 1.7-1.4 1.5-1.6 1.5-1.6 1.5-1.7 1.1-1.9 0.8-2 0.5-2.1 0-2.2-0.4-2.2-0.5-2.1-0.6-2.2-0.8-2-0.8-2.1-0.8-2-0.4-1.2 1.4 1.6 1.5 1.7 1.8 1.3 1.8 1.2 1.9 1.1 1.9 1.1 1.8 1.2 2 1.1 1.9 0.9 2 1.1 2.1 0.7 2.1 0.6 2.1 0.6 2.1 0.5 2.2 0 2.2-0.6 1.9-0.9 2.1-0.9 1.9-0.9 2.1-0.8-2.4-2.6-1.4-2.7 0.1-1.6-0.1-3.2 3.6 3.1-2.5 0.4-2.3 0.1-2.5 1-2.1-1-2.1 0.4-3 0.2-1.9 0.5-2.5-0.4-2.6-0.8-2.2-0.3-2.4 0.4-2.5 0.9-2.5-0.1-1.2 0 2-0.2 2.9-1.7 2.3-1.3 2.5 2 2.3-1.9 2.1 2.2 2.7-1.3 2.6 1 2.3-0.5 2.7-1 2.4-0.1 2.4 0.8 2.1 0.2-1.9-3.4 0 2.7-0.7 2.1 0.7 2.8-0.3 2.7 0 1.4 0.4 2.2-2.2 0.2-2.2 0.3-2.2 0.1-2.2-0.3-1.9-1-1.6-1.5-1-2-0.1-2.2 0.9-2 1.7-1.4 2-0.9 2.1-0.5 2.2-0.5 2-0.9 2.6 2.6 2.5 1.8-4.2-5.2-0.2 2 0.8 2.8 2.8 2-1.6 2.5-1 2.7-1.2 1.5 0.1 3.7 0.3 2.4 0.4 2.2 1.9 2.1-0.9 2.6 0.7 2.4 0.1 2.3-1.1 2.6-0.5 2.4-1.4 2.2 0.4 2.1-0.3 2.5-0.2 2.4 0.6 3.1 0.9 2.3-1.4 1.9 0.6 2.6 5.3-3.2-2.9 0.9-1.7-1.4-3.9 0.6-1-2-0.6-2.1-0.1-2.2 0.4-2.2 0.8-2 1.2-1.9 1.4-1.7 1.5-1.6 1.2-1.8 1-2 0.8-2 0.6-2.2 0.6-2.1-1.5 1.7-1.4 1.6-1.5 1.6-1.7 1.4-2.1 0.8-2.1 0.4-2.2-0.3-2.1-0.6-2.1-0.7-2-0.9-1.7-1.5-0.9-2-0.6-2.1-0.7-2.1-1.1-1.9-1.6-1.5-2-0.9-2.2-0.1-2 1-1.6 1.5-1.1 1.9-0.7 2.1-0.2 2.2 0.1 2.2 0.2 2.2 0.6 2.1 1.2 1.8 1.5 1.7 1.9 1 2.2 0 2.1-0.7 1.9-1.1 2.1-0.8 2-0.8 2.1-0.7 2.2-0.4 2.2-0.2 2.2-0.1 2.2 0.1 2.2 0.1 2.2 0 2.2 0.1 2.1 0.5 0.4 1.9-0.1 2.9 0.3 2.6-0.6 2.2-1.9 1.5 0.9 3.2-0.7 2.5-0.6 2.4 1.6 1.7-0.6-0.5-1.9-0.3-2.5 0.6-2.6-1.4-2.3 1.1-3.4 0.9-1.6-0.1-2.8-0.3-2.6 0-1.8-0.3-3 0.3-2.1-0.3-1.7-0.4-2.8 0.8-2.7-1.3-2.3-0.8-2.1 0.4-2.5 0.7 2.2-0.1 2.2 0.1 2.2 0.3 2.1 0.6 2.1-0.7 2.1-0.6 2.2-0.2 2.2 0.2 2.1 0.2 2.2 0.3 2.2 0.5-2 0-3.1-0.4-1.4 1.5-3.5-2.2-2.3 1.5-2.4-0.4-2.9-0.2-1.4 0.2-2.8-0.5-2.2 0.6-2.3-0.5-2.6-1.2-2.1-0.6-2.8-0.1-2.7-0.8-2 1.1 3.3 1.2 0.8-2.5-0.8-1.6 0.8-3.1 0.6-3.1 0.5-2 0.4-1.9-0.7-2.5 2.1-0.8 2.1-0.7 2.1-0.4 2.2-0.3 2.2 0.2 2.1 0.6 2.1 0.8 1.9 1 1.7 1.5 1.2 1.8 0.7 2.1 0.1 2.2-0.8 2-1.7 1.4-2.2 0.4-2.1-0.6-1.9-1.1-1.4-1.8-0.9-1.9-1-2-1.2-1.9-1.5-1.5-1.6-1.6-1.5-1.6-1.4-1.6-1.5-1.7-1.5-1.6-1.4-1.7-1.2-1.8 0 1.9-0.5 2.8 0.6 2.9 0.4 1.3-0.9 3.5 0.9 2.1-0.1 3 0.1 1.5-0.4 2.8-0.4 2.2-0.2 2.2 1.8 2.2-1.3 0.6 3.6-0.8 2.2-1.1 2.8 1 1.4-0.3 2.2-1 3.2-2 2.1 0.7 2.9 0.3 2.1 0.5 1.7-0.4 3.8 1.3 1.5 0.7 2.6-0.7 2.5 0.7 1.7-1.5 1.4-1.7 1.3-1.7 1.5-1.6 1.6-1.5 1.7-1.4 2-1.1 1.8-1.2 1.7-1.4 1.6-1.5 1.5-1.6 1.3-1.8 1.5-1.6 1.3-1.7-1.9 1.1-1.9 1.2-1.6 1.5-1.4 1.6-1.4 1.8-1.4 1.7-1.3 1.8-1.5 1.6-1.9 1.1-2 0.8-2.1 0.8-1.8 1.2-1.7 1.4-1.7 1.4-1.8 1.3-1.5 1.5-1.1-1.9-1.3-1.7-1.6-1.6-1.7-1.4-1.8-1.2-1.9-1.1-1.8-1.3-1.5-1.6-1.1-1.9-1-2-0.6-2.1-0.3-2.2 0.3-2.1 0.7-2.1 1-2 1-2 1.2-1.7 1.2-1.9 0.8-2.1 0.1-2.2 0.2-2.2 0.4-2.1 0.7-2.1 0.8-2.1 0.5-2.1 0.1-2.2-0.3-2.2-0.8-2-1.4-1.8-1.8-1.2 2.5 3.6 2.6-0.4 2.1 0.5 2.1 0.6 2.9 0.3 1.9-0.1 2.8-0.3 2.3 0.8 2.5 0.1 2-1 2.9 1 2.4-0.5 1.9-0.2 3.5 0.1 2-0.4-2.9-4.6-0.9 2.4 2 3-1.8 1.3-1.8 1.2-1.9 1.2-2 0.8-2.1 0.8-2.1 0.6-2.1 0.7-2.1 0.7-2.1 0.4-2.2 0.3-2.2-0.1-2.2-0.3-2.1-0.6-2.1-0.7-2-1-2-0.8-2.2-0.5-2.2 0.2-2 0.9-1.8 1.2-1.8 1.3-1.6 1.5-1.8 1.3-1.6 1.5-1.5 1.6-1.5 1.6-1.3 1.8-1.4 1.7 1-2.1 0.7-2.7-0.3-2.3 0.8-2.7-0.9-2 0.2-2.5 0.7-2.7-0.7-2-0.5-2.3 2.2 0.6 2 0.7 2.1 0.7 1.9 1.1 1.7 1.4 1.9 1.2 2 0.8 2.1 0.7 2.2 0 2.2 0.2 2.2 0.2 2.2 0.4 2.1 0.3 2.2 0.3 2.1 0.7 1.9 1.1 1.8 1.2 2.1 0.8 2.2 0.3 2.1-0.5 2.2-0.6 2.1-0.6 2.1-0.4 2.1-0.7 2.1-0.8 1.9-1 1.9-1.1-1.6-2.4-0.6-2.2-1.3-2.7-0.1-2.5 1.5 4.1-2.2 0-2.3 0.2-1.9-0.9-2.1-0.4-2.8-0.3-2.7-0.2-2.7 0-2-0.8-2-1.2-3.3 2.2 0 2.2-0.5 2.2-0.7 2.1-0.8 2-0.8 2-0.7 2.1-0.9 2-1.3 1.8-1.4 1.7-1.4 1.7-1.3 1.8-1.1 1.9-0.6 2.1-0.1 2.2 0.2 2.2 0.4 2.2 1.1 1.9 1.6 1.5 1.8 1.2 2 0.8 2.1 0.7 2.2 0.4 2.2 0.4 2.2-0.1 2.2-0.2 2.1-0.5 1.9-1 2-1.1 1.4-1.6 0.8-2.1-0.4-2.2-1.1-1.9-1.4-1.7-1.7-1.4-1.7-1.4-1.9-1.1-2-1-2-0.9-2-0.9-2.1-0.6-2-0.8-2.1-0.6-2.1-0.9-2-0.9-2.1-0.6-2.2-0.1-2.2 0.1-2 0.9-1.5 1.6-0.6 2.1 0.3 2.2 0.4 2.1 0.4 2.2 0.2 2.2-0.2 2.2 0 2.2 0.2 2.2 0.1 2.2-0.2 2.2 0.1 2.2 0.3 2.2 0.8 2 1.3 1.8 1.7 1.4 1.9 1.1 1.9 1.1 2 0.9 2 1 2.1-2.2 2.7-0.7 2.3-0.4 2.4 0.9 2.6 0 1.4 0.7 3.3-0.7 2.3 1.2 2.3-0.4 2.4 0 1.8-1.2 3 0.2 2-1.8 3.4 1-5.1 3.1 0-2.3 1-2.8-0.2-2.7 0.9-2.4-0.5-1.5 0.1-2.8 0.9-2.2-0.3-2.8 0.9-2.4-1.2-2.6-1.3-1.3 1.1-3.1-0.2-2.3 0-2.2-1.1-2.8-1.3-2.3 0.6-2.1 0.7-2.6 0.7-1.7 1.1-3-1.9-2.8 2-2.4-1.4-2.2 3.4 3.4-2.8-1.8-2.8 0.8-1.5 0-3.2 0.8-2.3-0.7-2 0.5-3 0.4 2.4-0.2 2.6-0.4 2.3-0.1 2.9-0.8 2.2 2 1.7-0.3 2.7-0.9-1-2.5 0.6 2.5-1 1.3-0.3 3.3-1 2.1 1.5 1.8 0 2.6 0 2.5-0.9 3.1 1.2 2.2-0.7 2.3-0.1 2.9 1 1.9 0.6 2.6-2.1-0.7-2.1-0.8-2-0.9-2-0.8-2.1-0.7-1.9-1.1-1.8-1.3-2-0.9-2.1-0.6-2.2-0.5-2.1-0.5-2.2-0.1-2.2 0.2-2.1 0.4-1.9 1.2-1.8 1.3-2 0.7-2.2 0.6-2.2 0.2-2.2 0-2.1-0.4-2.2-0.4-2.2-0.2-2.1-0.6-2.1-0.7-2-0.8-1.5-1 0.3-2.1-0.9-2.3-0.2-2.8 1.3-1.8-0.2-2.8 0.9-2.4-0.4-2 0.1-3.1 0.7-2-1.8-0.8 2.3-0.9 2.9-0.5 2.3 1.7 2 0.6 1.8-0.4 3 0.6 2.8 0.3 2.7 0.1 1.9-0.7 2.4-0.8 2.6-0.8 2.1 0.3 2.7-0.1 2.3-0.2 2.1 1.1 2.5-0.3 2.6 1.1 2.6-1.5 2.2 0.3 2.5-0.6 1.9 0.5-2 0.1-2.9-1.3-2.3 1.6-2.2-0.9-2.6 0.6-2.4-0.1-2.1-0.2-2.8 0.5-2.8 1.1-1.6-0.1-3.1 1-1.4 1.3-2.9 0.3-2.6 1.1-2.1-2.2-2.2-0.7-2.6-1.4-2.5 0.2-2.8 0.3-2.4 0.5-1.4 0.8 2.5-1.4 0.5 2.1 0.8 2.1 1 1.9 1.2 1.9 1.3 1.8 1.6 1.4 1.7 1.5 2 0.9 1.9 1.1 2 1 1.8 1.2 1.6 1.6 1.4 1.6 1.2 1.9 1 1.9 0.8 2.1 0.8 2 1.1 2 1.4 1.7 1.6 1.5 2 0.9 2.2 0.1 2.1-0.6 2-0.9 1.5-1.6 0.9-2 0.5-2.1 0.1-2.2-0.3-2.2-0.8-2.1-1.4-1.6-1.9-1.2-1.7-1.4-1.7-1.3-1.8-1.4-1.5-1.5-1.4-1.8-1.2-1.8-1.1-1.9-1.5-1.6-1.9-1.2-2.1-0.5-2.2-0.1-2.2 0-2.2 0-2.2 0.3-2.1 0.5-2.1 0.8-2 0.9-2 1-1.9 1.1-1.6 0.9 0.8 2.2-0.6 2.2-0.1 2.6 0.2 2-0.6 3.2 0.7 1.3-0.8 3.6 0.4 1.8-1 2.8 1.6 2.4-0.5 1.7 0.5 2.9 0.6 2.2 0.3 2.6-0.5 3-0.2 1.7 0.5 2.7 0.7 2.9 0.2 1.7-1.7-1.9 2.5 1.1 3.5-0.5 1.8 0 2.8 1.6 2.6 0.7 1.3-0.5 3.2 0.8 2.4-0.7 1.9 0.1 2.8-1.3 2.2-0.6 2.2-0.3 2.7 2 2.7 0.5 2.9-1 1.8 0.9 2.2-0.6 2.8 0.3 1.9 0.5 2.4-0.8 2.5-0.3 2.8 1 2.1 0-1.9-0.7 0.4-2.8 0.8-3-1.1-2.1-1-2.8 0.1-1.4 1.4-3.3 0.2-2.5-0.2-1.6-2.4-2.3-0.3-3.1-1.3-2 0.6-2.6-0.3-2.4 0-2.4-0.1-2.5 1-2.4-0.4-1.5 0.1 2.4 0.2 2.5 0.3 2.3 1.7 2.4-0.4 3-0.1 1.6 0 2.6 0 2.7 0.1 1.7 0.3 3.1 1.7 2.3-0.3 2.9 0 1.7 0.2 2.6-0.6 2.3 0.6 2.2-0.8 2.6-2 0-1.9-1.2-1.7-1.4-1.5-1.6-1-2 0.1-2.2 0.8-2 0.9-2 1-2 0.8-2 0.6-2.1 0.7-2.1 0.8-2.1 0.8-2 0.8-2.1 0.9-2 1.2-1.8-1.5 2.4-1 2.8 0.5 2 0.5 2.3 1.1 2.1-1 3.4-2 1.9 1.1 2.3-0.3 2.1-0.7 2.2 0.3 2.8-2 2.8 2.5-2.3 2.5-0.5-4.1 4.2-0.7-2.6-0.1-2.6 0.8-2-1.2-2.6 0.6-2.4 0.4-2.1-0.8-2.8 0.7-2.4 0.6-2.1 0-2.3 0.1-3.1-0.5-1.9 0.1-2.6-0.2-2.3 2.2-2.6 0-2.2 0.4-2.7-1.4-1.8 1.2-2.1 0.4-4-0.1-2 0.8-2.1-1-2.3 1.1 1.2-1.4 0.5-2.8-1.9-2.1 0.2-2.2-0.7-2.6-0.3-2.2 0.1-2.5-0.1-2.1-0.3-2.8-0.4-1.9 2-2.4 1.9-2.7-0.7-2.3 0.1-2.6 1.4-2.4-0.2-2.2-1.7-2 0.8-2.7 0-2.2 0-3 0.6-1.9-0.7-2.5 1-2.9-0.1 2.4-3 0.8 1.9 0.6 1.5-0.8 3.9-0.8 1.9-1.4 2-0.9 2.4 0.3 2.7-1.2-2.3 1.6-2.7-0.6-2.5 0.5-2.4 2.4-2.4-0.4-2.2 0.3-2.5-2.7 3.8 2.6-0.3 2.3 0.4 2.1 0.3 2.2-0.5 3.2-0.8 2.3 1.3 2.3 0.7 2.7 1.5 2-1.9 2.5 1.1 2.2-0.9-1.2 1.9-1.2 1.9-1.3 1.7-1.8 1.3-2.1 0.7-2.1 0.4-2.2 0.2-2.2 0-2.2-0.4-2.1-0.5-2.1-0.8-2-0.9-2-1-1.5-1.6-1-1.9 2-0.9 1.7-1.3 1.1-1.9 0.4-1.4 1.9 1.2 2.1 0.6 2.2 0 2.1-0.7 1.8-1.1 2.1 0.7-0.2 2.2-0.9 2-1.7 1.4-2 0.9-2 0.9-1.9 1.1-1.6 1.5-1.6 1.6-1.5 1.6-1.3 1.7-1.2 1.9-1.1 1.9-1.1 1.8 1.4-1.8-0.6-3.4 0.6-1.7 0.6-2.9 0.1-2.4 0.4-2.3 1.8-2.2-0.2-2.7-0.6-2.3-1.9 3.8 2.7-2.5 2.6 1.2 2.4-1.7 1.8-0.3 2.5 0.1 3 0.9 1.6 0 3.3 1.3 2-1.7 1.9-0.9 2.6-0.3 2.8 0.7 2.2-0.5 1.7 0 3.2-0.1 1.1 1.9 1.8 1.3 2.1 0.6 2.2-0.2 2.1-0.7 1.9-1.1 1.8-1.2 0.7 2 1 2 1.4 1.7 1.5 1.6 1.5 1.2-1.2 1.8-0.7 2.1-1 2-0.9 2-1 1.9-1.3 1.8-1.6 1.5-2 0.9-2.2 0.3-2.2-0.2-2.1-0.7-2-0.9-2.2-0.5-2.2-0.1-2.2-0.1-2.2 0.2-2.2 0.1-2.1-0.7-1.8-1.2-1.5-1.6-1.6-1.5-1.3-1.8-1.1-1.9-0.8-2-0.6-2.1-0.6-2.2-0.9-2-1.3-1.7-1.6-1.6 1.1 2 0.6 2.1 0.1 2.2-0.3 2.2-0.3 2.1-0.2 2.2 0.2 2.2 0.2 2.2 0.4 2.2 0.4 2.1-0.1 2.2-0.1 2.2-0.4 2.2-0.7 2.1-1.1 1.9-1.3 1.8-1.5 1.6-1.9 1.1-2.2 0.2-2.1-0.6-2-0.9-1.4-1 1.9 1.1 1.7 1.4 1 2 0.7 2.1 0.6 2.1 0.1 2.2-0.7 2.1-1.7 1.3-2.2-0.1-1.4-1.2 2.3-2.4 1.8-2.4 0.2-2.4-0.7-2.1 0.3-2.6 0.2-3.6-1.1-1.2-1.8-2.5 0.2-2.5 0.1-2.3 0.8-2.8-0.9-2.4-1.2-2.2-0.4-2 0.7-3.1-0.2-1.2-0.8-2.8 0.5-3.2 0.1-2.5-0.5-1.7 1.9 0 3.5 0.2 1.4 1.7 2.9-1.3 2 1.2 3-0.9 1.8 0.2 2.4-0.1-2.5-0.2-1.6 1-3.1 0.1-2.7 1.3-2.1-2-3 0.3-2 0.5-2-0.6 2.1 0 3.2 1.3 1.9 0.6 2.5 0.5 3.6 1 0.8-1.2 3-0.8 1.9 0.8 2.3-0.7 2.1-1 3-0.9 2.6 0.2 3.1 0.9 1.8-0.3 1.8-0.7 2.5-0.4 2.8-0.1 1.8 0.6 2.7 1.5 2.8-0.2 2.2-1.6 2.6-0.4 2.5 1.2 2.2 0.8-2.8-0.9 0.5 2.3 0.3 2.9-0.6 2.8-2.6 2 0 1.5 1.2 3 0.2 2.6-0.1 2.8 1.7 1.9-0.6 2.4 0.4 2.6-1.8 1.9 1 2.9 0.2 2.4-0.8 2.4 0.6 1.4-0.5 2.7 1.7 2.6 0.7 2.8 0.4 2.5-0.1 2.2-0.9 1.9-0.4 3.1 2.2-3.1-2.9 0.7 0.4-2.1 0.4-2.8 0.4-1.8-0.6-3-1.1-2.1 0.8-2.5-0.8-2.7-0.8-2.1-1.7-3 0.7-1.9-0.1-1.7 0.3-2.9-0.5-2.6 1.1-2.4-0.7-2.2 0.7-2.7 1.1-2.2-0.6-2.8-1.4-1.8 0.5-2.2 0.4-3.1 1.6-2.1-2.5 2-2.3-0.3-3.1 0.8-1.6 0-2.4-1.3-3.1 0.5-1.7 0.5-2.5-0.4-2.1-1.1-3.2-1-1.6-0.6-3.9-0.9-1.2-0.1-2.2 0.5-2.2-0.8-2.6 0.2-2.8 0.4-2.4 0.1-2.9 0.1-2.1 0-2.8-0.1-2-0.5-1.2 0.4 1.3 2.4 0.5 2.4 1.7 2.2 1 3.1-0.9 2.1 1.1 2-0.8 2.7-1 2.9-0.7 2.1 0.1 1.8 1.6 2.5 0 2.4 1 2.2 1.9-1.1 1.8-1.2 1.8-1.3 1.4-1.7 1-2 0.9-2 0.5-2.1 0.4-2.2 0-2.2-0.2-2.2-0.4-2.1-0.6-2.1-0.6-2.2-0.7-2.1-0.5-2.1-0.5-2.2 2.5 3.1 1.8 0.1 3.3 0.1 1.9 0.1 2.7-1 2.4-1.5 2.2 0 2.4-0.8 2.9-0.5 1.5 0 3.2 0.3 2.3 0.6 2.1 0 2.5-0.9 2.7-0.3 1.7-0.1 2.7 0.4 2.9 0 2 0.6 0.2 1.1-2.5 2.2 1 1.7 1.3 2.8 0.9 2.3-1.9 2.6 0.4 2" stroke="#9462c8" stroke-width="0.5" fill="none" stroke-linejoin="round"/>
<rect x="114.3" y="562.6" width="62.4" height="61.9" fill="none" stroke="#444" stroke-width="0.9"/>
<line x1="240.5" y1="510.4" x2="240.5" y2="598" stroke="#3a3a3a" stroke-width="0.8"/>
<line x1="238.5" y1="598" x2="240.5" y2="598" stroke="#3a3a3a" stroke-width="0.7"/>
<text font-size="7.4" text-anchor="end" fill="#111" stroke="#111" stroke-width="0.1" transform="translate(237.3 600.7) scale(1 1.1)">0</text>
<line x1="238.5" y1="580.5" x2="240.5" y2="580.5" stroke="#3a3a3a" stroke-width="0.7"/>
<text font-size="7.4" text-anchor="end" fill="#111" stroke="#111" stroke-width="0.1" transform="translate(237.3 583.1) scale(1 1.1)">20</text>
<line x1="238.5" y1="563" x2="240.5" y2="563" stroke="#3a3a3a" stroke-width="0.7"/>
<text font-size="7.4" text-anchor="end" fill="#111" stroke="#111" stroke-width="0.1" transform="translate(237.3 565.6) scale(1 1.1)">40</text>
<line x1="238.5" y1="545.4" x2="240.5" y2="545.4" stroke="#3a3a3a" stroke-width="0.7"/>
<text font-size="7.4" text-anchor="end" fill="#111" stroke="#111" stroke-width="0.1" transform="translate(237.3 548.1) scale(1 1.1)">60</text>
<line x1="238.5" y1="527.9" x2="240.5" y2="527.9" stroke="#3a3a3a" stroke-width="0.7"/>
<text font-size="7.4" text-anchor="end" fill="#111" stroke="#111" stroke-width="0.1" transform="translate(237.3 530.6) scale(1 1.1)">80</text>
<line x1="238.5" y1="510.4" x2="240.5" y2="510.4" stroke="#3a3a3a" stroke-width="0.7"/>
<text font-size="7.4" text-anchor="end" fill="#111" stroke="#111" stroke-width="0.1" transform="translate(237.3 513.1) scale(1 1.1)">100</text>
<line x1="240.5" y1="598" x2="297.6" y2="598" stroke="#3a3a3a" stroke-width="0.8"/>
<line x1="249.3" y1="598" x2="249.3" y2="600" stroke="#3a3a3a" stroke-width="0.7"/>
<text font-size="7.4" text-anchor="middle" fill="#111" stroke="#111" stroke-width="0.1" transform="translate(249.3 607.6) scale(1 1.1)">0</text>
<line x1="269.4" y1="598" x2="269.4" y2="600" stroke="#3a3a3a" stroke-width="0.7"/>
<text font-size="7.4" text-anchor="middle" fill="#111" stroke="#111" stroke-width="0.1" transform="translate(269.4 607.6) scale(1 1.1)">7</text>
<line x1="288.7" y1="598" x2="288.7" y2="600" stroke="#3a3a3a" stroke-width="0.7"/>
<text font-size="7.4" text-anchor="middle" fill="#111" stroke="#111" stroke-width="0.1" transform="translate(288.7 607.6) scale(1 1.1)">14</text>
<text font-size="8" text-anchor="middle" fill="#111" stroke="#111" stroke-width="0.1" transform="translate(269.9 618.3) scale(1 1.1)">Cycle</text>
<text x="215.4" y="553.7" font-size="8" text-anchor="middle" fill="#111" stroke="#111" stroke-width="0.1" transform="rotate(-90 215.4 553.7)">Center zone preference (%)</text>
<text font-size="5.6" text-anchor="start" fill="#1a1a1a" stroke="#1a1a1a" stroke-width="0.1" font-style="italic" transform="translate(246.4 487.1) scale(1 1.1)">Treatment effect</text>
<text font-size="5.6" text-anchor="start" fill="#1a1a1a" stroke="#1a1a1a" stroke-width="0.1" font-style="italic" transform="translate(246.4 492.7) scale(1 1.1)">Cycle 0, p = n.s.</text>
<text font-size="5.6" text-anchor="start" fill="#1a1a1a" stroke="#1a1a1a" stroke-width="0.1" font-style="italic" transform="translate(246.4 498.3) scale(1 1.1)">Cycle 7, p = 0.00001</text>
<text font-size="5.6" text-anchor="start" fill="#1a1a1a" stroke="#1a1a1a" stroke-width="0.1" font-style="italic" transform="translate(246.4 503.9) scale(1 1.1)">Cycle 14, p = 0.00004</text>
<circle cx="247" cy="585.8" r="1.6" fill="#1f1fff"/>
<text font-size="5.7" text-anchor="start" fill="#222" stroke="#222" stroke-width="0.1" transform="translate(250.9 587.9) scale(1 1.1)">Vehicle</text>
<circle cx="247" cy="591.2" r="1.6" fill="#ff2424"/>
<text font-size="5.7" text-anchor="start" fill="#222" stroke="#222" stroke-width="0.1" transform="translate(250.9 593.3) scale(1 1.1)">VCD</text>
<path d="M248.9 544.2L270.9 558L290.1 540.6M250.2 565.6L269.4 533.6L290.4 561.7M248.2 556.6L267.3 530.6L290.1 543.5M251 567.1L269.6 535.5L287 558M249.8 559.2L270 539.2L286.1 528.2M247.6 555.5L269.1 534.2L287.2 534.7M247 545L267.5 561.6L288.1 532.1M248.4 543.6L269.7 526.5L291 545.3M248.5 557L267.3 537.7L287 552.8M247.2 552.1L268.7 526.8L287.3 525.2M251.9 556.2L269.7 522.2L291 552.3M247.9 553.9L270.4 555.9L286.3 526.6M247.2 568.1L268.1 544.5L288.8 552.6M249.3 563.1L267.3 550L290.7 556.2M247.4 551.6L271.7 531.2L290.4 541.1M251.3 550.5L269.3 552.5L286.6 560.9M247.4 545.4L268.1 540.6L286.4 526.4M248.4 558.3L271.3 533.4L290.7 526.3M246.8 547.6L267.8 557.7L288.9 534.2M250.7 548.7L269.3 556.9L289.8 529.4M248.7 550.2L268.1 556.7L286.5 563.2M251.7 556.9L271.7 540.6L286.5 554.7" stroke="#ff2424" stroke-width="0.5" fill="none"/>
<path d="M249.6 553L268.5 554.1L289.7 559.2M248.6 553.2L268.5 557.7L289.4 563.5M250.3 542.9L268.6 555.6L286.8 556.1M248.2 547.1L271.9 558.7L291.2 558.7M250.7 549.9L267.7 555.7L287.4 548.2M247.4 555.2L268.7 560.7L288.1 567.8M251.9 544L267.4 557.5L286.4 558.5M249.9 560.1L267 555.8L288.3 554.5M247.4 555.5L267.3 557.8L289.5 549M248.8 549.6L268.7 552.8L288 562.5M247.5 542.4L271.7 554.5L288.5 544.3M251.2 554.2L271 555L289.3 563.2M247.9 546.8L271.2 559.4L288.2 552.3M248 553.2L267.4 559L286.9 556.9M251.7 542.8L267.3 556L286.9 551.4M247.4 556.1L267.2 556.9L287.3 560.4M251.5 553.7L270.9 556.1L288.9 547.9M247 563.9L269.5 560L290.9 558.7M247.4 560.5L270 555.6L287.9 566.7M251 554.3L271.3 554.4L291 553.2M248.2 553.6L271.1 560L289.3 550M250 540.7L270.4 558.5L287 542.3" stroke="#1f1fff" stroke-width="0.5" fill="none"/>
<path d="M248.9 544.2h0M270.9 558h0M290.1 540.6h0M250.2 565.6h0M269.4 533.6h0M290.4 561.7h0M248.2 556.6h0M267.3 530.6h0M290.1 543.5h0M251 567.1h0M269.6 535.5h0M287 558h0M249.8 559.2h0M270 539.2h0M286.1 528.2h0M247.6 555.5h0M269.1 534.2h0M287.2 534.7h0M247 545h0M267.5 561.6h0M288.1 532.1h0M248.4 543.6h0M269.7 526.5h0M291 545.3h0M248.5 557h0M267.3 537.7h0M287 552.8h0M247.2 552.1h0M268.7 526.8h0M287.3 525.2h0M251.9 556.2h0M269.7 522.2h0M291 552.3h0M247.9 553.9h0M270.4 555.9h0M286.3 526.6h0M247.2 568.1h0M268.1 544.5h0M288.8 552.6h0M249.3 563.1h0M267.3 550h0M290.7 556.2h0M247.4 551.6h0M271.7 531.2h0M290.4 541.1h0M251.3 550.5h0M269.3 552.5h0M286.6 560.9h0M247.4 545.4h0M268.1 540.6h0M286.4 526.4h0M248.4 558.3h0M271.3 533.4h0M290.7 526.3h0M246.8 547.6h0M267.8 557.7h0M288.9 534.2h0M250.7 548.7h0M269.3 556.9h0M289.8 529.4h0M248.7 550.2h0M268.1 556.7h0M286.5 563.2h0M251.7 556.9h0M271.7 540.6h0M286.5 554.7h0" stroke="#ff2424" stroke-width="2.7" stroke-linecap="round"/>
<path d="M249.6 553h0M268.5 554.1h0M289.7 559.2h0M248.6 553.2h0M268.5 557.7h0M289.4 563.5h0M250.3 542.9h0M268.6 555.6h0M286.8 556.1h0M248.2 547.1h0M271.9 558.7h0M291.2 558.7h0M250.7 549.9h0M267.7 555.7h0M287.4 548.2h0M247.4 555.2h0M268.7 560.7h0M288.1 567.8h0M251.9 544h0M267.4 557.5h0M286.4 558.5h0M249.9 560.1h0M267 555.8h0M288.3 554.5h0M247.4 555.5h0M267.3 557.8h0M289.5 549h0M248.8 549.6h0M268.7 552.8h0M288 562.5h0M247.5 542.4h0M271.7 554.5h0M288.5 544.3h0M251.2 554.2h0M271 555h0M289.3 563.2h0M247.9 546.8h0M271.2 559.4h0M288.2 552.3h0M248 553.2h0M267.4 559h0M286.9 556.9h0M251.7 542.8h0M267.3 556h0M286.9 551.4h0M247.4 556.1h0M267.2 556.9h0M287.3 560.4h0M251.5 553.7h0M270.9 556.1h0M288.9 547.9h0M247 563.9h0M269.5 560h0M290.9 558.7h0M247.4 560.5h0M270 555.6h0M287.9 566.7h0M251 554.3h0M271.3 554.4h0M291 553.2h0M248.2 553.6h0M271.1 560h0M289.3 550h0M250 540.7h0M270.4 558.5h0M287 542.3h0" stroke="#1f1fff" stroke-width="2.7" stroke-linecap="round"/>
<line x1="366.1" y1="509.5" x2="366.1" y2="598" stroke="#3a3a3a" stroke-width="0.8"/>
<line x1="364.1" y1="598" x2="366.1" y2="598" stroke="#3a3a3a" stroke-width="0.7"/>
<text font-size="7.4" text-anchor="end" fill="#111" stroke="#111" stroke-width="0.1" transform="translate(362.9 600.7) scale(1 1.1)">20</text>
<line x1="364.1" y1="575.9" x2="366.1" y2="575.9" stroke="#3a3a3a" stroke-width="0.7"/>
<text font-size="7.4" text-anchor="end" fill="#111" stroke="#111" stroke-width="0.1" transform="translate(362.9 578.5) scale(1 1.1)">40</text>
<line x1="364.1" y1="553.8" x2="366.1" y2="553.8" stroke="#3a3a3a" stroke-width="0.7"/>
<text font-size="7.4" text-anchor="end" fill="#111" stroke="#111" stroke-width="0.1" transform="translate(362.9 556.4) scale(1 1.1)">60</text>
<line x1="364.1" y1="531.6" x2="366.1" y2="531.6" stroke="#3a3a3a" stroke-width="0.7"/>
<text font-size="7.4" text-anchor="end" fill="#111" stroke="#111" stroke-width="0.1" transform="translate(362.9 534.3) scale(1 1.1)">80</text>
<line x1="364.1" y1="509.5" x2="366.1" y2="509.5" stroke="#3a3a3a" stroke-width="0.7"/>
<text font-size="7.4" text-anchor="end" fill="#111" stroke="#111" stroke-width="0.1" transform="translate(362.9 512.2) scale(1 1.1)">100</text>
<line x1="366.1" y1="598" x2="425.6" y2="598" stroke="#3a3a3a" stroke-width="0.8"/>
<line x1="366.1" y1="598" x2="366.1" y2="600" stroke="#3a3a3a" stroke-width="0.7"/>
<text font-size="7.4" text-anchor="middle" fill="#111" stroke="#111" stroke-width="0.1" transform="translate(366.1 607.6) scale(1 1.1)">0</text>
<line x1="378" y1="598" x2="378" y2="600" stroke="#3a3a3a" stroke-width="0.7"/>
<text font-size="7.4" text-anchor="middle" fill="#111" stroke="#111" stroke-width="0.1" transform="translate(378 607.6) scale(1 1.1)">1</text>
<line x1="389.9" y1="598" x2="389.9" y2="600" stroke="#3a3a3a" stroke-width="0.7"/>
<text font-size="7.4" text-anchor="middle" fill="#111" stroke="#111" stroke-width="0.1" transform="translate(389.9 607.6) scale(1 1.1)">2</text>
<line x1="401.8" y1="598" x2="401.8" y2="600" stroke="#3a3a3a" stroke-width="0.7"/>
<text font-size="7.4" text-anchor="middle" fill="#111" stroke="#111" stroke-width="0.1" transform="translate(401.8 607.6) scale(1 1.1)">3</text>
<line x1="413.7" y1="598" x2="413.7" y2="600" stroke="#3a3a3a" stroke-width="0.7"/>
<text font-size="7.4" text-anchor="middle" fill="#111" stroke="#111" stroke-width="0.1" transform="translate(413.7 607.6) scale(1 1.1)">4</text>
<line x1="425.6" y1="598" x2="425.6" y2="600" stroke="#3a3a3a" stroke-width="0.7"/>
<text font-size="7.4" text-anchor="middle" fill="#111" stroke="#111" stroke-width="0.1" transform="translate(425.6 607.6) scale(1 1.1)">5</text>
<text font-size="8" text-anchor="middle" fill="#111" stroke="#111" stroke-width="0.1" transform="translate(395.2 619.5) scale(1 1.1)">E2: P4 Ratio (pg/ng)</text>
<text x="335.2" y="553.7" font-size="8" text-anchor="middle" fill="#111" stroke="#111" stroke-width="0.1" transform="rotate(-90 335.2 553.7)">Center zone preference (%)</text>
<text x="344.4" y="553.7" font-size="8" text-anchor="middle" fill="#111" stroke="#111" stroke-width="0.1" transform="rotate(-90 344.4 553.7)">(Cycle 7)</text>
<text font-size="5.6" text-anchor="start" fill="#1a1a1a" stroke="#1a1a1a" stroke-width="0.1" font-style="italic" transform="translate(376.2 498.5) scale(1 1.1)">Pearson r = 0.839</text>
<text font-size="5.6" text-anchor="start" fill="#1a1a1a" stroke="#1a1a1a" stroke-width="0.1" font-style="italic" transform="translate(376.2 504.4) scale(1 1.1)">p = 2.9E-14</text>
<circle cx="402.6" cy="585.6" r="1.6" fill="#1f1fff"/>
<text font-size="5.7" text-anchor="start" fill="#222" stroke="#222" stroke-width="0.1" transform="translate(406.5 587.7) scale(1 1.1)">Vehicle</text>
<circle cx="402.6" cy="591.2" r="1.6" fill="#ff2424"/>
<text font-size="5.7" text-anchor="start" fill="#222" stroke="#222" stroke-width="0.1" transform="translate(406.5 593.3) scale(1 1.1)">VCD</text>
<line x1="383.6" y1="570.3" x2="415.9" y2="524.2" stroke="#333" stroke-width="0.6"/>
<path d="M392.4 573.6h0M393.1 572.7h0M385.8 564h0M384.3 569.1h0M381.5 563.1h0M393.3 573.6h0M380.9 569.6h0M386.6 565.6h0M384.1 568h0M381.5 573.1h0M380.3 568.6h0M387.2 567.7h0M392.6 571.8h0M384.1 569.7h0M392.7 571.8h0M383.3 570.2h0M389 572.2h0M381.7 566.2h0M387.4 568.2h0M379.4 572.6h0M380.6 571h0M392.1 562.7h0" stroke="#1f1fff" stroke-width="2.3" stroke-linecap="round"/>
<path d="M395.7 558h0M411.8 533.4h0M383.4 565h0M383 576.4h0M382.9 568h0M409.5 533.8h0M388.1 557h0M410.5 538.2h0M389.8 558.1h0M413.9 522h0M410.6 530.2h0M388.2 561.4h0M395.1 551.9h0M397.2 557.9h0M411.4 542.8h0M392.2 561.9h0M413.7 538.1h0M400.3 539.1h0M401.5 537.9h0M394 557.4h0M393.2 559.9h0M392.4 566.7h0M414.4 525h0M403.8 542.8h0" stroke="#ff2424" stroke-width="2.3" stroke-linecap="round"/>
<line x1="490.5" y1="509.8" x2="490.5" y2="599.2" stroke="#3a3a3a" stroke-width="0.8"/>
<line x1="488.5" y1="599.2" x2="490.5" y2="599.2" stroke="#3a3a3a" stroke-width="0.7"/>
<text font-size="7.4" text-anchor="end" fill="#111" stroke="#111" stroke-width="0.1" transform="translate(487.3 601.9) scale(1 1.1)">0</text>
<line x1="488.5" y1="576.9" x2="490.5" y2="576.9" stroke="#3a3a3a" stroke-width="0.7"/>
<text font-size="7.4" text-anchor="end" fill="#111" stroke="#111" stroke-width="0.1" transform="translate(487.3 579.5) scale(1 1.1)">20</text>
<line x1="488.5" y1="554.5" x2="490.5" y2="554.5" stroke="#3a3a3a" stroke-width="0.7"/>
<text font-size="7.4" text-anchor="end" fill="#111" stroke="#111" stroke-width="0.1" transform="translate(487.3 557.2) scale(1 1.1)">40</text>
<line x1="488.5" y1="532.1" x2="490.5" y2="532.1" stroke="#3a3a3a" stroke-width="0.7"/>
<text font-size="7.4" text-anchor="end" fill="#111" stroke="#111" stroke-width="0.1" transform="translate(487.3 534.8) scale(1 1.1)">60</text>
<line x1="488.5" y1="509.8" x2="490.5" y2="509.8" stroke="#3a3a3a" stroke-width="0.7"/>
<text font-size="7.4" text-anchor="end" fill="#111" stroke="#111" stroke-width="0.1" transform="translate(487.3 512.5) scale(1 1.1)">80</text>
<line x1="490.5" y1="599.2" x2="550.4" y2="599.2" stroke="#3a3a3a" stroke-width="0.8"/>
<line x1="500.3" y1="599.2" x2="500.3" y2="601.2" stroke="#3a3a3a" stroke-width="0.7"/>
<text font-size="7.4" text-anchor="middle" fill="#111" stroke="#111" stroke-width="0.1" transform="translate(500.3 608.8) scale(1 1.1)">0</text>
<line x1="520.9" y1="599.2" x2="520.9" y2="601.2" stroke="#3a3a3a" stroke-width="0.7"/>
<text font-size="7.4" text-anchor="middle" fill="#111" stroke="#111" stroke-width="0.1" transform="translate(520.9 608.8) scale(1 1.1)">7</text>
<line x1="540.6" y1="599.2" x2="540.6" y2="601.2" stroke="#3a3a3a" stroke-width="0.7"/>
<text font-size="7.4" text-anchor="middle" fill="#111" stroke="#111" stroke-width="0.1" transform="translate(540.6 608.8) scale(1 1.1)">14</text>
<text font-size="8" text-anchor="middle" fill="#111" stroke="#111" stroke-width="0.1" transform="translate(521.4 618.3) scale(1 1.1)">Cycle</text>
<text x="461.5" y="555.5" font-size="8" text-anchor="middle" fill="#111" stroke="#111" stroke-width="0.1" transform="rotate(-90 461.5 555.5)">Total distance travelled</text>
<text x="469.8" y="555.5" font-size="8" text-anchor="middle" fill="#111" stroke="#111" stroke-width="0.1" transform="rotate(-90 469.8 555.5)">(x100 cm)</text>
<text font-size="5.6" text-anchor="start" fill="#1a1a1a" stroke="#1a1a1a" stroke-width="0.1" font-style="italic" transform="translate(500.1 491.1) scale(1 1.1)">Treatment effect</text>
<text font-size="5.6" text-anchor="start" fill="#1a1a1a" stroke="#1a1a1a" stroke-width="0.1" font-style="italic" transform="translate(500.1 496.9) scale(1 1.1)">Cycle 0, p = n.s.</text>
<text font-size="5.6" text-anchor="start" fill="#1a1a1a" stroke="#1a1a1a" stroke-width="0.1" font-style="italic" transform="translate(500.1 502.7) scale(1 1.1)">Cycle 7, p = n.s.</text>
<text font-size="5.6" text-anchor="start" fill="#1a1a1a" stroke="#1a1a1a" stroke-width="0.1" font-style="italic" transform="translate(500.1 508.5) scale(1 1.1)">Cycle 14, p = n.s.</text>
<circle cx="497.9" cy="585.9" r="1.6" fill="#1f1fff"/>
<text font-size="5.7" text-anchor="start" fill="#222" stroke="#222" stroke-width="0.1" transform="translate(501.8 588) scale(1 1.1)">Vehicle</text>
<circle cx="497.9" cy="591.4" r="1.6" fill="#ff2424"/>
<text font-size="5.7" text-anchor="start" fill="#222" stroke="#222" stroke-width="0.1" transform="translate(501.8 593.5) scale(1 1.1)">VCD</text>
<path d="M498.1 544.2L520.5 561.9L539.5 541.5M501.6 559.6L523 551.2L539.4 554.1M500.9 542L522.6 551.8L539.1 559.8M499.1 562.8L522.5 538.1L538.2 564.8M497.7 563.4L520 546.3L538.9 550.2M501.6 549.3L523.4 558.5L543.2 561.4M502.4 539.4L522.5 553.2L539.9 541M499.5 545.9L522.9 560.1L541.9 547.8M499.9 566.8L521 568.6L540 552.8M500 555L520.3 569.1L540.7 547.1M498.8 568.7L518.4 561.8L539.2 558.1M501.6 555.7L521.2 531.1L542.7 565.6M501.7 541.1L521 560.8L541.4 562.5M501.4 541.7L522 549.5L540.3 564.9M498 567.3L520.6 567.7L542.1 561.4M500.3 563.5L520 548.9L539.9 560.4M502.3 550.2L523.4 551.9L541.9 566.1M501.5 550.9L518.9 567L538.9 570M502.7 551.6L522.3 550.4L538.1 569.6M501.5 557.8L521.8 565L541.4 539.9M500.1 544.7L522.9 532.5L540.3 542.3M499.7 550.3L523.1 561.4L538.9 556.8" stroke="#ff2424" stroke-width="0.5" fill="none"/>
<path d="M501 555.2L523.1 553L543.1 570.7M501.9 548.1L519.3 536L541.4 544.7M502.2 565.5L522.1 551.5L541.5 568.6M498 570L518.5 565.7L539.1 552.2M501.9 564L520.4 537.5L541.9 564.3M499.6 552.9L520.2 557.1L538.9 555.5M500.1 570.1L518.6 561.1L541.5 562.2M497.9 544.2L519.9 535.9L542.6 543.5M501 560.8L519.5 546L541.4 540.1M498.5 540.5L523.1 559.2L539.9 561.5M502 561.6L519 557.5L542.8 567.7M498.6 568.4L521.2 556L543 544.3M501.2 555.3L521 556.7L541.9 570.1M501.2 553.4L522.6 534.4L541.8 539.5M499.4 566.7L519 543.7L540 558.6M499.9 565.9L523.1 541.3L541.2 549.9M502.8 564.8L521.9 537.6L540.9 555.8M499.2 567.6L523.4 569.1L541.4 559.5M500.1 546.6L523.4 528.6L538.2 555.4M500.4 545.6L522.1 569.2L543.1 551.7M499.8 551.4L519.1 565.3L542.3 547.4M500.6 559.2L518.3 561.3L538.8 564" stroke="#1f1fff" stroke-width="0.5" fill="none"/>
<path d="M498.1 544.2h0M520.5 561.9h0M539.5 541.5h0M501.6 559.6h0M523 551.2h0M539.4 554.1h0M500.9 542h0M522.6 551.8h0M539.1 559.8h0M499.1 562.8h0M522.5 538.1h0M538.2 564.8h0M497.7 563.4h0M520 546.3h0M538.9 550.2h0M501.6 549.3h0M523.4 558.5h0M543.2 561.4h0M502.4 539.4h0M522.5 553.2h0M539.9 541h0M499.5 545.9h0M522.9 560.1h0M541.9 547.8h0M499.9 566.8h0M521 568.6h0M540 552.8h0M500 555h0M520.3 569.1h0M540.7 547.1h0M498.8 568.7h0M518.4 561.8h0M539.2 558.1h0M501.6 555.7h0M521.2 531.1h0M542.7 565.6h0M501.7 541.1h0M521 560.8h0M541.4 562.5h0M501.4 541.7h0M522 549.5h0M540.3 564.9h0M498 567.3h0M520.6 567.7h0M542.1 561.4h0M500.3 563.5h0M520 548.9h0M539.9 560.4h0M502.3 550.2h0M523.4 551.9h0M541.9 566.1h0M501.5 550.9h0M518.9 567h0M538.9 570h0M502.7 551.6h0M522.3 550.4h0M538.1 569.6h0M501.5 557.8h0M521.8 565h0M541.4 539.9h0M500.1 544.7h0M522.9 532.5h0M540.3 542.3h0M499.7 550.3h0M523.1 561.4h0M538.9 556.8h0" stroke="#ff2424" stroke-width="2.7" stroke-linecap="round"/>
<path d="M501 555.2h0M523.1 553h0M543.1 570.7h0M501.9 548.1h0M519.3 536h0M541.4 544.7h0M502.2 565.5h0M522.1 551.5h0M541.5 568.6h0M498 570h0M518.5 565.7h0M539.1 552.2h0M501.9 564h0M520.4 537.5h0M541.9 564.3h0M499.6 552.9h0M520.2 557.1h0M538.9 555.5h0M500.1 570.1h0M518.6 561.1h0M541.5 562.2h0M497.9 544.2h0M519.9 535.9h0M542.6 543.5h0M501 560.8h0M519.5 546h0M541.4 540.1h0M498.5 540.5h0M523.1 559.2h0M539.9 561.5h0M502 561.6h0M519 557.5h0M542.8 567.7h0M498.6 568.4h0M521.2 556h0M543 544.3h0M501.2 555.3h0M521 556.7h0M541.9 570.1h0M501.2 553.4h0M522.6 534.4h0M541.8 539.5h0M499.4 566.7h0M519 543.7h0M540 558.6h0M499.9 565.9h0M523.1 541.3h0M541.2 549.9h0M502.8 564.8h0M521.9 537.6h0M540.9 555.8h0M499.2 567.6h0M523.4 569.1h0M541.4 559.5h0M500.1 546.6h0M523.4 528.6h0M538.2 555.4h0M500.4 545.6h0M522.1 569.2h0M543.1 551.7h0M499.8 551.4h0M519.1 565.3h0M542.3 547.4h0M500.6 559.2h0M518.3 561.3h0M538.8 564h0" stroke="#1f1fff" stroke-width="2.7" stroke-linecap="round"/>
<line x1="612.4" y1="508" x2="612.4" y2="598.9" stroke="#3a3a3a" stroke-width="0.8"/>
<line x1="610.4" y1="598.9" x2="612.4" y2="598.9" stroke="#3a3a3a" stroke-width="0.7"/>
<text font-size="7.4" text-anchor="end" fill="#111" stroke="#111" stroke-width="0.1" transform="translate(609.2 601.6) scale(1 1.1)">0</text>
<line x1="610.4" y1="576.2" x2="612.4" y2="576.2" stroke="#3a3a3a" stroke-width="0.7"/>
<text font-size="7.4" text-anchor="end" fill="#111" stroke="#111" stroke-width="0.1" transform="translate(609.2 578.8) scale(1 1.1)">20</text>
<line x1="610.4" y1="553.5" x2="612.4" y2="553.5" stroke="#3a3a3a" stroke-width="0.7"/>
<text font-size="7.4" text-anchor="end" fill="#111" stroke="#111" stroke-width="0.1" transform="translate(609.2 556.1) scale(1 1.1)">40</text>
<line x1="610.4" y1="530.7" x2="612.4" y2="530.7" stroke="#3a3a3a" stroke-width="0.7"/>
<text font-size="7.4" text-anchor="end" fill="#111" stroke="#111" stroke-width="0.1" transform="translate(609.2 533.4) scale(1 1.1)">60</text>
<line x1="610.4" y1="508" x2="612.4" y2="508" stroke="#3a3a3a" stroke-width="0.7"/>
<text font-size="7.4" text-anchor="end" fill="#111" stroke="#111" stroke-width="0.1" transform="translate(609.2 510.7) scale(1 1.1)">80</text>
<line x1="612.4" y1="598.9" x2="671" y2="598.9" stroke="#3a3a3a" stroke-width="0.8"/>
<line x1="612.4" y1="598.9" x2="612.4" y2="600.9" stroke="#3a3a3a" stroke-width="0.7"/>
<text font-size="7.4" text-anchor="middle" fill="#111" stroke="#111" stroke-width="0.1" transform="translate(612.4 608.5) scale(1 1.1)">0</text>
<line x1="624.1" y1="598.9" x2="624.1" y2="600.9" stroke="#3a3a3a" stroke-width="0.7"/>
<text font-size="7.4" text-anchor="middle" fill="#111" stroke="#111" stroke-width="0.1" transform="translate(624.1 608.5) scale(1 1.1)">1</text>
<line x1="635.8" y1="598.9" x2="635.8" y2="600.9" stroke="#3a3a3a" stroke-width="0.7"/>
<text font-size="7.4" text-anchor="middle" fill="#111" stroke="#111" stroke-width="0.1" transform="translate(635.8 608.5) scale(1 1.1)">2</text>
<line x1="647.6" y1="598.9" x2="647.6" y2="600.9" stroke="#3a3a3a" stroke-width="0.7"/>
<text font-size="7.4" text-anchor="middle" fill="#111" stroke="#111" stroke-width="0.1" transform="translate(647.6 608.5) scale(1 1.1)">3</text>
<line x1="659.3" y1="598.9" x2="659.3" y2="600.9" stroke="#3a3a3a" stroke-width="0.7"/>
<text font-size="7.4" text-anchor="middle" fill="#111" stroke="#111" stroke-width="0.1" transform="translate(659.3 608.5) scale(1 1.1)">4</text>
<line x1="671" y1="598.9" x2="671" y2="600.9" stroke="#3a3a3a" stroke-width="0.7"/>
<text font-size="7.4" text-anchor="middle" fill="#111" stroke="#111" stroke-width="0.1" transform="translate(671 608.5) scale(1 1.1)">5</text>
<text font-size="8" text-anchor="middle" fill="#111" stroke="#111" stroke-width="0.1" transform="translate(641.1 619.5) scale(1 1.1)">E2: P4 Ratio (pg/ng)</text>
<text x="585.2" y="553.7" font-size="8" text-anchor="middle" fill="#111" stroke="#111" stroke-width="0.1" transform="rotate(-90 585.2 553.7)">Total distance travelled</text>
<text x="593.5" y="553.7" font-size="8" text-anchor="middle" fill="#111" stroke="#111" stroke-width="0.1" transform="rotate(-90 593.5 553.7)">(x100 cm) (Cycle 7)</text>
<text font-size="5.6" text-anchor="start" fill="#1a1a1a" stroke="#1a1a1a" stroke-width="0.1" font-style="italic" transform="translate(618.8 500.4) scale(1 1.1)">Pearson r = 0.1509</text>
<text font-size="5.6" text-anchor="start" fill="#1a1a1a" stroke="#1a1a1a" stroke-width="0.1" font-style="italic" transform="translate(618.8 506.3) scale(1 1.1)">p = 0.0228</text>
<circle cx="622" cy="585.6" r="1.6" fill="#1f1fff"/>
<text font-size="5.7" text-anchor="start" fill="#222" stroke="#222" stroke-width="0.1" transform="translate(625.9 587.7) scale(1 1.1)">Vehicle</text>
<circle cx="622" cy="591.1" r="1.6" fill="#ff2424"/>
<text font-size="5.7" text-anchor="start" fill="#222" stroke="#222" stroke-width="0.1" transform="translate(625.9 593.2) scale(1 1.1)">VCD</text>
<line x1="627.1" y1="552.2" x2="662.5" y2="544.5" stroke="#333" stroke-width="0.6"/>
<path d="M631.1 560.8h0M637.2 553.7h0M632.7 548.8h0M630.1 544.8h0M638 570.6h0M633.2 561.9h0M634.5 545.6h0M625.9 568.8h0M632.7 534.9h0M636.5 536.5h0M627.2 558h0M633.4 557.2h0M628.5 532h0M634.2 555.8h0M632 542.1h0M636 538.5h0M630 529.9h0M636 561.6h0M627.7 554.4h0M629 534h0M625.4 536.7h0M627.6 537h0" stroke="#1f1fff" stroke-width="2.3" stroke-linecap="round"/>
<path d="M629 550.4h0M635.1 550h0M635.5 533h0M646.2 537.8h0M659 548h0M642.9 563h0M654 565.4h0M639.2 561.4h0M652.1 549.5h0M644.2 546.6h0M656.1 528.1h0M639.5 532.2h0M651.4 539.7h0M660.8 559.8h0M637.7 548.5h0M637.2 556.3h0M633.5 530.5h0M660.6 532.4h0M654.4 551.6h0M637.4 551.7h0M627.1 563.4h0M643.1 551.2h0M649.4 545.3h0M630 533.5h0" stroke="#ff2424" stroke-width="2.3" stroke-linecap="round"/>
<text font-size="11.5" text-anchor="start" fill="#111" stroke="#111" stroke-width="0.1" transform="translate(1.6 651) scale(1 1.1)">j</text>
<text font-size="7.2" text-anchor="middle" fill="#111" stroke="#111" stroke-width="0.1" transform="translate(70.1 661.7) scale(1 1.1)">Vehicle</text>
<text font-size="7.2" text-anchor="middle" fill="#111" stroke="#111" stroke-width="0.1" transform="translate(174.6 661.1) scale(1 1.1)">VCD (E2:P4&lt;2.5 pg/ng)</text>
<text font-size="7.2" text-anchor="middle" fill="#111" stroke="#111" stroke-width="0.1" transform="translate(274.8 661.1) scale(1 1.1)">VCD (E2:P4≥2.5 pg/ng)</text>
<g clip-path="url(#bc1)"><rect x="21.5" y="664.3" width="99.6" height="71.1" fill="#25731f"/><path d="M26.5 731.8q9.9-24.8 19.9-33.7q10-8.9 24.9-12.4q14.9-3.6 34.9-3.6l19.9 0" stroke="#3a9832" stroke-width="21.3" fill="none" opacity="0.7" filter="url(#blur2)"/><path d="M51.4 721.2q19.9-12.8 32.4-14.2q12.4-1.5 27.4-1.5l14.9 0" stroke="#3a9832" stroke-width="7.1" fill="none" opacity="0.7" filter="url(#blur2)"/><path d="M21.5 664.3L55.4 664.3L21.5 691.3Z" fill="#0f3412" filter="url(#blur1)"/><path d="M21.5 719.8L29.5 735.4L21.5 735.4Z" fill="#0f3412" filter="url(#blur1)"/><path d="M31.5 726.9q11.9-17.1 23.3-21.4q11.5-4.2 26.4-6q15-1.8 30-2.5l14.9-0.7" stroke="#1a4f1e" stroke-width="3.2" fill="none" opacity="0.8" filter="url(#blur1)"/><path d="M21.5 703.4q19.9-17.8 29.8-23.9q10-6 24.9-9.2q15-3.2 30-3.5l14.9-0.4" stroke="#22408e" stroke-width="3.6" fill="none" opacity="0.3" filter="url(#blur1)"/><path d="M31.5 723.3q31.8-8.5 45.7-8.2q14 0.4 31.5 1.4l17.4 1.1" stroke="#22408e" stroke-width="3.9" fill="none" opacity="0.6" filter="url(#blur1)"/><path d="M31.5 724.7q24.9 3.6 42.3 2.5q17.4-1 34.9-2.1l17.4-1.1" stroke="#22408e" stroke-width="3.9" fill="none" opacity="0.6" filter="url(#blur1)"/><rect x="21.5" y="664.3" width="99.6" height="71.1" filter="url(#nz1)"/><rect x="21.5" y="664.3" width="99.6" height="71.1" filter="url(#bz1)"/></g>
<g clip-path="url(#bc2)"><rect x="123.7" y="664.3" width="99" height="71.5" fill="#25731f"/><path d="M131.6 721.5q16.8-25 31.7-30.4q14.9-5.3 39.6-4.6l24.7 0.7" stroke="#3a9832" stroke-width="15.7" fill="none" opacity="0.7" filter="url(#blur2)"/><path d="M153.4 721.5q24.8-10.7 49.5-11.5l24.7-0.7" stroke="#3a9832" stroke-width="7.2" fill="none" opacity="0.7" filter="url(#blur2)"/><path d="M123.7 664.3L173.2 664.3L153.4 671.4L135.6 682.2L123.7 691.5Z" fill="#0f3412" filter="url(#blur1)"/><path d="M202.9 735.8L222.7 727.2L222.7 735.8Z" fill="#0f3412" filter="url(#blur1)"/><path d="M135.6 721.5q17.8-14.3 32.6-16.8q14.9-2.5 37.1-2.8l22.3-0.4" stroke="#1a4f1e" stroke-width="3.6" fill="none" opacity="0.8" filter="url(#blur1)"/><path d="M123.7 697.9q24.7-19.3 37.1-23.6q12.4-4.3 24.8-5.3q12.3-1.1 27.2 2.5l14.8 3.5" stroke="#22408e" stroke-width="5" fill="none" opacity="0.6" filter="url(#blur1)"/><path d="M135.6 725.8q32.6-7.9 47.5-9q14.8-1 29.7-1l14.8 0" stroke="#22408e" stroke-width="4.3" fill="none" opacity="0.6" filter="url(#blur1)"/><path d="M135.6 727.2q37.6 3.6 52.5 1.4q14.8-2.1 27.1-3.9l12.4-1.8" stroke="#22408e" stroke-width="5" fill="none" opacity="0.7" filter="url(#blur1)"/><rect x="123.7" y="664.3" width="99" height="71.5" filter="url(#nz2)"/><rect x="123.7" y="664.3" width="99" height="71.5" filter="url(#bz2)"/></g>
<g clip-path="url(#bc3)"><rect x="225.8" y="664.3" width="100.2" height="71.5" fill="#25731f"/><path d="M230.8 728.6q10-25 22.5-33.2q12.6-8.2 27.6-9.6q15-1.5 32.5-0.8l17.6 0.8" stroke="#3a9832" stroke-width="17.9" fill="none" opacity="0.7" filter="url(#blur2)"/><path d="M265.9 715.8q20-5.7 30-6.1q10.1-0.4 22.6-0.4l12.5 0" stroke="#3a9832" stroke-width="7.2" fill="none" opacity="0.7" filter="url(#blur2)"/><path d="M225.8 664.3L270.9 664.3L255.9 669.3L235.8 682.2L225.8 694.3Z" fill="#0f3412" filter="url(#blur1)"/><path d="M311 735.8L326 728.6L326 735.8Z" fill="#0f3412" filter="url(#blur1)"/><path d="M274.9 669.3L298.9 669.3L298.9 692.2L274.9 692.2Z" fill="#1b5a1c" opacity="0.6" filter="url(#blur1)"/><path d="M253.9 721.5q10-12.9 18.5-16.1q8.5-3.2 21-4.6q12.6-1.5 25.1-1.5l12.5 0" stroke="#1a4f1e" stroke-width="3.6" fill="none" opacity="0.8" filter="url(#blur1)"/><path d="M225.8 701.5q15-14.3 27.5-20.7q12.6-6.5 27.6-8.3q15-1.8 32.5-0.7l17.6 1.1" stroke="#22408e" stroke-width="3.6" fill="none" opacity="0.5" filter="url(#blur1)"/><path d="M261.9 725.8q24-5 34-6.1q10.1-1.1 22.6 0l12.5 1.1" stroke="#22408e" stroke-width="6.4" fill="none" opacity="0.8" filter="url(#blur1)"/><rect x="225.8" y="664.3" width="100.2" height="71.5" filter="url(#nz3)"/><rect x="225.8" y="664.3" width="100.2" height="71.5" filter="url(#bz3)"/></g>
<rect x="65.4" y="666.9" width="24.5" height="25" fill="none" stroke="#e8e8e8" stroke-width="0.6" stroke-dasharray="1.2 1"/>
<rect x="167.5" y="665.3" width="24.5" height="23.9" fill="none" stroke="#e8e8e8" stroke-width="0.6" stroke-dasharray="1.2 1"/>
<rect x="274.8" y="668.3" width="24.5" height="23.9" fill="none" stroke="#e8e8e8" stroke-width="0.6" stroke-dasharray="1.2 1"/>
<text font-size="6.4" text-anchor="middle" fill="#ffffff" stroke="#ffffff" stroke-width="0.1" transform="translate(206.4 727.2) scale(1 1.1)">400 µm</text>
<line x1="202" y1="730.6" x2="217.5" y2="730.6" stroke="#ffffff" stroke-width="0.9"/>
<text x="26.9" y="756.2" font-size="7.6" text-anchor="middle" fill="#111" stroke="#111" stroke-width="0.1" transform="rotate(-90 26.9 756.2)">INSET</text>
<rect x="31.6" y="737.2" width="34.7" height="34.6" fill="#141414" stroke="none" stroke-width="0.8"/>
<path d="M53.8 741.2h0M59.6 739.5h0M43.3 742.8h0M43.8 748.1h0M32.3 749h0M57.9 741.9h0M55 744.7h0M47.8 746.4h0M44 744.4h0M35.2 748.8h0M51.4 743.3h0M35.6 746.1h0M59.2 740.9h0M32.8 749.2h0M47.8 744.6h0M64.9 737.9h0M65.5 737.9h0M65.3 738.5h0M38.8 747.3h0M61.6 741.5h0M56.4 739.7h0M62.9 738.8h0M65.8 740.6h0M44.4 746.7h0M65 738.4h0M32.9 746.7h0M33.5 750.2h0M59.8 743.1h0M55.7 741h0M40.8 744.8h0M49.4 747h0M35.1 754.9h0M52.8 742.2h0M63.7 738.4h0M53.7 744.7h0M34.2 750.7h0M38.4 747.5h0M57.7 739.7h0M48.5 742.1h0M55.6 744.8h0M60.5 743.6h0M38.7 749.4h0M54.4 745.2h0M59.2 744.7h0M63.7 739.6h0M38.8 742.5h0M56.3 744.6h0M53.9 741h0M61.6 741.3h0M33.3 751.9h0M32.9 744.5h0M45.6 743.7h0M33.1 744.2h0M64.6 740.3h0M44.8 746.8h0M58 743.4h0M61.3 741.8h0M51.8 741.6h0M37.1 749.9h0M34.5 746.1h0M50.9 743.8h0M35.6 749.3h0M59 744.3h0M36.4 749.3h0M55.8 738.3h0M50.8 744.8h0M32.5 749.7h0M61.5 740.8h0M61.7 739.5h0M39.6 750h0M44.1 744.3h0M48.9 741.9h0M51 741.1h0M59.6 742.9h0M64.2 740.5h0M55.2 742h0M59.2 740.9h0M43.6 743.5h0M38 746.8h0M65.1 738.4h0M35.1 752h0M59.5 740.5h0M47.6 740.7h0M41 748.6h0M63.5 741.6h0M48.6 743.1h0M50.2 741.7h0M60.3 743.1h0M55.9 740.7h0M58.6 739.8h0M32.2 747.1h0M58.4 743.8h0M44 747.8h0M54.6 741.7h0M52 743.8h0M54.1 741.9h0M62.2 737.8h0M48.4 746h0M37.3 747.6h0M35.5 748.4h0M33.2 751.3h0M39 747.6h0M42.5 747.4h0M62 742.4h0M33.6 742.6h0M40.1 743.6h0M37.3 748.4h0M38.2 749.1h0M37.4 745.5h0M41.9 744.7h0M40 749.6h0M34.6 748.6h0M59.3 742.4h0M41.1 747.6h0M36.7 746.8h0M52.3 745.5h0M58.2 745h0M51 746.3h0M57.6 743.6h0M41.4 744.2h0M57.8 744h0M62.7 741.4h0M35.2 749.2h0M32 750h0M36.9 748.1h0M53.8 744.1h0M33.3 744.9h0M46.2 743.7h0M36.7 752.6h0M37.3 746.5h0M65.1 739.6h0M37.4 744.5h0M47.5 740.6h0M53.3 741.6h0M47.7 739.3h0" stroke="#bdbdbd" stroke-width="0.9" stroke-linecap="round"/>
<path d="M37.3 750.3h0M49.7 747.1h0M54.3 754.3h0M62.9 748.1h0M41.4 749.9h0M51.7 754.5h0M49.4 751.4h0M37.5 743.6h0M36.2 761.2h0M58.6 762h0M56.3 763h0M44.4 742.2h0M53.1 767.4h0M33.2 742h0M47.5 769.1h0M47.2 750h0M36.1 759.7h0M33.1 753.5h0M45.2 749.4h0M49.8 765.4h0M50 750.5h0M38.9 751.5h0" stroke="#e0e0e0" stroke-width="1" stroke-linecap="round"/>
<text font-size="5.6" text-anchor="start" fill="#f4f4f4" stroke="#f4f4f4" stroke-width="0.1" transform="translate(33.1 769.5) scale(1 1.1)">DAPI</text>
<rect x="67.6" y="737.2" width="36.1" height="34.6" fill="#a2a2a2" stroke="none" stroke-width="0.8"/>
<rect x="67.6" y="737.2" width="36.1" height="34.6" filter="url(#mz1)"/>
<text font-size="5.6" text-anchor="start" fill="#f4f4f4" stroke="#f4f4f4" stroke-width="0.1" transform="translate(69.1 769.5) scale(1 1.1)">MAP2</text>
<text x="128.7" y="756.2" font-size="7.6" text-anchor="middle" fill="#111" stroke="#111" stroke-width="0.1" transform="rotate(-90 128.7 756.2)">INSET</text>
<rect x="133.8" y="737.2" width="35.2" height="34.6" fill="#141414" stroke="none" stroke-width="0.8"/>
<path d="M151.6 748.7h0M162.2 747.8h0M158.4 748.9h0M164.1 750h0M135.2 748.7h0M136.5 748.1h0M145 747.9h0M145.1 747.7h0M158 747h0M154 752.1h0M156 747.7h0M155.4 747.2h0M139.9 744.3h0M154.6 746.3h0M149.4 748.9h0M142.5 749.7h0M167.4 745.1h0M135.5 748.6h0M168 747.9h0M143.4 748.2h0M152.6 748.8h0M161.4 744.9h0M151.2 742.2h0M134.2 748.6h0M144.4 749.9h0M164.3 746.4h0M134.9 752.4h0M155.1 746.4h0M151.1 749h0M140.8 750.4h0M145.4 751.7h0M142.4 749.2h0M157.8 742.1h0M167.5 743.7h0M145 745.8h0M144.5 745.5h0M154.8 746.6h0M160.7 741.3h0M151.3 745.2h0M156.4 746.8h0M168.3 748.6h0M159.3 746.8h0M148.7 749.9h0M166 745.5h0M160.5 743.6h0M165.4 740.2h0M134.3 746.7h0M161.9 747.2h0M150.5 750.8h0M157.5 748h0M148.2 749.6h0M139.7 749.7h0M150.7 748.3h0M146.1 747.2h0M141.1 750.2h0M153.1 748.4h0M161.1 751.1h0M167.8 743.1h0M152.4 747.8h0M156.6 744.8h0M163.6 745.3h0M142.3 750.6h0M155.4 745.7h0M141.7 746.9h0M151.2 750.1h0M163.5 749.2h0M137.6 746.1h0M142.9 752.5h0M163.6 748.7h0M158.4 744.2h0M148 748.1h0M136.6 752.5h0M138.1 748.5h0M142.2 747.6h0M167.3 744h0M152.4 744.8h0M134.7 752.5h0M143.6 747.8h0M140 749.5h0M152.1 744.5h0M150 754.6h0M149.2 746.7h0M136.6 751.8h0M163.1 745.6h0M133.9 751h0M164.8 742.8h0M141.9 743.3h0M145.9 744.5h0M136.1 752.8h0M134.1 747.5h0M146.1 749.9h0M161.6 748h0M153.7 744.8h0M160.2 747.6h0M136.3 746.4h0M157.2 747.2h0M151.2 749.7h0M136.7 749.2h0M164.8 748.2h0M166.8 743h0M151.7 745.2h0M148.4 748.4h0M148.2 746.5h0M148.1 749.1h0M136.4 753.1h0M151 749.5h0M163.9 744.5h0M154.4 746.7h0M158.1 747.2h0M167.7 741.2h0M142.7 747.1h0M138.3 749h0M161.9 746.8h0M147.7 749.2h0M140.7 750.5h0M159.2 747.1h0M151 749.5h0M146.1 747.8h0M150.5 743.5h0M162.3 746.8h0M153 746h0M139.6 752.4h0M165.6 747.9h0M162.8 747.6h0M140.3 747.6h0M162.1 748.6h0M168.6 750.3h0M161.6 743.8h0M155.9 751.4h0M150 751.6h0M157.2 742.8h0M157.7 749.7h0M159.1 747.9h0M147.6 746.6h0M147.7 748.2h0M146.7 748.3h0M167.4 742.8h0M166.1 743.7h0M151.7 746.3h0M161.1 742.5h0" stroke="#bdbdbd" stroke-width="0.9" stroke-linecap="round"/>
<path d="M136.8 764.6h0M147.1 757.9h0M136.7 758.9h0M142.4 748.6h0M162.3 758.6h0M167.9 765.5h0M161.6 752h0M146 751.5h0M167.7 765.1h0M154.9 750.3h0M160.4 758.4h0M140.2 770.4h0M144.4 759.4h0M151.9 741.1h0M140.7 762h0M167.6 751.1h0M148.6 743.8h0M153.6 760.8h0M167.1 744.4h0M163.8 751.7h0M167.3 748.7h0M166.8 745.1h0" stroke="#e0e0e0" stroke-width="1" stroke-linecap="round"/>
<text font-size="5.6" text-anchor="start" fill="#f4f4f4" stroke="#f4f4f4" stroke-width="0.1" transform="translate(135.3 769.5) scale(1 1.1)">DAPI</text>
<rect x="170.6" y="737.2" width="35.2" height="34.6" fill="#adadad" stroke="none" stroke-width="0.8"/>
<rect x="170.6" y="737.2" width="35.2" height="34.6" filter="url(#mz2)"/>
<text font-size="5.6" text-anchor="start" fill="#f4f4f4" stroke="#f4f4f4" stroke-width="0.1" transform="translate(172.1 769.5) scale(1 1.1)">MAP2</text>
<text x="231.4" y="756.2" font-size="7.6" text-anchor="middle" fill="#111" stroke="#111" stroke-width="0.1" transform="rotate(-90 231.4 756.2)">INSET</text>
<rect x="235.9" y="737.2" width="35.8" height="34.6" fill="#141414" stroke="none" stroke-width="0.8"/>
<path d="M242 745h0M247 745.9h0M267.9 743.5h0M260.9 741.5h0M236.9 750.3h0M268 739.9h0M250.9 743h0M258.9 738.7h0M257.3 744.9h0M252.9 744.4h0M259 739.4h0M261.4 741.9h0M265.5 739h0M268.6 740.6h0M254.8 743.4h0M251.3 744.3h0M236.5 746.9h0M266.5 738.7h0M246.5 742.2h0M255.1 745.8h0M253.2 740.7h0M241 744.8h0M262.3 743h0M267.6 738.9h0M255.9 745h0M253.1 747.9h0M253.9 740.8h0M243.7 745.7h0M256.6 741h0M242 747.8h0M271.1 741.5h0M259.7 739.6h0M264.6 741.1h0M261.7 739.5h0M245.1 739.8h0M237.4 749.1h0M257.7 743.3h0M238.3 745.4h0M254.8 742.9h0M245.2 743.2h0M241 742.8h0M250.5 742.7h0M260 740.5h0M241.6 746.5h0M266.5 738.4h0M256.2 743.7h0M248.5 745.8h0M250.3 743.9h0M246.2 745.9h0M266.1 737.5h0M242.7 746.1h0M271 739.6h0M236.1 747.7h0M260.4 741.8h0M269.3 739.5h0M240.6 744.9h0M269.7 739.8h0M259.2 741.4h0M241 746.9h0M258.6 739.8h0M252.6 746.2h0M252.4 741.1h0M248.8 744.8h0M241.1 745.1h0M242.3 750.2h0M243 743.4h0M238.5 744h0M236.5 746.6h0M243.1 747.4h0M247.5 747h0M267.4 739h0M237.2 745h0M254.1 742.3h0M268.4 742.2h0M258.9 742.8h0M262.6 742.1h0M243.2 744.2h0M245 744h0M245.5 743.2h0M239.1 748.9h0M257.1 745.2h0M253.4 742.5h0M271.5 738.3h0M236.5 748.2h0M253.9 744.6h0M266.7 741.3h0M252.4 744.8h0M235.9 747.7h0M270.2 740.9h0M243 743.9h0M239.2 751h0M262.8 743.2h0M261.6 741h0M270.1 740h0M262.7 739.2h0M250.1 738.2h0M260 737.4h0M254.6 743.5h0M258 744h0M244.1 744.6h0M269.4 738.5h0M243.5 742.8h0M259.1 744.3h0M240.4 747.4h0M263.4 741.3h0M255.3 744.8h0M264.5 740.6h0M240.6 743.1h0M260 739.7h0M236 744.2h0M255.3 742.7h0M271.6 738.8h0M257 745.8h0M237.5 751h0M269 738.3h0M236 747.1h0M252.3 744.6h0M260.1 742.1h0M240.5 748.2h0M268 738.6h0M259.5 739.9h0M244.9 745.8h0M266.9 741.1h0M262.3 742.5h0M240.9 745.5h0M255.5 744h0M254.2 740.1h0M245.9 746.6h0M239.9 745h0M260.3 741.9h0M266 744.7h0" stroke="#bdbdbd" stroke-width="0.9" stroke-linecap="round"/>
<path d="M242.2 743.1h0M244.8 763.5h0M255.1 756.7h0M238.6 743.8h0M246.4 769.3h0M246.5 764.4h0M256.1 760.7h0M263.4 755.4h0M249.3 750.4h0M242 765.1h0M242.6 764.5h0M252.5 769.6h0M250.2 739.7h0M255.2 759.3h0M269.9 741.4h0M263.1 765.5h0M255.4 765.8h0M256 770.4h0M263.6 767.2h0M255.9 741.8h0M250.9 767.4h0M257.9 752.1h0" stroke="#e0e0e0" stroke-width="1" stroke-linecap="round"/>
<text font-size="5.6" text-anchor="start" fill="#f4f4f4" stroke="#f4f4f4" stroke-width="0.1" transform="translate(237.4 769.5) scale(1 1.1)">DAPI</text>
<rect x="273.3" y="737.2" width="34.3" height="34.6" fill="#6a6a6a" stroke="none" stroke-width="0.8"/>
<rect x="273.3" y="737.2" width="34.3" height="34.6" filter="url(#mz3)"/>
<text font-size="5.6" text-anchor="start" fill="#f4f4f4" stroke="#f4f4f4" stroke-width="0.1" transform="translate(274.8 769.5) scale(1 1.1)">MAP2</text>
<text font-size="11.5" text-anchor="start" fill="#111" stroke="#111" stroke-width="0.1" transform="translate(345.4 650.8) scale(1 1.1)">k</text>
<line x1="379.5" y1="665" x2="379.5" y2="754.2" stroke="#3a3a3a" stroke-width="0.8"/>
<line x1="377.5" y1="665" x2="379.5" y2="665" stroke="#3a3a3a" stroke-width="0.7"/>
<text font-size="6.8" text-anchor="end" fill="#111" stroke="#111" stroke-width="0.1" transform="translate(376.3 667.4) scale(1 1.1)">2.5</text>
<line x1="377.5" y1="687.4" x2="379.5" y2="687.4" stroke="#3a3a3a" stroke-width="0.7"/>
<text font-size="6.8" text-anchor="end" fill="#111" stroke="#111" stroke-width="0.1" transform="translate(376.3 689.8) scale(1 1.1)">2.0</text>
<line x1="377.5" y1="709.5" x2="379.5" y2="709.5" stroke="#3a3a3a" stroke-width="0.7"/>
<text font-size="6.8" text-anchor="end" fill="#111" stroke="#111" stroke-width="0.1" transform="translate(376.3 711.9) scale(1 1.1)">1.5</text>
<line x1="377.5" y1="731.8" x2="379.5" y2="731.8" stroke="#3a3a3a" stroke-width="0.7"/>
<text font-size="6.8" text-anchor="end" fill="#111" stroke="#111" stroke-width="0.1" transform="translate(376.3 734.2) scale(1 1.1)">1.0</text>
<line x1="377.5" y1="754.2" x2="379.5" y2="754.2" stroke="#3a3a3a" stroke-width="0.7"/>
<text font-size="6.8" text-anchor="end" fill="#111" stroke="#111" stroke-width="0.1" transform="translate(376.3 756.6) scale(1 1.1)">0.5</text>
<line x1="379.5" y1="754.2" x2="470.3" y2="754.2" stroke="#3a3a3a" stroke-width="0.8"/>
<line x1="379.9" y1="754.2" x2="379.9" y2="756.2" stroke="#3a3a3a" stroke-width="0.7"/>
<text font-size="6.8" text-anchor="middle" fill="#111" stroke="#111" stroke-width="0.1" transform="translate(379.9 764.9) scale(1 1.1)">-25</text>
<line x1="389.8" y1="754.2" x2="389.8" y2="756.2" stroke="#3a3a3a" stroke-width="0.7"/>
<text font-size="6.8" text-anchor="middle" fill="#111" stroke="#111" stroke-width="0.1" transform="translate(389.8 764.9) scale(1 1.1)">-10</text>
<line x1="399.7" y1="754.2" x2="399.7" y2="756.2" stroke="#3a3a3a" stroke-width="0.7"/>
<text font-size="6.8" text-anchor="middle" fill="#111" stroke="#111" stroke-width="0.1" transform="translate(399.7 764.9) scale(1 1.1)">-5</text>
<line x1="409.6" y1="754.2" x2="409.6" y2="756.2" stroke="#3a3a3a" stroke-width="0.7"/>
<text font-size="6.8" text-anchor="middle" fill="#111" stroke="#111" stroke-width="0.1" transform="translate(409.6 764.9) scale(1 1.1)">5</text>
<line x1="419.5" y1="754.2" x2="419.5" y2="756.2" stroke="#3a3a3a" stroke-width="0.7"/>
<text font-size="6.8" text-anchor="middle" fill="#111" stroke="#111" stroke-width="0.1" transform="translate(419.5 764.9) scale(1 1.1)">15</text>
<line x1="429.4" y1="754.2" x2="429.4" y2="756.2" stroke="#3a3a3a" stroke-width="0.7"/>
<text font-size="6.8" text-anchor="middle" fill="#111" stroke="#111" stroke-width="0.1" transform="translate(429.4 764.9) scale(1 1.1)">25</text>
<line x1="439.3" y1="754.2" x2="439.3" y2="756.2" stroke="#3a3a3a" stroke-width="0.7"/>
<text font-size="6.8" text-anchor="middle" fill="#111" stroke="#111" stroke-width="0.1" transform="translate(439.3 764.9) scale(1 1.1)">35</text>
<line x1="449.2" y1="754.2" x2="449.2" y2="756.2" stroke="#3a3a3a" stroke-width="0.7"/>
<text font-size="6.8" text-anchor="middle" fill="#111" stroke="#111" stroke-width="0.1" transform="translate(449.2 764.9) scale(1 1.1)">45</text>
<line x1="459.1" y1="754.2" x2="459.1" y2="756.2" stroke="#3a3a3a" stroke-width="0.7"/>
<text font-size="6.8" text-anchor="middle" fill="#111" stroke="#111" stroke-width="0.1" transform="translate(459.1 764.9) scale(1 1.1)">55</text>
<line x1="469" y1="754.2" x2="469" y2="756.2" stroke="#3a3a3a" stroke-width="0.7"/>
<text font-size="6.8" text-anchor="middle" fill="#111" stroke="#111" stroke-width="0.1" transform="translate(469 764.9) scale(1 1.1)">65</text>
<text font-size="7" text-anchor="middle" fill="#111" stroke="#111" stroke-width="0.1" transform="translate(424.8 774.4) scale(1 1.1)">Time (Sec)</text>
<text x="359.2" y="708.3" font-size="6.6" text-anchor="middle" fill="#111" stroke="#111" stroke-width="0.1" transform="rotate(-90 359.2 708.3)">fEPSP slope (Fold baseline)</text>
<text font-size="5.6" text-anchor="middle" fill="#111" stroke="#111" stroke-width="0.1" transform="translate(405.5 660.6) scale(1 1.1)">HFS</text>
<line x1="405.5" y1="661.8" x2="405.5" y2="667" stroke="#111" stroke-width="0.6"/>
<path d="M403.9 665.0 L405.5 667.6 L407.1 665.0" stroke="#111" stroke-width="0.6" fill="none"/>
<circle cx="419.8" cy="648.6" r="1.4" fill="#1f1fff"/>
<text font-size="5.3" text-anchor="start" fill="#222" stroke="#222" stroke-width="0.1" transform="translate(423 650.5) scale(1 1.1)">Vehicle</text>
<circle cx="419.8" cy="653.8" r="1.4" fill="#3aa34a"/>
<text font-size="5.3" text-anchor="start" fill="#222" stroke="#222" stroke-width="0.1" transform="translate(423 655.7) scale(1 1.1)">VCD (E2:P4&lt;2.5 pg/ng)</text>
<circle cx="419.8" cy="659" r="1.4" fill="#ff2424"/>
<text font-size="5.3" text-anchor="start" fill="#222" stroke="#222" stroke-width="0.1" transform="translate(423 660.9) scale(1 1.1)">VCD (E2:P4≥2.5 pg/ng)</text>
<path d="M379.8 726.1v7.2M380.2 724.9v8.9M380.6 729.7v6.4M381.1 726.1v11.7M381.5 736.7v6.6M381.9 723.7v11.6M382.3 734.9v6M382.7 726.5v6.9M383.2 734.4v6.9M383.6 727.6v10.6M384 733v12.7M384.4 724.6v11.7M384.8 736.1v5.9M385.3 726.8v6.1M385.7 729.7v9.5M386.1 735.9v5.8M386.5 723.6v11M386.9 724.2v7M387.4 728.5v11.1M387.8 732.4v5.6M388.2 729.7v8M388.6 720.8v12.7M389 725.4v5.8M389.5 731v6.1M389.9 730.5v11.7M390.3 722.6v11M390.7 728.2v9M391.1 727.4v5.6M391.6 734.1v12.3M392 734.4v8.9M392.4 724.9v7.3M392.8 726.8v6.6M393.2 736.5v7.1M393.7 727.3v12.7M394.1 726.3v9M394.5 733.7v6.1M394.9 728.3v7.4M395.3 729.4v9.8M395.8 736.2v6.4M396.2 734.6v9.2M396.6 728v6.6M397 723.2v8.8M397.4 728.3v11.1M397.9 733.5v8.6M398.3 731.1v11.9M398.7 722.8v12.2M399.1 724.5v11M399.5 721.5v11M400 725.4v9.1M400.4 730.9v8.2M400.8 725.1v10.6M401.2 731v10.4M401.6 732.8v11.2M402.1 728.6v16.3M402.5 720.8v9.6M402.9 715.8v16.2M403.3 705.7v12.3M403.7 704.7v9.7M404.2 689.4v20.8M404.6 692.1v9.9M405 677.5v19.5M405.4 679.4v10.8M405.8 674v19.5M406.3 684.2v9.3M406.7 675.4v18.7M407.1 676.4v20.6M407.5 682.6v15.7M407.9 684.4v15.8M408.4 682.7v17.8M408.8 693.2v15.7M409.2 696.8v5.3M409.6 700.5v7.4M410 700v5.7M410.5 702.4v4.2M410.9 699v4.6M411.3 697.9v6.1M411.7 701.6v6.7M412.1 702.8v4.2M412.6 702v6.9M413 700.4v4.6M413.4 702.4v5.4M413.8 699.7v4M414.2 704.7v5.1M414.7 700.1v6.3M415.1 697.4v6.3M415.5 698.6v5.3M415.9 698v4.9M416.3 697.7v6.6M416.8 704.2v7.5M417.2 701.6v6.3M417.6 705.9v4.7M418 697.8v5.9M418.4 699.9v3.9M418.9 703.3v4M419.3 702.6v4.8M419.7 706.2v4.4M420.1 700.3v5.1M420.5 706.4v5.5M421 703v6.1M421.4 706.7v5.4M421.8 703.2v3.3M422.2 707v5.4M422.6 704.3v7.1M423.1 703.2v5.8M423.5 700.2v6.2M423.9 703.9v4M424.3 701.7v4.5M424.7 700.3v5.7M425.2 707.2v6.1M425.6 703.2v4.3M426 704.3v4.9M426.4 705.6v4.9M426.8 708.2v4.5M427.3 701.9v6.6M427.7 705.8v6.5M428.1 708.3v3.4M428.5 700.9v6.7M428.9 704.8v5.1M429.4 708.3v6.6M429.8 701.8v5.4M430.2 704.2v4.3M430.6 704.2v4.7M431 704.3v7.5M431.5 707.1v4.1M431.9 704.9v3.3M432.3 708.1v4.4M432.7 707.4v4.5M433.1 704.2v3.6M433.6 704v3.8M434 708.6v4M434.4 703.8v7.3M434.8 705.7v3.7M435.2 705.3v5.6M435.7 710.9v5.2M436.1 708.3v4M436.5 709.7v7.7M436.9 706.5v6.4M437.3 706.6v3.3M437.8 705.5v4.9M438.2 703.5v7.3M438.6 703.4v7.3M439 708.2v7.3M439.4 707.4v3.7M439.9 705.5v5.5M440.3 711.5v3.7M440.7 708.3v6.3M441.1 706v6.9M441.5 705.1v5.6M442 705v4.9M442.4 708.3v4.2M442.8 706.1v5.1M443.2 709.3v7.1M443.6 703.5v7.3M444.1 707.1v3.9M444.5 704v3.8M444.9 711.5v3.2M445.3 705.2v4.4M445.7 709.1v4.3M446.2 703.9v5.1M446.6 707.5v4.8M447 704.1v7.7M447.4 709.9v5.6M447.8 703.8v6.9M448.3 710.8v4.2M448.7 708.5v3.3M449.1 707.9v4.5M449.5 711.2v4.5M449.9 709.3v7.2M450.4 703.7v5.4M450.8 705.6v4.9M451.2 703.7v7.2M451.6 705.6v7M452 708.9v5.7M452.5 709.8v5M452.9 702.2v7.5M453.3 703v6M453.7 709.5v3.3M454.1 705v5.5M454.6 708.8v5M455 707.2v5.5M455.4 702.3v7M455.8 705.8v7.3M456.2 705.5v5.2M456.7 711.8v3.5M457.1 710.5v4.5M457.5 708.2v5.3M457.9 705.4v3.8M458.3 705.6v7.2M458.8 710.6v5.1M459.2 703.7v6.8M459.6 705.8v6.8M460 707.7v3.8M460.4 704.7v5.7M460.9 709.8v5M461.3 705.2v6.3M461.7 709.6v5M462.1 705.4v6.2M462.5 704.9v5.3M463 704.6v3.4M463.4 709.5v3.3M463.8 710.8v4M464.2 703.8v4.6M464.6 711.2v3.3M465.1 706.8v3.7M465.5 708.6v4.3M465.9 702.9v6.4M466.3 705.7v5.3M466.7 708.1v3.9M467.2 711.6v3.3M467.6 707.3v5.2M468 705.9v6.2M468.4 706.7v5.6M468.8 711.4v4M469.3 703.2v5.6M469.7 709.9v3.9" stroke="#7cc48a" stroke-width="0.45" opacity="0.9"/>
<path d="M379.8 729.7h0M380 736.3h0M380.2 729.4h0M380.4 739.5h0M380.6 732.9h0M380.8 732h0M381.1 731.9h0M381.3 733.7h0M381.5 740h0M381.7 726.8h0M381.9 729.5h0M382.1 733.6h0M382.3 737.9h0M382.5 736.4h0M382.7 730h0M382.9 733.2h0M383.2 737.8h0M383.4 740h0M383.6 732.9h0M383.8 734.6h0M384 739.4h0M384.2 728.5h0M384.4 730.5h0M384.6 730h0M384.8 739.1h0M385 734.3h0M385.3 729.9h0M385.5 733.1h0M385.7 734.4h0M385.9 729.5h0M386.1 738.7h0M386.3 727.1h0M386.5 729.1h0M386.7 726.5h0M386.9 727.7h0M387.1 733.2h0M387.4 734.1h0M387.6 730.1h0M387.8 735.2h0M388 726.9h0M388.2 733.7h0M388.4 740.7h0M388.6 727.1h0M388.8 739.5h0M389 728.3h0M389.2 730.8h0M389.5 734.1h0M389.7 730.8h0M389.9 736.4h0M390.1 739.9h0M390.3 728.1h0M390.5 727.3h0M390.7 732.7h0M390.9 740.3h0M391.1 730.2h0M391.3 729.8h0M391.6 740.3h0M391.8 739.9h0M392 738.9h0M392.2 735.3h0M392.4 728.5h0M392.6 739.2h0M392.8 730h0M393 740h0M393.2 740h0M393.4 726.7h0M393.7 733.7h0M393.9 735.5h0M394.1 730.8h0M394.3 732.2h0M394.5 736.8h0M394.7 728.5h0M394.9 732.1h0M395.1 736.8h0M395.3 734.3h0M395.5 738.4h0M395.8 739.4h0M396 741h0M396.2 739.2h0M396.4 727.9h0M396.6 731.3h0M396.8 729.5h0M397 727.6h0M397.2 735.4h0M397.4 733.8h0M397.6 730.7h0M397.9 737.8h0M398.1 728.7h0M398.3 737h0M398.5 728.2h0M398.7 728.9h0M398.9 736.4h0M399.1 730h0M399.3 726.6h0M399.5 727h0M399.7 734h0M400 729.9h0M400.2 733.3h0M400.4 735h0M400.6 728.1h0M400.8 730.4h0M401 732.7h0M401.2 736.2h0M401.4 740.1h0M401.6 738.4h0M401.8 735.8h0M402.1 736.8h0M402.3 733.1h0M402.5 725.6h0M402.7 724.1h0M402.9 723.9h0M403.1 721.9h0M403.3 711.8h0M403.5 709h0M403.7 709.5h0M403.9 705.4h0M404.2 699.8h0M404.4 698.7h0M404.6 697.1h0M404.8 695.3h0M405 687.3h0M405.2 686.2h0M405.4 684.8h0M405.6 682.5h0M405.8 683.7h0M406 679.5h0M406.3 688.9h0M406.5 693.3h0M406.7 684.8h0M406.9 688.9h0M407.1 686.7h0M407.3 683.9h0M407.5 690.5h0M407.7 687.6h0M407.9 692.3h0M408.1 696.2h0M408.4 691.6h0M408.6 692.6h0M408.8 701.1h0M409 701.2h0M409.2 699.5h0M409.4 703.3h0M409.6 704.3h0M409.8 701.1h0M410 702.8h0M410.2 700.5h0M410.5 704.5h0M410.7 700.3h0M410.9 701.3h0M411.1 697.7h0M411.3 701h0M411.5 703.8h0M411.7 704.9h0M411.9 702.5h0M412.1 704.9h0M412.3 703.9h0M412.6 705.5h0M412.8 701.2h0M413 702.7h0M413.2 703.4h0M413.4 705.1h0M413.6 699h0M413.8 701.7h0M414 705.2h0M414.2 707.2h0M414.4 705.2h0M414.7 703.3h0M414.9 702.4h0M415.1 700.5h0M415.3 700.8h0M415.5 701.3h0M415.7 703.3h0M415.9 700.5h0M416.1 700.3h0M416.3 701h0M416.5 704.6h0M416.8 707.9h0M417 703.3h0M417.2 704.8h0M417.4 700.9h0M417.6 708.3h0M417.8 708.3h0M418 700.8h0M418.2 703.1h0M418.4 701.8h0M418.6 706h0M418.9 705.3h0M419.1 701.1h0M419.3 705h0M419.5 706.8h0M419.7 708.4h0M419.9 701.4h0M420.1 702.9h0M420.3 708.2h0M420.5 709.2h0M420.7 704.6h0M421 706.1h0M421.2 708.2h0M421.4 709.4h0M421.6 701.7h0M421.8 704.9h0M422 706.5h0M422.2 709.7h0M422.4 703.9h0M422.6 707.8h0M422.8 705.7h0M423.1 706.1h0M423.3 706h0M423.5 703.3h0M423.7 710.6h0M423.9 705.9h0M424.1 704.5h0M424.3 704h0M424.5 703.9h0M424.7 703.2h0M424.9 710.8h0M425.2 710.2h0M425.4 709.7h0M425.6 705.4h0M425.8 707.2h0M426 706.8h0M426.2 707.6h0M426.4 708h0M426.6 707.6h0M426.8 710.5h0M427 707.5h0M427.3 705.2h0M427.5 703.4h0M427.7 709.1h0M427.9 707.9h0M428.1 710h0M428.3 705.1h0M428.5 704.2h0M428.7 707.5h0M428.9 707.3h0M429.1 705h0M429.4 711.6h0M429.6 710.9h0M429.8 704.5h0M430 710.9h0M430.2 706.3h0M430.4 710.3h0M430.6 706.6h0M430.8 712.2h0M431 708.1h0M431.2 708.9h0M431.5 709.1h0M431.7 709.8h0M431.9 706.6h0M432.1 713.2h0M432.3 710.3h0M432.5 706.5h0M432.7 709.6h0M432.9 713.1h0M433.1 706h0M433.3 706.2h0M433.6 705.9h0M433.8 709.9h0M434 710.7h0M434.2 705.4h0M434.4 707.5h0M434.6 705.6h0M434.8 707.5h0M435 705.7h0M435.2 708h0M435.4 705.4h0M435.7 713.5h0M435.9 711.5h0M436.1 710.3h0M436.3 707.6h0M436.5 713.6h0M436.7 708.2h0M436.9 709.7h0M437.1 708h0M437.3 708.2h0M437.5 706.9h0M437.8 708h0M438 710.2h0M438.2 707.2h0M438.4 713h0M438.6 707.1h0M438.8 706.6h0M439 711.9h0M439.2 708.7h0M439.4 709.3h0M439.6 707.9h0M439.9 708.3h0M440.1 713.9h0M440.3 713.4h0M440.5 711.3h0M440.7 711.4h0M440.9 713h0M441.1 709.4h0M441.3 707.1h0M441.5 707.9h0M441.7 708.7h0M442 707.4h0M442.2 710.2h0M442.4 710.4h0M442.6 713.9h0M442.8 708.6h0M443 710.6h0M443.2 712.8h0M443.4 712.8h0M443.6 707.2h0M443.8 710.9h0M444.1 709h0M444.3 707.3h0M444.5 705.9h0M444.7 710h0M444.9 713.1h0M445.1 713.6h0M445.3 707.4h0M445.5 706.9h0M445.7 711.2h0M445.9 705.8h0M446.2 706.4h0M446.4 706.7h0M446.6 709.9h0M446.8 710.5h0M447 708h0M447.2 708h0M447.4 712.6h0M447.6 711.3h0M447.8 707.3h0M448 705.1h0M448.3 712.9h0M448.5 707.2h0M448.7 710.2h0M448.9 713.5h0M449.1 710.2h0M449.3 706.2h0M449.5 713.4h0M449.7 707.9h0M449.9 712.9h0M450.1 712.3h0M450.4 706.4h0M450.6 709.6h0M450.8 708.1h0M451 711h0M451.2 707.3h0M451.4 708.1h0M451.6 709h0M451.8 706.6h0M452 711.7h0M452.2 708.3h0M452.5 712.3h0M452.7 712.1h0M452.9 706h0M453.1 713.8h0M453.3 706h0M453.5 710.5h0M453.7 711.2h0M453.9 713.8h0M454.1 707.7h0M454.3 712.1h0M454.6 711.3h0M454.8 714.1h0M455 709.9h0M455.2 705.4h0M455.4 705.8h0M455.6 710.5h0M455.8 709.5h0M456 713.9h0M456.2 708.1h0M456.4 708.9h0M456.7 713.5h0M456.9 706.2h0M457.1 712.7h0M457.3 707.1h0M457.5 710.9h0M457.7 711.7h0M457.9 707.3h0M458.1 711.1h0M458.3 709.2h0M458.5 710.9h0M458.8 713.1h0M459 710.3h0M459.2 707.1h0M459.4 712.4h0M459.6 709.2h0M459.8 706.6h0M460 709.6h0M460.2 707.6h0M460.4 707.6h0M460.6 712.2h0M460.9 712.3h0M461.1 705.5h0M461.3 708.3h0M461.5 709.5h0M461.7 712.1h0M461.9 707.1h0M462.1 708.5h0M462.3 705.7h0M462.5 707.5h0M462.7 709.7h0M463 706.3h0M463.2 709.9h0M463.4 711.1h0M463.6 709.8h0M463.8 712.8h0M464 709h0M464.2 706.1h0M464.4 713.1h0M464.6 712.9h0M464.8 710.7h0M465.1 708.7h0M465.3 712.9h0M465.5 710.8h0M465.7 713.1h0M465.9 706.1h0M466.1 711.3h0M466.3 708.3h0M466.5 708h0M466.7 710.1h0M466.9 708.2h0M467.2 713.3h0M467.4 713.2h0M467.6 709.9h0M467.8 713.3h0M468 709h0M468.2 712h0M468.4 709.5h0M468.6 711.3h0M468.8 713.3h0M469 709.2h0M469.3 706h0M469.5 709.1h0M469.7 711.9h0M469.9 713.4h0" stroke="#3aa34a" stroke-width="1.4" stroke-linecap="round"/>
<path d="M379.8 730.6v5.4M380.2 731.7v3.7M380.6 730.8v4.7M381.1 728.7v3.2M381.5 728.4v4.7M381.9 729.9v5.7M382.3 732.6v4.6M382.7 733.9v2.4M383.2 733v2.6M383.6 728.3v3.7M384 731.3v4.5M384.4 732.3v4.1M384.8 727.6v4.6M385.3 727.9v5.3M385.7 731.7v2.7M386.1 731.5v5.3M386.5 732.5v3.5M386.9 731.7v3.9M387.4 730v4.7M387.8 728v4.3M388.2 732.6v3.4M388.6 729.1v4M389 732.5v3M389.5 729.7v4.4M389.9 733.5v3.4M390.3 730.2v5.5M390.7 730.6v2.7M391.1 731.7v5.3M391.6 733.5v3.5M392 728v5.5M392.4 731.2v3.6M392.8 729.5v4.6M393.2 727.4v5.7M393.7 730.6v5.5M394.1 729.1v4.9M394.5 727.9v4.1M394.9 731.3v5.2M395.3 733.1v3.8M395.8 731.6v4.9M396.2 731.2v3.2M396.6 733.6v3M397 731.6v2.4M397.4 728.9v4.8M397.9 732v5.2M398.3 727.6v4.2M398.7 728.9v5.6M399.1 731.2v4.4M399.5 728.1v5.4M400 732.3v5.1M400.4 727.5v4.1M400.8 731.9v5.7M401.2 728.3v2.8M401.6 726.9v4.9M402.1 720.8v16.8M402.5 715.8v13.8M402.9 714.8v16.2M403.3 712.3v11.7M403.7 706.7v14.2M404.2 694.1v17.4M404.6 689.6v20.5M405 691.4v12.6M405.4 680.7v21.3M405.8 687.1v20.3M406.3 693.2v11.9M406.7 693v19.9M407.1 695.4v12.5M407.5 697.3v11.7M407.9 699.1v19.3M408.4 705.4v16.9M408.8 706.1v12M409.2 717.2v4.8M409.6 719.1v5.6M410 715.9v3.4M410.5 719.4v5.1M410.9 721v3.8M411.3 715.7v5.8M411.7 718.6v6.2M412.1 719.9v4.2M412.6 714.7v5.2M413 715.2v4.6M413.4 714.3v6.1M413.8 716.7v5.9M414.2 717.8v5.6M414.7 715.6v5M415.1 721.2v4.5M415.5 720.8v3.6M415.9 718.6v5.3M416.3 715.9v4.8M416.8 716.7v3.9M417.2 721.7v3.2M417.6 716.3v6.2M418 717.1v4.7M418.4 719.2v5.8M418.9 715.6v5.3M419.3 716.8v6.3M419.7 720.7v4.6M420.1 715.4v5.5M420.5 716v3.7M421 716.1v4.2M421.4 718.7v2.7M421.8 716v2.7M422.2 718v4M422.6 717.6v5.1M423.1 719.9v3.7M423.5 718.9v5.8M423.9 718.2v3.2M424.3 717.1v5.7M424.7 722.5v2.8M425.2 718.5v4.1M425.6 722v3.1M426 720.4v3.7M426.4 715.1v6.4M426.8 721.6v3.1M427.3 717.3v4.1M427.7 716v4.2M428.1 720.8v4.7M428.5 719.1v5M428.9 715.6v5M429.4 718.4v2.7M429.8 720.1v5.8M430.2 717.6v3.7M430.6 714.8v6.3M431 715.9v5.8M431.5 718.3v3.1M431.9 714.7v5.6M432.3 722v3.1M432.7 720.7v4.9M433.1 717.9v5.8M433.6 717.3v4.1M434 718v4.2M434.4 721.2v3.7M434.8 715v6.2M435.2 720.9v5.5M435.7 720.7v4.1M436.1 716.2v5.3M436.5 718.8v3.8M436.9 718.8v4.9M437.3 714.9v6.1M437.8 720.4v4M438.2 715.9v4.6M438.6 720v6.1M439 719v6M439.4 721.9v2.9M439.9 718.3v3.4M440.3 715.3v4.3M440.7 717.1v5.3M441.1 716.5v5.2M441.5 720.1v3.6M442 720.9v4M442.4 716.6v4.9M442.8 721.1v4.1M443.2 717.3v5.3M443.6 716.7v3.7M444.1 722.1v3.1M444.5 720.8v6.4M444.9 717.2v4.2M445.3 720.6v4.8M445.7 722v3.6M446.2 718.1v6.3M446.6 722v3.5M447 718.4v4.3M447.4 717.4v3.8M447.8 719.8v5.2M448.3 720.4v4.4M448.7 718.3v3M449.1 716v4.8M449.5 715.5v4M449.9 718.6v3.1M450.4 716.7v4.7M450.8 720.7v2.9M451.2 721.3v4.6M451.6 718.2v3.4M452 719.2v5.9M452.5 718.1v5.1M452.9 721.4v3.1M453.3 720.1v6M453.7 717.3v3.8M454.1 719.4v4.1M454.6 721.8v3.1M455 720v4M455.4 721.8v3M455.8 719.5v4.7M456.2 717.7v6.3M456.7 719.9v4.4M457.1 721.8v3.1M457.5 718v5.6M457.9 721.6v3.8M458.3 717.7v5M458.8 721.3v3.3M459.2 720v3M459.6 719.6v5.4M460 715.8v3.4M460.4 720.1v5.9M460.9 717.7v6.3M461.3 717v4.8M461.7 719.6v4.3M462.1 718.4v2.8M462.5 716.3v4.7M463 715.9v3.8M463.4 720.3v4.9M463.8 718.1v4.9M464.2 715.5v6.4M464.6 720.5v3.7M465.1 718.3v5.2M465.5 716.8v6M465.9 720.7v4.9M466.3 718.5v4M466.7 719.2v4.5M467.2 720.6v2.9M467.6 718v4.2M468 719.8v6.1M468.4 718.5v3.4M468.8 719.2v5M469.3 718.2v4.3M469.7 716.7v3.5" stroke="#ff8080" stroke-width="0.45" opacity="0.9"/>
<path d="M379.8 733.3h0M380 734.6h0M380.2 733.6h0M380.4 732.9h0M380.6 733.1h0M380.8 734.5h0M381.1 730.3h0M381.3 731.9h0M381.5 730.7h0M381.7 735.5h0M381.9 732.7h0M382.1 734.5h0M382.3 734.9h0M382.5 733.6h0M382.7 735.1h0M382.9 730.6h0M383.2 734.3h0M383.4 729.8h0M383.6 730.1h0M383.8 734.7h0M384 733.6h0M384.2 731.3h0M384.4 734.3h0M384.6 734h0M384.8 729.9h0M385 732.5h0M385.3 730.5h0M385.5 731.1h0M385.7 733.1h0M385.9 730.8h0M386.1 734.1h0M386.3 735.3h0M386.5 734.3h0M386.7 732.5h0M386.9 733.7h0M387.1 734.9h0M387.4 732.4h0M387.6 732.1h0M387.8 730.1h0M388 732.1h0M388.2 734.3h0M388.4 733.2h0M388.6 731.1h0M388.8 734.9h0M389 734h0M389.2 729.7h0M389.5 731.9h0M389.7 733.6h0M389.9 735.2h0M390.1 730.5h0M390.3 733h0M390.5 731.7h0M390.7 732h0M390.9 732.2h0M391.1 734.4h0M391.3 734.5h0M391.6 735.2h0M391.8 730.2h0M392 730.7h0M392.2 732.6h0M392.4 733h0M392.6 734.6h0M392.8 731.8h0M393 734.8h0M393.2 730.3h0M393.4 735.7h0M393.7 733.3h0M393.9 731.8h0M394.1 731.6h0M394.3 729.3h0M394.5 730h0M394.7 730.5h0M394.9 733.9h0M395.1 731.4h0M395.3 735h0M395.5 730.3h0M395.8 734.1h0M396 735.1h0M396.2 732.8h0M396.4 735.5h0M396.6 735.1h0M396.8 733.8h0M397 732.8h0M397.2 735.2h0M397.4 731.3h0M397.6 729.3h0M397.9 734.6h0M398.1 729.2h0M398.3 729.7h0M398.5 733.1h0M398.7 731.7h0M398.9 729h0M399.1 733.4h0M399.3 735.6h0M399.5 730.8h0M399.7 735.3h0M400 734.9h0M400.2 731.1h0M400.4 729.5h0M400.6 733.8h0M400.8 734.7h0M401 731h0M401.2 729.7h0M401.4 735.7h0M401.6 729.4h0M401.8 729.4h0M402.1 729.2h0M402.3 729.9h0M402.5 722.7h0M402.7 723.2h0M402.9 723h0M403.1 723.4h0M403.3 718.2h0M403.5 721.3h0M403.7 713.8h0M403.9 716.9h0M404.2 702.8h0M404.4 703.7h0M404.6 699.9h0M404.8 699.5h0M405 697.7h0M405.2 696.3h0M405.4 691.3h0M405.6 690.3h0M405.8 697.2h0M406 699h0M406.3 699.2h0M406.5 699.5h0M406.7 702.9h0M406.9 701.1h0M407.1 701.7h0M407.3 699.8h0M407.5 703.2h0M407.7 704.6h0M407.9 708.7h0M408.1 711.6h0M408.4 713.9h0M408.6 710.6h0M408.8 712.1h0M409 715.1h0M409.2 719.6h0M409.4 722.3h0M409.6 722h0M409.8 719h0M410 717.6h0M410.2 718.7h0M410.5 722h0M410.7 717.2h0M410.9 722.9h0M411.1 719.1h0M411.3 718.6h0M411.5 723.6h0M411.7 721.7h0M411.9 716.7h0M412.1 722h0M412.3 717.9h0M412.6 717.3h0M412.8 720.9h0M413 717.5h0M413.2 723.8h0M413.4 717.4h0M413.6 716.9h0M413.8 719.7h0M414 718.5h0M414.2 720.6h0M414.4 724h0M414.7 718.1h0M414.9 720.6h0M415.1 723.5h0M415.3 717.2h0M415.5 722.6h0M415.7 721.9h0M415.9 721.3h0M416.1 720.9h0M416.3 718.3h0M416.5 723.5h0M416.8 718.7h0M417 721.7h0M417.2 723.3h0M417.4 720.4h0M417.6 719.5h0M417.8 724.1h0M418 719.5h0M418.2 722.9h0M418.4 722h0M418.6 720.9h0M418.9 718.3h0M419.1 719.7h0M419.3 719.9h0M419.5 724h0M419.7 723h0M419.9 718.5h0M420.1 718.1h0M420.3 722.5h0M420.5 717.9h0M420.7 722.3h0M421 718.2h0M421.2 720.9h0M421.4 720h0M421.6 718.7h0M421.8 717.3h0M422 720.9h0M422.2 720h0M422.4 721.1h0M422.6 720.1h0M422.8 723.7h0M423.1 721.8h0M423.3 719h0M423.5 721.8h0M423.7 716.8h0M423.9 719.8h0M424.1 721.7h0M424.3 719.9h0M424.5 721.1h0M424.7 723.9h0M424.9 720h0M425.2 720.6h0M425.4 721.4h0M425.6 723.6h0M425.8 722.2h0M426 722.3h0M426.2 718.7h0M426.4 718.3h0M426.6 721.6h0M426.8 723.2h0M427 720.3h0M427.3 719.3h0M427.5 723.2h0M427.7 718.1h0M427.9 722.5h0M428.1 723.2h0M428.3 719h0M428.5 721.6h0M428.7 719.5h0M428.9 718.2h0M429.1 717.4h0M429.4 719.8h0M429.6 723.5h0M429.8 723h0M430 720.2h0M430.2 719.5h0M430.4 721.8h0M430.6 717.9h0M430.8 724.2h0M431 718.8h0M431.2 723.2h0M431.5 719.9h0M431.7 721.1h0M431.9 717.5h0M432.1 721h0M432.3 723.5h0M432.5 720.3h0M432.7 723.1h0M432.9 719h0M433.1 720.8h0M433.3 724.3h0M433.6 719.3h0M433.8 724.5h0M434 720.1h0M434.2 722.2h0M434.4 723.1h0M434.6 718.7h0M434.8 718.1h0M435 721.4h0M435.2 723.6h0M435.4 722.8h0M435.7 722.7h0M435.9 723.7h0M436.1 718.9h0M436.3 719.2h0M436.5 720.7h0M436.7 720.8h0M436.9 721.3h0M437.1 722.4h0M437.3 717.9h0M437.5 719.5h0M437.8 722.5h0M438 720.6h0M438.2 718.2h0M438.4 722.6h0M438.6 723h0M438.8 724.5h0M439 722h0M439.2 722.4h0M439.4 723.4h0M439.6 723.2h0M439.9 720h0M440.1 722.6h0M440.3 717.4h0M440.5 718.3h0M440.7 719.8h0M440.9 723.4h0M441.1 719.1h0M441.3 721.3h0M441.5 721.9h0M441.7 723.9h0M442 722.9h0M442.2 719.8h0M442.4 719h0M442.6 720.3h0M442.8 723.1h0M443 720.3h0M443.2 720h0M443.4 717.2h0M443.6 718.6h0M443.8 719.6h0M444.1 723.6h0M444.3 720.1h0M444.5 724h0M444.7 723.8h0M444.9 719.3h0M445.1 721.1h0M445.3 722.9h0M445.5 720.5h0M445.7 723.8h0M445.9 723.9h0M446.2 721.3h0M446.4 717.9h0M446.6 723.7h0M446.8 718.2h0M447 720.5h0M447.2 718.5h0M447.4 719.3h0M447.6 718.8h0M447.8 722.4h0M448 717.1h0M448.3 722.6h0M448.5 724h0M448.7 719.9h0M448.9 718.3h0M449.1 718.4h0M449.3 723h0M449.5 717.5h0M449.7 721h0M449.9 720.1h0M450.1 723.9h0M450.4 719.1h0M450.6 722.2h0M450.8 722.2h0M451 719.3h0M451.2 723.6h0M451.4 722.6h0M451.6 719.8h0M451.8 719.4h0M452 722.1h0M452.2 718.2h0M452.5 720.7h0M452.7 718h0M452.9 722.9h0M453.1 718h0M453.3 723.1h0M453.5 718.8h0M453.7 719.2h0M453.9 718.7h0M454.1 721.5h0M454.3 718.3h0M454.6 723.3h0M454.8 722.3h0M455 722h0M455.2 722.6h0M455.4 723.3h0M455.6 717.3h0M455.8 721.9h0M456 717.7h0M456.2 720.8h0M456.4 719.1h0M456.7 722.1h0M456.9 720.3h0M457.1 723.4h0M457.3 721.2h0M457.5 720.8h0M457.7 718.5h0M457.9 723.4h0M458.1 721.6h0M458.3 720.2h0M458.5 718.1h0M458.8 722.9h0M459 724.3h0M459.2 721.5h0M459.4 723.4h0M459.6 722.3h0M459.8 723.3h0M460 717.6h0M460.2 719.7h0M460.4 723h0M460.6 717h0M460.9 720.8h0M461.1 719.4h0M461.3 719.4h0M461.5 719.9h0M461.7 721.7h0M461.9 721.2h0M462.1 719.8h0M462.3 719.4h0M462.5 718.7h0M462.7 719.6h0M463 717.8h0M463.2 721.1h0M463.4 722.7h0M463.6 722.2h0M463.8 720.5h0M464 721.7h0M464.2 718.7h0M464.4 717.7h0M464.6 722.4h0M464.8 717.9h0M465.1 720.9h0M465.3 724h0M465.5 719.8h0M465.7 719h0M465.9 723.2h0M466.1 723.9h0M466.3 720.5h0M466.5 722.6h0M466.7 721.5h0M466.9 719h0M467.2 722.1h0M467.4 723.1h0M467.6 720.1h0M467.8 722.8h0M468 722.9h0M468.2 719.8h0M468.4 720.2h0M468.6 721h0M468.8 721.7h0M469 719.4h0M469.3 720.4h0M469.5 718.6h0M469.7 718.5h0M469.9 717.5h0" stroke="#ff2424" stroke-width="1.4" stroke-linecap="round"/>
<path d="M379.8 727.2v7M380.2 733v5.3M380.6 727.6v3.5M381.1 728.3v3M381.5 729.6v5.9M381.9 728v5.7M382.3 727.7v6.3M382.7 731.5v5.9M383.2 728.9v6.4M383.6 733.1v3.5M384 729.8v3.8M384.4 728.8v3.2M384.8 730.8v6.1M385.3 731.2v3.9M385.7 731.3v5.9M386.1 729.1v5.3M386.5 730.9v6M386.9 732.3v5.1M387.4 728.5v4M387.8 734v3.5M388.2 727.2v4.1M388.6 729.7v6M389 728.9v4.2M389.5 728.2v6.1M389.9 730.8v3.4M390.3 733.5v4.7M390.7 728.7v6.9M391.1 730.2v6.3M391.6 730.1v4.2M392 730.1v5M392.4 729.4v6.3M392.8 730.2v3.9M393.2 733.4v3.1M393.7 731.5v4.3M394.1 731.1v5.8M394.5 730.1v3.1M394.9 732.4v4.1M395.3 726.5v4.4M395.8 733.9v3.9M396.2 731.8v6.9M396.6 730.7v5.2M397 726.8v5.1M397.4 726.8v6.7M397.9 731.4v5.5M398.3 727.7v4M398.7 729.8v6.1M399.1 727.6v5.9M399.5 729.5v4M400 728.3v6.9M400.4 728.2v6.3M400.8 731v5M401.2 728.4v3.8M401.6 728.6v3.6M402.1 721.9v17.6M402.5 719.9v12.5M402.9 708.7v9.2M403.3 696.9v16M403.7 697v13.7M404.2 688.9v14M404.6 681.5v14.9M405 667.5v14.4M405.4 662.4v13.9M405.8 664.7v14.2M406.3 668.5v14M406.7 672v17M407.1 680.4v9.2M407.5 686v14.7M407.9 688.4v16M408.4 692.6v11.4M408.8 702.3v10.7M409.2 706.3v6.4M409.6 711.3v4.9M410 705.6v3.7M410.5 707.9v4.9M410.9 707.3v4.3M411.3 708.3v5M411.7 709.7v4.3M412.1 704.1v4.9M412.6 705.4v4.9M413 703.4v7.7M413.4 706.2v6.1M413.8 709.9v3.8M414.2 703.2v6.8M414.7 707.2v5.1M415.1 711.5v5.1M415.5 704.6v5M415.9 710.2v6.5M416.3 705.4v4.4M416.8 703.8v7.3M417.2 705.2v3.9M417.6 706.8v3.8M418 710.8v6.7M418.4 705.7v5.3M418.9 710.5v3.8M419.3 710.2v4.7M419.7 706v4.7M420.1 707.6v5.4M420.5 704.4v5.4M421 706.5v4.4M421.4 705.6v7.2M421.8 709.7v5M422.2 709.2v5.4M422.6 704v6.6M423.1 708.2v7.3M423.5 710.2v6.5M423.9 709v5.2M424.3 704v6.3M424.7 711.2v6.3M425.2 705.3v4.5M425.6 706.4v6.9M426 711.5v5.5M426.4 708.5v4.2M426.8 707.1v3.9M427.3 706.1v4.4M427.7 711.2v6.1M428.1 710.3v5.5M428.5 706.6v3.6M428.9 704.7v5.9M429.4 708.7v6.1M429.8 710.1v6.6M430.2 711v5.2M430.6 707.1v3.9M431 709.8v7M431.5 707.9v4.1M431.9 711.5v3.2M432.3 709.9v7.2M432.7 712.4v3.3M433.1 707.7v4.7M433.6 710.5v3.3M434 711.2v6.9M434.4 709.2v6.4M434.8 708.6v5.6M435.2 706.8v6.3M435.7 709.3v4M436.1 709.9v6.9M436.5 707.3v7.1M436.9 707.9v4.6M437.3 709.3v6.5M437.8 706.3v5.8M438.2 709.4v4.4M438.6 709v4.7M439 704.7v6.4M439.4 712.1v3.9M439.9 709.6v6.5M440.3 712.1v4.9M440.7 708.5v5.5M441.1 709.5v6.7M441.5 704.9v6M442 705.3v5.7M442.4 711v5.9M442.8 710.8v6.7M443.2 706.8v6.1M443.6 710.2v6.8M444.1 711.7v6.4M444.5 711.8v5.8M444.9 708.2v3.3M445.3 706.6v5.3M445.7 711v4.9M446.2 706v6.7M446.6 707.2v5.3M447 709.1v4.6M447.4 708.9v3.7M447.8 712.1v4.3M448.3 706.2v3.8M448.7 706.9v5.7M449.1 710.5v4.2M449.5 710.8v3.6M449.9 704.7v6.7M450.4 711.5v5.8M450.8 710v4.8M451.2 703.6v6.9M451.6 706.8v6.2M452 708.3v4M452.5 705.5v7.5M452.9 710.2v7.4M453.3 706.9v3.4M453.7 707.5v3.8M454.1 711.1v4.1M454.6 708v6.1M455 705v6.4M455.4 708.7v5.8M455.8 706.2v7.6M456.2 709v5.4M456.7 707.4v7.5M457.1 708.1v7.1M457.5 710.1v3.4M457.9 709.3v5.3M458.3 705.3v5.5M458.8 712v3.7M459.2 706.7v3.4M459.6 709.4v3.3M460 708.9v7.5M460.4 711.1v4.9M460.9 708.1v7.1M461.3 708.2v4.6M461.7 703.7v7.3M462.1 707.2v4.3M462.5 709.9v4.3M463 704.1v7.2M463.4 710.7v5.8M463.8 707.9v4.7M464.2 711.2v4.1M464.6 711.1v4.1M465.1 708.3v4.8M465.5 706.4v5M465.9 708.2v6.9M466.3 708.1v6.4M466.7 709.1v4M467.2 707.7v4.4M467.6 706.8v4.8M468 705.3v5.6M468.4 707.2v3.6M468.8 711.5v5M469.3 707.6v3.7M469.7 711.3v5.6" stroke="#7070ff" stroke-width="0.45" opacity="0.9"/>
<path d="M379.8 730.7h0M380 733h0M380.2 735.7h0M380.4 734h0M380.6 729.4h0M380.8 734.7h0M381.1 729.8h0M381.3 733.5h0M381.5 732.6h0M381.7 730.6h0M381.9 730.9h0M382.1 728.9h0M382.3 730.9h0M382.5 728.4h0M382.7 734.5h0M382.9 736h0M383.2 732.1h0M383.4 732.6h0M383.6 734.9h0M383.8 732.8h0M384 731.6h0M384.2 731.9h0M384.4 730.4h0M384.6 734.4h0M384.8 733.9h0M385 730.1h0M385.3 733.1h0M385.5 730.5h0M385.7 734.3h0M385.9 734.8h0M386.1 731.8h0M386.3 730.4h0M386.5 733.9h0M386.7 730.8h0M386.9 734.8h0M387.1 732.8h0M387.4 730.5h0M387.6 728.4h0M387.8 735.7h0M388 735.9h0M388.2 729.3h0M388.4 734.9h0M388.6 732.7h0M388.8 732.3h0M389 731h0M389.2 735.2h0M389.5 731.3h0M389.7 733.7h0M389.9 732.5h0M390.1 734h0M390.3 735.9h0M390.5 731.5h0M390.7 732.2h0M390.9 732.5h0M391.1 733.3h0M391.3 732h0M391.6 732.2h0M391.8 728.6h0M392 732.6h0M392.2 731.8h0M392.4 732.5h0M392.6 735.3h0M392.8 732.1h0M393 728.7h0M393.2 734.9h0M393.4 729.7h0M393.7 733.7h0M393.9 730.9h0M394.1 734h0M394.3 734.8h0M394.5 731.7h0M394.7 728.4h0M394.9 734.4h0M395.1 730.4h0M395.3 728.7h0M395.5 735.7h0M395.8 735.8h0M396 731.7h0M396.2 735.3h0M396.4 732.6h0M396.6 733.3h0M396.8 728.7h0M397 729.3h0M397.2 735.6h0M397.4 730.2h0M397.6 731.2h0M397.9 734.1h0M398.1 734.5h0M398.3 729.6h0M398.5 732.6h0M398.7 732.8h0M398.9 730.9h0M399.1 730.6h0M399.3 734.2h0M399.5 731.5h0M399.7 733.7h0M400 731.8h0M400.2 731.9h0M400.4 731.3h0M400.6 735.5h0M400.8 733.5h0M401 730.3h0M401.2 730.3h0M401.4 731.9h0M401.6 730.4h0M401.8 728.5h0M402.1 730.7h0M402.3 729.6h0M402.5 726.1h0M402.7 724.9h0M402.9 713.3h0M403.1 711.5h0M403.3 704.9h0M403.5 704.5h0M403.7 703.8h0M403.9 704.2h0M404.2 695.9h0M404.4 700.3h0M404.6 689h0M404.8 686.8h0M405 674.7h0M405.2 674.1h0M405.4 669.4h0M405.6 673.6h0M405.8 671.8h0M406 671.2h0M406.3 675.5h0M406.5 673.6h0M406.7 680.5h0M406.9 682.1h0M407.1 685h0M407.3 681.2h0M407.5 693.3h0M407.7 696.8h0M407.9 696.4h0M408.1 698.4h0M408.4 698.3h0M408.6 697.6h0M408.8 707.6h0M409 707.7h0M409.2 709.6h0M409.4 710.3h0M409.6 713.7h0M409.8 711.6h0M410 707.4h0M410.2 713.3h0M410.5 710.4h0M410.7 707h0M410.9 709.5h0M411.1 711.4h0M411.3 710.8h0M411.5 710.8h0M411.7 711.9h0M411.9 710.4h0M412.1 706.6h0M412.3 706.7h0M412.6 707.9h0M412.8 712.8h0M413 707.3h0M413.2 707.7h0M413.4 709.3h0M413.6 714.5h0M413.8 711.8h0M414 711.7h0M414.2 706.6h0M414.4 709.7h0M414.7 709.8h0M414.9 707.1h0M415.1 714.1h0M415.3 714.6h0M415.5 707.2h0M415.7 706.5h0M415.9 713.4h0M416.1 714.8h0M416.3 707.6h0M416.5 709.2h0M416.8 707.5h0M417 708.5h0M417.2 707.1h0M417.4 709.9h0M417.6 708.7h0M417.8 713.3h0M418 714.1h0M418.2 714.8h0M418.4 708.3h0M418.6 714.9h0M418.9 712.4h0M419.1 712.5h0M419.3 712.5h0M419.5 714.5h0M419.7 708.4h0M419.9 709.3h0M420.1 710.3h0M420.3 710.7h0M420.5 707.1h0M420.7 710.9h0M421 708.7h0M421.2 714h0M421.4 709.2h0M421.6 711.8h0M421.8 712.2h0M422 707.7h0M422.2 711.9h0M422.4 708.8h0M422.6 707.3h0M422.8 713.7h0M423.1 711.8h0M423.3 715h0M423.5 713.4h0M423.7 709.9h0M423.9 711.6h0M424.1 708.9h0M424.3 707.2h0M424.5 708.3h0M424.7 714.3h0M424.9 707.9h0M425.2 707.5h0M425.4 711.8h0M425.6 709.9h0M425.8 710.4h0M426 714.3h0M426.2 709.9h0M426.4 710.6h0M426.6 714.4h0M426.8 709h0M427 711h0M427.3 708.3h0M427.5 712h0M427.7 714.2h0M427.9 707.7h0M428.1 713h0M428.3 712.5h0M428.5 708.4h0M428.7 709.1h0M428.9 707.7h0M429.1 712.2h0M429.4 711.8h0M429.6 713.5h0M429.8 713.4h0M430 710.2h0M430.2 713.6h0M430.4 710.4h0M430.6 709h0M430.8 712h0M431 713.3h0M431.2 714.1h0M431.5 710h0M431.7 709.1h0M431.9 713.1h0M432.1 711h0M432.3 713.5h0M432.5 713.4h0M432.7 714h0M432.9 713.7h0M433.1 710h0M433.3 708.4h0M433.6 712.2h0M433.8 707.1h0M434 714.6h0M434.2 709.4h0M434.4 712.3h0M434.6 712.3h0M434.8 711.4h0M435 715.1h0M435.2 710h0M435.4 708.4h0M435.7 711.3h0M435.9 715.2h0M436.1 713.3h0M436.3 711.2h0M436.5 710.9h0M436.7 714.3h0M436.9 710.2h0M437.1 709.9h0M437.3 712.6h0M437.5 714.8h0M437.8 709.2h0M438 712.8h0M438.2 711.6h0M438.4 714.7h0M438.6 711.3h0M438.8 711.3h0M439 707.9h0M439.2 710.7h0M439.4 714h0M439.6 708.9h0M439.9 712.9h0M440.1 707.6h0M440.3 714.6h0M440.5 707h0M440.7 711.3h0M440.9 709.5h0M441.1 712.8h0M441.3 713.8h0M441.5 707.9h0M441.7 711.5h0M442 708.2h0M442.2 713h0M442.4 714h0M442.6 707.4h0M442.8 714.2h0M443 708.1h0M443.2 709.9h0M443.4 707h0M443.6 713.6h0M443.8 710h0M444.1 714.9h0M444.3 712.4h0M444.5 714.8h0M444.7 709.7h0M444.9 709.9h0M445.1 709.5h0M445.3 709.2h0M445.5 715.4h0M445.7 713.5h0M445.9 708.5h0M446.2 709.3h0M446.4 708.2h0M446.6 709.8h0M446.8 708.1h0M447 711.4h0M447.2 710.3h0M447.4 710.7h0M447.6 707.1h0M447.8 714.2h0M448 710.6h0M448.3 708.1h0M448.5 711.9h0M448.7 709.8h0M448.9 706.8h0M449.1 712.6h0M449.3 712.9h0M449.5 712.6h0M449.7 708h0M449.9 708h0M450.1 708.2h0M450.4 714.4h0M450.6 709.3h0M450.8 712.4h0M451 713.1h0M451.2 707.1h0M451.4 715h0M451.6 709.9h0M451.8 707.4h0M452 710.3h0M452.2 714.2h0M452.5 709.2h0M452.7 715.4h0M452.9 713.9h0M453.1 708.6h0M453.3 708.6h0M453.5 715.5h0M453.7 709.4h0M453.9 708.3h0M454.1 713.2h0M454.3 710h0M454.6 711.1h0M454.8 708.5h0M455 708.2h0M455.2 706.5h0M455.4 711.6h0M455.6 713.7h0M455.8 710h0M456 708.9h0M456.2 711.7h0M456.4 710h0M456.7 711.1h0M456.9 714.2h0M457.1 711.7h0M457.3 707.5h0M457.5 711.8h0M457.7 714.9h0M457.9 712h0M458.1 712.6h0M458.3 708h0M458.5 708.5h0M458.8 713.8h0M459 714.1h0M459.2 708.4h0M459.4 711.7h0M459.6 711.1h0M459.8 709.7h0M460 712.7h0M460.2 708.8h0M460.4 713.6h0M460.6 710.3h0M460.9 711.6h0M461.1 711.6h0M461.3 710.5h0M461.5 712.2h0M461.7 707.4h0M461.9 708.4h0M462.1 709.3h0M462.3 709.8h0M462.5 712.1h0M462.7 708.2h0M463 707.7h0M463.2 712.7h0M463.4 713.6h0M463.6 713.8h0M463.8 710.3h0M464 713.8h0M464.2 713.2h0M464.4 708.4h0M464.6 713.1h0M464.8 713.3h0M465.1 710.7h0M465.3 708.6h0M465.5 708.9h0M465.7 709.2h0M465.9 711.7h0M466.1 710.9h0M466.3 711.3h0M466.5 708.2h0M466.7 711.2h0M466.9 712.3h0M467.2 709.9h0M467.4 711.7h0M467.6 709.2h0M467.8 707.5h0M468 708.1h0M468.2 707.3h0M468.4 709h0M468.6 713.9h0M468.8 714h0M469 714.9h0M469.3 709.4h0M469.5 707.5h0M469.7 714.1h0M469.9 710.2h0" stroke="#1f1fff" stroke-width="1.4" stroke-linecap="round"/>
<text font-size="5.7" text-anchor="middle" fill="#222" stroke="#222" stroke-width="0.1" transform="translate(504.9 674.4) scale(1 1.1)">Vehicle</text>
<line x1="489.6" y1="681.5" x2="489.6" y2="710.9" stroke="#aaa" stroke-width="0.4"/>
<path d="M485 681.5 L490 681.8 C492 684 493.6 708.3 495.4 708.3 C497.2 708.3 498.9 690.9 504.4 685.5 C510.4 682 519.9 681 525.9 681" stroke="#6a6a6a" stroke-width="0.6" fill="none"/>
<text font-size="5.7" text-anchor="middle" fill="#222" stroke="#222" stroke-width="0.1" transform="translate(551.9 668.6) scale(1 1.1)">VCD</text>
<text font-size="5.7" text-anchor="middle" fill="#222" stroke="#222" stroke-width="0.1" transform="translate(551.9 674.6) scale(1 1.1)">(E2:P4≥2.5 pg/ng)</text>
<line x1="534.1" y1="679.9" x2="534.1" y2="706.9" stroke="#aaa" stroke-width="0.4"/>
<path d="M529.5 679.9 L534.5 680.2 C536.5 682.4 539.1 699.5 540.9 699.5 C542.7 699.5 544.4 686.8 549.9 682.8 C555.9 680.4 566.8 677.8 572.8 677.8" stroke="#6a6a6a" stroke-width="0.6" fill="none"/>
<text font-size="5.7" text-anchor="middle" fill="#222" stroke="#222" stroke-width="0.1" transform="translate(505.5 725.9) scale(1 1.1)">VCD</text>
<text font-size="5.7" text-anchor="middle" fill="#222" stroke="#222" stroke-width="0.1" transform="translate(505.5 731.5) scale(1 1.1)">(E2:P4&lt;2.5 pg/ng)</text>
<line x1="490.2" y1="737.8" x2="490.2" y2="764.2" stroke="#aaa" stroke-width="0.4"/>
<path d="M485.6 737.8 L490.6 738.1 C492.6 740.3 493.6 762.2 495.4 762.2 C497.2 762.2 498.9 746.3 504.4 741.5 C510.4 738.3 519.9 735.5 525.9 735.5" stroke="#6a6a6a" stroke-width="0.6" fill="none"/>
<path d="M549.5 749.4 V755.4 H555.8" stroke="#333" stroke-width="0.6" fill="none"/>
<text x="547.6" y="752.4" font-size="2.2" text-anchor="middle" fill="#333" stroke="#333" stroke-width="0.1" transform="rotate(-90 547.6 752.4)">200 µV</text>
<text font-size="2.2" text-anchor="middle" fill="#333" stroke="#333" stroke-width="0.1" transform="translate(552.6 758.9) scale(1 1.1)">10 ms</text>
<text font-size="5.6" text-anchor="start" fill="#1a1a1a" stroke="#1a1a1a" stroke-width="0.1" font-style="italic" transform="translate(582 641.3) scale(1 1.1)">Treatment effect</text>
<text font-size="5.6" text-anchor="start" fill="#1a1a1a" stroke="#1a1a1a" stroke-width="0.1" font-style="italic" transform="translate(582 647.3) scale(1 1.1)">Vehicle vs. VCD (E2:P4&lt;2.5), p = n.s.</text>
<text font-size="5.6" text-anchor="start" fill="#1a1a1a" stroke="#1a1a1a" stroke-width="0.1" font-style="italic" transform="translate(582 653.3) scale(1 1.1)">Vehicle vs. VCD (E2:P4≥2.5), p = 0.003</text>
<line x1="624.3" y1="661.9" x2="624.3" y2="729" stroke="#3a3a3a" stroke-width="0.8"/>
<line x1="622.3" y1="661.9" x2="624.3" y2="661.9" stroke="#3a3a3a" stroke-width="0.7"/>
<text font-size="6.6" text-anchor="end" fill="#111" stroke="#111" stroke-width="0.1" transform="translate(621.1 664.3) scale(1 1.1)">2.0</text>
<line x1="622.3" y1="695.5" x2="624.3" y2="695.5" stroke="#3a3a3a" stroke-width="0.7"/>
<text font-size="6.6" text-anchor="end" fill="#111" stroke="#111" stroke-width="0.1" transform="translate(621.1 697.9) scale(1 1.1)">1.5</text>
<line x1="622.3" y1="728.8" x2="624.3" y2="728.8" stroke="#3a3a3a" stroke-width="0.7"/>
<text font-size="6.6" text-anchor="end" fill="#111" stroke="#111" stroke-width="0.1" transform="translate(621.1 731.2) scale(1 1.1)">1.0</text>
<line x1="624.3" y1="729" x2="665.8" y2="729" stroke="#3a3a3a" stroke-width="0.9"/>
<line x1="632.9" y1="708.7" x2="632.9" y2="675.3" stroke="#8c8cff" stroke-width="0.7"/>
<line x1="629.3" y1="692" x2="636.5" y2="692" stroke="#8c8cff" stroke-width="0.8"/>
<line x1="630.7" y1="675.3" x2="635.1" y2="675.3" stroke="#8c8cff" stroke-width="0.7"/>
<line x1="630.7" y1="708.7" x2="635.1" y2="708.7" stroke="#8c8cff" stroke-width="0.7"/>
<path d="M632.6 665.2h0M633.7 672.6h0M632.6 682h0M633.7 688.7h0M632.6 695.3h0M633.7 698.7h0M632.6 705.4h0M633.7 712.1h0" stroke="#1f1fff" stroke-width="2.1" stroke-linecap="round"/>
<line x1="632.9" y1="729" x2="632.9" y2="731" stroke="#3a3a3a" stroke-width="0.7"/>
<line x1="645.9" y1="714.4" x2="645.9" y2="693.7" stroke="#8fcf98" stroke-width="0.7"/>
<line x1="642.3" y1="704" x2="649.5" y2="704" stroke="#8fcf98" stroke-width="0.8"/>
<line x1="643.7" y1="693.7" x2="648.1" y2="693.7" stroke="#8fcf98" stroke-width="0.7"/>
<line x1="643.7" y1="714.4" x2="648.1" y2="714.4" stroke="#8fcf98" stroke-width="0.7"/>
<path d="M645.6 687.3h0M646.7 694h0M645.6 695.3h0M646.7 702h0M645.6 708.7h0M646.7 710.1h0M645.6 715.4h0M646.7 719.4h0" stroke="#3aa34a" stroke-width="2.1" stroke-linecap="round"/>
<line x1="645.9" y1="729" x2="645.9" y2="731" stroke="#3a3a3a" stroke-width="0.7"/>
<line x1="659.2" y1="726.8" x2="659.2" y2="705.4" stroke="#ff8a8a" stroke-width="0.7"/>
<line x1="655.6" y1="716.1" x2="662.8" y2="716.1" stroke="#ff8a8a" stroke-width="0.8"/>
<line x1="657" y1="705.4" x2="661.4" y2="705.4" stroke="#ff8a8a" stroke-width="0.7"/>
<line x1="657" y1="726.8" x2="661.4" y2="726.8" stroke="#ff8a8a" stroke-width="0.7"/>
<path d="M658.9 696h0M660 706.7h0M658.9 712.1h0M660 715.4h0M658.9 718.8h0M660 722.1h0M658.9 725.5h0M660 726.8h0" stroke="#ff2424" stroke-width="2.1" stroke-linecap="round"/>
<line x1="659.2" y1="729" x2="659.2" y2="731" stroke="#3a3a3a" stroke-width="0.7"/>
<text x="598.4" y="706.8" font-size="6" text-anchor="middle" fill="#111" stroke="#111" stroke-width="0.1" transform="rotate(-90 598.4 706.8)">Potentiation (Fold change</text>
<text x="605.4" y="706.8" font-size="6" text-anchor="middle" fill="#111" stroke="#111" stroke-width="0.1" transform="rotate(-90 605.4 706.8)">against baseline) (Cycle 14)</text>
<text x="634.5" y="734.8" font-size="6" text-anchor="end" fill="#111" stroke="#111" stroke-width="0.1" transform="rotate(-55 634.5 734.8)">Vehicle</text>
<text x="647.5" y="734.8" font-size="6" text-anchor="end" fill="#111" stroke="#111" stroke-width="0.1" transform="rotate(-55 647.5 734.8)">VCD (E2:P4&lt;2.5 pg/ng)</text>
<text x="660.8" y="734.8" font-size="6" text-anchor="end" fill="#111" stroke="#111" stroke-width="0.1" transform="rotate(-55 660.8 734.8)">VCD (E2:P4≥2.5 pg/ng)</text></svg></body></html>
